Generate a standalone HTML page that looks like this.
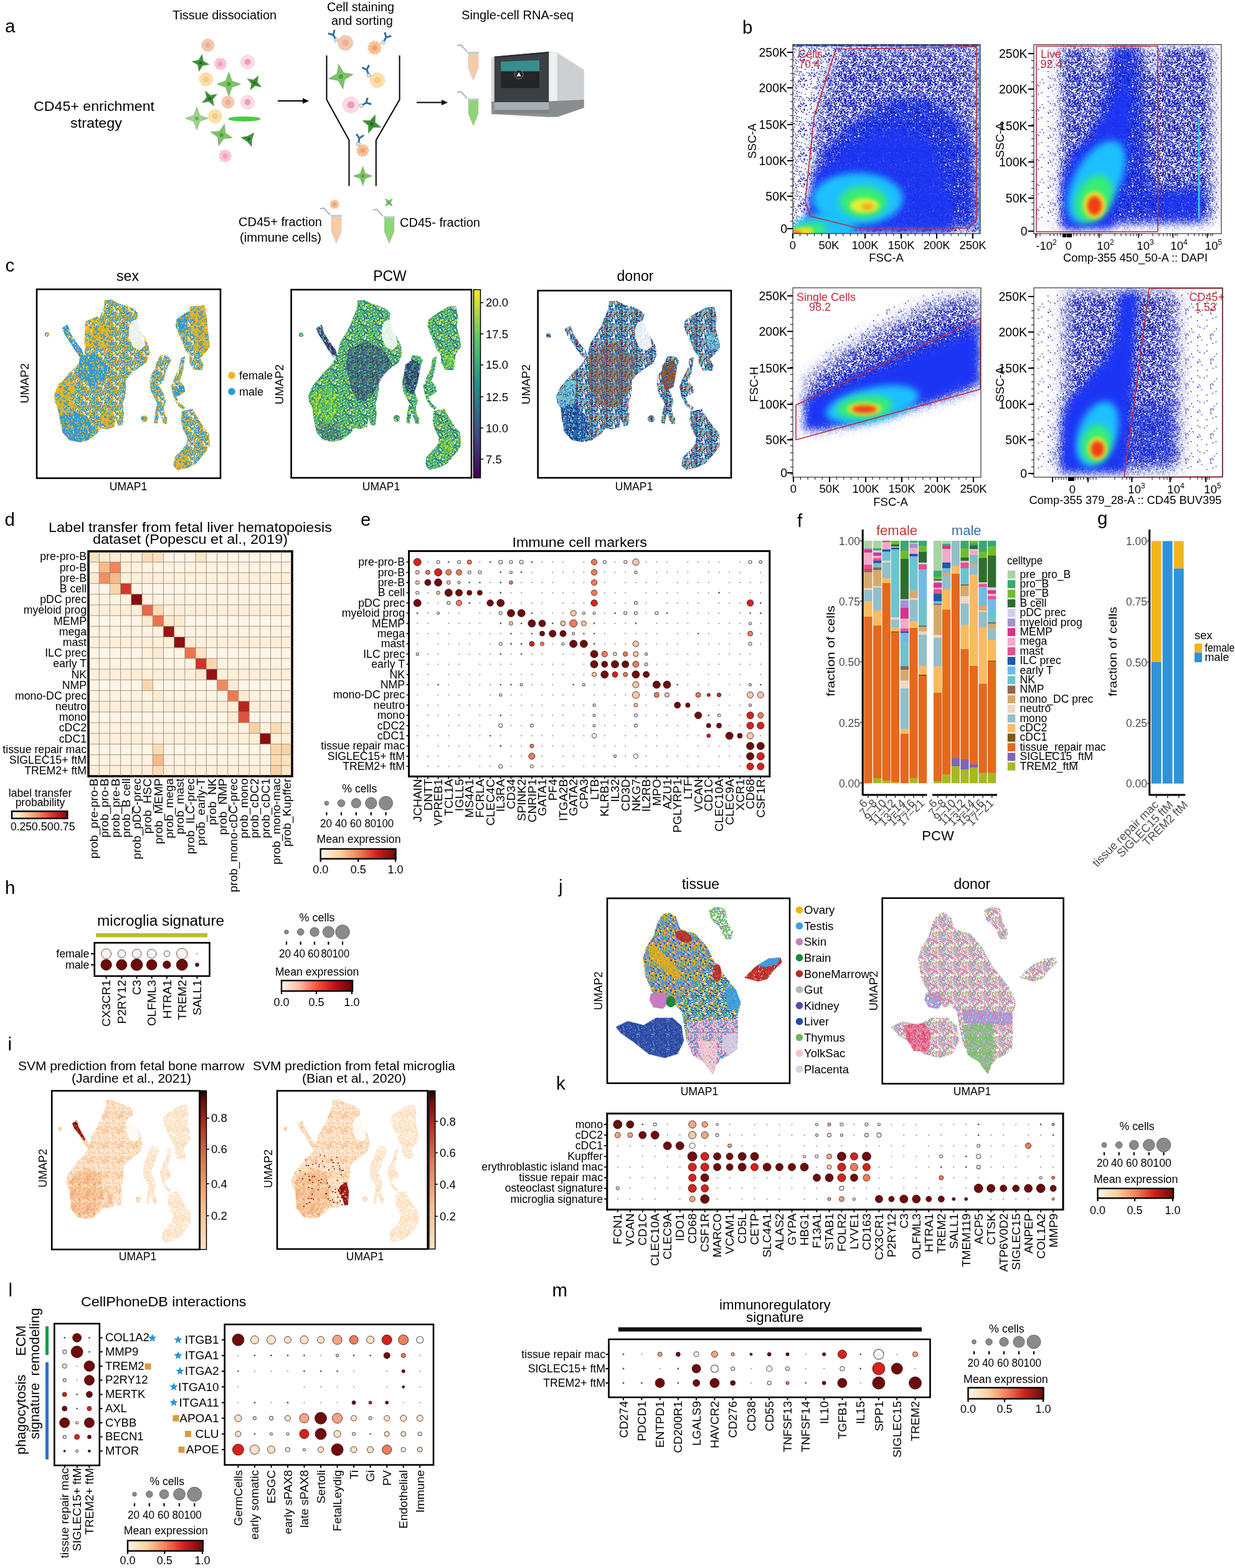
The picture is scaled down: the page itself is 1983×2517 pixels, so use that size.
<!DOCTYPE html>
<html><head><meta charset="utf-8"><title>Figure</title>
<style>html,body{margin:0;padding:0;background:#fff;} svg{display:block;}</style></head>
<body><svg width="1983" height="2517" viewBox="0 0 1983 2517" font-family="'Liberation Sans', Arial, Helvetica, sans-serif">
<defs><linearGradient id="gOrRd" x1="0" y1="0" x2="1" y2="0"><stop offset="0" stop-color="#fff7ec"/><stop offset="0.25" stop-color="#fdd49e"/><stop offset="0.5" stop-color="#f4875a"/><stop offset="0.75" stop-color="#d42b1e"/><stop offset="1.0" stop-color="#6e0a0a"/></linearGradient><linearGradient id="gReds" x1="0" y1="0" x2="1" y2="0"><stop offset="0" stop-color="#fff5f0"/><stop offset="0.3" stop-color="#fcb09a"/><stop offset="0.6" stop-color="#ef4a36"/><stop offset="0.85" stop-color="#b11217"/><stop offset="1.0" stop-color="#5e0a0a"/></linearGradient><pattern id="sp0" width="40" height="40" patternUnits="userSpaceOnUse"><path d="M13.0 6.0h1.5v1.5h-1.5zM2.9 21.4h1.5v1.5h-1.5zM2.3 20.3h1.5v1.5h-1.5zM17.3 2.8h1.5v1.5h-1.5zM17.0 33.1h1.5v1.5h-1.5zM1.9 34.3h1.5v1.5h-1.5zM5.8 4.7h1.5v1.5h-1.5zM32.6 7.2h1.5v1.5h-1.5zM25.6 14.9h1.5v1.5h-1.5zM2.5 2.4h1.5v1.5h-1.5zM27.2 17.1h1.5v1.5h-1.5zM23.4 18.1h1.5v1.5h-1.5zM31.8 28.0h1.5v1.5h-1.5zM6.1 19.6h1.5v1.5h-1.5zM26.7 30.6h1.5v1.5h-1.5zM35.0 12.5h1.5v1.5h-1.5zM23.8 23.2h1.5v1.5h-1.5z" fill="#10108c"/><path d="M8.9 25.1h1.5v1.5h-1.5zM23.1 15.9h1.5v1.5h-1.5zM23.0 21.0h1.5v1.5h-1.5zM29.2 11.5h1.5v1.5h-1.5zM4.7 16.7h1.5v1.5h-1.5z" fill="#1a2ad0"/></pattern><pattern id="sp1" width="40" height="40" patternUnits="userSpaceOnUse"><path d="M33.6 37.8h1.5v1.5h-1.5zM11.4 15.4h1.5v1.5h-1.5zM0.9 18.5h1.5v1.5h-1.5zM5.2 9.9h1.5v1.5h-1.5zM34.9 3.2h1.5v1.5h-1.5zM34.6 11.1h1.5v1.5h-1.5zM6.0 7.0h1.5v1.5h-1.5zM9.3 19.4h1.5v1.5h-1.5zM10.5 0.2h1.5v1.5h-1.5zM27.6 20.6h1.5v1.5h-1.5zM15.7 16.0h1.5v1.5h-1.5zM25.4 2.5h1.5v1.5h-1.5zM8.4 6.5h1.5v1.5h-1.5zM2.1 0.0h1.5v1.5h-1.5zM4.1 14.5h1.5v1.5h-1.5zM35.0 24.6h1.5v1.5h-1.5zM10.1 13.9h1.5v1.5h-1.5zM18.6 19.4h1.5v1.5h-1.5zM4.1 13.7h1.5v1.5h-1.5zM33.2 6.5h1.5v1.5h-1.5zM38.0 21.1h1.5v1.5h-1.5zM21.7 1.1h1.5v1.5h-1.5zM39.1 34.5h1.5v1.5h-1.5zM-0.9 34.5h1.5v1.5h-1.5zM10.4 14.7h1.5v1.5h-1.5zM32.7 29.6h1.5v1.5h-1.5zM20.7 14.2h1.5v1.5h-1.5zM1.1 11.2h1.5v1.5h-1.5zM27.7 38.3h1.5v1.5h-1.5zM14.6 8.8h1.5v1.5h-1.5zM7.9 8.2h1.5v1.5h-1.5zM36.0 33.6h1.5v1.5h-1.5zM26.1 32.0h1.5v1.5h-1.5zM30.0 19.1h1.5v1.5h-1.5zM38.9 15.8h1.5v1.5h-1.5zM-1.1 15.8h1.5v1.5h-1.5zM37.9 29.0h1.5v1.5h-1.5zM39.2 26.3h1.5v1.5h-1.5zM-0.8 26.3h1.5v1.5h-1.5zM21.9 5.2h1.5v1.5h-1.5zM38.8 26.0h1.5v1.5h-1.5zM-1.2 26.0h1.5v1.5h-1.5zM33.0 8.4h1.5v1.5h-1.5zM11.7 9.6h1.5v1.5h-1.5zM10.4 16.8h1.5v1.5h-1.5zM36.4 14.2h1.5v1.5h-1.5zM23.3 36.2h1.5v1.5h-1.5zM36.7 20.1h1.5v1.5h-1.5zM20.9 0.7h1.5v1.5h-1.5zM22.3 13.0h1.5v1.5h-1.5zM22.2 31.4h1.5v1.5h-1.5zM22.4 9.9h1.5v1.5h-1.5zM30.9 20.3h1.5v1.5h-1.5zM30.4 36.5h1.5v1.5h-1.5zM24.5 20.2h1.5v1.5h-1.5zM27.7 18.1h1.5v1.5h-1.5zM19.1 37.7h1.5v1.5h-1.5zM35.1 37.7h1.5v1.5h-1.5zM5.5 4.9h1.5v1.5h-1.5zM2.9 9.6h1.5v1.5h-1.5zM6.2 28.6h1.5v1.5h-1.5zM8.8 38.1h1.5v1.5h-1.5zM6.5 17.3h1.5v1.5h-1.5zM13.6 7.8h1.5v1.5h-1.5zM28.9 0.8h1.5v1.5h-1.5zM17.6 0.7h1.5v1.5h-1.5zM25.0 20.5h1.5v1.5h-1.5zM4.2 10.6h1.5v1.5h-1.5zM31.2 10.8h1.5v1.5h-1.5zM22.8 28.0h1.5v1.5h-1.5zM2.3 27.5h1.5v1.5h-1.5zM2.9 37.5h1.5v1.5h-1.5zM2.7 34.5h1.5v1.5h-1.5zM10.7 5.2h1.5v1.5h-1.5zM9.5 4.4h1.5v1.5h-1.5zM2.0 8.1h1.5v1.5h-1.5zM12.2 30.4h1.5v1.5h-1.5zM20.0 7.1h1.5v1.5h-1.5zM0.7 10.0h1.5v1.5h-1.5zM29.3 22.0h1.5v1.5h-1.5zM19.0 37.4h1.5v1.5h-1.5zM32.8 17.3h1.5v1.5h-1.5zM33.4 15.7h1.5v1.5h-1.5zM27.5 39.3h1.5v1.5h-1.5zM27.5 -0.7h1.5v1.5h-1.5zM33.3 28.3h1.5v1.5h-1.5z" fill="#10108c"/><path d="M26.6 2.4h1.5v1.5h-1.5zM25.9 39.7h1.5v1.5h-1.5zM25.9 -0.3h1.5v1.5h-1.5zM4.7 2.4h1.5v1.5h-1.5zM22.0 35.3h1.5v1.5h-1.5zM14.4 35.4h1.5v1.5h-1.5zM14.8 22.7h1.5v1.5h-1.5zM27.0 2.2h1.5v1.5h-1.5zM31.2 35.0h1.5v1.5h-1.5zM4.9 34.0h1.5v1.5h-1.5zM30.9 21.3h1.5v1.5h-1.5zM13.2 8.9h1.5v1.5h-1.5zM39.4 34.1h1.5v1.5h-1.5zM-0.6 34.1h1.5v1.5h-1.5zM37.5 39.5h1.5v1.5h-1.5zM37.5 -0.5h1.5v1.5h-1.5zM26.4 36.4h1.5v1.5h-1.5zM31.6 13.3h1.5v1.5h-1.5zM5.1 6.0h1.5v1.5h-1.5zM32.3 5.8h1.5v1.5h-1.5zM37.3 17.4h1.5v1.5h-1.5zM7.3 0.2h1.5v1.5h-1.5zM6.9 18.9h1.5v1.5h-1.5zM22.4 37.7h1.5v1.5h-1.5zM26.8 31.4h1.5v1.5h-1.5zM5.7 35.3h1.5v1.5h-1.5zM19.5 39.6h1.5v1.5h-1.5zM19.5 -0.4h1.5v1.5h-1.5zM39.4 31.5h1.5v1.5h-1.5zM-0.6 31.5h1.5v1.5h-1.5zM16.9 36.5h1.5v1.5h-1.5zM10.3 6.0h1.5v1.5h-1.5zM32.1 3.3h1.5v1.5h-1.5zM13.6 22.1h1.5v1.5h-1.5z" fill="#1a2ad0"/></pattern><pattern id="sp2" width="40" height="40" patternUnits="userSpaceOnUse"><path d="M16.2 13.9h1.6v1.6h-1.6zM10.2 6.5h1.6v1.6h-1.6zM33.7 34.8h1.6v1.6h-1.6zM11.3 9.7h1.6v1.6h-1.6zM18.4 6.3h1.6v1.6h-1.6zM12.4 14.3h1.6v1.6h-1.6zM15.3 19.0h1.6v1.6h-1.6zM8.0 20.2h1.6v1.6h-1.6zM10.6 3.6h1.6v1.6h-1.6zM1.7 0.9h1.6v1.6h-1.6zM9.3 23.4h1.6v1.6h-1.6zM35.2 15.6h1.6v1.6h-1.6zM32.5 5.6h1.6v1.6h-1.6zM27.3 27.7h1.6v1.6h-1.6zM1.2 5.3h1.6v1.6h-1.6zM4.2 33.4h1.6v1.6h-1.6zM25.1 25.0h1.6v1.6h-1.6zM29.9 20.1h1.6v1.6h-1.6zM10.1 3.0h1.6v1.6h-1.6zM39.0 19.8h1.6v1.6h-1.6zM-1.0 19.8h1.6v1.6h-1.6zM24.7 25.7h1.6v1.6h-1.6zM12.2 22.7h1.6v1.6h-1.6zM2.4 10.8h1.6v1.6h-1.6zM27.7 27.0h1.6v1.6h-1.6zM20.7 18.6h1.6v1.6h-1.6zM4.7 35.7h1.6v1.6h-1.6zM39.1 37.5h1.6v1.6h-1.6zM-0.9 37.5h1.6v1.6h-1.6zM18.0 10.7h1.6v1.6h-1.6zM37.8 8.4h1.6v1.6h-1.6zM5.3 32.8h1.6v1.6h-1.6zM35.5 28.1h1.6v1.6h-1.6zM35.9 19.4h1.6v1.6h-1.6zM0.1 19.7h1.6v1.6h-1.6zM12.1 5.6h1.6v1.6h-1.6zM12.6 33.6h1.6v1.6h-1.6zM30.0 33.6h1.6v1.6h-1.6zM11.6 14.9h1.6v1.6h-1.6zM40.0 23.6h1.6v1.6h-1.6zM-0.0 23.6h1.6v1.6h-1.6zM17.1 11.0h1.6v1.6h-1.6zM4.1 33.4h1.6v1.6h-1.6zM37.4 10.0h1.6v1.6h-1.6zM20.4 7.6h1.6v1.6h-1.6zM22.0 28.8h1.6v1.6h-1.6zM25.8 11.4h1.6v1.6h-1.6zM37.1 5.1h1.6v1.6h-1.6zM39.1 10.4h1.6v1.6h-1.6zM-0.9 10.4h1.6v1.6h-1.6zM12.0 22.3h1.6v1.6h-1.6zM6.7 6.5h1.6v1.6h-1.6zM36.2 19.9h1.6v1.6h-1.6zM36.3 39.9h1.6v1.6h-1.6zM36.3 -0.1h1.6v1.6h-1.6zM5.6 7.7h1.6v1.6h-1.6zM13.7 3.6h1.6v1.6h-1.6zM30.0 16.5h1.6v1.6h-1.6zM21.0 15.1h1.6v1.6h-1.6zM5.0 20.1h1.6v1.6h-1.6zM34.5 8.6h1.6v1.6h-1.6zM9.9 16.0h1.6v1.6h-1.6zM35.8 18.9h1.6v1.6h-1.6zM9.9 4.4h1.6v1.6h-1.6zM18.3 22.1h1.6v1.6h-1.6zM25.8 12.2h1.6v1.6h-1.6zM10.1 25.5h1.6v1.6h-1.6zM4.5 2.8h1.6v1.6h-1.6zM23.3 15.5h1.6v1.6h-1.6zM24.0 0.4h1.6v1.6h-1.6zM18.4 38.4h1.6v1.6h-1.6zM35.4 19.0h1.6v1.6h-1.6zM12.3 0.9h1.6v1.6h-1.6zM27.0 16.8h1.6v1.6h-1.6zM26.7 37.0h1.6v1.6h-1.6zM1.4 13.5h1.6v1.6h-1.6zM29.6 20.2h1.6v1.6h-1.6zM11.8 38.1h1.6v1.6h-1.6zM7.5 8.9h1.6v1.6h-1.6zM26.6 38.0h1.6v1.6h-1.6zM5.7 2.1h1.6v1.6h-1.6zM29.9 1.3h1.6v1.6h-1.6zM15.1 15.0h1.6v1.6h-1.6zM6.8 0.1h1.6v1.6h-1.6zM14.1 38.2h1.6v1.6h-1.6zM38.6 8.3h1.6v1.6h-1.6zM-1.4 8.3h1.6v1.6h-1.6zM32.9 32.9h1.6v1.6h-1.6zM2.0 18.9h1.6v1.6h-1.6zM36.8 7.7h1.6v1.6h-1.6zM35.9 1.2h1.6v1.6h-1.6zM32.5 30.7h1.6v1.6h-1.6zM12.7 11.0h1.6v1.6h-1.6zM30.2 36.7h1.6v1.6h-1.6zM37.7 1.0h1.6v1.6h-1.6zM15.5 10.0h1.6v1.6h-1.6zM19.7 37.1h1.6v1.6h-1.6zM30.9 24.3h1.6v1.6h-1.6zM9.9 2.6h1.6v1.6h-1.6zM35.3 39.5h1.6v1.6h-1.6zM35.3 -0.5h1.6v1.6h-1.6zM3.4 3.9h1.6v1.6h-1.6zM28.4 17.9h1.6v1.6h-1.6zM16.7 24.8h1.6v1.6h-1.6zM29.9 33.9h1.6v1.6h-1.6zM4.8 33.6h1.6v1.6h-1.6zM8.0 9.9h1.6v1.6h-1.6zM6.1 35.4h1.6v1.6h-1.6zM26.1 39.6h1.6v1.6h-1.6zM26.1 -0.4h1.6v1.6h-1.6zM36.6 1.6h1.6v1.6h-1.6zM23.3 37.2h1.6v1.6h-1.6zM34.6 18.0h1.6v1.6h-1.6zM31.1 37.8h1.6v1.6h-1.6zM23.8 24.8h1.6v1.6h-1.6zM14.7 5.7h1.6v1.6h-1.6zM10.2 24.0h1.6v1.6h-1.6zM8.1 0.5h1.6v1.6h-1.6zM27.1 7.4h1.6v1.6h-1.6zM8.1 31.8h1.6v1.6h-1.6zM2.5 4.1h1.6v1.6h-1.6zM22.0 25.6h1.6v1.6h-1.6zM6.5 27.8h1.6v1.6h-1.6zM12.5 22.7h1.6v1.6h-1.6zM17.0 32.8h1.6v1.6h-1.6zM35.3 18.4h1.6v1.6h-1.6zM0.6 22.1h1.6v1.6h-1.6zM36.4 3.6h1.6v1.6h-1.6zM14.8 20.2h1.6v1.6h-1.6zM38.7 7.9h1.6v1.6h-1.6zM-1.3 7.9h1.6v1.6h-1.6zM37.7 39.0h1.6v1.6h-1.6zM37.7 -1.0h1.6v1.6h-1.6zM2.1 37.0h1.6v1.6h-1.6zM6.4 31.4h1.6v1.6h-1.6zM7.3 8.7h1.6v1.6h-1.6zM20.7 15.3h1.6v1.6h-1.6zM1.5 33.5h1.6v1.6h-1.6zM24.0 22.0h1.6v1.6h-1.6zM12.2 16.8h1.6v1.6h-1.6zM17.0 26.4h1.6v1.6h-1.6zM17.5 0.9h1.6v1.6h-1.6zM31.2 18.3h1.6v1.6h-1.6zM18.9 4.3h1.6v1.6h-1.6zM17.2 3.7h1.6v1.6h-1.6zM20.4 1.6h1.6v1.6h-1.6zM20.5 2.2h1.6v1.6h-1.6zM15.1 38.0h1.6v1.6h-1.6zM6.4 35.9h1.6v1.6h-1.6zM32.6 5.7h1.6v1.6h-1.6zM36.8 8.3h1.6v1.6h-1.6zM20.2 12.8h1.6v1.6h-1.6zM27.2 35.8h1.6v1.6h-1.6zM31.4 4.6h1.6v1.6h-1.6zM4.2 39.7h1.6v1.6h-1.6zM4.2 -0.3h1.6v1.6h-1.6zM15.8 31.9h1.6v1.6h-1.6zM39.6 23.1h1.6v1.6h-1.6zM-0.4 23.1h1.6v1.6h-1.6zM30.6 17.7h1.6v1.6h-1.6zM23.4 26.5h1.6v1.6h-1.6zM0.1 1.4h1.6v1.6h-1.6zM24.6 17.3h1.6v1.6h-1.6zM35.8 5.3h1.6v1.6h-1.6zM26.1 0.9h1.6v1.6h-1.6zM14.2 4.3h1.6v1.6h-1.6zM9.0 23.3h1.6v1.6h-1.6zM8.2 25.0h1.6v1.6h-1.6zM5.4 37.5h1.6v1.6h-1.6zM6.0 3.8h1.6v1.6h-1.6zM34.9 31.3h1.6v1.6h-1.6zM10.6 0.5h1.6v1.6h-1.6zM22.5 14.0h1.6v1.6h-1.6zM9.9 36.1h1.6v1.6h-1.6zM21.3 16.2h1.6v1.6h-1.6zM2.3 31.2h1.6v1.6h-1.6zM22.0 37.6h1.6v1.6h-1.6zM8.0 24.3h1.6v1.6h-1.6zM25.7 32.5h1.6v1.6h-1.6zM12.4 12.0h1.6v1.6h-1.6zM18.6 29.7h1.6v1.6h-1.6zM9.0 4.2h1.6v1.6h-1.6zM10.6 22.2h1.6v1.6h-1.6zM31.5 20.9h1.6v1.6h-1.6zM25.7 38.6h1.6v1.6h-1.6zM25.7 -1.4h1.6v1.6h-1.6zM35.2 0.6h1.6v1.6h-1.6zM25.2 27.7h1.6v1.6h-1.6zM27.9 34.3h1.6v1.6h-1.6zM29.0 22.8h1.6v1.6h-1.6zM8.5 24.9h1.6v1.6h-1.6zM36.4 5.8h1.6v1.6h-1.6zM4.3 37.2h1.6v1.6h-1.6zM5.7 1.1h1.6v1.6h-1.6zM27.7 25.4h1.6v1.6h-1.6zM29.5 2.6h1.6v1.6h-1.6zM36.6 37.8h1.6v1.6h-1.6zM8.2 4.5h1.6v1.6h-1.6zM33.9 32.5h1.6v1.6h-1.6zM33.0 25.3h1.6v1.6h-1.6zM8.2 12.8h1.6v1.6h-1.6zM0.8 10.3h1.6v1.6h-1.6zM28.6 14.7h1.6v1.6h-1.6zM24.7 1.2h1.6v1.6h-1.6zM17.5 30.9h1.6v1.6h-1.6zM28.2 21.5h1.6v1.6h-1.6zM6.8 0.1h1.6v1.6h-1.6zM30.5 39.1h1.6v1.6h-1.6zM30.5 -0.9h1.6v1.6h-1.6zM7.4 19.8h1.6v1.6h-1.6zM11.3 8.6h1.6v1.6h-1.6zM19.9 4.4h1.6v1.6h-1.6zM3.2 31.5h1.6v1.6h-1.6zM31.5 25.1h1.6v1.6h-1.6zM3.4 35.5h1.6v1.6h-1.6zM9.3 18.4h1.6v1.6h-1.6zM30.2 30.1h1.6v1.6h-1.6zM13.9 13.1h1.6v1.6h-1.6zM23.2 5.0h1.6v1.6h-1.6zM35.4 9.5h1.6v1.6h-1.6zM6.2 6.2h1.6v1.6h-1.6zM13.1 20.9h1.6v1.6h-1.6zM31.8 29.3h1.6v1.6h-1.6zM7.8 25.5h1.6v1.6h-1.6zM8.3 15.5h1.6v1.6h-1.6zM16.0 31.6h1.6v1.6h-1.6zM20.0 25.3h1.6v1.6h-1.6zM5.7 24.1h1.6v1.6h-1.6zM29.6 36.3h1.6v1.6h-1.6zM23.0 30.0h1.6v1.6h-1.6zM27.2 25.7h1.6v1.6h-1.6zM12.5 25.1h1.6v1.6h-1.6zM25.2 10.0h1.6v1.6h-1.6zM18.2 24.9h1.6v1.6h-1.6zM27.0 37.2h1.6v1.6h-1.6zM26.2 31.1h1.6v1.6h-1.6zM19.6 39.0h1.6v1.6h-1.6zM19.6 -1.0h1.6v1.6h-1.6zM37.6 20.8h1.6v1.6h-1.6zM8.4 27.4h1.6v1.6h-1.6zM14.2 2.3h1.6v1.6h-1.6zM16.0 0.5h1.6v1.6h-1.6zM16.8 27.9h1.6v1.6h-1.6zM37.6 21.1h1.6v1.6h-1.6zM32.1 15.7h1.6v1.6h-1.6zM25.4 18.8h1.6v1.6h-1.6zM9.0 38.6h1.6v1.6h-1.6zM9.0 -1.4h1.6v1.6h-1.6zM18.7 11.8h1.6v1.6h-1.6zM5.0 33.3h1.6v1.6h-1.6zM34.0 10.7h1.6v1.6h-1.6zM10.1 17.0h1.6v1.6h-1.6zM0.1 28.9h1.6v1.6h-1.6zM9.8 12.1h1.6v1.6h-1.6zM17.1 25.5h1.6v1.6h-1.6zM25.3 0.6h1.6v1.6h-1.6zM38.1 26.2h1.6v1.6h-1.6zM4.1 5.7h1.6v1.6h-1.6zM31.1 13.9h1.6v1.6h-1.6zM36.2 31.7h1.6v1.6h-1.6zM33.6 7.9h1.6v1.6h-1.6zM21.2 29.7h1.6v1.6h-1.6zM35.3 22.2h1.6v1.6h-1.6zM9.4 5.6h1.6v1.6h-1.6zM2.3 18.7h1.6v1.6h-1.6zM19.7 19.9h1.6v1.6h-1.6zM18.7 22.5h1.6v1.6h-1.6zM33.6 15.0h1.6v1.6h-1.6zM38.4 3.0h1.6v1.6h-1.6zM-1.6 3.0h1.6v1.6h-1.6zM25.4 1.1h1.6v1.6h-1.6zM27.3 37.3h1.6v1.6h-1.6zM39.3 20.4h1.6v1.6h-1.6zM-0.7 20.4h1.6v1.6h-1.6zM14.6 19.0h1.6v1.6h-1.6zM30.8 8.4h1.6v1.6h-1.6zM11.7 33.1h1.6v1.6h-1.6zM20.1 10.9h1.6v1.6h-1.6zM13.2 12.7h1.6v1.6h-1.6zM21.8 2.0h1.6v1.6h-1.6zM36.4 24.5h1.6v1.6h-1.6zM25.1 27.9h1.6v1.6h-1.6zM27.2 8.5h1.6v1.6h-1.6zM18.3 30.5h1.6v1.6h-1.6zM36.6 26.2h1.6v1.6h-1.6zM32.9 31.5h1.6v1.6h-1.6zM10.3 12.1h1.6v1.6h-1.6zM12.7 17.2h1.6v1.6h-1.6zM37.4 2.2h1.6v1.6h-1.6zM23.0 36.7h1.6v1.6h-1.6zM0.6 15.5h1.6v1.6h-1.6zM37.5 39.2h1.6v1.6h-1.6zM37.5 -0.8h1.6v1.6h-1.6zM16.5 4.1h1.6v1.6h-1.6zM8.5 6.1h1.6v1.6h-1.6zM0.2 27.4h1.6v1.6h-1.6zM9.7 29.3h1.6v1.6h-1.6zM34.2 29.2h1.6v1.6h-1.6zM25.1 28.4h1.6v1.6h-1.6zM28.7 0.5h1.6v1.6h-1.6zM26.0 32.7h1.6v1.6h-1.6zM12.4 29.2h1.6v1.6h-1.6zM34.4 19.5h1.6v1.6h-1.6zM14.7 23.0h1.6v1.6h-1.6zM14.5 25.8h1.6v1.6h-1.6zM37.8 31.4h1.6v1.6h-1.6z" fill="#10109a"/><path d="M5.2 2.8h1.6v1.6h-1.6zM10.5 38.5h1.6v1.6h-1.6zM10.5 -1.5h1.6v1.6h-1.6zM21.9 9.8h1.6v1.6h-1.6zM30.0 26.3h1.6v1.6h-1.6zM39.4 6.0h1.6v1.6h-1.6zM-0.6 6.0h1.6v1.6h-1.6zM25.7 1.8h1.6v1.6h-1.6zM35.7 25.1h1.6v1.6h-1.6zM20.2 33.4h1.6v1.6h-1.6zM33.1 23.4h1.6v1.6h-1.6zM19.6 0.1h1.6v1.6h-1.6zM26.4 2.6h1.6v1.6h-1.6zM29.2 8.2h1.6v1.6h-1.6zM19.2 27.3h1.6v1.6h-1.6zM5.9 10.2h1.6v1.6h-1.6zM18.4 32.8h1.6v1.6h-1.6zM5.7 21.0h1.6v1.6h-1.6zM37.1 28.5h1.6v1.6h-1.6zM38.2 35.4h1.6v1.6h-1.6zM25.2 36.5h1.6v1.6h-1.6zM29.3 18.0h1.6v1.6h-1.6zM13.7 11.9h1.6v1.6h-1.6zM10.3 22.8h1.6v1.6h-1.6zM2.5 11.1h1.6v1.6h-1.6zM38.2 33.9h1.6v1.6h-1.6zM0.9 1.3h1.6v1.6h-1.6zM0.0 15.7h1.6v1.6h-1.6zM33.0 34.2h1.6v1.6h-1.6zM20.9 27.3h1.6v1.6h-1.6zM28.9 25.9h1.6v1.6h-1.6zM31.3 9.3h1.6v1.6h-1.6zM9.9 38.4h1.6v1.6h-1.6zM9.9 -1.6h1.6v1.6h-1.6zM27.3 7.9h1.6v1.6h-1.6zM38.8 12.5h1.6v1.6h-1.6zM-1.2 12.5h1.6v1.6h-1.6zM9.2 8.9h1.6v1.6h-1.6zM15.7 8.5h1.6v1.6h-1.6zM15.7 35.9h1.6v1.6h-1.6zM29.3 39.9h1.6v1.6h-1.6zM29.3 -0.1h1.6v1.6h-1.6zM13.2 7.4h1.6v1.6h-1.6zM1.4 2.5h1.6v1.6h-1.6zM10.3 29.9h1.6v1.6h-1.6zM13.6 10.9h1.6v1.6h-1.6zM24.7 10.5h1.6v1.6h-1.6zM19.0 38.3h1.6v1.6h-1.6zM32.1 29.5h1.6v1.6h-1.6zM12.8 14.5h1.6v1.6h-1.6zM3.2 7.9h1.6v1.6h-1.6zM22.1 13.0h1.6v1.6h-1.6zM22.7 14.9h1.6v1.6h-1.6zM13.1 15.8h1.6v1.6h-1.6zM20.3 9.3h1.6v1.6h-1.6zM19.0 32.8h1.6v1.6h-1.6zM4.8 7.6h1.6v1.6h-1.6zM11.3 12.3h1.6v1.6h-1.6zM16.7 34.6h1.6v1.6h-1.6zM14.6 7.9h1.6v1.6h-1.6zM8.1 0.2h1.6v1.6h-1.6zM11.3 20.8h1.6v1.6h-1.6zM4.4 19.6h1.6v1.6h-1.6zM36.2 24.8h1.6v1.6h-1.6zM16.2 33.9h1.6v1.6h-1.6zM9.9 29.0h1.6v1.6h-1.6zM1.6 22.5h1.6v1.6h-1.6zM19.6 9.4h1.6v1.6h-1.6zM3.3 29.3h1.6v1.6h-1.6zM34.3 39.8h1.6v1.6h-1.6zM34.3 -0.2h1.6v1.6h-1.6zM32.6 7.7h1.6v1.6h-1.6zM19.7 38.3h1.6v1.6h-1.6zM6.6 31.5h1.6v1.6h-1.6zM2.6 14.0h1.6v1.6h-1.6zM7.3 6.4h1.6v1.6h-1.6zM25.5 14.4h1.6v1.6h-1.6zM22.2 23.2h1.6v1.6h-1.6zM29.7 1.9h1.6v1.6h-1.6zM10.1 25.6h1.6v1.6h-1.6zM17.8 37.5h1.6v1.6h-1.6zM35.6 31.3h1.6v1.6h-1.6zM0.3 33.8h1.6v1.6h-1.6zM1.6 13.4h1.6v1.6h-1.6zM27.8 33.8h1.6v1.6h-1.6zM9.4 29.8h1.6v1.6h-1.6zM29.8 13.1h1.6v1.6h-1.6zM13.1 9.6h1.6v1.6h-1.6zM39.2 18.8h1.6v1.6h-1.6zM-0.8 18.8h1.6v1.6h-1.6zM14.5 32.7h1.6v1.6h-1.6zM35.7 2.6h1.6v1.6h-1.6zM4.0 3.9h1.6v1.6h-1.6zM38.6 20.1h1.6v1.6h-1.6zM-1.4 20.1h1.6v1.6h-1.6zM34.5 3.6h1.6v1.6h-1.6zM19.6 19.7h1.6v1.6h-1.6zM33.3 10.4h1.6v1.6h-1.6zM16.1 15.8h1.6v1.6h-1.6zM8.2 10.5h1.6v1.6h-1.6zM20.0 15.2h1.6v1.6h-1.6zM33.7 26.5h1.6v1.6h-1.6zM6.8 17.6h1.6v1.6h-1.6zM12.1 28.1h1.6v1.6h-1.6zM13.1 7.6h1.6v1.6h-1.6zM29.1 4.1h1.6v1.6h-1.6zM4.1 15.4h1.6v1.6h-1.6zM9.1 28.9h1.6v1.6h-1.6zM31.0 28.0h1.6v1.6h-1.6zM16.8 31.3h1.6v1.6h-1.6zM21.7 6.4h1.6v1.6h-1.6zM23.0 21.6h1.6v1.6h-1.6zM20.5 25.6h1.6v1.6h-1.6zM20.9 16.4h1.6v1.6h-1.6zM30.5 4.9h1.6v1.6h-1.6zM10.6 9.0h1.6v1.6h-1.6zM5.2 31.1h1.6v1.6h-1.6zM25.6 32.7h1.6v1.6h-1.6zM14.5 37.1h1.6v1.6h-1.6zM2.3 33.1h1.6v1.6h-1.6zM31.4 5.6h1.6v1.6h-1.6zM35.6 24.3h1.6v1.6h-1.6zM26.7 35.8h1.6v1.6h-1.6zM34.5 0.3h1.6v1.6h-1.6zM35.9 1.4h1.6v1.6h-1.6zM25.0 13.5h1.6v1.6h-1.6zM16.9 22.2h1.6v1.6h-1.6zM39.0 26.2h1.6v1.6h-1.6zM-1.0 26.2h1.6v1.6h-1.6zM23.5 25.4h1.6v1.6h-1.6zM1.6 28.9h1.6v1.6h-1.6zM0.2 7.6h1.6v1.6h-1.6zM24.3 26.3h1.6v1.6h-1.6zM7.3 1.5h1.6v1.6h-1.6zM1.6 4.8h1.6v1.6h-1.6zM38.7 3.5h1.6v1.6h-1.6zM-1.3 3.5h1.6v1.6h-1.6zM5.2 0.7h1.6v1.6h-1.6zM2.0 31.0h1.6v1.6h-1.6zM37.3 10.2h1.6v1.6h-1.6zM27.1 5.8h1.6v1.6h-1.6zM16.7 15.4h1.6v1.6h-1.6zM11.7 2.4h1.6v1.6h-1.6z" fill="#1a30e0"/></pattern><pattern id="sp3" width="40" height="40" patternUnits="userSpaceOnUse"><path d="M28.1 33.1h1.7v1.7h-1.7zM24.0 12.3h1.7v1.7h-1.7zM35.5 15.1h1.7v1.7h-1.7zM11.3 0.1h1.7v1.7h-1.7zM32.5 34.7h1.7v1.7h-1.7zM27.4 36.5h1.7v1.7h-1.7zM9.4 24.3h1.7v1.7h-1.7zM18.6 8.3h1.7v1.7h-1.7zM30.0 31.7h1.7v1.7h-1.7zM35.4 20.9h1.7v1.7h-1.7zM23.6 7.6h1.7v1.7h-1.7zM7.2 28.0h1.7v1.7h-1.7zM22.6 16.1h1.7v1.7h-1.7zM15.0 4.2h1.7v1.7h-1.7zM31.5 6.2h1.7v1.7h-1.7zM13.8 20.8h1.7v1.7h-1.7zM19.5 22.7h1.7v1.7h-1.7zM10.2 1.5h1.7v1.7h-1.7zM7.2 3.3h1.7v1.7h-1.7zM22.3 34.8h1.7v1.7h-1.7zM37.9 36.4h1.7v1.7h-1.7zM23.9 15.9h1.7v1.7h-1.7zM38.4 10.3h1.7v1.7h-1.7zM-1.6 10.3h1.7v1.7h-1.7zM25.6 38.3h1.7v1.7h-1.7zM15.7 17.9h1.7v1.7h-1.7zM38.6 39.7h1.7v1.7h-1.7zM38.6 -0.3h1.7v1.7h-1.7zM-1.4 39.7h1.7v1.7h-1.7zM-1.4 -0.3h1.7v1.7h-1.7zM1.5 10.2h1.7v1.7h-1.7zM25.9 39.4h1.7v1.7h-1.7zM25.9 -0.6h1.7v1.7h-1.7zM27.1 12.0h1.7v1.7h-1.7zM30.3 4.2h1.7v1.7h-1.7zM10.3 5.0h1.7v1.7h-1.7zM6.7 9.5h1.7v1.7h-1.7zM35.5 5.6h1.7v1.7h-1.7zM25.1 18.1h1.7v1.7h-1.7zM32.9 19.1h1.7v1.7h-1.7zM5.7 8.9h1.7v1.7h-1.7zM28.5 22.1h1.7v1.7h-1.7zM34.8 10.7h1.7v1.7h-1.7zM13.4 6.7h1.7v1.7h-1.7zM12.7 36.1h1.7v1.7h-1.7zM26.7 8.4h1.7v1.7h-1.7zM11.4 10.3h1.7v1.7h-1.7zM37.0 3.9h1.7v1.7h-1.7zM11.7 39.1h1.7v1.7h-1.7zM11.7 -0.9h1.7v1.7h-1.7zM32.3 13.6h1.7v1.7h-1.7zM0.1 33.3h1.7v1.7h-1.7zM8.7 22.9h1.7v1.7h-1.7zM7.9 3.2h1.7v1.7h-1.7zM24.3 19.8h1.7v1.7h-1.7zM32.5 23.3h1.7v1.7h-1.7zM2.6 29.3h1.7v1.7h-1.7zM19.1 34.9h1.7v1.7h-1.7zM7.4 33.3h1.7v1.7h-1.7zM6.5 14.8h1.7v1.7h-1.7zM0.2 20.8h1.7v1.7h-1.7zM32.7 34.6h1.7v1.7h-1.7zM19.8 20.5h1.7v1.7h-1.7zM8.9 7.3h1.7v1.7h-1.7zM10.0 32.7h1.7v1.7h-1.7zM3.9 28.0h1.7v1.7h-1.7zM0.7 24.0h1.7v1.7h-1.7zM20.9 28.1h1.7v1.7h-1.7zM34.8 28.7h1.7v1.7h-1.7zM4.9 19.7h1.7v1.7h-1.7zM11.2 4.9h1.7v1.7h-1.7zM31.1 13.5h1.7v1.7h-1.7zM33.9 2.1h1.7v1.7h-1.7zM38.3 37.4h1.7v1.7h-1.7zM-1.7 37.4h1.7v1.7h-1.7zM16.9 25.3h1.7v1.7h-1.7zM21.2 2.8h1.7v1.7h-1.7zM20.2 0.8h1.7v1.7h-1.7zM35.4 1.4h1.7v1.7h-1.7zM10.6 27.1h1.7v1.7h-1.7zM21.7 37.0h1.7v1.7h-1.7zM10.0 20.8h1.7v1.7h-1.7zM38.0 11.5h1.7v1.7h-1.7zM25.9 4.8h1.7v1.7h-1.7zM38.2 20.6h1.7v1.7h-1.7zM18.7 21.4h1.7v1.7h-1.7zM5.0 5.3h1.7v1.7h-1.7zM16.3 11.5h1.7v1.7h-1.7zM24.4 22.8h1.7v1.7h-1.7zM8.0 28.4h1.7v1.7h-1.7zM21.9 24.5h1.7v1.7h-1.7zM12.4 9.7h1.7v1.7h-1.7zM20.5 15.3h1.7v1.7h-1.7zM9.5 22.3h1.7v1.7h-1.7zM11.4 39.5h1.7v1.7h-1.7zM11.4 -0.5h1.7v1.7h-1.7zM30.9 6.3h1.7v1.7h-1.7zM34.9 17.6h1.7v1.7h-1.7zM29.5 6.2h1.7v1.7h-1.7zM14.1 27.0h1.7v1.7h-1.7zM34.0 32.8h1.7v1.7h-1.7zM0.2 30.6h1.7v1.7h-1.7zM19.9 38.5h1.7v1.7h-1.7zM19.9 -1.5h1.7v1.7h-1.7zM24.3 15.2h1.7v1.7h-1.7zM18.3 28.9h1.7v1.7h-1.7zM15.6 22.2h1.7v1.7h-1.7zM20.0 17.8h1.7v1.7h-1.7zM12.2 5.8h1.7v1.7h-1.7zM38.4 8.2h1.7v1.7h-1.7zM-1.6 8.2h1.7v1.7h-1.7zM36.4 0.4h1.7v1.7h-1.7zM20.7 20.7h1.7v1.7h-1.7zM15.6 14.3h1.7v1.7h-1.7zM14.0 37.9h1.7v1.7h-1.7zM21.0 4.0h1.7v1.7h-1.7zM16.0 22.5h1.7v1.7h-1.7zM35.2 38.6h1.7v1.7h-1.7zM35.2 -1.4h1.7v1.7h-1.7zM33.0 20.5h1.7v1.7h-1.7zM39.6 35.5h1.7v1.7h-1.7zM-0.4 35.5h1.7v1.7h-1.7zM6.3 11.6h1.7v1.7h-1.7zM20.2 7.5h1.7v1.7h-1.7zM25.2 24.1h1.7v1.7h-1.7zM39.7 25.5h1.7v1.7h-1.7zM-0.3 25.5h1.7v1.7h-1.7zM16.5 31.5h1.7v1.7h-1.7zM27.6 0.2h1.7v1.7h-1.7zM33.7 23.4h1.7v1.7h-1.7zM7.9 19.9h1.7v1.7h-1.7zM10.6 25.9h1.7v1.7h-1.7zM39.9 23.0h1.7v1.7h-1.7zM-0.1 23.0h1.7v1.7h-1.7zM4.3 4.0h1.7v1.7h-1.7zM20.9 32.9h1.7v1.7h-1.7zM32.3 2.5h1.7v1.7h-1.7zM14.2 6.8h1.7v1.7h-1.7zM4.0 36.2h1.7v1.7h-1.7zM14.0 18.0h1.7v1.7h-1.7zM2.2 35.6h1.7v1.7h-1.7zM38.4 17.6h1.7v1.7h-1.7zM-1.6 17.6h1.7v1.7h-1.7zM32.6 12.1h1.7v1.7h-1.7zM19.4 31.7h1.7v1.7h-1.7zM6.9 14.3h1.7v1.7h-1.7zM38.9 11.6h1.7v1.7h-1.7zM-1.1 11.6h1.7v1.7h-1.7zM4.6 21.4h1.7v1.7h-1.7zM16.1 2.6h1.7v1.7h-1.7zM33.0 14.0h1.7v1.7h-1.7zM7.6 11.3h1.7v1.7h-1.7zM1.4 26.6h1.7v1.7h-1.7zM6.2 28.2h1.7v1.7h-1.7zM10.8 33.4h1.7v1.7h-1.7zM15.1 38.3h1.7v1.7h-1.7zM15.1 -1.7h1.7v1.7h-1.7zM38.0 20.2h1.7v1.7h-1.7zM10.4 36.0h1.7v1.7h-1.7zM14.7 9.9h1.7v1.7h-1.7zM8.5 34.9h1.7v1.7h-1.7zM20.5 21.7h1.7v1.7h-1.7zM30.9 15.4h1.7v1.7h-1.7zM22.7 12.4h1.7v1.7h-1.7zM12.8 26.5h1.7v1.7h-1.7zM22.5 14.5h1.7v1.7h-1.7zM11.9 2.6h1.7v1.7h-1.7zM5.3 11.1h1.7v1.7h-1.7zM27.2 26.5h1.7v1.7h-1.7zM16.5 26.4h1.7v1.7h-1.7zM9.9 33.9h1.7v1.7h-1.7zM25.2 7.3h1.7v1.7h-1.7zM1.6 1.6h1.7v1.7h-1.7zM7.9 12.1h1.7v1.7h-1.7zM1.6 12.4h1.7v1.7h-1.7zM7.2 33.6h1.7v1.7h-1.7zM28.7 10.2h1.7v1.7h-1.7zM27.4 14.0h1.7v1.7h-1.7zM33.4 31.1h1.7v1.7h-1.7zM1.7 34.2h1.7v1.7h-1.7zM1.9 9.8h1.7v1.7h-1.7zM30.0 3.4h1.7v1.7h-1.7zM17.0 37.2h1.7v1.7h-1.7zM29.5 33.2h1.7v1.7h-1.7zM18.1 2.2h1.7v1.7h-1.7zM5.1 30.5h1.7v1.7h-1.7zM28.1 32.2h1.7v1.7h-1.7zM21.9 38.8h1.7v1.7h-1.7zM21.9 -1.2h1.7v1.7h-1.7zM21.8 10.0h1.7v1.7h-1.7zM14.3 16.5h1.7v1.7h-1.7zM26.8 9.5h1.7v1.7h-1.7zM5.7 22.5h1.7v1.7h-1.7zM6.8 26.7h1.7v1.7h-1.7zM4.6 11.6h1.7v1.7h-1.7zM8.3 2.4h1.7v1.7h-1.7zM7.9 28.1h1.7v1.7h-1.7zM4.5 13.0h1.7v1.7h-1.7zM14.5 6.7h1.7v1.7h-1.7zM22.5 4.4h1.7v1.7h-1.7zM17.4 7.6h1.7v1.7h-1.7zM0.3 36.8h1.7v1.7h-1.7zM25.1 37.4h1.7v1.7h-1.7zM10.1 9.8h1.7v1.7h-1.7zM11.9 7.4h1.7v1.7h-1.7zM33.8 37.1h1.7v1.7h-1.7zM12.8 14.7h1.7v1.7h-1.7zM14.8 33.3h1.7v1.7h-1.7zM1.7 22.7h1.7v1.7h-1.7zM37.8 19.8h1.7v1.7h-1.7zM6.3 12.0h1.7v1.7h-1.7zM3.2 27.5h1.7v1.7h-1.7zM17.7 38.8h1.7v1.7h-1.7zM17.7 -1.2h1.7v1.7h-1.7zM1.6 17.6h1.7v1.7h-1.7zM34.2 31.5h1.7v1.7h-1.7zM11.3 26.5h1.7v1.7h-1.7zM16.8 13.5h1.7v1.7h-1.7zM6.6 11.8h1.7v1.7h-1.7zM22.5 13.9h1.7v1.7h-1.7zM3.4 12.9h1.7v1.7h-1.7zM39.0 38.5h1.7v1.7h-1.7zM39.0 -1.5h1.7v1.7h-1.7zM-1.0 38.5h1.7v1.7h-1.7zM-1.0 -1.5h1.7v1.7h-1.7zM32.4 2.4h1.7v1.7h-1.7zM24.4 11.9h1.7v1.7h-1.7zM38.1 19.2h1.7v1.7h-1.7zM1.1 7.6h1.7v1.7h-1.7zM17.9 3.4h1.7v1.7h-1.7zM14.9 23.2h1.7v1.7h-1.7zM21.2 22.6h1.7v1.7h-1.7zM10.1 3.8h1.7v1.7h-1.7zM10.1 19.6h1.7v1.7h-1.7zM9.1 22.9h1.7v1.7h-1.7zM20.5 23.5h1.7v1.7h-1.7zM16.3 2.9h1.7v1.7h-1.7zM22.5 31.0h1.7v1.7h-1.7zM31.0 2.3h1.7v1.7h-1.7zM14.9 0.6h1.7v1.7h-1.7zM17.0 35.5h1.7v1.7h-1.7zM13.7 30.5h1.7v1.7h-1.7zM33.0 4.9h1.7v1.7h-1.7zM1.7 24.2h1.7v1.7h-1.7zM22.0 32.1h1.7v1.7h-1.7zM37.0 27.0h1.7v1.7h-1.7zM23.3 4.5h1.7v1.7h-1.7zM4.4 32.0h1.7v1.7h-1.7zM22.2 11.6h1.7v1.7h-1.7zM38.0 0.6h1.7v1.7h-1.7zM32.0 1.4h1.7v1.7h-1.7zM32.7 27.2h1.7v1.7h-1.7zM15.7 34.9h1.7v1.7h-1.7zM3.0 13.2h1.7v1.7h-1.7zM35.8 23.6h1.7v1.7h-1.7zM6.8 14.4h1.7v1.7h-1.7zM23.1 15.5h1.7v1.7h-1.7zM0.2 23.2h1.7v1.7h-1.7zM1.8 5.8h1.7v1.7h-1.7zM10.9 10.9h1.7v1.7h-1.7zM10.5 22.8h1.7v1.7h-1.7zM38.3 39.7h1.7v1.7h-1.7zM38.3 -0.3h1.7v1.7h-1.7zM31.0 25.3h1.7v1.7h-1.7zM34.9 37.5h1.7v1.7h-1.7zM20.4 25.4h1.7v1.7h-1.7zM22.0 16.2h1.7v1.7h-1.7zM19.3 14.7h1.7v1.7h-1.7zM9.4 14.0h1.7v1.7h-1.7zM0.3 34.8h1.7v1.7h-1.7zM17.8 22.7h1.7v1.7h-1.7zM6.8 2.7h1.7v1.7h-1.7zM12.3 29.1h1.7v1.7h-1.7zM23.3 3.2h1.7v1.7h-1.7zM23.2 39.5h1.7v1.7h-1.7zM23.2 -0.5h1.7v1.7h-1.7zM11.0 10.3h1.7v1.7h-1.7zM8.7 16.0h1.7v1.7h-1.7zM24.1 34.6h1.7v1.7h-1.7zM35.0 13.6h1.7v1.7h-1.7zM25.6 36.9h1.7v1.7h-1.7zM13.1 30.0h1.7v1.7h-1.7zM16.2 27.2h1.7v1.7h-1.7zM2.3 16.6h1.7v1.7h-1.7zM25.1 13.4h1.7v1.7h-1.7zM23.9 10.3h1.7v1.7h-1.7zM0.5 37.0h1.7v1.7h-1.7zM39.5 2.2h1.7v1.7h-1.7zM-0.5 2.2h1.7v1.7h-1.7zM29.0 13.2h1.7v1.7h-1.7zM3.6 32.6h1.7v1.7h-1.7zM21.5 23.5h1.7v1.7h-1.7zM26.3 24.1h1.7v1.7h-1.7zM30.5 31.0h1.7v1.7h-1.7zM30.9 39.1h1.7v1.7h-1.7zM30.9 -0.9h1.7v1.7h-1.7zM5.3 0.4h1.7v1.7h-1.7zM26.2 31.0h1.7v1.7h-1.7zM3.6 1.1h1.7v1.7h-1.7zM2.4 20.1h1.7v1.7h-1.7zM7.3 37.6h1.7v1.7h-1.7zM36.9 6.5h1.7v1.7h-1.7zM20.0 25.4h1.7v1.7h-1.7zM32.0 18.4h1.7v1.7h-1.7zM2.6 25.8h1.7v1.7h-1.7zM34.6 2.4h1.7v1.7h-1.7zM25.1 9.0h1.7v1.7h-1.7zM10.5 17.4h1.7v1.7h-1.7zM8.1 30.4h1.7v1.7h-1.7zM11.9 39.8h1.7v1.7h-1.7zM11.9 -0.2h1.7v1.7h-1.7zM32.9 11.3h1.7v1.7h-1.7zM19.4 35.6h1.7v1.7h-1.7zM27.3 23.9h1.7v1.7h-1.7zM23.2 35.3h1.7v1.7h-1.7zM39.8 11.9h1.7v1.7h-1.7zM-0.2 11.9h1.7v1.7h-1.7zM4.5 39.0h1.7v1.7h-1.7zM4.5 -1.0h1.7v1.7h-1.7zM3.9 6.7h1.7v1.7h-1.7zM27.6 1.5h1.7v1.7h-1.7zM9.3 17.2h1.7v1.7h-1.7zM0.8 39.6h1.7v1.7h-1.7zM0.8 -0.4h1.7v1.7h-1.7zM35.1 4.8h1.7v1.7h-1.7zM5.4 17.1h1.7v1.7h-1.7zM20.0 4.5h1.7v1.7h-1.7zM19.9 36.7h1.7v1.7h-1.7zM29.3 10.9h1.7v1.7h-1.7zM10.6 2.8h1.7v1.7h-1.7zM20.4 16.3h1.7v1.7h-1.7zM14.5 0.4h1.7v1.7h-1.7zM26.1 21.8h1.7v1.7h-1.7zM28.7 16.0h1.7v1.7h-1.7zM16.8 38.9h1.7v1.7h-1.7zM16.8 -1.1h1.7v1.7h-1.7zM15.4 16.4h1.7v1.7h-1.7zM39.9 0.2h1.7v1.7h-1.7zM-0.1 0.2h1.7v1.7h-1.7zM37.1 10.2h1.7v1.7h-1.7zM15.1 9.6h1.7v1.7h-1.7zM36.3 2.0h1.7v1.7h-1.7zM13.0 25.8h1.7v1.7h-1.7zM12.6 38.9h1.7v1.7h-1.7zM12.6 -1.1h1.7v1.7h-1.7zM29.8 34.1h1.7v1.7h-1.7zM23.7 39.8h1.7v1.7h-1.7zM23.7 -0.2h1.7v1.7h-1.7zM25.2 29.7h1.7v1.7h-1.7zM28.5 15.7h1.7v1.7h-1.7zM24.5 27.1h1.7v1.7h-1.7zM25.2 21.7h1.7v1.7h-1.7zM18.9 28.9h1.7v1.7h-1.7zM19.1 8.8h1.7v1.7h-1.7zM37.1 21.1h1.7v1.7h-1.7zM21.1 32.5h1.7v1.7h-1.7zM6.9 32.9h1.7v1.7h-1.7zM34.7 1.7h1.7v1.7h-1.7zM33.3 32.7h1.7v1.7h-1.7zM6.2 10.1h1.7v1.7h-1.7zM14.3 32.1h1.7v1.7h-1.7zM18.1 3.5h1.7v1.7h-1.7zM39.9 27.8h1.7v1.7h-1.7zM-0.1 27.8h1.7v1.7h-1.7zM6.0 27.2h1.7v1.7h-1.7zM20.8 9.5h1.7v1.7h-1.7zM13.6 15.2h1.7v1.7h-1.7zM8.0 22.8h1.7v1.7h-1.7zM7.1 28.7h1.7v1.7h-1.7zM24.7 14.9h1.7v1.7h-1.7zM11.8 16.3h1.7v1.7h-1.7zM32.4 14.1h1.7v1.7h-1.7zM23.1 37.0h1.7v1.7h-1.7zM38.9 28.5h1.7v1.7h-1.7zM-1.1 28.5h1.7v1.7h-1.7zM26.6 13.2h1.7v1.7h-1.7zM30.2 15.2h1.7v1.7h-1.7zM1.0 23.7h1.7v1.7h-1.7zM18.5 33.6h1.7v1.7h-1.7zM18.9 35.6h1.7v1.7h-1.7zM26.8 29.6h1.7v1.7h-1.7zM1.6 27.2h1.7v1.7h-1.7zM30.8 30.8h1.7v1.7h-1.7zM22.6 2.2h1.7v1.7h-1.7zM28.4 19.3h1.7v1.7h-1.7zM27.6 16.7h1.7v1.7h-1.7zM5.8 13.4h1.7v1.7h-1.7zM0.2 39.5h1.7v1.7h-1.7zM0.2 -0.5h1.7v1.7h-1.7zM10.5 12.5h1.7v1.7h-1.7zM34.4 22.2h1.7v1.7h-1.7zM16.8 2.0h1.7v1.7h-1.7zM10.3 8.1h1.7v1.7h-1.7zM21.5 15.0h1.7v1.7h-1.7zM19.6 23.4h1.7v1.7h-1.7zM22.2 2.0h1.7v1.7h-1.7zM21.3 16.4h1.7v1.7h-1.7zM17.8 35.1h1.7v1.7h-1.7zM17.3 25.6h1.7v1.7h-1.7zM34.5 2.9h1.7v1.7h-1.7zM7.2 36.9h1.7v1.7h-1.7zM32.0 19.9h1.7v1.7h-1.7zM27.0 11.8h1.7v1.7h-1.7zM8.3 4.0h1.7v1.7h-1.7zM31.4 38.0h1.7v1.7h-1.7zM27.4 6.2h1.7v1.7h-1.7zM11.7 9.3h1.7v1.7h-1.7zM12.7 22.4h1.7v1.7h-1.7zM15.7 1.3h1.7v1.7h-1.7zM25.6 8.9h1.7v1.7h-1.7zM17.2 27.2h1.7v1.7h-1.7zM39.8 37.6h1.7v1.7h-1.7zM-0.2 37.6h1.7v1.7h-1.7zM19.9 37.2h1.7v1.7h-1.7zM19.4 34.6h1.7v1.7h-1.7zM21.6 3.5h1.7v1.7h-1.7zM9.1 37.0h1.7v1.7h-1.7zM24.0 38.7h1.7v1.7h-1.7zM24.0 -1.3h1.7v1.7h-1.7zM37.8 26.3h1.7v1.7h-1.7zM13.3 18.0h1.7v1.7h-1.7zM11.9 2.8h1.7v1.7h-1.7zM23.8 18.5h1.7v1.7h-1.7zM20.5 3.9h1.7v1.7h-1.7zM5.3 23.1h1.7v1.7h-1.7zM15.0 26.5h1.7v1.7h-1.7zM6.8 37.7h1.7v1.7h-1.7zM33.7 34.9h1.7v1.7h-1.7zM4.7 19.8h1.7v1.7h-1.7zM4.7 18.7h1.7v1.7h-1.7zM21.4 20.3h1.7v1.7h-1.7zM7.9 16.1h1.7v1.7h-1.7zM20.1 35.6h1.7v1.7h-1.7zM22.8 27.6h1.7v1.7h-1.7zM30.0 6.1h1.7v1.7h-1.7zM1.2 15.7h1.7v1.7h-1.7zM11.7 35.6h1.7v1.7h-1.7zM23.1 9.4h1.7v1.7h-1.7zM31.4 28.4h1.7v1.7h-1.7zM1.6 24.7h1.7v1.7h-1.7zM18.5 36.8h1.7v1.7h-1.7zM37.6 16.5h1.7v1.7h-1.7zM27.2 6.0h1.7v1.7h-1.7zM5.6 7.9h1.7v1.7h-1.7zM31.7 19.2h1.7v1.7h-1.7zM25.5 8.0h1.7v1.7h-1.7zM33.8 31.5h1.7v1.7h-1.7zM28.7 14.0h1.7v1.7h-1.7zM32.1 23.6h1.7v1.7h-1.7zM12.0 38.4h1.7v1.7h-1.7zM12.0 -1.6h1.7v1.7h-1.7zM9.3 7.9h1.7v1.7h-1.7zM27.4 28.4h1.7v1.7h-1.7zM31.4 31.7h1.7v1.7h-1.7zM37.7 33.0h1.7v1.7h-1.7zM31.7 0.2h1.7v1.7h-1.7zM16.7 24.2h1.7v1.7h-1.7zM13.4 8.5h1.7v1.7h-1.7zM33.8 24.8h1.7v1.7h-1.7zM4.8 27.3h1.7v1.7h-1.7zM32.9 7.4h1.7v1.7h-1.7zM38.3 14.5h1.7v1.7h-1.7zM-1.7 14.5h1.7v1.7h-1.7zM20.3 39.5h1.7v1.7h-1.7zM20.3 -0.5h1.7v1.7h-1.7zM33.2 6.5h1.7v1.7h-1.7zM18.2 32.4h1.7v1.7h-1.7zM14.1 4.0h1.7v1.7h-1.7zM34.5 20.6h1.7v1.7h-1.7zM37.1 35.8h1.7v1.7h-1.7zM3.0 25.0h1.7v1.7h-1.7zM38.3 14.5h1.7v1.7h-1.7zM-1.7 14.5h1.7v1.7h-1.7zM25.3 15.0h1.7v1.7h-1.7zM27.1 36.3h1.7v1.7h-1.7zM14.5 39.0h1.7v1.7h-1.7zM14.5 -1.0h1.7v1.7h-1.7zM33.4 27.3h1.7v1.7h-1.7zM29.2 30.0h1.7v1.7h-1.7zM35.7 5.8h1.7v1.7h-1.7zM23.1 1.9h1.7v1.7h-1.7zM29.9 25.7h1.7v1.7h-1.7zM30.5 11.6h1.7v1.7h-1.7zM16.8 39.1h1.7v1.7h-1.7zM16.8 -0.9h1.7v1.7h-1.7zM32.2 27.1h1.7v1.7h-1.7zM38.5 28.4h1.7v1.7h-1.7zM-1.5 28.4h1.7v1.7h-1.7zM11.1 6.5h1.7v1.7h-1.7zM33.0 31.7h1.7v1.7h-1.7zM6.5 29.5h1.7v1.7h-1.7zM12.5 2.1h1.7v1.7h-1.7zM7.9 12.8h1.7v1.7h-1.7zM4.3 10.4h1.7v1.7h-1.7zM15.4 38.5h1.7v1.7h-1.7zM15.4 -1.5h1.7v1.7h-1.7zM8.2 36.4h1.7v1.7h-1.7zM18.8 22.3h1.7v1.7h-1.7zM30.1 11.0h1.7v1.7h-1.7zM36.7 21.2h1.7v1.7h-1.7zM1.7 33.1h1.7v1.7h-1.7zM14.1 37.6h1.7v1.7h-1.7zM9.7 2.8h1.7v1.7h-1.7zM30.1 27.1h1.7v1.7h-1.7zM32.3 4.5h1.7v1.7h-1.7zM25.8 38.7h1.7v1.7h-1.7zM25.8 -1.3h1.7v1.7h-1.7zM27.7 31.0h1.7v1.7h-1.7zM37.6 29.7h1.7v1.7h-1.7zM15.7 32.2h1.7v1.7h-1.7zM7.4 34.9h1.7v1.7h-1.7zM5.3 13.5h1.7v1.7h-1.7zM26.7 23.1h1.7v1.7h-1.7zM31.5 33.5h1.7v1.7h-1.7zM26.9 30.2h1.7v1.7h-1.7zM24.5 11.0h1.7v1.7h-1.7zM24.1 33.0h1.7v1.7h-1.7zM8.5 9.0h1.7v1.7h-1.7zM14.4 28.0h1.7v1.7h-1.7zM33.5 13.0h1.7v1.7h-1.7zM25.2 5.6h1.7v1.7h-1.7zM2.4 17.8h1.7v1.7h-1.7zM4.4 9.0h1.7v1.7h-1.7zM13.6 13.2h1.7v1.7h-1.7zM8.7 31.7h1.7v1.7h-1.7zM33.6 32.3h1.7v1.7h-1.7zM1.2 31.1h1.7v1.7h-1.7zM20.2 17.0h1.7v1.7h-1.7zM25.2 29.0h1.7v1.7h-1.7zM16.0 20.5h1.7v1.7h-1.7zM32.2 38.5h1.7v1.7h-1.7zM32.2 -1.5h1.7v1.7h-1.7zM39.5 2.9h1.7v1.7h-1.7zM-0.5 2.9h1.7v1.7h-1.7zM5.3 18.2h1.7v1.7h-1.7zM28.3 18.2h1.7v1.7h-1.7zM7.6 16.1h1.7v1.7h-1.7zM7.8 29.4h1.7v1.7h-1.7zM7.9 10.6h1.7v1.7h-1.7zM28.8 2.5h1.7v1.7h-1.7zM25.2 10.6h1.7v1.7h-1.7zM12.2 1.8h1.7v1.7h-1.7zM18.2 4.1h1.7v1.7h-1.7zM6.2 31.1h1.7v1.7h-1.7zM19.0 32.9h1.7v1.7h-1.7zM4.4 22.5h1.7v1.7h-1.7zM8.4 10.1h1.7v1.7h-1.7zM5.4 0.5h1.7v1.7h-1.7zM23.4 15.2h1.7v1.7h-1.7zM33.2 31.4h1.7v1.7h-1.7zM1.7 35.6h1.7v1.7h-1.7zM2.8 12.9h1.7v1.7h-1.7zM35.4 19.4h1.7v1.7h-1.7zM15.3 4.2h1.7v1.7h-1.7zM5.0 8.0h1.7v1.7h-1.7zM2.2 18.8h1.7v1.7h-1.7zM26.9 28.5h1.7v1.7h-1.7zM26.0 27.7h1.7v1.7h-1.7zM5.7 36.4h1.7v1.7h-1.7zM32.1 1.5h1.7v1.7h-1.7zM9.6 37.2h1.7v1.7h-1.7zM26.9 37.2h1.7v1.7h-1.7zM36.8 10.5h1.7v1.7h-1.7zM0.7 30.3h1.7v1.7h-1.7zM38.9 28.4h1.7v1.7h-1.7zM-1.1 28.4h1.7v1.7h-1.7zM32.3 6.5h1.7v1.7h-1.7zM22.2 32.9h1.7v1.7h-1.7zM3.1 2.2h1.7v1.7h-1.7zM11.6 15.9h1.7v1.7h-1.7zM32.5 18.3h1.7v1.7h-1.7zM26.0 8.3h1.7v1.7h-1.7zM4.4 39.1h1.7v1.7h-1.7zM4.4 -0.9h1.7v1.7h-1.7zM34.0 33.9h1.7v1.7h-1.7zM30.8 0.3h1.7v1.7h-1.7zM4.5 27.7h1.7v1.7h-1.7zM20.8 18.2h1.7v1.7h-1.7zM33.5 28.7h1.7v1.7h-1.7zM27.2 34.0h1.7v1.7h-1.7zM17.7 28.3h1.7v1.7h-1.7zM12.0 13.9h1.7v1.7h-1.7zM11.0 10.0h1.7v1.7h-1.7zM12.5 25.1h1.7v1.7h-1.7zM21.5 38.6h1.7v1.7h-1.7zM21.5 -1.4h1.7v1.7h-1.7zM21.2 26.0h1.7v1.7h-1.7zM27.6 38.7h1.7v1.7h-1.7zM27.6 -1.3h1.7v1.7h-1.7zM39.6 7.1h1.7v1.7h-1.7zM-0.4 7.1h1.7v1.7h-1.7zM30.1 9.9h1.7v1.7h-1.7zM1.1 27.6h1.7v1.7h-1.7zM10.4 38.6h1.7v1.7h-1.7zM10.4 -1.4h1.7v1.7h-1.7zM23.6 26.2h1.7v1.7h-1.7zM27.8 12.2h1.7v1.7h-1.7zM2.7 0.6h1.7v1.7h-1.7zM5.7 4.5h1.7v1.7h-1.7zM38.8 27.5h1.7v1.7h-1.7zM-1.2 27.5h1.7v1.7h-1.7zM30.8 7.1h1.7v1.7h-1.7zM12.1 16.4h1.7v1.7h-1.7zM17.8 29.1h1.7v1.7h-1.7zM1.2 33.2h1.7v1.7h-1.7zM34.2 32.1h1.7v1.7h-1.7zM11.1 0.4h1.7v1.7h-1.7zM36.2 6.3h1.7v1.7h-1.7zM23.5 26.4h1.7v1.7h-1.7z" fill="#1420c8"/><path d="M24.2 39.1h1.7v1.7h-1.7zM24.2 -0.9h1.7v1.7h-1.7zM24.1 35.8h1.7v1.7h-1.7zM16.9 23.5h1.7v1.7h-1.7zM35.5 1.7h1.7v1.7h-1.7zM11.0 34.0h1.7v1.7h-1.7zM3.4 22.1h1.7v1.7h-1.7zM8.0 30.0h1.7v1.7h-1.7zM3.5 32.3h1.7v1.7h-1.7zM9.3 23.2h1.7v1.7h-1.7zM6.0 1.8h1.7v1.7h-1.7zM1.3 39.6h1.7v1.7h-1.7zM1.3 -0.4h1.7v1.7h-1.7zM31.2 17.0h1.7v1.7h-1.7zM30.7 32.8h1.7v1.7h-1.7zM36.1 36.2h1.7v1.7h-1.7zM1.9 31.5h1.7v1.7h-1.7zM5.8 30.2h1.7v1.7h-1.7zM27.1 0.5h1.7v1.7h-1.7zM7.8 1.4h1.7v1.7h-1.7zM8.8 37.4h1.7v1.7h-1.7zM3.9 37.2h1.7v1.7h-1.7zM6.2 10.8h1.7v1.7h-1.7zM39.1 2.3h1.7v1.7h-1.7zM-0.9 2.3h1.7v1.7h-1.7zM14.6 39.6h1.7v1.7h-1.7zM14.6 -0.4h1.7v1.7h-1.7zM35.8 2.3h1.7v1.7h-1.7zM7.4 17.4h1.7v1.7h-1.7zM7.2 30.8h1.7v1.7h-1.7zM8.2 24.5h1.7v1.7h-1.7zM28.9 2.2h1.7v1.7h-1.7zM13.4 33.7h1.7v1.7h-1.7zM19.7 0.6h1.7v1.7h-1.7zM20.6 4.8h1.7v1.7h-1.7zM28.4 15.3h1.7v1.7h-1.7zM2.4 34.9h1.7v1.7h-1.7zM21.5 0.8h1.7v1.7h-1.7zM5.5 23.7h1.7v1.7h-1.7zM5.9 22.9h1.7v1.7h-1.7zM6.6 33.0h1.7v1.7h-1.7zM15.5 16.8h1.7v1.7h-1.7zM21.0 15.8h1.7v1.7h-1.7zM13.4 17.4h1.7v1.7h-1.7zM32.2 36.5h1.7v1.7h-1.7zM38.8 31.1h1.7v1.7h-1.7zM-1.2 31.1h1.7v1.7h-1.7zM25.3 32.4h1.7v1.7h-1.7zM3.5 21.9h1.7v1.7h-1.7zM0.5 14.1h1.7v1.7h-1.7zM15.5 17.6h1.7v1.7h-1.7zM4.4 9.0h1.7v1.7h-1.7zM29.6 29.7h1.7v1.7h-1.7zM19.0 31.4h1.7v1.7h-1.7zM36.6 5.1h1.7v1.7h-1.7zM16.7 31.3h1.7v1.7h-1.7zM12.9 31.5h1.7v1.7h-1.7zM23.3 3.5h1.7v1.7h-1.7zM13.0 33.7h1.7v1.7h-1.7zM22.6 19.9h1.7v1.7h-1.7zM30.9 21.5h1.7v1.7h-1.7zM17.6 25.0h1.7v1.7h-1.7zM13.7 21.2h1.7v1.7h-1.7zM6.8 12.7h1.7v1.7h-1.7zM35.8 27.6h1.7v1.7h-1.7zM4.9 6.3h1.7v1.7h-1.7zM30.8 12.9h1.7v1.7h-1.7zM10.0 1.8h1.7v1.7h-1.7zM34.2 12.6h1.7v1.7h-1.7zM38.4 19.8h1.7v1.7h-1.7zM-1.6 19.8h1.7v1.7h-1.7zM9.7 15.6h1.7v1.7h-1.7zM8.9 12.4h1.7v1.7h-1.7zM17.7 33.5h1.7v1.7h-1.7zM6.4 14.1h1.7v1.7h-1.7zM18.1 5.2h1.7v1.7h-1.7zM3.4 7.1h1.7v1.7h-1.7zM9.1 5.0h1.7v1.7h-1.7zM11.3 16.1h1.7v1.7h-1.7zM31.0 35.3h1.7v1.7h-1.7zM36.5 29.4h1.7v1.7h-1.7zM31.7 8.4h1.7v1.7h-1.7zM15.7 29.9h1.7v1.7h-1.7zM11.2 3.6h1.7v1.7h-1.7zM17.1 20.5h1.7v1.7h-1.7zM12.4 5.5h1.7v1.7h-1.7zM20.6 17.8h1.7v1.7h-1.7zM14.1 12.0h1.7v1.7h-1.7zM32.6 21.9h1.7v1.7h-1.7zM18.4 30.6h1.7v1.7h-1.7zM0.4 39.7h1.7v1.7h-1.7zM0.4 -0.3h1.7v1.7h-1.7zM3.4 28.7h1.7v1.7h-1.7zM1.1 31.0h1.7v1.7h-1.7zM31.4 33.2h1.7v1.7h-1.7zM13.1 7.4h1.7v1.7h-1.7zM32.8 28.2h1.7v1.7h-1.7zM28.9 0.1h1.7v1.7h-1.7zM26.6 33.0h1.7v1.7h-1.7zM38.9 36.3h1.7v1.7h-1.7zM-1.1 36.3h1.7v1.7h-1.7zM12.0 13.7h1.7v1.7h-1.7zM4.6 7.2h1.7v1.7h-1.7zM21.9 4.5h1.7v1.7h-1.7zM34.5 22.0h1.7v1.7h-1.7zM30.3 4.6h1.7v1.7h-1.7zM28.9 4.1h1.7v1.7h-1.7zM15.7 6.9h1.7v1.7h-1.7zM8.5 12.0h1.7v1.7h-1.7zM34.9 22.5h1.7v1.7h-1.7zM34.8 6.7h1.7v1.7h-1.7zM29.5 37.9h1.7v1.7h-1.7zM7.7 17.9h1.7v1.7h-1.7zM15.2 5.8h1.7v1.7h-1.7zM21.5 27.6h1.7v1.7h-1.7zM6.0 20.1h1.7v1.7h-1.7zM19.0 6.3h1.7v1.7h-1.7zM0.8 18.4h1.7v1.7h-1.7zM22.4 30.8h1.7v1.7h-1.7zM14.5 11.3h1.7v1.7h-1.7zM12.2 30.5h1.7v1.7h-1.7zM13.5 12.9h1.7v1.7h-1.7zM37.5 13.6h1.7v1.7h-1.7zM31.0 17.1h1.7v1.7h-1.7zM2.7 19.4h1.7v1.7h-1.7zM6.6 10.7h1.7v1.7h-1.7zM7.9 29.4h1.7v1.7h-1.7zM24.0 3.2h1.7v1.7h-1.7zM7.5 21.5h1.7v1.7h-1.7zM6.2 5.7h1.7v1.7h-1.7zM29.6 10.3h1.7v1.7h-1.7zM11.1 20.9h1.7v1.7h-1.7zM39.6 9.1h1.7v1.7h-1.7zM-0.4 9.1h1.7v1.7h-1.7zM6.0 7.1h1.7v1.7h-1.7zM31.1 9.7h1.7v1.7h-1.7zM36.1 4.3h1.7v1.7h-1.7zM16.4 36.8h1.7v1.7h-1.7zM22.8 6.3h1.7v1.7h-1.7zM34.8 10.7h1.7v1.7h-1.7zM35.3 14.4h1.7v1.7h-1.7zM34.5 7.3h1.7v1.7h-1.7zM36.5 6.0h1.7v1.7h-1.7zM3.6 13.6h1.7v1.7h-1.7zM28.7 35.3h1.7v1.7h-1.7zM1.3 9.4h1.7v1.7h-1.7zM27.4 5.9h1.7v1.7h-1.7zM8.6 38.7h1.7v1.7h-1.7zM8.6 -1.3h1.7v1.7h-1.7zM27.6 39.3h1.7v1.7h-1.7zM27.6 -0.7h1.7v1.7h-1.7zM4.6 33.7h1.7v1.7h-1.7zM24.5 10.6h1.7v1.7h-1.7zM25.6 33.1h1.7v1.7h-1.7zM19.1 31.9h1.7v1.7h-1.7zM13.0 9.7h1.7v1.7h-1.7zM3.7 25.4h1.7v1.7h-1.7zM8.1 16.9h1.7v1.7h-1.7zM17.7 14.7h1.7v1.7h-1.7zM19.9 36.1h1.7v1.7h-1.7zM19.7 20.5h1.7v1.7h-1.7zM8.8 3.1h1.7v1.7h-1.7zM4.1 3.5h1.7v1.7h-1.7zM39.9 32.7h1.7v1.7h-1.7zM-0.1 32.7h1.7v1.7h-1.7zM34.7 32.1h1.7v1.7h-1.7zM32.1 8.0h1.7v1.7h-1.7zM12.9 10.9h1.7v1.7h-1.7zM11.7 28.4h1.7v1.7h-1.7zM23.7 18.2h1.7v1.7h-1.7zM33.5 5.8h1.7v1.7h-1.7zM26.4 10.3h1.7v1.7h-1.7zM27.8 1.7h1.7v1.7h-1.7zM36.5 13.0h1.7v1.7h-1.7zM6.1 32.0h1.7v1.7h-1.7zM3.7 18.6h1.7v1.7h-1.7zM33.1 4.9h1.7v1.7h-1.7zM11.6 13.9h1.7v1.7h-1.7zM10.8 35.7h1.7v1.7h-1.7zM29.7 7.2h1.7v1.7h-1.7zM3.8 22.1h1.7v1.7h-1.7zM6.0 3.8h1.7v1.7h-1.7zM5.1 9.6h1.7v1.7h-1.7zM37.7 19.5h1.7v1.7h-1.7zM9.8 24.0h1.7v1.7h-1.7zM32.6 13.7h1.7v1.7h-1.7zM3.5 9.8h1.7v1.7h-1.7zM13.2 39.0h1.7v1.7h-1.7zM13.2 -1.0h1.7v1.7h-1.7zM31.2 36.3h1.7v1.7h-1.7zM38.6 26.9h1.7v1.7h-1.7zM-1.4 26.9h1.7v1.7h-1.7zM5.4 33.1h1.7v1.7h-1.7zM36.2 29.8h1.7v1.7h-1.7zM33.0 31.4h1.7v1.7h-1.7zM37.8 4.6h1.7v1.7h-1.7zM31.5 10.1h1.7v1.7h-1.7zM9.5 19.7h1.7v1.7h-1.7zM3.5 26.1h1.7v1.7h-1.7zM13.6 23.8h1.7v1.7h-1.7zM0.7 4.4h1.7v1.7h-1.7zM3.5 10.8h1.7v1.7h-1.7zM17.7 26.4h1.7v1.7h-1.7zM35.6 24.4h1.7v1.7h-1.7zM15.8 20.0h1.7v1.7h-1.7zM0.0 7.0h1.7v1.7h-1.7zM17.9 30.0h1.7v1.7h-1.7zM13.0 5.5h1.7v1.7h-1.7zM5.6 20.6h1.7v1.7h-1.7zM15.3 38.7h1.7v1.7h-1.7zM15.3 -1.3h1.7v1.7h-1.7zM7.5 12.4h1.7v1.7h-1.7zM33.5 25.5h1.7v1.7h-1.7zM12.6 6.1h1.7v1.7h-1.7zM25.2 10.4h1.7v1.7h-1.7zM20.8 26.8h1.7v1.7h-1.7zM16.5 20.1h1.7v1.7h-1.7zM22.9 11.0h1.7v1.7h-1.7zM35.9 36.0h1.7v1.7h-1.7zM32.8 26.0h1.7v1.7h-1.7zM5.3 28.2h1.7v1.7h-1.7zM27.0 39.0h1.7v1.7h-1.7zM27.0 -1.0h1.7v1.7h-1.7zM32.3 1.6h1.7v1.7h-1.7zM9.1 34.7h1.7v1.7h-1.7zM17.5 7.9h1.7v1.7h-1.7zM28.0 38.9h1.7v1.7h-1.7zM28.0 -1.1h1.7v1.7h-1.7zM37.9 36.8h1.7v1.7h-1.7zM0.5 34.5h1.7v1.7h-1.7zM6.5 25.3h1.7v1.7h-1.7zM14.2 36.0h1.7v1.7h-1.7zM39.6 36.5h1.7v1.7h-1.7zM-0.4 36.5h1.7v1.7h-1.7zM36.4 28.4h1.7v1.7h-1.7zM39.2 17.5h1.7v1.7h-1.7zM-0.8 17.5h1.7v1.7h-1.7zM15.4 32.5h1.7v1.7h-1.7zM8.2 9.7h1.7v1.7h-1.7zM23.4 25.5h1.7v1.7h-1.7zM17.6 2.7h1.7v1.7h-1.7zM2.5 9.5h1.7v1.7h-1.7zM9.1 15.7h1.7v1.7h-1.7zM33.0 25.4h1.7v1.7h-1.7zM1.5 3.8h1.7v1.7h-1.7zM4.2 31.5h1.7v1.7h-1.7zM36.7 0.1h1.7v1.7h-1.7zM24.8 23.8h1.7v1.7h-1.7zM29.8 1.0h1.7v1.7h-1.7zM14.1 3.8h1.7v1.7h-1.7zM14.7 12.1h1.7v1.7h-1.7zM5.9 24.3h1.7v1.7h-1.7zM24.4 25.9h1.7v1.7h-1.7zM29.3 31.9h1.7v1.7h-1.7zM35.1 7.2h1.7v1.7h-1.7zM3.8 17.7h1.7v1.7h-1.7zM26.2 37.3h1.7v1.7h-1.7zM33.5 39.8h1.7v1.7h-1.7zM33.5 -0.2h1.7v1.7h-1.7zM0.8 9.2h1.7v1.7h-1.7zM36.8 13.1h1.7v1.7h-1.7zM31.0 35.6h1.7v1.7h-1.7zM21.3 4.2h1.7v1.7h-1.7zM37.5 16.3h1.7v1.7h-1.7zM8.5 11.5h1.7v1.7h-1.7zM0.5 10.4h1.7v1.7h-1.7zM27.5 27.6h1.7v1.7h-1.7zM37.3 13.7h1.7v1.7h-1.7z" fill="#1a40ff"/></pattern><filter id="bl3" x="-50%" y="-50%" width="200%" height="200%"><feGaussianBlur stdDeviation="3"/></filter><filter id="bl6" x="-50%" y="-50%" width="200%" height="200%"><feGaussianBlur stdDeviation="6"/></filter><filter id="mb5" x="-30%" y="-30%" width="160%" height="160%"><feGaussianBlur stdDeviation="5"/></filter><filter id="mb8" x="-30%" y="-30%" width="160%" height="160%"><feGaussianBlur stdDeviation="8"/></filter><filter id="mb12" x="-30%" y="-30%" width="160%" height="160%"><feGaussianBlur stdDeviation="12"/></filter><clipPath id="cp1"><rect x="1273" y="71.5" width="301" height="303.5"/></clipPath><mask id="mk1" maskUnits="userSpaceOnUse" x="1270" y="40" width="335" height="361"><path d="M1315.4,364.5 L1306.3,228.3 L1324.4,137.6 L1342.6,79.5 L1569.5,75.9 L1569.5,364.5 Z" fill="#fff" filter="url(#mb12)"/></mask><mask id="mk2" maskUnits="userSpaceOnUse" x="1273" y="135" width="320" height="253"><path d="M1297.2,364.5 L1306.3,282.8 L1324.4,237.4 L1351.7,210.2 L1388.0,183.0 L1433.3,159.4 L1487.8,159.4 L1533.2,183.0 L1560.4,228.3 L1569.5,364.5 Z" fill="#fff" filter="url(#mb8)"/></mask><clipPath id="cp2"><rect x="1660" y="71.5" width="301" height="303.5"/></clipPath><mask id="mk3" maskUnits="userSpaceOnUse" x="1655" y="40" width="333" height="359"><path d="M1691.3,362.6 L1696.7,75.9 L1949.0,75.9 L1952.6,355.4 Z" fill="#fff" filter="url(#mb12)"/></mask><mask id="mk4" maskUnits="userSpaceOnUse" x="1680" y="52" width="289" height="335"><path d="M1704.0,362.6 L1704.0,75.9 L1756.6,75.9 L1763.9,119.4 L1782.0,75.9 L1836.5,75.9 L1854.6,137.6 L1860.1,75.9 L1945.4,75.9 L1945.4,351.8 L1860.1,351.8 L1789.3,355.4 Z" fill="#fff" filter="url(#mb8)"/></mask><mask id="mk5" maskUnits="userSpaceOnUse" x="1682" y="52" width="278" height="337"><path d="M1705.8,364.5 L1709.4,264.6 L1736.7,228.3 L1763.9,192.0 L1782.0,119.4 L1785.7,75.9 L1827.4,75.9 L1836.5,192.0 L1845.6,300.9 L1860.1,300.9 L1936.3,297.3 L1936.3,355.4 L1789.3,359.0 Z" fill="#fff" filter="url(#mb8)"/></mask><clipPath id="cp3"><rect x="1273" y="462" width="302" height="304"/></clipPath><mask id="mk6" maskUnits="userSpaceOnUse" x="1259" y="437" width="346" height="288"><path d="M1295.4,689.1 L1295.4,618.3 L1342.6,573.0 L1415.2,524.0 L1487.8,487.7 L1569.5,473.1 L1569.5,618.3 L1487.8,643.7 L1378.9,674.6 Z" fill="#fff" filter="url(#mb12)"/></mask><mask id="mk7" maskUnits="userSpaceOnUse" x="1259" y="437" width="346" height="288"><path d="M1295.4,689.1 L1297.2,609.3 L1342.6,573.0 L1397.0,542.1 L1451.5,514.9 L1505.9,487.7 L1569.5,473.1 L1569.5,618.3 L1487.8,643.7 L1378.9,674.6 Z" fill="#fff" filter="url(#mb12)"/></mask><mask id="mk8" maskUnits="userSpaceOnUse" x="1271" y="491" width="322" height="222"><path d="M1295.4,689.1 L1295.4,636.5 L1342.6,612.9 L1397.0,585.7 L1451.5,560.3 L1505.9,536.7 L1569.5,514.9 L1569.5,618.3 L1533.2,629.2 L1487.8,643.7 L1378.9,674.6 Z" fill="#fff" filter="url(#mb8)"/></mask><clipPath id="cp4"><rect x="1660" y="462" width="303" height="304"/></clipPath><mask id="mk9" maskUnits="userSpaceOnUse" x="1655" y="432" width="277" height="359"><path d="M1691.3,754.5 L1702.2,618.3 L1709.4,467.7 L1890.9,467.7 L1896.4,600.2 L1894.6,752.6 Z" fill="#fff" filter="url(#mb12)"/></mask><mask id="mk10" maskUnits="userSpaceOnUse" x="1663" y="430" width="264" height="361"><path d="M1698.6,754.5 L1711.3,618.3 L1713.1,467.7 L1836.5,465.9 L1887.3,469.5 L1890.9,600.2 L1890.9,749.0 L1814.7,754.5 Z" fill="#fff" filter="url(#mb12)"/></mask><mask id="mk11" maskUnits="userSpaceOnUse" x="1680" y="444" width="171" height="335"><path d="M1704.0,754.5 L1709.4,654.6 L1745.7,609.3 L1782.0,563.9 L1796.6,509.4 L1800.2,469.5 L1827.4,467.7 L1822.0,545.7 L1818.3,636.5 L1814.7,709.1 L1809.3,754.5 Z" fill="#fff" filter="url(#mb8)"/></mask><mask id="mk12" maskUnits="userSpaceOnUse" x="1791" y="622" width="121" height="151"><path d="M1818.3,654.6 L1881.9,645.6 L1887.3,745.4 L1814.7,749.0 Z" fill="#fff" filter="url(#mb8)"/></mask><pattern id="pSex" width="24" height="24" patternUnits="userSpaceOnUse"><path d="M5 2h2.2v2.2h-2.2zM19 7h2.2v2.2h-2.2zM2 3h2.2v2.2h-2.2zM21 5h2.2v2.2h-2.2zM12 4h2.2v2.2h-2.2zM11 3h2.2v2.2h-2.2zM12 23h2.2v2.2h-2.2zM8 10h2.2v2.2h-2.2zM13 17h2.2v2.2h-2.2zM1 22h2.2v2.2h-2.2zM-1 21h2.2v2.2h-2.2zM18 15h2.2v2.2h-2.2zM-1 5h2.2v2.2h-2.2zM5 6h2.2v2.2h-2.2zM17 23h2.2v2.2h-2.2zM7 2h2.2v2.2h-2.2zM22 23h2.2v2.2h-2.2zM8 13h2.2v2.2h-2.2zM22 13h2.2v2.2h-2.2zM16 14h2.2v2.2h-2.2zM15 22h2.2v2.2h-2.2zM12 13h2.2v2.2h-2.2zM15 3h2.2v2.2h-2.2zM-0 22h2.2v2.2h-2.2zM2 23h2.2v2.2h-2.2zM13 20h2.2v2.2h-2.2zM-1 3h2.2v2.2h-2.2zM11 -0h2.2v2.2h-2.2zM8 9h2.2v2.2h-2.2zM19 21h2.2v2.2h-2.2zM12 12h2.2v2.2h-2.2zM24 10h2.2v2.2h-2.2zM4 13h2.2v2.2h-2.2zM6 7h2.2v2.2h-2.2zM19 16h2.2v2.2h-2.2zM5 2h2.2v2.2h-2.2zM5 14h2.2v2.2h-2.2zM-2 10h2.2v2.2h-2.2zM23 13h2.2v2.2h-2.2zM22 15h2.2v2.2h-2.2zM1 5h2.2v2.2h-2.2zM22 10h2.2v2.2h-2.2zM14 -1h2.2v2.2h-2.2zM16 -1h2.2v2.2h-2.2zM-0 17h2.2v2.2h-2.2zM21 14h2.2v2.2h-2.2z" fill="#f0b418"/><path d="M9 16h2.2v2.2h-2.2zM11 22h2.2v2.2h-2.2zM11 18h2.2v2.2h-2.2zM-1 18h2.2v2.2h-2.2zM11 10h2.2v2.2h-2.2zM14 4h2.2v2.2h-2.2zM9 23h2.2v2.2h-2.2zM0 13h2.2v2.2h-2.2zM17 6h2.2v2.2h-2.2zM7 15h2.2v2.2h-2.2zM4 22h2.2v2.2h-2.2zM2 18h2.2v2.2h-2.2zM7 11h2.2v2.2h-2.2zM14 0h2.2v2.2h-2.2zM6 -2h2.2v2.2h-2.2zM13 8h2.2v2.2h-2.2zM11 8h2.2v2.2h-2.2zM7 21h2.2v2.2h-2.2zM9 5h2.2v2.2h-2.2zM-0 13h2.2v2.2h-2.2zM13 3h2.2v2.2h-2.2zM22 5h2.2v2.2h-2.2zM10 8h2.2v2.2h-2.2zM7 13h2.2v2.2h-2.2zM8 9h2.2v2.2h-2.2zM2 21h2.2v2.2h-2.2zM10 -1h2.2v2.2h-2.2zM10 16h2.2v2.2h-2.2zM-1 -2h2.2v2.2h-2.2z" fill="#2e9ad6"/><path d="M3 2h2.2v2.2h-2.2zM9 3h2.2v2.2h-2.2zM6 3h2.2v2.2h-2.2zM2 14h2.2v2.2h-2.2zM15 22h2.2v2.2h-2.2zM16 3h2.2v2.2h-2.2zM-2 1h2.2v2.2h-2.2zM17 -2h2.2v2.2h-2.2z" fill="#7aa08a"/><path d="M9 17h2.2v2.2h-2.2zM18 5h2.2v2.2h-2.2zM4 6h2.2v2.2h-2.2zM6 22h2.2v2.2h-2.2zM16 12h2.2v2.2h-2.2zM10 16h2.2v2.2h-2.2zM12 -1h2.2v2.2h-2.2zM16 1h2.2v2.2h-2.2zM14 21h2.2v2.2h-2.2zM1 -2h2.2v2.2h-2.2zM16 12h2.2v2.2h-2.2zM16 19h2.2v2.2h-2.2zM23 22h2.2v2.2h-2.2zM3 10h2.2v2.2h-2.2zM17 -1h2.2v2.2h-2.2zM4 17h2.2v2.2h-2.2zM22 -1h2.2v2.2h-2.2zM10 11h2.2v2.2h-2.2zM-2 13h2.2v2.2h-2.2zM5 14h2.2v2.2h-2.2zM7 16h2.2v2.2h-2.2zM3 2h2.2v2.2h-2.2zM15 7h2.2v2.2h-2.2zM-0 -2h2.2v2.2h-2.2zM2 -1h2.2v2.2h-2.2zM4 18h2.2v2.2h-2.2zM18 3h2.2v2.2h-2.2zM21 8h2.2v2.2h-2.2zM5 22h2.2v2.2h-2.2zM8 6h2.2v2.2h-2.2zM21 16h2.2v2.2h-2.2zM-0 10h2.2v2.2h-2.2zM18 21h2.2v2.2h-2.2zM12 11h2.2v2.2h-2.2zM8 18h2.2v2.2h-2.2zM8 12h2.2v2.2h-2.2zM23 10h2.2v2.2h-2.2zM18 23h2.2v2.2h-2.2zM-1 13h2.2v2.2h-2.2zM-2 15h2.2v2.2h-2.2zM19 4h2.2v2.2h-2.2zM-2 10h2.2v2.2h-2.2zM1 3h2.2v2.2h-2.2zM23 10h2.2v2.2h-2.2zM4 4h2.2v2.2h-2.2zM22 13h2.2v2.2h-2.2z" fill="#f0b418"/><path d="M15 11h2.2v2.2h-2.2zM11 -2h2.2v2.2h-2.2zM6 12h2.2v2.2h-2.2zM5 14h2.2v2.2h-2.2zM13 20h2.2v2.2h-2.2zM11 16h2.2v2.2h-2.2zM9 -1h2.2v2.2h-2.2zM6 6h2.2v2.2h-2.2zM19 2h2.2v2.2h-2.2zM4 5h2.2v2.2h-2.2zM4 -2h2.2v2.2h-2.2zM18 21h2.2v2.2h-2.2zM23 3h2.2v2.2h-2.2zM8 20h2.2v2.2h-2.2zM24 17h2.2v2.2h-2.2zM8 20h2.2v2.2h-2.2zM8 1h2.2v2.2h-2.2zM3 14h2.2v2.2h-2.2zM19 5h2.2v2.2h-2.2zM4 22h2.2v2.2h-2.2zM19 10h2.2v2.2h-2.2zM17 18h2.2v2.2h-2.2zM9 4h2.2v2.2h-2.2zM9 20h2.2v2.2h-2.2zM9 9h2.2v2.2h-2.2zM4 4h2.2v2.2h-2.2zM4 9h2.2v2.2h-2.2zM23 22h2.2v2.2h-2.2z" fill="#2e9ad6"/><path d="M20 3h2.2v2.2h-2.2zM18 14h2.2v2.2h-2.2zM16 21h2.2v2.2h-2.2zM20 17h2.2v2.2h-2.2zM21 3h2.2v2.2h-2.2zM23 12h2.2v2.2h-2.2zM11 15h2.2v2.2h-2.2zM6 6h2.2v2.2h-2.2z" fill="#7aa08a"/><path d="M19 6h2.2v2.2h-2.2zM5 9h2.2v2.2h-2.2zM3 2h2.2v2.2h-2.2zM6 -2h2.2v2.2h-2.2zM9 22h2.2v2.2h-2.2zM23 6h2.2v2.2h-2.2zM24 15h2.2v2.2h-2.2zM4 20h2.2v2.2h-2.2zM6 23h2.2v2.2h-2.2zM0 7h2.2v2.2h-2.2zM6 6h2.2v2.2h-2.2zM19 6h2.2v2.2h-2.2zM-1 22h2.2v2.2h-2.2zM10 4h2.2v2.2h-2.2zM18 7h2.2v2.2h-2.2zM24 0h2.2v2.2h-2.2zM-2 23h2.2v2.2h-2.2zM1 2h2.2v2.2h-2.2zM4 17h2.2v2.2h-2.2zM15 6h2.2v2.2h-2.2zM19 7h2.2v2.2h-2.2zM5 8h2.2v2.2h-2.2zM24 22h2.2v2.2h-2.2zM11 15h2.2v2.2h-2.2zM7 18h2.2v2.2h-2.2zM8 3h2.2v2.2h-2.2zM8 6h2.2v2.2h-2.2zM18 8h2.2v2.2h-2.2zM5 -2h2.2v2.2h-2.2zM5 2h2.2v2.2h-2.2zM1 14h2.2v2.2h-2.2zM17 22h2.2v2.2h-2.2zM22 5h2.2v2.2h-2.2zM18 6h2.2v2.2h-2.2zM5 4h2.2v2.2h-2.2zM12 23h2.2v2.2h-2.2zM-1 10h2.2v2.2h-2.2zM18 -1h2.2v2.2h-2.2zM19 1h2.2v2.2h-2.2zM19 6h2.2v2.2h-2.2zM13 22h2.2v2.2h-2.2zM18 21h2.2v2.2h-2.2zM17 15h2.2v2.2h-2.2zM-1 10h2.2v2.2h-2.2zM16 1h2.2v2.2h-2.2zM-2 13h2.2v2.2h-2.2z" fill="#f0b418"/><path d="M1 16h2.2v2.2h-2.2zM2 5h2.2v2.2h-2.2zM16 3h2.2v2.2h-2.2zM4 3h2.2v2.2h-2.2zM6 16h2.2v2.2h-2.2zM18 9h2.2v2.2h-2.2zM20 15h2.2v2.2h-2.2zM2 15h2.2v2.2h-2.2zM5 17h2.2v2.2h-2.2zM17 1h2.2v2.2h-2.2zM17 13h2.2v2.2h-2.2zM11 23h2.2v2.2h-2.2zM-1 3h2.2v2.2h-2.2zM15 21h2.2v2.2h-2.2zM-0 17h2.2v2.2h-2.2zM18 16h2.2v2.2h-2.2zM7 15h2.2v2.2h-2.2zM17 3h2.2v2.2h-2.2zM7 8h2.2v2.2h-2.2zM4 -2h2.2v2.2h-2.2zM0 8h2.2v2.2h-2.2zM17 7h2.2v2.2h-2.2zM14 0h2.2v2.2h-2.2zM4 3h2.2v2.2h-2.2zM20 4h2.2v2.2h-2.2zM18 1h2.2v2.2h-2.2zM0 19h2.2v2.2h-2.2zM23 -2h2.2v2.2h-2.2z" fill="#2e9ad6"/><path d="M14 21h2.2v2.2h-2.2zM20 5h2.2v2.2h-2.2zM19 22h2.2v2.2h-2.2zM11 22h2.2v2.2h-2.2zM10 19h2.2v2.2h-2.2zM-1 12h2.2v2.2h-2.2zM12 11h2.2v2.2h-2.2zM17 10h2.2v2.2h-2.2z" fill="#7aa08a"/><path d="M13 3h2.2v2.2h-2.2zM6 1h2.2v2.2h-2.2zM13 6h2.2v2.2h-2.2zM18 2h2.2v2.2h-2.2zM2 5h2.2v2.2h-2.2zM-1 6h2.2v2.2h-2.2zM-0 15h2.2v2.2h-2.2zM15 6h2.2v2.2h-2.2zM6 -1h2.2v2.2h-2.2zM23 21h2.2v2.2h-2.2zM13 16h2.2v2.2h-2.2zM23 5h2.2v2.2h-2.2zM18 3h2.2v2.2h-2.2zM0 16h2.2v2.2h-2.2zM21 14h2.2v2.2h-2.2zM-0 0h2.2v2.2h-2.2zM-2 -1h2.2v2.2h-2.2zM8 12h2.2v2.2h-2.2zM19 6h2.2v2.2h-2.2zM1 17h2.2v2.2h-2.2zM11 5h2.2v2.2h-2.2zM17 18h2.2v2.2h-2.2zM24 -2h2.2v2.2h-2.2zM10 2h2.2v2.2h-2.2zM3 2h2.2v2.2h-2.2zM23 3h2.2v2.2h-2.2zM11 24h2.2v2.2h-2.2zM6 9h2.2v2.2h-2.2zM9 20h2.2v2.2h-2.2zM18 5h2.2v2.2h-2.2zM17 10h2.2v2.2h-2.2zM17 -2h2.2v2.2h-2.2zM-2 5h2.2v2.2h-2.2zM11 2h2.2v2.2h-2.2zM15 7h2.2v2.2h-2.2zM12 -1h2.2v2.2h-2.2zM22 10h2.2v2.2h-2.2zM14 16h2.2v2.2h-2.2zM12 12h2.2v2.2h-2.2zM13 7h2.2v2.2h-2.2zM13 -2h2.2v2.2h-2.2zM14 23h2.2v2.2h-2.2zM16 23h2.2v2.2h-2.2zM24 17h2.2v2.2h-2.2zM19 14h2.2v2.2h-2.2zM8 9h2.2v2.2h-2.2z" fill="#f0b418"/><path d="M3 11h2.2v2.2h-2.2zM8 5h2.2v2.2h-2.2zM23 18h2.2v2.2h-2.2zM6 4h2.2v2.2h-2.2zM5 2h2.2v2.2h-2.2zM14 9h2.2v2.2h-2.2zM20 14h2.2v2.2h-2.2zM6 19h2.2v2.2h-2.2zM10 13h2.2v2.2h-2.2zM2 1h2.2v2.2h-2.2zM12 6h2.2v2.2h-2.2zM11 -1h2.2v2.2h-2.2zM10 20h2.2v2.2h-2.2zM6 22h2.2v2.2h-2.2zM20 6h2.2v2.2h-2.2zM1 21h2.2v2.2h-2.2zM11 22h2.2v2.2h-2.2zM13 20h2.2v2.2h-2.2zM24 13h2.2v2.2h-2.2zM12 22h2.2v2.2h-2.2zM12 4h2.2v2.2h-2.2zM4 2h2.2v2.2h-2.2zM17 9h2.2v2.2h-2.2zM21 8h2.2v2.2h-2.2zM1 6h2.2v2.2h-2.2zM10 23h2.2v2.2h-2.2zM12 0h2.2v2.2h-2.2zM-1 22h2.2v2.2h-2.2z" fill="#2e9ad6"/><path d="M21 3h2.2v2.2h-2.2zM11 5h2.2v2.2h-2.2zM16 4h2.2v2.2h-2.2zM11 -2h2.2v2.2h-2.2zM9 9h2.2v2.2h-2.2zM22 1h2.2v2.2h-2.2zM17 22h2.2v2.2h-2.2z" fill="#7aa08a"/></pattern><pattern id="pSexB" width="24" height="24" patternUnits="userSpaceOnUse"><path d="M2 7h2.2v2.2h-2.2zM8 -2h2.2v2.2h-2.2zM8 1h2.2v2.2h-2.2zM3 4h2.2v2.2h-2.2zM2 8h2.2v2.2h-2.2zM2 22h2.2v2.2h-2.2zM3 8h2.2v2.2h-2.2zM10 16h2.2v2.2h-2.2zM8 -1h2.2v2.2h-2.2zM9 9h2.2v2.2h-2.2zM14 9h2.2v2.2h-2.2zM9 21h2.2v2.2h-2.2zM6 15h2.2v2.2h-2.2zM21 9h2.2v2.2h-2.2zM14 15h2.2v2.2h-2.2zM12 20h2.2v2.2h-2.2zM3 5h2.2v2.2h-2.2zM21 23h2.2v2.2h-2.2zM3 18h2.2v2.2h-2.2zM13 10h2.2v2.2h-2.2zM1 18h2.2v2.2h-2.2z" fill="#f0b418"/><path d="M22 19h2.2v2.2h-2.2zM15 4h2.2v2.2h-2.2zM4 18h2.2v2.2h-2.2zM21 11h2.2v2.2h-2.2zM9 22h2.2v2.2h-2.2zM19 18h2.2v2.2h-2.2zM-0 13h2.2v2.2h-2.2zM11 17h2.2v2.2h-2.2zM19 6h2.2v2.2h-2.2zM13 21h2.2v2.2h-2.2zM11 20h2.2v2.2h-2.2zM6 9h2.2v2.2h-2.2zM23 9h2.2v2.2h-2.2zM14 -1h2.2v2.2h-2.2zM9 15h2.2v2.2h-2.2zM20 16h2.2v2.2h-2.2zM-2 -0h2.2v2.2h-2.2zM22 14h2.2v2.2h-2.2zM8 -1h2.2v2.2h-2.2zM6 4h2.2v2.2h-2.2zM-0 15h2.2v2.2h-2.2zM1 10h2.2v2.2h-2.2zM5 16h2.2v2.2h-2.2zM12 -2h2.2v2.2h-2.2zM15 1h2.2v2.2h-2.2zM8 6h2.2v2.2h-2.2zM2 12h2.2v2.2h-2.2zM17 14h2.2v2.2h-2.2zM7 23h2.2v2.2h-2.2zM24 8h2.2v2.2h-2.2zM-1 15h2.2v2.2h-2.2zM7 12h2.2v2.2h-2.2zM6 -2h2.2v2.2h-2.2zM9 7h2.2v2.2h-2.2zM1 23h2.2v2.2h-2.2zM19 18h2.2v2.2h-2.2zM4 7h2.2v2.2h-2.2zM0 16h2.2v2.2h-2.2zM8 15h2.2v2.2h-2.2zM19 19h2.2v2.2h-2.2zM13 9h2.2v2.2h-2.2zM17 12h2.2v2.2h-2.2zM2 23h2.2v2.2h-2.2zM8 10h2.2v2.2h-2.2zM23 16h2.2v2.2h-2.2zM7 16h2.2v2.2h-2.2zM11 23h2.2v2.2h-2.2zM1 -2h2.2v2.2h-2.2zM20 17h2.2v2.2h-2.2zM3 4h2.2v2.2h-2.2zM21 -0h2.2v2.2h-2.2zM2 -2h2.2v2.2h-2.2zM6 17h2.2v2.2h-2.2zM8 18h2.2v2.2h-2.2zM7 15h2.2v2.2h-2.2zM19 16h2.2v2.2h-2.2zM18 14h2.2v2.2h-2.2zM2 15h2.2v2.2h-2.2zM6 7h2.2v2.2h-2.2zM22 9h2.2v2.2h-2.2zM11 10h2.2v2.2h-2.2zM21 2h2.2v2.2h-2.2zM1 11h2.2v2.2h-2.2zM-2 1h2.2v2.2h-2.2zM23 8h2.2v2.2h-2.2zM4 12h2.2v2.2h-2.2zM11 -2h2.2v2.2h-2.2zM2 5h2.2v2.2h-2.2zM-1 10h2.2v2.2h-2.2z" fill="#2e9ad6"/><path d="M3 16h2.2v2.2h-2.2zM3 20h2.2v2.2h-2.2zM5 12h2.2v2.2h-2.2zM14 19h2.2v2.2h-2.2zM4 1h2.2v2.2h-2.2zM5 10h2.2v2.2h-2.2zM21 15h2.2v2.2h-2.2zM18 18h2.2v2.2h-2.2zM21 10h2.2v2.2h-2.2zM16 15h2.2v2.2h-2.2zM11 24h2.2v2.2h-2.2zM9 10h2.2v2.2h-2.2zM8 13h2.2v2.2h-2.2zM10 13h2.2v2.2h-2.2zM12 4h2.2v2.2h-2.2zM22 5h2.2v2.2h-2.2zM19 24h2.2v2.2h-2.2zM21 -1h2.2v2.2h-2.2zM12 10h2.2v2.2h-2.2zM14 17h2.2v2.2h-2.2zM21 2h2.2v2.2h-2.2z" fill="#f0b418"/><path d="M20 24h2.2v2.2h-2.2zM12 7h2.2v2.2h-2.2zM22 14h2.2v2.2h-2.2zM6 18h2.2v2.2h-2.2zM9 -2h2.2v2.2h-2.2zM21 10h2.2v2.2h-2.2zM3 15h2.2v2.2h-2.2zM4 12h2.2v2.2h-2.2zM5 22h2.2v2.2h-2.2zM2 22h2.2v2.2h-2.2zM22 4h2.2v2.2h-2.2zM21 9h2.2v2.2h-2.2zM-1 9h2.2v2.2h-2.2zM9 23h2.2v2.2h-2.2zM23 6h2.2v2.2h-2.2zM22 24h2.2v2.2h-2.2zM10 23h2.2v2.2h-2.2zM20 2h2.2v2.2h-2.2zM17 2h2.2v2.2h-2.2zM16 23h2.2v2.2h-2.2zM4 17h2.2v2.2h-2.2zM18 6h2.2v2.2h-2.2zM11 12h2.2v2.2h-2.2zM4 7h2.2v2.2h-2.2zM8 2h2.2v2.2h-2.2zM5 10h2.2v2.2h-2.2zM5 16h2.2v2.2h-2.2zM1 17h2.2v2.2h-2.2zM7 -1h2.2v2.2h-2.2zM-0 8h2.2v2.2h-2.2zM14 5h2.2v2.2h-2.2zM13 7h2.2v2.2h-2.2zM9 7h2.2v2.2h-2.2zM6 19h2.2v2.2h-2.2zM1 -1h2.2v2.2h-2.2zM9 6h2.2v2.2h-2.2zM20 8h2.2v2.2h-2.2zM7 5h2.2v2.2h-2.2zM7 10h2.2v2.2h-2.2zM19 11h2.2v2.2h-2.2zM3 6h2.2v2.2h-2.2zM4 12h2.2v2.2h-2.2zM2 -1h2.2v2.2h-2.2zM16 16h2.2v2.2h-2.2zM-1 16h2.2v2.2h-2.2zM15 19h2.2v2.2h-2.2zM11 -1h2.2v2.2h-2.2zM17 6h2.2v2.2h-2.2zM21 5h2.2v2.2h-2.2zM7 22h2.2v2.2h-2.2zM19 7h2.2v2.2h-2.2zM17 11h2.2v2.2h-2.2zM5 5h2.2v2.2h-2.2zM22 11h2.2v2.2h-2.2zM10 0h2.2v2.2h-2.2zM10 16h2.2v2.2h-2.2zM5 19h2.2v2.2h-2.2zM4 13h2.2v2.2h-2.2zM9 19h2.2v2.2h-2.2zM-2 9h2.2v2.2h-2.2zM10 21h2.2v2.2h-2.2zM15 15h2.2v2.2h-2.2zM16 7h2.2v2.2h-2.2zM9 4h2.2v2.2h-2.2zM-1 8h2.2v2.2h-2.2zM23 22h2.2v2.2h-2.2zM22 3h2.2v2.2h-2.2zM3 20h2.2v2.2h-2.2zM17 14h2.2v2.2h-2.2z" fill="#2e9ad6"/><path d="M6 20h2.2v2.2h-2.2zM13 10h2.2v2.2h-2.2zM17 0h2.2v2.2h-2.2zM10 13h2.2v2.2h-2.2zM20 16h2.2v2.2h-2.2zM10 4h2.2v2.2h-2.2zM21 17h2.2v2.2h-2.2zM6 8h2.2v2.2h-2.2zM19 9h2.2v2.2h-2.2zM14 8h2.2v2.2h-2.2zM11 -0h2.2v2.2h-2.2zM18 1h2.2v2.2h-2.2zM12 15h2.2v2.2h-2.2zM8 19h2.2v2.2h-2.2zM21 9h2.2v2.2h-2.2zM-2 5h2.2v2.2h-2.2zM19 -0h2.2v2.2h-2.2zM17 17h2.2v2.2h-2.2zM7 3h2.2v2.2h-2.2zM3 11h2.2v2.2h-2.2zM7 12h2.2v2.2h-2.2z" fill="#f0b418"/><path d="M20 -0h2.2v2.2h-2.2zM2 22h2.2v2.2h-2.2zM22 2h2.2v2.2h-2.2zM2 12h2.2v2.2h-2.2zM24 10h2.2v2.2h-2.2zM11 3h2.2v2.2h-2.2zM11 2h2.2v2.2h-2.2zM4 22h2.2v2.2h-2.2zM23 19h2.2v2.2h-2.2zM2 -2h2.2v2.2h-2.2zM-2 4h2.2v2.2h-2.2zM24 3h2.2v2.2h-2.2zM3 7h2.2v2.2h-2.2zM9 -1h2.2v2.2h-2.2zM-1 6h2.2v2.2h-2.2zM22 -0h2.2v2.2h-2.2zM10 -1h2.2v2.2h-2.2zM6 21h2.2v2.2h-2.2zM24 3h2.2v2.2h-2.2zM16 -1h2.2v2.2h-2.2zM9 22h2.2v2.2h-2.2zM6 2h2.2v2.2h-2.2zM16 10h2.2v2.2h-2.2zM22 17h2.2v2.2h-2.2zM16 10h2.2v2.2h-2.2zM13 24h2.2v2.2h-2.2zM19 7h2.2v2.2h-2.2zM14 17h2.2v2.2h-2.2zM0 2h2.2v2.2h-2.2zM19 21h2.2v2.2h-2.2zM12 8h2.2v2.2h-2.2zM17 19h2.2v2.2h-2.2zM17 20h2.2v2.2h-2.2zM16 15h2.2v2.2h-2.2zM16 23h2.2v2.2h-2.2zM17 21h2.2v2.2h-2.2zM22 11h2.2v2.2h-2.2zM22 6h2.2v2.2h-2.2zM22 3h2.2v2.2h-2.2zM1 9h2.2v2.2h-2.2zM2 2h2.2v2.2h-2.2zM21 9h2.2v2.2h-2.2zM3 16h2.2v2.2h-2.2zM10 6h2.2v2.2h-2.2zM4 15h2.2v2.2h-2.2zM5 11h2.2v2.2h-2.2zM16 3h2.2v2.2h-2.2zM4 20h2.2v2.2h-2.2zM8 1h2.2v2.2h-2.2zM7 -2h2.2v2.2h-2.2zM19 18h2.2v2.2h-2.2zM11 5h2.2v2.2h-2.2zM9 12h2.2v2.2h-2.2zM-2 11h2.2v2.2h-2.2zM6 20h2.2v2.2h-2.2zM5 2h2.2v2.2h-2.2zM17 5h2.2v2.2h-2.2zM2 20h2.2v2.2h-2.2zM8 3h2.2v2.2h-2.2zM2 23h2.2v2.2h-2.2zM16 13h2.2v2.2h-2.2zM11 3h2.2v2.2h-2.2zM7 13h2.2v2.2h-2.2zM13 7h2.2v2.2h-2.2zM20 9h2.2v2.2h-2.2zM-1 22h2.2v2.2h-2.2zM-2 3h2.2v2.2h-2.2zM6 6h2.2v2.2h-2.2zM10 7h2.2v2.2h-2.2z" fill="#2e9ad6"/><path d="M8 22h2.2v2.2h-2.2zM18 14h2.2v2.2h-2.2zM0 5h2.2v2.2h-2.2zM14 4h2.2v2.2h-2.2zM17 12h2.2v2.2h-2.2zM20 11h2.2v2.2h-2.2zM9 16h2.2v2.2h-2.2zM8 23h2.2v2.2h-2.2zM14 6h2.2v2.2h-2.2zM12 3h2.2v2.2h-2.2zM11 5h2.2v2.2h-2.2zM12 11h2.2v2.2h-2.2zM15 21h2.2v2.2h-2.2zM9 14h2.2v2.2h-2.2zM4 14h2.2v2.2h-2.2zM1 6h2.2v2.2h-2.2zM20 11h2.2v2.2h-2.2zM14 8h2.2v2.2h-2.2zM11 21h2.2v2.2h-2.2zM4 5h2.2v2.2h-2.2z" fill="#f0b418"/><path d="M8 18h2.2v2.2h-2.2zM2 -2h2.2v2.2h-2.2zM-2 2h2.2v2.2h-2.2zM5 16h2.2v2.2h-2.2zM-0 10h2.2v2.2h-2.2zM24 13h2.2v2.2h-2.2zM21 1h2.2v2.2h-2.2zM4 -2h2.2v2.2h-2.2zM-1 19h2.2v2.2h-2.2zM16 18h2.2v2.2h-2.2zM3 11h2.2v2.2h-2.2zM-0 3h2.2v2.2h-2.2zM14 23h2.2v2.2h-2.2zM13 21h2.2v2.2h-2.2zM2 0h2.2v2.2h-2.2zM-2 24h2.2v2.2h-2.2zM14 0h2.2v2.2h-2.2zM8 23h2.2v2.2h-2.2zM-0 3h2.2v2.2h-2.2zM24 15h2.2v2.2h-2.2zM12 14h2.2v2.2h-2.2zM9 8h2.2v2.2h-2.2zM12 22h2.2v2.2h-2.2zM-2 17h2.2v2.2h-2.2zM2 16h2.2v2.2h-2.2zM13 -0h2.2v2.2h-2.2zM12 3h2.2v2.2h-2.2zM17 9h2.2v2.2h-2.2zM1 8h2.2v2.2h-2.2zM23 15h2.2v2.2h-2.2zM12 14h2.2v2.2h-2.2zM6 22h2.2v2.2h-2.2zM18 5h2.2v2.2h-2.2zM7 1h2.2v2.2h-2.2zM16 -1h2.2v2.2h-2.2zM21 11h2.2v2.2h-2.2zM9 18h2.2v2.2h-2.2zM-2 6h2.2v2.2h-2.2zM6 21h2.2v2.2h-2.2zM15 19h2.2v2.2h-2.2zM10 12h2.2v2.2h-2.2zM15 14h2.2v2.2h-2.2zM8 8h2.2v2.2h-2.2zM11 20h2.2v2.2h-2.2zM15 4h2.2v2.2h-2.2zM14 18h2.2v2.2h-2.2zM1 22h2.2v2.2h-2.2zM0 21h2.2v2.2h-2.2zM2 2h2.2v2.2h-2.2zM21 24h2.2v2.2h-2.2zM2 22h2.2v2.2h-2.2zM7 18h2.2v2.2h-2.2zM1 18h2.2v2.2h-2.2zM19 5h2.2v2.2h-2.2zM19 7h2.2v2.2h-2.2zM11 13h2.2v2.2h-2.2zM16 9h2.2v2.2h-2.2zM6 2h2.2v2.2h-2.2zM1 18h2.2v2.2h-2.2zM2 -1h2.2v2.2h-2.2zM14 6h2.2v2.2h-2.2zM15 16h2.2v2.2h-2.2zM22 1h2.2v2.2h-2.2zM9 10h2.2v2.2h-2.2zM11 18h2.2v2.2h-2.2zM11 22h2.2v2.2h-2.2zM17 0h2.2v2.2h-2.2zM23 10h2.2v2.2h-2.2zM7 7h2.2v2.2h-2.2z" fill="#2e9ad6"/></pattern><pattern id="pSexY" width="24" height="24" patternUnits="userSpaceOnUse"><path d="M2 19h2.2v2.2h-2.2zM16 19h2.2v2.2h-2.2zM16 3h2.2v2.2h-2.2zM10 9h2.2v2.2h-2.2zM23 -1h2.2v2.2h-2.2zM6 19h2.2v2.2h-2.2zM4 17h2.2v2.2h-2.2zM0 23h2.2v2.2h-2.2zM3 20h2.2v2.2h-2.2zM5 17h2.2v2.2h-2.2zM8 22h2.2v2.2h-2.2zM-2 15h2.2v2.2h-2.2zM3 3h2.2v2.2h-2.2zM2 11h2.2v2.2h-2.2zM24 5h2.2v2.2h-2.2zM23 20h2.2v2.2h-2.2zM13 9h2.2v2.2h-2.2zM14 9h2.2v2.2h-2.2zM1 11h2.2v2.2h-2.2zM17 23h2.2v2.2h-2.2zM19 6h2.2v2.2h-2.2zM8 19h2.2v2.2h-2.2zM19 5h2.2v2.2h-2.2zM20 -0h2.2v2.2h-2.2zM21 6h2.2v2.2h-2.2zM8 21h2.2v2.2h-2.2zM11 1h2.2v2.2h-2.2zM7 18h2.2v2.2h-2.2zM-2 23h2.2v2.2h-2.2zM18 4h2.2v2.2h-2.2zM3 15h2.2v2.2h-2.2zM3 22h2.2v2.2h-2.2zM5 19h2.2v2.2h-2.2zM21 23h2.2v2.2h-2.2zM24 10h2.2v2.2h-2.2zM11 24h2.2v2.2h-2.2zM13 13h2.2v2.2h-2.2zM12 1h2.2v2.2h-2.2zM8 19h2.2v2.2h-2.2zM13 15h2.2v2.2h-2.2zM9 24h2.2v2.2h-2.2zM5 19h2.2v2.2h-2.2zM18 15h2.2v2.2h-2.2zM2 8h2.2v2.2h-2.2zM7 18h2.2v2.2h-2.2zM7 5h2.2v2.2h-2.2zM19 13h2.2v2.2h-2.2zM24 5h2.2v2.2h-2.2zM19 2h2.2v2.2h-2.2zM17 8h2.2v2.2h-2.2zM2 21h2.2v2.2h-2.2zM22 11h2.2v2.2h-2.2zM-2 6h2.2v2.2h-2.2zM10 23h2.2v2.2h-2.2zM12 19h2.2v2.2h-2.2zM12 24h2.2v2.2h-2.2zM17 18h2.2v2.2h-2.2zM19 -1h2.2v2.2h-2.2zM3 10h2.2v2.2h-2.2zM-1 2h2.2v2.2h-2.2zM6 6h2.2v2.2h-2.2zM-0 17h2.2v2.2h-2.2zM18 3h2.2v2.2h-2.2zM-1 8h2.2v2.2h-2.2zM12 6h2.2v2.2h-2.2zM18 10h2.2v2.2h-2.2zM-1 13h2.2v2.2h-2.2zM4 8h2.2v2.2h-2.2zM8 6h2.2v2.2h-2.2z" fill="#f0b418"/><path d="M24 21h2.2v2.2h-2.2zM15 5h2.2v2.2h-2.2zM-1 20h2.2v2.2h-2.2zM9 24h2.2v2.2h-2.2zM8 23h2.2v2.2h-2.2zM14 21h2.2v2.2h-2.2zM-2 14h2.2v2.2h-2.2zM22 4h2.2v2.2h-2.2zM12 3h2.2v2.2h-2.2zM16 3h2.2v2.2h-2.2zM22 11h2.2v2.2h-2.2zM10 4h2.2v2.2h-2.2zM8 6h2.2v2.2h-2.2zM13 6h2.2v2.2h-2.2zM8 3h2.2v2.2h-2.2zM8 10h2.2v2.2h-2.2zM23 2h2.2v2.2h-2.2zM10 23h2.2v2.2h-2.2zM3 23h2.2v2.2h-2.2zM4 8h2.2v2.2h-2.2zM1 21h2.2v2.2h-2.2zM17 8h2.2v2.2h-2.2zM7 8h2.2v2.2h-2.2z" fill="#2e9ad6"/><path d="M5 3h2.2v2.2h-2.2zM2 21h2.2v2.2h-2.2zM16 16h2.2v2.2h-2.2zM18 16h2.2v2.2h-2.2zM-1 23h2.2v2.2h-2.2zM20 20h2.2v2.2h-2.2zM7 6h2.2v2.2h-2.2zM0 -1h2.2v2.2h-2.2zM17 19h2.2v2.2h-2.2zM19 15h2.2v2.2h-2.2zM8 -2h2.2v2.2h-2.2zM22 19h2.2v2.2h-2.2zM11 19h2.2v2.2h-2.2zM14 6h2.2v2.2h-2.2zM-0 5h2.2v2.2h-2.2zM-1 20h2.2v2.2h-2.2zM10 2h2.2v2.2h-2.2zM18 15h2.2v2.2h-2.2zM17 23h2.2v2.2h-2.2zM17 -1h2.2v2.2h-2.2zM5 17h2.2v2.2h-2.2zM0 6h2.2v2.2h-2.2zM21 20h2.2v2.2h-2.2zM20 22h2.2v2.2h-2.2zM18 7h2.2v2.2h-2.2zM2 18h2.2v2.2h-2.2zM6 19h2.2v2.2h-2.2zM15 12h2.2v2.2h-2.2zM-2 -1h2.2v2.2h-2.2zM24 12h2.2v2.2h-2.2zM22 16h2.2v2.2h-2.2zM3 -2h2.2v2.2h-2.2zM2 23h2.2v2.2h-2.2zM21 -1h2.2v2.2h-2.2zM-0 10h2.2v2.2h-2.2zM11 -0h2.2v2.2h-2.2zM2 16h2.2v2.2h-2.2zM15 7h2.2v2.2h-2.2zM16 9h2.2v2.2h-2.2zM19 17h2.2v2.2h-2.2zM9 -0h2.2v2.2h-2.2zM18 12h2.2v2.2h-2.2zM18 16h2.2v2.2h-2.2zM14 4h2.2v2.2h-2.2zM23 0h2.2v2.2h-2.2zM9 3h2.2v2.2h-2.2zM21 1h2.2v2.2h-2.2zM-0 5h2.2v2.2h-2.2zM21 3h2.2v2.2h-2.2zM10 18h2.2v2.2h-2.2zM23 2h2.2v2.2h-2.2zM-2 11h2.2v2.2h-2.2zM3 24h2.2v2.2h-2.2zM10 -1h2.2v2.2h-2.2zM21 10h2.2v2.2h-2.2zM12 -0h2.2v2.2h-2.2zM7 17h2.2v2.2h-2.2zM5 3h2.2v2.2h-2.2zM10 13h2.2v2.2h-2.2zM17 9h2.2v2.2h-2.2zM19 11h2.2v2.2h-2.2zM3 1h2.2v2.2h-2.2zM8 14h2.2v2.2h-2.2zM3 10h2.2v2.2h-2.2zM7 19h2.2v2.2h-2.2zM10 22h2.2v2.2h-2.2zM9 7h2.2v2.2h-2.2zM13 0h2.2v2.2h-2.2zM16 3h2.2v2.2h-2.2z" fill="#f0b418"/><path d="M-0 21h2.2v2.2h-2.2zM24 11h2.2v2.2h-2.2zM7 9h2.2v2.2h-2.2zM9 -0h2.2v2.2h-2.2zM8 -1h2.2v2.2h-2.2zM18 1h2.2v2.2h-2.2zM23 19h2.2v2.2h-2.2zM-2 4h2.2v2.2h-2.2zM20 5h2.2v2.2h-2.2zM8 7h2.2v2.2h-2.2zM-2 11h2.2v2.2h-2.2zM8 19h2.2v2.2h-2.2zM0 11h2.2v2.2h-2.2zM22 1h2.2v2.2h-2.2zM15 2h2.2v2.2h-2.2zM8 23h2.2v2.2h-2.2zM-1 2h2.2v2.2h-2.2zM10 -1h2.2v2.2h-2.2zM3 -1h2.2v2.2h-2.2zM18 16h2.2v2.2h-2.2zM6 19h2.2v2.2h-2.2zM7 15h2.2v2.2h-2.2zM19 17h2.2v2.2h-2.2z" fill="#2e9ad6"/><path d="M12 17h2.2v2.2h-2.2zM6 15h2.2v2.2h-2.2zM5 23h2.2v2.2h-2.2zM14 12h2.2v2.2h-2.2zM-1 -1h2.2v2.2h-2.2zM4 4h2.2v2.2h-2.2zM0 10h2.2v2.2h-2.2zM6 1h2.2v2.2h-2.2zM13 20h2.2v2.2h-2.2zM22 19h2.2v2.2h-2.2zM2 8h2.2v2.2h-2.2zM-2 19h2.2v2.2h-2.2zM4 23h2.2v2.2h-2.2zM12 9h2.2v2.2h-2.2zM0 2h2.2v2.2h-2.2zM14 0h2.2v2.2h-2.2zM19 14h2.2v2.2h-2.2zM13 22h2.2v2.2h-2.2zM17 -1h2.2v2.2h-2.2zM8 21h2.2v2.2h-2.2zM15 8h2.2v2.2h-2.2zM2 8h2.2v2.2h-2.2zM18 19h2.2v2.2h-2.2zM20 -2h2.2v2.2h-2.2zM7 19h2.2v2.2h-2.2zM16 2h2.2v2.2h-2.2zM19 13h2.2v2.2h-2.2zM22 23h2.2v2.2h-2.2zM14 21h2.2v2.2h-2.2zM-0 12h2.2v2.2h-2.2zM-2 16h2.2v2.2h-2.2zM9 20h2.2v2.2h-2.2zM2 -1h2.2v2.2h-2.2zM9 3h2.2v2.2h-2.2zM14 13h2.2v2.2h-2.2zM5 1h2.2v2.2h-2.2zM7 2h2.2v2.2h-2.2zM6 4h2.2v2.2h-2.2zM5 23h2.2v2.2h-2.2zM6 17h2.2v2.2h-2.2zM21 1h2.2v2.2h-2.2zM19 5h2.2v2.2h-2.2zM13 14h2.2v2.2h-2.2zM3 18h2.2v2.2h-2.2zM-1 0h2.2v2.2h-2.2zM6 14h2.2v2.2h-2.2zM8 12h2.2v2.2h-2.2zM1 7h2.2v2.2h-2.2zM3 20h2.2v2.2h-2.2zM11 19h2.2v2.2h-2.2zM-1 2h2.2v2.2h-2.2zM20 7h2.2v2.2h-2.2zM3 -0h2.2v2.2h-2.2zM18 1h2.2v2.2h-2.2zM6 11h2.2v2.2h-2.2zM0 8h2.2v2.2h-2.2zM13 14h2.2v2.2h-2.2zM16 16h2.2v2.2h-2.2zM9 10h2.2v2.2h-2.2zM14 9h2.2v2.2h-2.2zM21 3h2.2v2.2h-2.2zM2 19h2.2v2.2h-2.2zM11 20h2.2v2.2h-2.2zM15 8h2.2v2.2h-2.2zM4 5h2.2v2.2h-2.2zM10 -2h2.2v2.2h-2.2zM21 9h2.2v2.2h-2.2zM10 2h2.2v2.2h-2.2zM4 6h2.2v2.2h-2.2z" fill="#f0b418"/><path d="M23 6h2.2v2.2h-2.2zM-0 11h2.2v2.2h-2.2zM20 8h2.2v2.2h-2.2zM3 15h2.2v2.2h-2.2zM12 10h2.2v2.2h-2.2zM16 7h2.2v2.2h-2.2zM-1 19h2.2v2.2h-2.2zM10 13h2.2v2.2h-2.2zM16 16h2.2v2.2h-2.2zM11 22h2.2v2.2h-2.2zM21 10h2.2v2.2h-2.2zM9 22h2.2v2.2h-2.2zM14 20h2.2v2.2h-2.2zM7 0h2.2v2.2h-2.2zM6 13h2.2v2.2h-2.2zM8 -1h2.2v2.2h-2.2zM22 9h2.2v2.2h-2.2zM5 4h2.2v2.2h-2.2zM22 12h2.2v2.2h-2.2zM12 13h2.2v2.2h-2.2zM11 21h2.2v2.2h-2.2zM6 11h2.2v2.2h-2.2z" fill="#2e9ad6"/><path d="M10 21h2.2v2.2h-2.2zM11 17h2.2v2.2h-2.2zM5 -1h2.2v2.2h-2.2zM23 23h2.2v2.2h-2.2zM6 18h2.2v2.2h-2.2zM5 8h2.2v2.2h-2.2zM0 21h2.2v2.2h-2.2zM17 14h2.2v2.2h-2.2zM13 6h2.2v2.2h-2.2zM-2 19h2.2v2.2h-2.2zM22 15h2.2v2.2h-2.2zM11 18h2.2v2.2h-2.2zM4 -1h2.2v2.2h-2.2zM12 8h2.2v2.2h-2.2zM10 20h2.2v2.2h-2.2zM6 15h2.2v2.2h-2.2zM20 21h2.2v2.2h-2.2zM13 -2h2.2v2.2h-2.2zM11 15h2.2v2.2h-2.2zM19 1h2.2v2.2h-2.2zM6 12h2.2v2.2h-2.2zM3 7h2.2v2.2h-2.2zM20 24h2.2v2.2h-2.2zM14 7h2.2v2.2h-2.2zM20 4h2.2v2.2h-2.2zM16 21h2.2v2.2h-2.2zM3 9h2.2v2.2h-2.2zM22 -1h2.2v2.2h-2.2zM6 2h2.2v2.2h-2.2zM20 21h2.2v2.2h-2.2zM12 7h2.2v2.2h-2.2zM18 11h2.2v2.2h-2.2zM9 10h2.2v2.2h-2.2zM12 14h2.2v2.2h-2.2zM6 8h2.2v2.2h-2.2zM6 19h2.2v2.2h-2.2zM16 5h2.2v2.2h-2.2zM20 11h2.2v2.2h-2.2zM5 -1h2.2v2.2h-2.2zM17 8h2.2v2.2h-2.2zM9 18h2.2v2.2h-2.2zM0 6h2.2v2.2h-2.2zM5 7h2.2v2.2h-2.2zM2 6h2.2v2.2h-2.2zM8 5h2.2v2.2h-2.2zM7 13h2.2v2.2h-2.2zM5 15h2.2v2.2h-2.2zM4 13h2.2v2.2h-2.2zM18 14h2.2v2.2h-2.2zM13 1h2.2v2.2h-2.2zM17 15h2.2v2.2h-2.2zM22 6h2.2v2.2h-2.2zM16 14h2.2v2.2h-2.2zM12 12h2.2v2.2h-2.2zM14 21h2.2v2.2h-2.2zM3 10h2.2v2.2h-2.2zM19 23h2.2v2.2h-2.2zM12 18h2.2v2.2h-2.2zM23 2h2.2v2.2h-2.2zM7 11h2.2v2.2h-2.2zM24 17h2.2v2.2h-2.2zM15 2h2.2v2.2h-2.2zM23 8h2.2v2.2h-2.2zM3 13h2.2v2.2h-2.2zM5 8h2.2v2.2h-2.2zM23 13h2.2v2.2h-2.2zM11 13h2.2v2.2h-2.2zM5 20h2.2v2.2h-2.2z" fill="#f0b418"/><path d="M-1 6h2.2v2.2h-2.2zM23 20h2.2v2.2h-2.2zM6 7h2.2v2.2h-2.2zM6 16h2.2v2.2h-2.2zM10 20h2.2v2.2h-2.2zM22 14h2.2v2.2h-2.2zM13 19h2.2v2.2h-2.2zM14 3h2.2v2.2h-2.2zM13 3h2.2v2.2h-2.2zM11 -2h2.2v2.2h-2.2zM1 20h2.2v2.2h-2.2zM9 -2h2.2v2.2h-2.2zM6 21h2.2v2.2h-2.2zM17 8h2.2v2.2h-2.2zM18 11h2.2v2.2h-2.2zM5 13h2.2v2.2h-2.2zM-2 9h2.2v2.2h-2.2zM10 1h2.2v2.2h-2.2zM-2 12h2.2v2.2h-2.2zM0 21h2.2v2.2h-2.2zM10 6h2.2v2.2h-2.2zM10 19h2.2v2.2h-2.2z" fill="#2e9ad6"/></pattern><pattern id="pPCW" width="24" height="24" patternUnits="userSpaceOnUse"><path d="M6 20h2.2v2.2h-2.2zM2 -0h2.2v2.2h-2.2zM3 4h2.2v2.2h-2.2zM4 16h2.2v2.2h-2.2zM19 7h2.2v2.2h-2.2zM2 -2h2.2v2.2h-2.2zM13 -1h2.2v2.2h-2.2zM-0 16h2.2v2.2h-2.2zM20 -1h2.2v2.2h-2.2zM18 24h2.2v2.2h-2.2zM8 -2h2.2v2.2h-2.2zM6 13h2.2v2.2h-2.2zM22 13h2.2v2.2h-2.2zM2 17h2.2v2.2h-2.2zM14 24h2.2v2.2h-2.2zM16 9h2.2v2.2h-2.2zM17 -0h2.2v2.2h-2.2zM22 16h2.2v2.2h-2.2zM3 19h2.2v2.2h-2.2zM-2 13h2.2v2.2h-2.2zM3 8h2.2v2.2h-2.2zM14 2h2.2v2.2h-2.2zM5 16h2.2v2.2h-2.2zM8 10h2.2v2.2h-2.2zM20 20h2.2v2.2h-2.2zM16 2h2.2v2.2h-2.2zM23 11h2.2v2.2h-2.2zM13 -1h2.2v2.2h-2.2zM7 22h2.2v2.2h-2.2zM14 21h2.2v2.2h-2.2zM21 4h2.2v2.2h-2.2zM-0 2h2.2v2.2h-2.2zM12 13h2.2v2.2h-2.2zM14 3h2.2v2.2h-2.2zM19 12h2.2v2.2h-2.2z" fill="#3cb46e"/><path d="M20 14h2.2v2.2h-2.2zM16 19h2.2v2.2h-2.2zM21 8h2.2v2.2h-2.2zM19 13h2.2v2.2h-2.2zM22 18h2.2v2.2h-2.2zM16 13h2.2v2.2h-2.2zM16 20h2.2v2.2h-2.2zM2 15h2.2v2.2h-2.2zM11 18h2.2v2.2h-2.2zM23 9h2.2v2.2h-2.2zM17 18h2.2v2.2h-2.2zM12 22h2.2v2.2h-2.2zM3 8h2.2v2.2h-2.2zM18 5h2.2v2.2h-2.2zM18 5h2.2v2.2h-2.2zM7 3h2.2v2.2h-2.2zM6 4h2.2v2.2h-2.2zM-1 21h2.2v2.2h-2.2zM2 18h2.2v2.2h-2.2zM14 6h2.2v2.2h-2.2z" fill="#2a8a8c"/><path d="M6 24h2.2v2.2h-2.2zM4 15h2.2v2.2h-2.2zM8 3h2.2v2.2h-2.2zM6 17h2.2v2.2h-2.2zM22 3h2.2v2.2h-2.2zM13 6h2.2v2.2h-2.2zM-0 10h2.2v2.2h-2.2zM15 14h2.2v2.2h-2.2zM10 17h2.2v2.2h-2.2zM6 22h2.2v2.2h-2.2zM21 3h2.2v2.2h-2.2z" fill="#3b5a8c"/><path d="M16 9h2.2v2.2h-2.2zM19 19h2.2v2.2h-2.2zM18 12h2.2v2.2h-2.2zM23 17h2.2v2.2h-2.2zM14 3h2.2v2.2h-2.2zM21 6h2.2v2.2h-2.2zM14 4h2.2v2.2h-2.2zM24 -2h2.2v2.2h-2.2zM-1 22h2.2v2.2h-2.2zM5 17h2.2v2.2h-2.2zM20 21h2.2v2.2h-2.2zM24 24h2.2v2.2h-2.2zM15 14h2.2v2.2h-2.2zM12 15h2.2v2.2h-2.2zM-2 5h2.2v2.2h-2.2z" fill="#6cc85a"/><path d="M8 1h2.2v2.2h-2.2zM7 4h2.2v2.2h-2.2zM11 19h2.2v2.2h-2.2zM19 22h2.2v2.2h-2.2zM13 20h2.2v2.2h-2.2zM11 14h2.2v2.2h-2.2zM15 23h2.2v2.2h-2.2z" fill="#c8e020"/><path d="M7 2h2.2v2.2h-2.2zM15 8h2.2v2.2h-2.2zM1 20h2.2v2.2h-2.2zM3 6h2.2v2.2h-2.2zM5 23h2.2v2.2h-2.2zM1 0h2.2v2.2h-2.2zM20 4h2.2v2.2h-2.2zM13 11h2.2v2.2h-2.2zM5 1h2.2v2.2h-2.2zM18 -0h2.2v2.2h-2.2zM14 20h2.2v2.2h-2.2zM2 22h2.2v2.2h-2.2zM-2 13h2.2v2.2h-2.2zM21 4h2.2v2.2h-2.2zM14 -0h2.2v2.2h-2.2zM13 8h2.2v2.2h-2.2zM21 5h2.2v2.2h-2.2zM-2 16h2.2v2.2h-2.2zM18 17h2.2v2.2h-2.2zM8 8h2.2v2.2h-2.2zM2 18h2.2v2.2h-2.2zM7 3h2.2v2.2h-2.2zM0 12h2.2v2.2h-2.2zM18 12h2.2v2.2h-2.2zM16 6h2.2v2.2h-2.2zM14 13h2.2v2.2h-2.2zM-1 11h2.2v2.2h-2.2zM12 19h2.2v2.2h-2.2zM7 -2h2.2v2.2h-2.2zM12 11h2.2v2.2h-2.2zM11 11h2.2v2.2h-2.2zM19 4h2.2v2.2h-2.2zM14 11h2.2v2.2h-2.2zM21 0h2.2v2.2h-2.2zM5 16h2.2v2.2h-2.2z" fill="#3cb46e"/><path d="M12 11h2.2v2.2h-2.2zM3 4h2.2v2.2h-2.2zM4 20h2.2v2.2h-2.2zM13 10h2.2v2.2h-2.2zM22 17h2.2v2.2h-2.2zM17 11h2.2v2.2h-2.2zM21 1h2.2v2.2h-2.2zM15 18h2.2v2.2h-2.2zM2 1h2.2v2.2h-2.2zM-1 9h2.2v2.2h-2.2zM15 5h2.2v2.2h-2.2zM12 -2h2.2v2.2h-2.2zM16 15h2.2v2.2h-2.2zM2 14h2.2v2.2h-2.2zM5 17h2.2v2.2h-2.2zM2 4h2.2v2.2h-2.2zM3 12h2.2v2.2h-2.2zM3 11h2.2v2.2h-2.2zM3 15h2.2v2.2h-2.2zM21 9h2.2v2.2h-2.2z" fill="#2a8a8c"/><path d="M6 -0h2.2v2.2h-2.2zM21 22h2.2v2.2h-2.2zM3 16h2.2v2.2h-2.2zM12 24h2.2v2.2h-2.2zM-2 3h2.2v2.2h-2.2zM1 20h2.2v2.2h-2.2zM24 12h2.2v2.2h-2.2zM3 7h2.2v2.2h-2.2zM8 8h2.2v2.2h-2.2zM6 -2h2.2v2.2h-2.2z" fill="#3b5a8c"/><path d="M12 4h2.2v2.2h-2.2zM12 18h2.2v2.2h-2.2zM11 14h2.2v2.2h-2.2zM-1 17h2.2v2.2h-2.2zM6 1h2.2v2.2h-2.2zM0 10h2.2v2.2h-2.2zM6 19h2.2v2.2h-2.2zM-0 22h2.2v2.2h-2.2zM2 20h2.2v2.2h-2.2zM21 15h2.2v2.2h-2.2zM8 5h2.2v2.2h-2.2zM24 -0h2.2v2.2h-2.2zM3 5h2.2v2.2h-2.2zM20 23h2.2v2.2h-2.2zM3 6h2.2v2.2h-2.2z" fill="#6cc85a"/><path d="M11 7h2.2v2.2h-2.2zM13 18h2.2v2.2h-2.2zM5 11h2.2v2.2h-2.2zM19 -2h2.2v2.2h-2.2zM15 23h2.2v2.2h-2.2zM8 1h2.2v2.2h-2.2zM15 -1h2.2v2.2h-2.2z" fill="#c8e020"/><path d="M16 7h2.2v2.2h-2.2zM10 22h2.2v2.2h-2.2zM19 3h2.2v2.2h-2.2zM17 9h2.2v2.2h-2.2zM5 -1h2.2v2.2h-2.2zM19 16h2.2v2.2h-2.2zM17 20h2.2v2.2h-2.2zM2 3h2.2v2.2h-2.2zM1 13h2.2v2.2h-2.2zM0 8h2.2v2.2h-2.2zM22 2h2.2v2.2h-2.2zM2 -2h2.2v2.2h-2.2zM13 20h2.2v2.2h-2.2zM18 14h2.2v2.2h-2.2zM2 17h2.2v2.2h-2.2zM15 18h2.2v2.2h-2.2zM24 2h2.2v2.2h-2.2zM0 6h2.2v2.2h-2.2zM15 8h2.2v2.2h-2.2zM0 10h2.2v2.2h-2.2zM1 10h2.2v2.2h-2.2zM9 6h2.2v2.2h-2.2zM6 9h2.2v2.2h-2.2zM9 2h2.2v2.2h-2.2zM2 19h2.2v2.2h-2.2zM2 19h2.2v2.2h-2.2zM9 3h2.2v2.2h-2.2zM3 5h2.2v2.2h-2.2zM7 21h2.2v2.2h-2.2zM23 14h2.2v2.2h-2.2zM17 13h2.2v2.2h-2.2zM5 1h2.2v2.2h-2.2zM20 17h2.2v2.2h-2.2zM23 6h2.2v2.2h-2.2z" fill="#3cb46e"/><path d="M17 21h2.2v2.2h-2.2zM3 9h2.2v2.2h-2.2zM8 17h2.2v2.2h-2.2zM19 4h2.2v2.2h-2.2zM3 2h2.2v2.2h-2.2zM7 1h2.2v2.2h-2.2zM11 4h2.2v2.2h-2.2zM11 16h2.2v2.2h-2.2zM1 13h2.2v2.2h-2.2zM13 10h2.2v2.2h-2.2zM4 6h2.2v2.2h-2.2zM6 22h2.2v2.2h-2.2zM22 6h2.2v2.2h-2.2zM23 9h2.2v2.2h-2.2zM6 16h2.2v2.2h-2.2zM8 12h2.2v2.2h-2.2zM22 3h2.2v2.2h-2.2zM24 0h2.2v2.2h-2.2zM22 13h2.2v2.2h-2.2z" fill="#2a8a8c"/><path d="M19 23h2.2v2.2h-2.2zM21 -2h2.2v2.2h-2.2zM9 21h2.2v2.2h-2.2zM12 -0h2.2v2.2h-2.2zM23 10h2.2v2.2h-2.2zM17 19h2.2v2.2h-2.2zM-0 12h2.2v2.2h-2.2zM18 13h2.2v2.2h-2.2zM18 9h2.2v2.2h-2.2zM11 6h2.2v2.2h-2.2z" fill="#3b5a8c"/><path d="M13 10h2.2v2.2h-2.2zM9 7h2.2v2.2h-2.2zM2 22h2.2v2.2h-2.2zM15 4h2.2v2.2h-2.2zM14 22h2.2v2.2h-2.2zM2 24h2.2v2.2h-2.2zM7 15h2.2v2.2h-2.2zM-0 -2h2.2v2.2h-2.2zM12 6h2.2v2.2h-2.2zM8 0h2.2v2.2h-2.2zM15 13h2.2v2.2h-2.2zM-0 24h2.2v2.2h-2.2zM21 9h2.2v2.2h-2.2zM20 -1h2.2v2.2h-2.2z" fill="#6cc85a"/><path d="M14 8h2.2v2.2h-2.2zM24 13h2.2v2.2h-2.2zM13 22h2.2v2.2h-2.2zM8 8h2.2v2.2h-2.2zM15 -1h2.2v2.2h-2.2zM7 12h2.2v2.2h-2.2zM18 11h2.2v2.2h-2.2z" fill="#c8e020"/><path d="M2 24h2.2v2.2h-2.2zM10 -2h2.2v2.2h-2.2zM20 17h2.2v2.2h-2.2zM19 8h2.2v2.2h-2.2zM2 22h2.2v2.2h-2.2zM13 23h2.2v2.2h-2.2zM24 16h2.2v2.2h-2.2zM20 23h2.2v2.2h-2.2zM12 4h2.2v2.2h-2.2zM8 22h2.2v2.2h-2.2zM-2 2h2.2v2.2h-2.2zM17 8h2.2v2.2h-2.2zM14 10h2.2v2.2h-2.2zM0 10h2.2v2.2h-2.2zM8 19h2.2v2.2h-2.2zM17 24h2.2v2.2h-2.2zM-0 2h2.2v2.2h-2.2zM21 12h2.2v2.2h-2.2zM22 13h2.2v2.2h-2.2zM19 3h2.2v2.2h-2.2zM12 18h2.2v2.2h-2.2zM19 3h2.2v2.2h-2.2zM0 6h2.2v2.2h-2.2zM2 18h2.2v2.2h-2.2zM4 6h2.2v2.2h-2.2zM14 13h2.2v2.2h-2.2zM13 23h2.2v2.2h-2.2zM13 14h2.2v2.2h-2.2zM17 19h2.2v2.2h-2.2zM-1 14h2.2v2.2h-2.2zM24 2h2.2v2.2h-2.2zM9 17h2.2v2.2h-2.2zM3 1h2.2v2.2h-2.2zM-1 6h2.2v2.2h-2.2z" fill="#3cb46e"/><path d="M8 3h2.2v2.2h-2.2zM13 19h2.2v2.2h-2.2zM21 18h2.2v2.2h-2.2zM18 4h2.2v2.2h-2.2zM8 6h2.2v2.2h-2.2zM6 9h2.2v2.2h-2.2zM8 8h2.2v2.2h-2.2zM10 4h2.2v2.2h-2.2zM5 21h2.2v2.2h-2.2zM18 14h2.2v2.2h-2.2zM1 7h2.2v2.2h-2.2zM3 12h2.2v2.2h-2.2zM-2 6h2.2v2.2h-2.2zM-1 9h2.2v2.2h-2.2zM1 11h2.2v2.2h-2.2zM11 21h2.2v2.2h-2.2zM23 21h2.2v2.2h-2.2zM-0 0h2.2v2.2h-2.2zM0 15h2.2v2.2h-2.2z" fill="#2a8a8c"/><path d="M19 -1h2.2v2.2h-2.2zM13 2h2.2v2.2h-2.2zM7 18h2.2v2.2h-2.2zM4 10h2.2v2.2h-2.2zM-1 10h2.2v2.2h-2.2zM24 10h2.2v2.2h-2.2zM10 18h2.2v2.2h-2.2zM11 6h2.2v2.2h-2.2zM2 10h2.2v2.2h-2.2zM21 3h2.2v2.2h-2.2z" fill="#3b5a8c"/><path d="M2 8h2.2v2.2h-2.2zM19 17h2.2v2.2h-2.2zM2 -2h2.2v2.2h-2.2zM21 20h2.2v2.2h-2.2zM14 -2h2.2v2.2h-2.2zM2 -0h2.2v2.2h-2.2zM24 22h2.2v2.2h-2.2zM23 22h2.2v2.2h-2.2zM21 7h2.2v2.2h-2.2zM5 20h2.2v2.2h-2.2zM2 8h2.2v2.2h-2.2zM-0 -0h2.2v2.2h-2.2zM1 4h2.2v2.2h-2.2zM22 5h2.2v2.2h-2.2z" fill="#6cc85a"/><path d="M3 10h2.2v2.2h-2.2zM-0 13h2.2v2.2h-2.2zM19 14h2.2v2.2h-2.2zM9 0h2.2v2.2h-2.2zM10 9h2.2v2.2h-2.2zM2 9h2.2v2.2h-2.2zM13 9h2.2v2.2h-2.2z" fill="#c8e020"/></pattern><pattern id="pPCWd" width="24" height="24" patternUnits="userSpaceOnUse"><path d="M4 14h2.2v2.2h-2.2zM5 6h2.2v2.2h-2.2zM20 14h2.2v2.2h-2.2zM-2 12h2.2v2.2h-2.2zM7 -1h2.2v2.2h-2.2zM22 16h2.2v2.2h-2.2zM12 6h2.2v2.2h-2.2zM18 9h2.2v2.2h-2.2zM15 16h2.2v2.2h-2.2zM11 3h2.2v2.2h-2.2zM23 5h2.2v2.2h-2.2zM2 3h2.2v2.2h-2.2zM9 15h2.2v2.2h-2.2zM13 7h2.2v2.2h-2.2zM10 12h2.2v2.2h-2.2zM16 13h2.2v2.2h-2.2zM2 20h2.2v2.2h-2.2zM17 11h2.2v2.2h-2.2zM13 -1h2.2v2.2h-2.2zM6 14h2.2v2.2h-2.2zM9 23h2.2v2.2h-2.2zM0 3h2.2v2.2h-2.2zM11 18h2.2v2.2h-2.2zM6 20h2.2v2.2h-2.2zM5 17h2.2v2.2h-2.2zM1 11h2.2v2.2h-2.2zM12 20h2.2v2.2h-2.2zM-2 3h2.2v2.2h-2.2zM4 3h2.2v2.2h-2.2zM1 23h2.2v2.2h-2.2zM2 16h2.2v2.2h-2.2zM19 16h2.2v2.2h-2.2z" fill="#3b3a80"/><path d="M14 24h2.2v2.2h-2.2zM7 6h2.2v2.2h-2.2zM13 22h2.2v2.2h-2.2zM17 14h2.2v2.2h-2.2zM13 -1h2.2v2.2h-2.2zM13 22h2.2v2.2h-2.2zM7 20h2.2v2.2h-2.2zM9 16h2.2v2.2h-2.2zM15 11h2.2v2.2h-2.2zM21 1h2.2v2.2h-2.2zM-2 7h2.2v2.2h-2.2zM19 16h2.2v2.2h-2.2zM20 5h2.2v2.2h-2.2zM-1 9h2.2v2.2h-2.2zM4 17h2.2v2.2h-2.2zM12 13h2.2v2.2h-2.2zM7 22h2.2v2.2h-2.2zM11 13h2.2v2.2h-2.2zM10 17h2.2v2.2h-2.2zM18 6h2.2v2.2h-2.2zM14 18h2.2v2.2h-2.2zM11 23h2.2v2.2h-2.2zM19 14h2.2v2.2h-2.2zM11 13h2.2v2.2h-2.2zM12 14h2.2v2.2h-2.2zM18 9h2.2v2.2h-2.2z" fill="#2a6a8c"/><path d="M13 5h2.2v2.2h-2.2zM8 3h2.2v2.2h-2.2zM21 7h2.2v2.2h-2.2zM15 13h2.2v2.2h-2.2zM19 23h2.2v2.2h-2.2zM13 8h2.2v2.2h-2.2zM21 14h2.2v2.2h-2.2zM-1 12h2.2v2.2h-2.2zM-1 8h2.2v2.2h-2.2zM17 22h2.2v2.2h-2.2zM19 12h2.2v2.2h-2.2zM7 11h2.2v2.2h-2.2zM3 7h2.2v2.2h-2.2zM20 6h2.2v2.2h-2.2zM13 2h2.2v2.2h-2.2zM14 19h2.2v2.2h-2.2zM12 21h2.2v2.2h-2.2z" fill="#40225e"/><path d="M20 22h2.2v2.2h-2.2zM17 4h2.2v2.2h-2.2zM21 2h2.2v2.2h-2.2zM12 23h2.2v2.2h-2.2zM16 15h2.2v2.2h-2.2zM18 12h2.2v2.2h-2.2zM19 24h2.2v2.2h-2.2zM-1 6h2.2v2.2h-2.2z" fill="#3cb46e"/><path d="M11 17h2.2v2.2h-2.2zM22 12h2.2v2.2h-2.2zM17 0h2.2v2.2h-2.2zM17 5h2.2v2.2h-2.2zM19 7h2.2v2.2h-2.2zM18 20h2.2v2.2h-2.2zM22 23h2.2v2.2h-2.2zM21 8h2.2v2.2h-2.2zM1 1h2.2v2.2h-2.2zM1 22h2.2v2.2h-2.2zM-1 5h2.2v2.2h-2.2zM8 22h2.2v2.2h-2.2zM19 21h2.2v2.2h-2.2zM7 14h2.2v2.2h-2.2zM21 14h2.2v2.2h-2.2zM5 10h2.2v2.2h-2.2zM21 5h2.2v2.2h-2.2zM0 23h2.2v2.2h-2.2zM2 5h2.2v2.2h-2.2zM12 16h2.2v2.2h-2.2zM9 -1h2.2v2.2h-2.2zM2 11h2.2v2.2h-2.2zM6 5h2.2v2.2h-2.2zM6 22h2.2v2.2h-2.2zM8 3h2.2v2.2h-2.2zM24 15h2.2v2.2h-2.2zM6 15h2.2v2.2h-2.2zM24 7h2.2v2.2h-2.2zM2 3h2.2v2.2h-2.2zM1 -1h2.2v2.2h-2.2zM16 16h2.2v2.2h-2.2zM6 8h2.2v2.2h-2.2z" fill="#3b3a80"/><path d="M14 -0h2.2v2.2h-2.2zM6 2h2.2v2.2h-2.2zM13 -2h2.2v2.2h-2.2zM12 1h2.2v2.2h-2.2zM21 3h2.2v2.2h-2.2zM11 7h2.2v2.2h-2.2zM12 17h2.2v2.2h-2.2zM16 9h2.2v2.2h-2.2zM23 7h2.2v2.2h-2.2zM4 6h2.2v2.2h-2.2zM7 11h2.2v2.2h-2.2zM15 16h2.2v2.2h-2.2zM19 6h2.2v2.2h-2.2zM20 9h2.2v2.2h-2.2zM20 18h2.2v2.2h-2.2zM4 8h2.2v2.2h-2.2zM15 22h2.2v2.2h-2.2zM21 14h2.2v2.2h-2.2zM0 15h2.2v2.2h-2.2zM0 22h2.2v2.2h-2.2zM10 12h2.2v2.2h-2.2zM11 -1h2.2v2.2h-2.2zM19 8h2.2v2.2h-2.2zM6 11h2.2v2.2h-2.2zM5 12h2.2v2.2h-2.2zM22 4h2.2v2.2h-2.2z" fill="#2a6a8c"/><path d="M4 9h2.2v2.2h-2.2zM16 22h2.2v2.2h-2.2zM16 15h2.2v2.2h-2.2zM2 2h2.2v2.2h-2.2zM19 -1h2.2v2.2h-2.2zM16 10h2.2v2.2h-2.2zM12 13h2.2v2.2h-2.2zM14 5h2.2v2.2h-2.2zM16 20h2.2v2.2h-2.2zM17 -2h2.2v2.2h-2.2zM5 12h2.2v2.2h-2.2zM13 18h2.2v2.2h-2.2zM21 9h2.2v2.2h-2.2zM5 6h2.2v2.2h-2.2zM21 3h2.2v2.2h-2.2zM4 3h2.2v2.2h-2.2zM23 9h2.2v2.2h-2.2z" fill="#40225e"/><path d="M15 14h2.2v2.2h-2.2zM8 1h2.2v2.2h-2.2zM9 11h2.2v2.2h-2.2zM12 -1h2.2v2.2h-2.2zM6 22h2.2v2.2h-2.2zM20 4h2.2v2.2h-2.2zM19 -0h2.2v2.2h-2.2zM22 21h2.2v2.2h-2.2z" fill="#3cb46e"/><path d="M12 9h2.2v2.2h-2.2zM-2 12h2.2v2.2h-2.2zM4 8h2.2v2.2h-2.2zM12 16h2.2v2.2h-2.2zM4 17h2.2v2.2h-2.2zM10 9h2.2v2.2h-2.2zM22 -1h2.2v2.2h-2.2zM5 15h2.2v2.2h-2.2zM2 23h2.2v2.2h-2.2zM1 -2h2.2v2.2h-2.2zM1 16h2.2v2.2h-2.2zM6 4h2.2v2.2h-2.2zM9 12h2.2v2.2h-2.2zM13 8h2.2v2.2h-2.2zM13 5h2.2v2.2h-2.2zM17 23h2.2v2.2h-2.2zM10 17h2.2v2.2h-2.2zM0 -1h2.2v2.2h-2.2zM20 12h2.2v2.2h-2.2zM7 15h2.2v2.2h-2.2zM23 5h2.2v2.2h-2.2zM4 8h2.2v2.2h-2.2zM21 21h2.2v2.2h-2.2zM6 -2h2.2v2.2h-2.2zM18 14h2.2v2.2h-2.2zM-0 15h2.2v2.2h-2.2zM21 7h2.2v2.2h-2.2zM-0 7h2.2v2.2h-2.2zM19 21h2.2v2.2h-2.2zM22 18h2.2v2.2h-2.2zM18 13h2.2v2.2h-2.2zM19 8h2.2v2.2h-2.2z" fill="#3b3a80"/><path d="M12 8h2.2v2.2h-2.2zM1 21h2.2v2.2h-2.2zM12 7h2.2v2.2h-2.2zM3 22h2.2v2.2h-2.2zM11 1h2.2v2.2h-2.2zM1 17h2.2v2.2h-2.2zM6 20h2.2v2.2h-2.2zM19 16h2.2v2.2h-2.2zM-1 7h2.2v2.2h-2.2zM18 10h2.2v2.2h-2.2zM17 16h2.2v2.2h-2.2zM5 3h2.2v2.2h-2.2zM12 3h2.2v2.2h-2.2zM18 4h2.2v2.2h-2.2zM1 0h2.2v2.2h-2.2zM21 9h2.2v2.2h-2.2zM15 -2h2.2v2.2h-2.2zM2 20h2.2v2.2h-2.2zM17 8h2.2v2.2h-2.2zM0 -2h2.2v2.2h-2.2zM20 17h2.2v2.2h-2.2zM6 23h2.2v2.2h-2.2zM16 21h2.2v2.2h-2.2zM19 20h2.2v2.2h-2.2zM14 11h2.2v2.2h-2.2zM-2 4h2.2v2.2h-2.2z" fill="#2a6a8c"/><path d="M21 15h2.2v2.2h-2.2zM8 16h2.2v2.2h-2.2zM22 1h2.2v2.2h-2.2zM18 23h2.2v2.2h-2.2zM13 20h2.2v2.2h-2.2zM21 23h2.2v2.2h-2.2zM1 2h2.2v2.2h-2.2zM16 10h2.2v2.2h-2.2zM11 9h2.2v2.2h-2.2zM2 13h2.2v2.2h-2.2zM13 7h2.2v2.2h-2.2zM18 4h2.2v2.2h-2.2zM15 2h2.2v2.2h-2.2zM19 19h2.2v2.2h-2.2zM4 24h2.2v2.2h-2.2zM11 5h2.2v2.2h-2.2zM-1 9h2.2v2.2h-2.2z" fill="#40225e"/><path d="M12 11h2.2v2.2h-2.2zM16 8h2.2v2.2h-2.2zM19 7h2.2v2.2h-2.2zM1 3h2.2v2.2h-2.2zM14 13h2.2v2.2h-2.2zM16 7h2.2v2.2h-2.2zM0 11h2.2v2.2h-2.2zM12 7h2.2v2.2h-2.2z" fill="#3cb46e"/><path d="M16 14h2.2v2.2h-2.2zM18 2h2.2v2.2h-2.2zM22 12h2.2v2.2h-2.2zM7 23h2.2v2.2h-2.2zM9 13h2.2v2.2h-2.2zM13 21h2.2v2.2h-2.2zM12 3h2.2v2.2h-2.2zM13 18h2.2v2.2h-2.2zM2 -1h2.2v2.2h-2.2zM10 12h2.2v2.2h-2.2zM8 13h2.2v2.2h-2.2zM16 14h2.2v2.2h-2.2zM10 10h2.2v2.2h-2.2zM5 4h2.2v2.2h-2.2zM0 1h2.2v2.2h-2.2zM17 -1h2.2v2.2h-2.2zM13 8h2.2v2.2h-2.2zM13 23h2.2v2.2h-2.2zM7 12h2.2v2.2h-2.2zM4 20h2.2v2.2h-2.2zM-1 5h2.2v2.2h-2.2zM5 15h2.2v2.2h-2.2zM5 11h2.2v2.2h-2.2zM16 3h2.2v2.2h-2.2zM6 11h2.2v2.2h-2.2zM7 10h2.2v2.2h-2.2zM22 3h2.2v2.2h-2.2zM6 12h2.2v2.2h-2.2zM7 20h2.2v2.2h-2.2zM-2 18h2.2v2.2h-2.2zM12 5h2.2v2.2h-2.2zM19 10h2.2v2.2h-2.2z" fill="#3b3a80"/><path d="M20 11h2.2v2.2h-2.2zM8 11h2.2v2.2h-2.2zM8 5h2.2v2.2h-2.2zM13 23h2.2v2.2h-2.2zM2 21h2.2v2.2h-2.2zM12 16h2.2v2.2h-2.2zM21 16h2.2v2.2h-2.2zM9 21h2.2v2.2h-2.2zM12 19h2.2v2.2h-2.2zM22 7h2.2v2.2h-2.2zM4 4h2.2v2.2h-2.2zM21 15h2.2v2.2h-2.2zM23 9h2.2v2.2h-2.2zM1 20h2.2v2.2h-2.2zM18 16h2.2v2.2h-2.2zM9 16h2.2v2.2h-2.2zM19 2h2.2v2.2h-2.2zM15 6h2.2v2.2h-2.2zM12 6h2.2v2.2h-2.2zM3 12h2.2v2.2h-2.2zM12 14h2.2v2.2h-2.2zM6 -1h2.2v2.2h-2.2zM16 2h2.2v2.2h-2.2zM15 17h2.2v2.2h-2.2zM17 21h2.2v2.2h-2.2z" fill="#2a6a8c"/><path d="M2 11h2.2v2.2h-2.2zM12 21h2.2v2.2h-2.2zM-2 1h2.2v2.2h-2.2zM18 -1h2.2v2.2h-2.2zM8 8h2.2v2.2h-2.2zM21 -1h2.2v2.2h-2.2zM23 12h2.2v2.2h-2.2zM23 8h2.2v2.2h-2.2zM16 13h2.2v2.2h-2.2zM21 4h2.2v2.2h-2.2zM4 4h2.2v2.2h-2.2zM18 14h2.2v2.2h-2.2zM21 7h2.2v2.2h-2.2zM6 3h2.2v2.2h-2.2zM4 -0h2.2v2.2h-2.2zM1 21h2.2v2.2h-2.2z" fill="#40225e"/><path d="M4 17h2.2v2.2h-2.2zM2 12h2.2v2.2h-2.2zM2 9h2.2v2.2h-2.2zM7 4h2.2v2.2h-2.2zM8 20h2.2v2.2h-2.2zM16 11h2.2v2.2h-2.2zM23 6h2.2v2.2h-2.2z" fill="#3cb46e"/></pattern><pattern id="pPCWy" width="24" height="24" patternUnits="userSpaceOnUse"><path d="M22 18h2.2v2.2h-2.2zM21 7h2.2v2.2h-2.2zM1 13h2.2v2.2h-2.2zM8 9h2.2v2.2h-2.2zM17 16h2.2v2.2h-2.2zM3 19h2.2v2.2h-2.2zM-1 19h2.2v2.2h-2.2zM0 21h2.2v2.2h-2.2zM17 11h2.2v2.2h-2.2zM24 9h2.2v2.2h-2.2zM3 5h2.2v2.2h-2.2zM23 19h2.2v2.2h-2.2zM23 23h2.2v2.2h-2.2zM19 8h2.2v2.2h-2.2zM13 19h2.2v2.2h-2.2zM4 12h2.2v2.2h-2.2zM17 15h2.2v2.2h-2.2zM23 -0h2.2v2.2h-2.2zM21 3h2.2v2.2h-2.2zM13 9h2.2v2.2h-2.2zM10 15h2.2v2.2h-2.2zM24 7h2.2v2.2h-2.2zM4 13h2.2v2.2h-2.2zM23 4h2.2v2.2h-2.2zM14 17h2.2v2.2h-2.2zM10 1h2.2v2.2h-2.2zM16 5h2.2v2.2h-2.2zM24 21h2.2v2.2h-2.2z" fill="#7ad050"/><path d="M8 4h2.2v2.2h-2.2zM12 18h2.2v2.2h-2.2zM-0 14h2.2v2.2h-2.2zM17 22h2.2v2.2h-2.2zM4 2h2.2v2.2h-2.2zM-0 10h2.2v2.2h-2.2zM-1 -1h2.2v2.2h-2.2zM16 4h2.2v2.2h-2.2zM-1 13h2.2v2.2h-2.2zM10 1h2.2v2.2h-2.2zM-2 10h2.2v2.2h-2.2zM-2 18h2.2v2.2h-2.2zM3 18h2.2v2.2h-2.2zM3 22h2.2v2.2h-2.2zM13 5h2.2v2.2h-2.2zM10 1h2.2v2.2h-2.2zM5 4h2.2v2.2h-2.2zM5 24h2.2v2.2h-2.2zM12 12h2.2v2.2h-2.2zM20 9h2.2v2.2h-2.2zM1 20h2.2v2.2h-2.2zM18 15h2.2v2.2h-2.2zM11 5h2.2v2.2h-2.2zM13 14h2.2v2.2h-2.2z" fill="#c8e020"/><path d="M11 17h2.2v2.2h-2.2zM19 2h2.2v2.2h-2.2zM18 17h2.2v2.2h-2.2zM16 -2h2.2v2.2h-2.2zM5 2h2.2v2.2h-2.2zM2 10h2.2v2.2h-2.2zM1 3h2.2v2.2h-2.2zM23 6h2.2v2.2h-2.2zM14 7h2.2v2.2h-2.2zM20 19h2.2v2.2h-2.2zM2 16h2.2v2.2h-2.2zM6 6h2.2v2.2h-2.2zM8 24h2.2v2.2h-2.2zM21 2h2.2v2.2h-2.2zM22 3h2.2v2.2h-2.2zM13 14h2.2v2.2h-2.2zM-1 12h2.2v2.2h-2.2zM-2 8h2.2v2.2h-2.2zM3 15h2.2v2.2h-2.2zM-0 11h2.2v2.2h-2.2zM0 9h2.2v2.2h-2.2zM17 17h2.2v2.2h-2.2zM14 14h2.2v2.2h-2.2zM-0 9h2.2v2.2h-2.2zM15 10h2.2v2.2h-2.2zM7 8h2.2v2.2h-2.2zM3 2h2.2v2.2h-2.2zM13 18h2.2v2.2h-2.2z" fill="#3cb46e"/><path d="M17 4h2.2v2.2h-2.2zM9 4h2.2v2.2h-2.2zM-0 9h2.2v2.2h-2.2zM14 14h2.2v2.2h-2.2zM-2 16h2.2v2.2h-2.2zM0 18h2.2v2.2h-2.2zM-0 7h2.2v2.2h-2.2zM20 1h2.2v2.2h-2.2zM14 1h2.2v2.2h-2.2z" fill="#2a8a8c"/><path d="M-2 18h2.2v2.2h-2.2zM16 13h2.2v2.2h-2.2zM13 19h2.2v2.2h-2.2zM11 20h2.2v2.2h-2.2zM23 8h2.2v2.2h-2.2zM9 24h2.2v2.2h-2.2zM17 14h2.2v2.2h-2.2zM16 19h2.2v2.2h-2.2zM1 15h2.2v2.2h-2.2zM-0 9h2.2v2.2h-2.2zM4 21h2.2v2.2h-2.2zM-1 19h2.2v2.2h-2.2zM23 -1h2.2v2.2h-2.2zM7 17h2.2v2.2h-2.2zM20 6h2.2v2.2h-2.2zM18 15h2.2v2.2h-2.2zM6 22h2.2v2.2h-2.2zM-1 24h2.2v2.2h-2.2zM2 15h2.2v2.2h-2.2zM13 9h2.2v2.2h-2.2zM13 22h2.2v2.2h-2.2zM-0 7h2.2v2.2h-2.2zM6 18h2.2v2.2h-2.2zM-1 4h2.2v2.2h-2.2zM1 16h2.2v2.2h-2.2zM10 20h2.2v2.2h-2.2zM5 20h2.2v2.2h-2.2zM-0 21h2.2v2.2h-2.2z" fill="#7ad050"/><path d="M3 16h2.2v2.2h-2.2zM1 13h2.2v2.2h-2.2zM0 15h2.2v2.2h-2.2zM17 -2h2.2v2.2h-2.2zM10 13h2.2v2.2h-2.2zM23 23h2.2v2.2h-2.2zM20 23h2.2v2.2h-2.2zM23 16h2.2v2.2h-2.2zM5 19h2.2v2.2h-2.2zM14 12h2.2v2.2h-2.2zM3 18h2.2v2.2h-2.2zM6 5h2.2v2.2h-2.2zM15 18h2.2v2.2h-2.2zM3 -2h2.2v2.2h-2.2zM23 18h2.2v2.2h-2.2zM14 17h2.2v2.2h-2.2zM7 3h2.2v2.2h-2.2zM5 -0h2.2v2.2h-2.2zM4 19h2.2v2.2h-2.2zM9 8h2.2v2.2h-2.2zM14 16h2.2v2.2h-2.2zM12 16h2.2v2.2h-2.2zM23 2h2.2v2.2h-2.2zM6 12h2.2v2.2h-2.2z" fill="#c8e020"/><path d="M1 20h2.2v2.2h-2.2zM1 2h2.2v2.2h-2.2zM5 1h2.2v2.2h-2.2zM7 18h2.2v2.2h-2.2zM12 18h2.2v2.2h-2.2zM19 3h2.2v2.2h-2.2zM18 19h2.2v2.2h-2.2zM-1 6h2.2v2.2h-2.2zM5 5h2.2v2.2h-2.2zM12 12h2.2v2.2h-2.2zM14 12h2.2v2.2h-2.2zM15 18h2.2v2.2h-2.2zM8 -0h2.2v2.2h-2.2zM12 13h2.2v2.2h-2.2zM-2 3h2.2v2.2h-2.2zM8 15h2.2v2.2h-2.2zM6 8h2.2v2.2h-2.2zM7 16h2.2v2.2h-2.2zM22 17h2.2v2.2h-2.2zM10 10h2.2v2.2h-2.2zM2 20h2.2v2.2h-2.2zM10 3h2.2v2.2h-2.2zM19 12h2.2v2.2h-2.2zM19 13h2.2v2.2h-2.2zM20 3h2.2v2.2h-2.2zM12 1h2.2v2.2h-2.2zM20 17h2.2v2.2h-2.2z" fill="#3cb46e"/><path d="M7 10h2.2v2.2h-2.2zM13 9h2.2v2.2h-2.2zM12 11h2.2v2.2h-2.2zM22 2h2.2v2.2h-2.2zM0 1h2.2v2.2h-2.2zM20 22h2.2v2.2h-2.2zM9 22h2.2v2.2h-2.2zM22 0h2.2v2.2h-2.2z" fill="#2a8a8c"/><path d="M9 0h2.2v2.2h-2.2zM3 14h2.2v2.2h-2.2zM12 18h2.2v2.2h-2.2zM15 16h2.2v2.2h-2.2zM-1 8h2.2v2.2h-2.2zM9 -0h2.2v2.2h-2.2zM9 17h2.2v2.2h-2.2zM10 11h2.2v2.2h-2.2zM17 13h2.2v2.2h-2.2zM8 24h2.2v2.2h-2.2zM8 22h2.2v2.2h-2.2zM12 5h2.2v2.2h-2.2zM-1 23h2.2v2.2h-2.2zM13 7h2.2v2.2h-2.2zM9 16h2.2v2.2h-2.2zM6 16h2.2v2.2h-2.2zM6 -2h2.2v2.2h-2.2zM-1 -0h2.2v2.2h-2.2zM18 19h2.2v2.2h-2.2zM18 18h2.2v2.2h-2.2zM13 -2h2.2v2.2h-2.2zM9 12h2.2v2.2h-2.2zM21 14h2.2v2.2h-2.2zM9 15h2.2v2.2h-2.2zM22 17h2.2v2.2h-2.2zM5 11h2.2v2.2h-2.2zM18 6h2.2v2.2h-2.2zM15 22h2.2v2.2h-2.2z" fill="#7ad050"/><path d="M4 3h2.2v2.2h-2.2zM3 14h2.2v2.2h-2.2zM21 2h2.2v2.2h-2.2zM7 13h2.2v2.2h-2.2zM14 2h2.2v2.2h-2.2zM23 -1h2.2v2.2h-2.2zM20 -1h2.2v2.2h-2.2zM-1 16h2.2v2.2h-2.2zM18 22h2.2v2.2h-2.2zM0 8h2.2v2.2h-2.2zM6 18h2.2v2.2h-2.2zM23 1h2.2v2.2h-2.2zM11 3h2.2v2.2h-2.2zM7 9h2.2v2.2h-2.2zM-1 18h2.2v2.2h-2.2zM20 11h2.2v2.2h-2.2zM19 23h2.2v2.2h-2.2zM16 16h2.2v2.2h-2.2zM7 16h2.2v2.2h-2.2zM0 9h2.2v2.2h-2.2zM15 10h2.2v2.2h-2.2zM8 10h2.2v2.2h-2.2zM-1 2h2.2v2.2h-2.2zM8 4h2.2v2.2h-2.2z" fill="#c8e020"/><path d="M23 18h2.2v2.2h-2.2zM7 5h2.2v2.2h-2.2zM17 0h2.2v2.2h-2.2zM12 18h2.2v2.2h-2.2zM22 2h2.2v2.2h-2.2zM23 10h2.2v2.2h-2.2zM4 8h2.2v2.2h-2.2zM22 9h2.2v2.2h-2.2zM22 0h2.2v2.2h-2.2zM3 6h2.2v2.2h-2.2zM13 8h2.2v2.2h-2.2zM9 19h2.2v2.2h-2.2zM8 18h2.2v2.2h-2.2zM15 23h2.2v2.2h-2.2zM8 22h2.2v2.2h-2.2zM9 16h2.2v2.2h-2.2zM16 12h2.2v2.2h-2.2zM23 10h2.2v2.2h-2.2zM11 7h2.2v2.2h-2.2zM23 18h2.2v2.2h-2.2zM11 13h2.2v2.2h-2.2zM15 23h2.2v2.2h-2.2zM21 13h2.2v2.2h-2.2zM7 18h2.2v2.2h-2.2zM5 9h2.2v2.2h-2.2zM12 19h2.2v2.2h-2.2zM14 0h2.2v2.2h-2.2z" fill="#3cb46e"/><path d="M5 4h2.2v2.2h-2.2zM10 13h2.2v2.2h-2.2zM5 11h2.2v2.2h-2.2zM-2 2h2.2v2.2h-2.2zM14 2h2.2v2.2h-2.2zM20 -2h2.2v2.2h-2.2zM21 14h2.2v2.2h-2.2zM8 21h2.2v2.2h-2.2z" fill="#2a8a8c"/><path d="M6 16h2.2v2.2h-2.2zM18 4h2.2v2.2h-2.2zM1 11h2.2v2.2h-2.2zM14 18h2.2v2.2h-2.2zM0 10h2.2v2.2h-2.2zM23 19h2.2v2.2h-2.2zM15 0h2.2v2.2h-2.2zM2 7h2.2v2.2h-2.2zM11 1h2.2v2.2h-2.2zM8 -0h2.2v2.2h-2.2zM8 -2h2.2v2.2h-2.2zM3 7h2.2v2.2h-2.2zM-1 -1h2.2v2.2h-2.2zM10 21h2.2v2.2h-2.2zM14 11h2.2v2.2h-2.2zM12 9h2.2v2.2h-2.2zM23 24h2.2v2.2h-2.2zM2 1h2.2v2.2h-2.2zM15 9h2.2v2.2h-2.2zM19 9h2.2v2.2h-2.2zM21 17h2.2v2.2h-2.2zM11 15h2.2v2.2h-2.2zM7 6h2.2v2.2h-2.2zM16 4h2.2v2.2h-2.2zM-2 17h2.2v2.2h-2.2zM14 19h2.2v2.2h-2.2zM17 12h2.2v2.2h-2.2zM15 -2h2.2v2.2h-2.2z" fill="#7ad050"/><path d="M22 9h2.2v2.2h-2.2zM24 14h2.2v2.2h-2.2zM3 5h2.2v2.2h-2.2zM10 2h2.2v2.2h-2.2zM24 10h2.2v2.2h-2.2zM-1 23h2.2v2.2h-2.2zM2 13h2.2v2.2h-2.2zM23 13h2.2v2.2h-2.2zM18 -2h2.2v2.2h-2.2zM22 10h2.2v2.2h-2.2zM22 18h2.2v2.2h-2.2zM-1 1h2.2v2.2h-2.2zM10 11h2.2v2.2h-2.2zM3 0h2.2v2.2h-2.2zM9 13h2.2v2.2h-2.2zM7 14h2.2v2.2h-2.2zM19 -1h2.2v2.2h-2.2zM12 11h2.2v2.2h-2.2zM20 21h2.2v2.2h-2.2zM18 18h2.2v2.2h-2.2zM3 6h2.2v2.2h-2.2zM21 19h2.2v2.2h-2.2zM11 19h2.2v2.2h-2.2z" fill="#c8e020"/><path d="M-1 18h2.2v2.2h-2.2zM17 4h2.2v2.2h-2.2zM16 22h2.2v2.2h-2.2zM21 16h2.2v2.2h-2.2zM-2 2h2.2v2.2h-2.2zM-1 10h2.2v2.2h-2.2zM21 1h2.2v2.2h-2.2zM14 22h2.2v2.2h-2.2zM-2 0h2.2v2.2h-2.2zM6 7h2.2v2.2h-2.2zM5 2h2.2v2.2h-2.2zM0 16h2.2v2.2h-2.2zM15 17h2.2v2.2h-2.2zM15 -1h2.2v2.2h-2.2zM8 -2h2.2v2.2h-2.2zM23 12h2.2v2.2h-2.2zM22 8h2.2v2.2h-2.2zM-1 10h2.2v2.2h-2.2zM24 11h2.2v2.2h-2.2zM-1 18h2.2v2.2h-2.2zM19 9h2.2v2.2h-2.2zM15 -1h2.2v2.2h-2.2zM24 9h2.2v2.2h-2.2zM6 20h2.2v2.2h-2.2zM12 5h2.2v2.2h-2.2zM2 13h2.2v2.2h-2.2zM11 4h2.2v2.2h-2.2z" fill="#3cb46e"/><path d="M19 7h2.2v2.2h-2.2zM24 9h2.2v2.2h-2.2zM20 16h2.2v2.2h-2.2zM22 16h2.2v2.2h-2.2zM9 17h2.2v2.2h-2.2zM24 7h2.2v2.2h-2.2zM12 11h2.2v2.2h-2.2zM10 16h2.2v2.2h-2.2z" fill="#2a8a8c"/></pattern><pattern id="pDon" width="24" height="24" patternUnits="userSpaceOnUse"><path d="M5 1h2.2v2.2h-2.2zM6 1h2.2v2.2h-2.2zM7 22h2.2v2.2h-2.2zM22 15h2.2v2.2h-2.2zM-1 17h2.2v2.2h-2.2zM15 15h2.2v2.2h-2.2zM14 1h2.2v2.2h-2.2zM8 1h2.2v2.2h-2.2zM4 21h2.2v2.2h-2.2zM-2 10h2.2v2.2h-2.2zM2 23h2.2v2.2h-2.2zM19 12h2.2v2.2h-2.2zM9 16h2.2v2.2h-2.2zM1 2h2.2v2.2h-2.2zM20 19h2.2v2.2h-2.2zM21 3h2.2v2.2h-2.2zM-1 5h2.2v2.2h-2.2zM17 9h2.2v2.2h-2.2zM14 22h2.2v2.2h-2.2zM-2 16h2.2v2.2h-2.2zM11 5h2.2v2.2h-2.2zM14 9h2.2v2.2h-2.2zM20 -2h2.2v2.2h-2.2z" fill="#2b6cb0"/><path d="M4 13h2.2v2.2h-2.2zM3 -2h2.2v2.2h-2.2zM23 22h2.2v2.2h-2.2zM10 4h2.2v2.2h-2.2zM21 1h2.2v2.2h-2.2zM18 17h2.2v2.2h-2.2zM5 20h2.2v2.2h-2.2zM12 6h2.2v2.2h-2.2zM5 18h2.2v2.2h-2.2zM9 20h2.2v2.2h-2.2zM18 13h2.2v2.2h-2.2zM13 8h2.2v2.2h-2.2zM16 15h2.2v2.2h-2.2zM22 -0h2.2v2.2h-2.2zM15 3h2.2v2.2h-2.2zM11 -0h2.2v2.2h-2.2zM24 18h2.2v2.2h-2.2zM18 15h2.2v2.2h-2.2zM17 20h2.2v2.2h-2.2z" fill="#5ab4e0"/><path d="M11 0h2.2v2.2h-2.2zM10 -0h2.2v2.2h-2.2zM3 -1h2.2v2.2h-2.2zM4 8h2.2v2.2h-2.2zM22 2h2.2v2.2h-2.2zM4 16h2.2v2.2h-2.2zM17 20h2.2v2.2h-2.2zM12 16h2.2v2.2h-2.2zM18 12h2.2v2.2h-2.2zM16 6h2.2v2.2h-2.2zM22 9h2.2v2.2h-2.2z" fill="#a0522d"/><path d="M11 4h2.2v2.2h-2.2zM1 17h2.2v2.2h-2.2zM7 21h2.2v2.2h-2.2zM2 20h2.2v2.2h-2.2zM-0 1h2.2v2.2h-2.2zM15 9h2.2v2.2h-2.2zM7 21h2.2v2.2h-2.2zM19 6h2.2v2.2h-2.2zM-1 22h2.2v2.2h-2.2zM17 9h2.2v2.2h-2.2zM7 1h2.2v2.2h-2.2zM23 24h2.2v2.2h-2.2zM18 11h2.2v2.2h-2.2zM10 3h2.2v2.2h-2.2z" fill="#7cc8a0"/><path d="M18 12h2.2v2.2h-2.2zM15 21h2.2v2.2h-2.2zM14 -1h2.2v2.2h-2.2zM16 3h2.2v2.2h-2.2zM9 16h2.2v2.2h-2.2zM17 14h2.2v2.2h-2.2zM11 9h2.2v2.2h-2.2zM8 15h2.2v2.2h-2.2zM13 -2h2.2v2.2h-2.2zM17 1h2.2v2.2h-2.2zM5 -1h2.2v2.2h-2.2zM21 7h2.2v2.2h-2.2z" fill="#1c3c8c"/><path d="M11 13h2.2v2.2h-2.2zM1 1h2.2v2.2h-2.2zM20 -1h2.2v2.2h-2.2zM10 -2h2.2v2.2h-2.2z" fill="#d04a4a"/><path d="M6 2h2.2v2.2h-2.2zM23 6h2.2v2.2h-2.2zM7 -2h2.2v2.2h-2.2zM-2 15h2.2v2.2h-2.2zM4 11h2.2v2.2h-2.2zM12 10h2.2v2.2h-2.2zM10 22h2.2v2.2h-2.2zM14 1h2.2v2.2h-2.2zM21 8h2.2v2.2h-2.2zM12 11h2.2v2.2h-2.2zM2 -1h2.2v2.2h-2.2zM9 15h2.2v2.2h-2.2zM10 12h2.2v2.2h-2.2zM11 14h2.2v2.2h-2.2zM20 16h2.2v2.2h-2.2zM16 3h2.2v2.2h-2.2zM22 4h2.2v2.2h-2.2zM9 8h2.2v2.2h-2.2zM14 -2h2.2v2.2h-2.2zM8 5h2.2v2.2h-2.2zM21 9h2.2v2.2h-2.2zM4 21h2.2v2.2h-2.2z" fill="#2b6cb0"/><path d="M22 20h2.2v2.2h-2.2zM10 3h2.2v2.2h-2.2zM23 -2h2.2v2.2h-2.2zM15 8h2.2v2.2h-2.2zM3 20h2.2v2.2h-2.2zM6 22h2.2v2.2h-2.2zM5 0h2.2v2.2h-2.2zM9 13h2.2v2.2h-2.2zM24 0h2.2v2.2h-2.2zM17 24h2.2v2.2h-2.2zM20 17h2.2v2.2h-2.2zM4 21h2.2v2.2h-2.2zM11 22h2.2v2.2h-2.2zM4 12h2.2v2.2h-2.2zM5 19h2.2v2.2h-2.2zM13 16h2.2v2.2h-2.2zM-0 18h2.2v2.2h-2.2zM16 13h2.2v2.2h-2.2z" fill="#5ab4e0"/><path d="M23 2h2.2v2.2h-2.2zM17 17h2.2v2.2h-2.2zM2 4h2.2v2.2h-2.2zM7 1h2.2v2.2h-2.2zM13 10h2.2v2.2h-2.2zM13 8h2.2v2.2h-2.2zM21 20h2.2v2.2h-2.2zM4 14h2.2v2.2h-2.2zM1 20h2.2v2.2h-2.2zM3 23h2.2v2.2h-2.2zM-2 9h2.2v2.2h-2.2z" fill="#a0522d"/><path d="M8 23h2.2v2.2h-2.2zM10 24h2.2v2.2h-2.2zM20 20h2.2v2.2h-2.2zM8 13h2.2v2.2h-2.2zM4 18h2.2v2.2h-2.2zM10 24h2.2v2.2h-2.2zM4 8h2.2v2.2h-2.2zM24 19h2.2v2.2h-2.2zM19 7h2.2v2.2h-2.2zM11 11h2.2v2.2h-2.2zM3 23h2.2v2.2h-2.2zM23 -0h2.2v2.2h-2.2zM19 6h2.2v2.2h-2.2zM4 19h2.2v2.2h-2.2z" fill="#7cc8a0"/><path d="M4 17h2.2v2.2h-2.2zM19 15h2.2v2.2h-2.2zM16 4h2.2v2.2h-2.2zM4 11h2.2v2.2h-2.2zM20 2h2.2v2.2h-2.2zM13 1h2.2v2.2h-2.2zM13 6h2.2v2.2h-2.2zM14 10h2.2v2.2h-2.2zM6 20h2.2v2.2h-2.2zM12 23h2.2v2.2h-2.2zM3 10h2.2v2.2h-2.2z" fill="#1c3c8c"/><path d="M24 16h2.2v2.2h-2.2zM23 14h2.2v2.2h-2.2zM15 15h2.2v2.2h-2.2zM10 22h2.2v2.2h-2.2z" fill="#d04a4a"/><path d="M4 10h2.2v2.2h-2.2zM-1 6h2.2v2.2h-2.2zM18 13h2.2v2.2h-2.2zM22 1h2.2v2.2h-2.2zM5 22h2.2v2.2h-2.2zM7 11h2.2v2.2h-2.2zM12 3h2.2v2.2h-2.2zM18 12h2.2v2.2h-2.2zM17 7h2.2v2.2h-2.2zM4 14h2.2v2.2h-2.2zM12 22h2.2v2.2h-2.2zM16 16h2.2v2.2h-2.2zM11 19h2.2v2.2h-2.2zM2 7h2.2v2.2h-2.2zM10 18h2.2v2.2h-2.2zM9 19h2.2v2.2h-2.2zM-2 4h2.2v2.2h-2.2zM17 2h2.2v2.2h-2.2zM18 4h2.2v2.2h-2.2zM12 3h2.2v2.2h-2.2zM6 1h2.2v2.2h-2.2zM10 2h2.2v2.2h-2.2z" fill="#2b6cb0"/><path d="M12 20h2.2v2.2h-2.2zM7 23h2.2v2.2h-2.2zM-1 22h2.2v2.2h-2.2zM9 17h2.2v2.2h-2.2zM3 8h2.2v2.2h-2.2zM21 19h2.2v2.2h-2.2zM6 10h2.2v2.2h-2.2zM18 9h2.2v2.2h-2.2zM-0 0h2.2v2.2h-2.2zM17 -0h2.2v2.2h-2.2zM20 11h2.2v2.2h-2.2zM14 6h2.2v2.2h-2.2zM11 -2h2.2v2.2h-2.2zM7 10h2.2v2.2h-2.2zM11 21h2.2v2.2h-2.2zM18 13h2.2v2.2h-2.2zM6 15h2.2v2.2h-2.2zM3 17h2.2v2.2h-2.2z" fill="#5ab4e0"/><path d="M-1 2h2.2v2.2h-2.2zM8 1h2.2v2.2h-2.2zM15 13h2.2v2.2h-2.2zM20 3h2.2v2.2h-2.2zM5 21h2.2v2.2h-2.2zM9 23h2.2v2.2h-2.2zM10 6h2.2v2.2h-2.2zM11 18h2.2v2.2h-2.2zM6 7h2.2v2.2h-2.2zM3 -1h2.2v2.2h-2.2zM17 5h2.2v2.2h-2.2z" fill="#a0522d"/><path d="M8 -1h2.2v2.2h-2.2zM10 -0h2.2v2.2h-2.2zM16 5h2.2v2.2h-2.2zM18 19h2.2v2.2h-2.2zM6 17h2.2v2.2h-2.2zM10 -0h2.2v2.2h-2.2zM22 11h2.2v2.2h-2.2zM-0 19h2.2v2.2h-2.2zM11 4h2.2v2.2h-2.2zM5 17h2.2v2.2h-2.2zM3 -1h2.2v2.2h-2.2zM-1 24h2.2v2.2h-2.2zM7 14h2.2v2.2h-2.2z" fill="#7cc8a0"/><path d="M14 7h2.2v2.2h-2.2zM12 12h2.2v2.2h-2.2zM19 11h2.2v2.2h-2.2zM11 13h2.2v2.2h-2.2zM11 17h2.2v2.2h-2.2zM9 11h2.2v2.2h-2.2zM8 13h2.2v2.2h-2.2zM17 10h2.2v2.2h-2.2zM4 13h2.2v2.2h-2.2zM12 -1h2.2v2.2h-2.2zM20 20h2.2v2.2h-2.2z" fill="#1c3c8c"/><path d="M-0 16h2.2v2.2h-2.2zM-1 14h2.2v2.2h-2.2zM17 3h2.2v2.2h-2.2zM10 -2h2.2v2.2h-2.2z" fill="#d04a4a"/><path d="M21 8h2.2v2.2h-2.2zM5 2h2.2v2.2h-2.2zM5 16h2.2v2.2h-2.2zM23 17h2.2v2.2h-2.2zM5 -2h2.2v2.2h-2.2zM5 8h2.2v2.2h-2.2zM13 16h2.2v2.2h-2.2zM8 14h2.2v2.2h-2.2zM22 10h2.2v2.2h-2.2zM9 11h2.2v2.2h-2.2zM14 15h2.2v2.2h-2.2zM10 21h2.2v2.2h-2.2zM10 3h2.2v2.2h-2.2zM7 5h2.2v2.2h-2.2zM18 21h2.2v2.2h-2.2zM23 5h2.2v2.2h-2.2zM6 10h2.2v2.2h-2.2zM14 13h2.2v2.2h-2.2zM22 16h2.2v2.2h-2.2zM10 17h2.2v2.2h-2.2zM10 11h2.2v2.2h-2.2zM20 22h2.2v2.2h-2.2z" fill="#2b6cb0"/><path d="M3 22h2.2v2.2h-2.2zM7 -1h2.2v2.2h-2.2zM-1 -2h2.2v2.2h-2.2zM15 6h2.2v2.2h-2.2zM2 14h2.2v2.2h-2.2zM16 14h2.2v2.2h-2.2zM17 7h2.2v2.2h-2.2zM3 15h2.2v2.2h-2.2zM5 7h2.2v2.2h-2.2zM15 16h2.2v2.2h-2.2zM21 1h2.2v2.2h-2.2zM16 20h2.2v2.2h-2.2zM22 24h2.2v2.2h-2.2zM9 18h2.2v2.2h-2.2zM11 24h2.2v2.2h-2.2zM10 8h2.2v2.2h-2.2zM18 17h2.2v2.2h-2.2zM4 18h2.2v2.2h-2.2z" fill="#5ab4e0"/><path d="M10 24h2.2v2.2h-2.2zM3 23h2.2v2.2h-2.2zM10 13h2.2v2.2h-2.2zM7 8h2.2v2.2h-2.2zM21 19h2.2v2.2h-2.2zM9 -1h2.2v2.2h-2.2zM14 20h2.2v2.2h-2.2zM13 17h2.2v2.2h-2.2zM14 3h2.2v2.2h-2.2zM18 0h2.2v2.2h-2.2zM6 4h2.2v2.2h-2.2z" fill="#a0522d"/><path d="M22 2h2.2v2.2h-2.2zM16 16h2.2v2.2h-2.2zM11 2h2.2v2.2h-2.2zM24 1h2.2v2.2h-2.2zM11 14h2.2v2.2h-2.2zM9 10h2.2v2.2h-2.2zM6 17h2.2v2.2h-2.2zM23 22h2.2v2.2h-2.2zM8 0h2.2v2.2h-2.2zM14 2h2.2v2.2h-2.2zM20 6h2.2v2.2h-2.2zM-1 -0h2.2v2.2h-2.2zM17 18h2.2v2.2h-2.2z" fill="#7cc8a0"/><path d="M13 3h2.2v2.2h-2.2zM14 23h2.2v2.2h-2.2zM4 11h2.2v2.2h-2.2zM14 18h2.2v2.2h-2.2zM2 0h2.2v2.2h-2.2zM9 8h2.2v2.2h-2.2zM15 3h2.2v2.2h-2.2zM13 22h2.2v2.2h-2.2zM15 10h2.2v2.2h-2.2zM5 23h2.2v2.2h-2.2zM19 1h2.2v2.2h-2.2z" fill="#1c3c8c"/><path d="M12 20h2.2v2.2h-2.2zM20 23h2.2v2.2h-2.2zM10 22h2.2v2.2h-2.2z" fill="#d04a4a"/></pattern><pattern id="pDonB" width="24" height="24" patternUnits="userSpaceOnUse"><path d="M10 20h2.2v2.2h-2.2zM17 13h2.2v2.2h-2.2zM3 10h2.2v2.2h-2.2zM8 10h2.2v2.2h-2.2zM13 16h2.2v2.2h-2.2zM-2 5h2.2v2.2h-2.2zM7 22h2.2v2.2h-2.2zM14 8h2.2v2.2h-2.2zM22 23h2.2v2.2h-2.2zM4 5h2.2v2.2h-2.2zM17 8h2.2v2.2h-2.2zM2 7h2.2v2.2h-2.2zM1 24h2.2v2.2h-2.2zM19 23h2.2v2.2h-2.2zM0 7h2.2v2.2h-2.2zM16 17h2.2v2.2h-2.2zM9 1h2.2v2.2h-2.2zM4 6h2.2v2.2h-2.2zM-2 19h2.2v2.2h-2.2zM19 -1h2.2v2.2h-2.2zM18 9h2.2v2.2h-2.2zM22 15h2.2v2.2h-2.2zM9 5h2.2v2.2h-2.2zM16 19h2.2v2.2h-2.2zM23 -2h2.2v2.2h-2.2zM10 14h2.2v2.2h-2.2zM-0 5h2.2v2.2h-2.2zM14 11h2.2v2.2h-2.2zM9 11h2.2v2.2h-2.2zM8 22h2.2v2.2h-2.2zM7 -1h2.2v2.2h-2.2zM2 2h2.2v2.2h-2.2zM8 14h2.2v2.2h-2.2zM5 23h2.2v2.2h-2.2zM10 12h2.2v2.2h-2.2zM4 17h2.2v2.2h-2.2zM19 14h2.2v2.2h-2.2zM24 24h2.2v2.2h-2.2zM15 3h2.2v2.2h-2.2zM11 20h2.2v2.2h-2.2zM10 24h2.2v2.2h-2.2zM21 10h2.2v2.2h-2.2zM15 2h2.2v2.2h-2.2z" fill="#1c3c8c"/><path d="M6 0h2.2v2.2h-2.2zM14 20h2.2v2.2h-2.2zM1 4h2.2v2.2h-2.2zM14 -1h2.2v2.2h-2.2zM20 23h2.2v2.2h-2.2zM20 8h2.2v2.2h-2.2zM-1 -1h2.2v2.2h-2.2zM13 10h2.2v2.2h-2.2zM10 10h2.2v2.2h-2.2zM10 8h2.2v2.2h-2.2zM12 16h2.2v2.2h-2.2zM-1 20h2.2v2.2h-2.2zM12 -2h2.2v2.2h-2.2zM1 -2h2.2v2.2h-2.2zM6 22h2.2v2.2h-2.2zM10 -2h2.2v2.2h-2.2zM6 21h2.2v2.2h-2.2zM16 11h2.2v2.2h-2.2zM18 2h2.2v2.2h-2.2zM17 11h2.2v2.2h-2.2zM6 16h2.2v2.2h-2.2zM9 17h2.2v2.2h-2.2zM13 19h2.2v2.2h-2.2zM12 8h2.2v2.2h-2.2zM-1 11h2.2v2.2h-2.2zM12 18h2.2v2.2h-2.2zM6 22h2.2v2.2h-2.2zM22 12h2.2v2.2h-2.2zM22 3h2.2v2.2h-2.2zM12 2h2.2v2.2h-2.2z" fill="#2b6cb0"/><path d="M6 17h2.2v2.2h-2.2zM19 5h2.2v2.2h-2.2zM20 7h2.2v2.2h-2.2zM20 23h2.2v2.2h-2.2zM0 9h2.2v2.2h-2.2zM22 17h2.2v2.2h-2.2zM23 24h2.2v2.2h-2.2zM12 16h2.2v2.2h-2.2zM17 16h2.2v2.2h-2.2zM1 2h2.2v2.2h-2.2zM20 8h2.2v2.2h-2.2zM15 19h2.2v2.2h-2.2zM6 13h2.2v2.2h-2.2zM17 2h2.2v2.2h-2.2z" fill="#5ab4e0"/><path d="M13 5h2.2v2.2h-2.2zM8 14h2.2v2.2h-2.2zM12 23h2.2v2.2h-2.2zM6 7h2.2v2.2h-2.2zM2 5h2.2v2.2h-2.2zM10 11h2.2v2.2h-2.2zM7 -2h2.2v2.2h-2.2zM21 9h2.2v2.2h-2.2zM22 -1h2.2v2.2h-2.2zM13 24h2.2v2.2h-2.2zM2 13h2.2v2.2h-2.2zM10 14h2.2v2.2h-2.2zM1 -0h2.2v2.2h-2.2zM19 -1h2.2v2.2h-2.2zM7 4h2.2v2.2h-2.2zM15 1h2.2v2.2h-2.2zM21 17h2.2v2.2h-2.2zM3 6h2.2v2.2h-2.2zM13 8h2.2v2.2h-2.2zM2 18h2.2v2.2h-2.2zM1 19h2.2v2.2h-2.2zM16 4h2.2v2.2h-2.2zM17 7h2.2v2.2h-2.2zM9 2h2.2v2.2h-2.2zM-1 22h2.2v2.2h-2.2zM11 7h2.2v2.2h-2.2zM14 17h2.2v2.2h-2.2zM22 22h2.2v2.2h-2.2zM5 7h2.2v2.2h-2.2zM19 5h2.2v2.2h-2.2zM1 2h2.2v2.2h-2.2zM14 16h2.2v2.2h-2.2zM17 12h2.2v2.2h-2.2zM5 -1h2.2v2.2h-2.2zM14 21h2.2v2.2h-2.2zM21 1h2.2v2.2h-2.2zM17 10h2.2v2.2h-2.2zM24 -0h2.2v2.2h-2.2zM7 23h2.2v2.2h-2.2zM10 6h2.2v2.2h-2.2zM10 -0h2.2v2.2h-2.2zM2 13h2.2v2.2h-2.2zM0 13h2.2v2.2h-2.2z" fill="#1c3c8c"/><path d="M15 4h2.2v2.2h-2.2zM10 4h2.2v2.2h-2.2zM5 1h2.2v2.2h-2.2zM22 7h2.2v2.2h-2.2zM20 -1h2.2v2.2h-2.2zM23 23h2.2v2.2h-2.2zM8 16h2.2v2.2h-2.2zM20 13h2.2v2.2h-2.2zM1 5h2.2v2.2h-2.2zM11 22h2.2v2.2h-2.2zM24 7h2.2v2.2h-2.2zM6 1h2.2v2.2h-2.2zM2 7h2.2v2.2h-2.2zM6 1h2.2v2.2h-2.2zM23 9h2.2v2.2h-2.2zM7 9h2.2v2.2h-2.2zM12 20h2.2v2.2h-2.2zM18 20h2.2v2.2h-2.2zM9 7h2.2v2.2h-2.2zM9 1h2.2v2.2h-2.2zM21 11h2.2v2.2h-2.2zM13 17h2.2v2.2h-2.2zM19 2h2.2v2.2h-2.2zM22 5h2.2v2.2h-2.2zM8 7h2.2v2.2h-2.2zM18 2h2.2v2.2h-2.2zM6 -2h2.2v2.2h-2.2zM4 12h2.2v2.2h-2.2zM9 20h2.2v2.2h-2.2zM3 16h2.2v2.2h-2.2z" fill="#2b6cb0"/><path d="M3 21h2.2v2.2h-2.2zM16 14h2.2v2.2h-2.2zM22 8h2.2v2.2h-2.2zM20 -1h2.2v2.2h-2.2zM6 15h2.2v2.2h-2.2zM-2 17h2.2v2.2h-2.2zM23 -0h2.2v2.2h-2.2zM3 22h2.2v2.2h-2.2zM9 11h2.2v2.2h-2.2zM12 11h2.2v2.2h-2.2zM17 13h2.2v2.2h-2.2zM16 1h2.2v2.2h-2.2zM3 12h2.2v2.2h-2.2zM7 3h2.2v2.2h-2.2z" fill="#5ab4e0"/><path d="M21 10h2.2v2.2h-2.2zM11 14h2.2v2.2h-2.2zM12 -1h2.2v2.2h-2.2zM17 17h2.2v2.2h-2.2zM2 22h2.2v2.2h-2.2zM7 21h2.2v2.2h-2.2zM16 7h2.2v2.2h-2.2zM0 13h2.2v2.2h-2.2zM-2 23h2.2v2.2h-2.2zM13 -0h2.2v2.2h-2.2zM7 7h2.2v2.2h-2.2zM3 13h2.2v2.2h-2.2zM6 22h2.2v2.2h-2.2zM2 5h2.2v2.2h-2.2zM10 10h2.2v2.2h-2.2zM11 6h2.2v2.2h-2.2zM21 16h2.2v2.2h-2.2zM9 16h2.2v2.2h-2.2zM18 19h2.2v2.2h-2.2zM14 7h2.2v2.2h-2.2zM23 12h2.2v2.2h-2.2zM5 11h2.2v2.2h-2.2zM17 11h2.2v2.2h-2.2zM15 19h2.2v2.2h-2.2zM-1 -2h2.2v2.2h-2.2zM12 16h2.2v2.2h-2.2zM10 8h2.2v2.2h-2.2zM-2 22h2.2v2.2h-2.2zM5 21h2.2v2.2h-2.2zM18 13h2.2v2.2h-2.2zM15 3h2.2v2.2h-2.2zM3 15h2.2v2.2h-2.2zM11 0h2.2v2.2h-2.2zM14 14h2.2v2.2h-2.2zM9 22h2.2v2.2h-2.2zM22 20h2.2v2.2h-2.2zM20 17h2.2v2.2h-2.2zM-0 24h2.2v2.2h-2.2zM7 -1h2.2v2.2h-2.2zM23 16h2.2v2.2h-2.2zM8 4h2.2v2.2h-2.2zM12 3h2.2v2.2h-2.2zM11 14h2.2v2.2h-2.2z" fill="#1c3c8c"/><path d="M13 14h2.2v2.2h-2.2zM0 10h2.2v2.2h-2.2zM21 7h2.2v2.2h-2.2zM22 19h2.2v2.2h-2.2zM13 10h2.2v2.2h-2.2zM23 -1h2.2v2.2h-2.2zM10 23h2.2v2.2h-2.2zM18 11h2.2v2.2h-2.2zM1 12h2.2v2.2h-2.2zM11 -2h2.2v2.2h-2.2zM-0 7h2.2v2.2h-2.2zM16 10h2.2v2.2h-2.2zM7 9h2.2v2.2h-2.2zM16 7h2.2v2.2h-2.2zM-1 9h2.2v2.2h-2.2zM20 12h2.2v2.2h-2.2zM5 12h2.2v2.2h-2.2zM23 11h2.2v2.2h-2.2zM15 7h2.2v2.2h-2.2zM22 7h2.2v2.2h-2.2zM5 4h2.2v2.2h-2.2zM16 4h2.2v2.2h-2.2zM11 2h2.2v2.2h-2.2zM-2 5h2.2v2.2h-2.2zM23 1h2.2v2.2h-2.2zM15 18h2.2v2.2h-2.2zM10 9h2.2v2.2h-2.2zM13 24h2.2v2.2h-2.2zM12 0h2.2v2.2h-2.2z" fill="#2b6cb0"/><path d="M17 19h2.2v2.2h-2.2zM14 7h2.2v2.2h-2.2zM-2 8h2.2v2.2h-2.2zM9 22h2.2v2.2h-2.2zM2 6h2.2v2.2h-2.2zM5 2h2.2v2.2h-2.2zM-1 24h2.2v2.2h-2.2zM18 15h2.2v2.2h-2.2zM9 10h2.2v2.2h-2.2zM4 23h2.2v2.2h-2.2zM19 20h2.2v2.2h-2.2zM6 4h2.2v2.2h-2.2zM23 9h2.2v2.2h-2.2z" fill="#5ab4e0"/><path d="M14 7h2.2v2.2h-2.2zM15 13h2.2v2.2h-2.2zM19 6h2.2v2.2h-2.2zM3 14h2.2v2.2h-2.2zM22 5h2.2v2.2h-2.2zM7 0h2.2v2.2h-2.2zM4 6h2.2v2.2h-2.2zM15 13h2.2v2.2h-2.2zM-2 -1h2.2v2.2h-2.2zM16 16h2.2v2.2h-2.2zM8 4h2.2v2.2h-2.2zM18 9h2.2v2.2h-2.2zM6 -2h2.2v2.2h-2.2zM14 10h2.2v2.2h-2.2zM12 14h2.2v2.2h-2.2zM16 18h2.2v2.2h-2.2zM7 14h2.2v2.2h-2.2zM22 19h2.2v2.2h-2.2zM19 23h2.2v2.2h-2.2zM16 12h2.2v2.2h-2.2zM-1 12h2.2v2.2h-2.2zM19 14h2.2v2.2h-2.2zM4 14h2.2v2.2h-2.2zM23 22h2.2v2.2h-2.2zM13 16h2.2v2.2h-2.2zM24 5h2.2v2.2h-2.2zM19 21h2.2v2.2h-2.2zM3 19h2.2v2.2h-2.2zM15 1h2.2v2.2h-2.2zM7 23h2.2v2.2h-2.2zM20 4h2.2v2.2h-2.2zM5 11h2.2v2.2h-2.2zM22 2h2.2v2.2h-2.2zM18 16h2.2v2.2h-2.2zM9 -2h2.2v2.2h-2.2zM-2 20h2.2v2.2h-2.2zM10 16h2.2v2.2h-2.2zM-0 -0h2.2v2.2h-2.2zM14 21h2.2v2.2h-2.2zM-1 16h2.2v2.2h-2.2zM7 15h2.2v2.2h-2.2zM20 14h2.2v2.2h-2.2zM20 16h2.2v2.2h-2.2z" fill="#1c3c8c"/><path d="M21 15h2.2v2.2h-2.2zM14 3h2.2v2.2h-2.2zM14 23h2.2v2.2h-2.2zM13 1h2.2v2.2h-2.2zM2 12h2.2v2.2h-2.2zM-1 23h2.2v2.2h-2.2zM10 -1h2.2v2.2h-2.2zM10 19h2.2v2.2h-2.2zM15 18h2.2v2.2h-2.2zM14 16h2.2v2.2h-2.2zM23 20h2.2v2.2h-2.2zM12 22h2.2v2.2h-2.2zM1 22h2.2v2.2h-2.2zM21 3h2.2v2.2h-2.2zM10 22h2.2v2.2h-2.2zM16 11h2.2v2.2h-2.2zM0 6h2.2v2.2h-2.2zM-1 11h2.2v2.2h-2.2zM4 19h2.2v2.2h-2.2zM18 16h2.2v2.2h-2.2zM15 3h2.2v2.2h-2.2zM19 5h2.2v2.2h-2.2zM19 9h2.2v2.2h-2.2zM23 11h2.2v2.2h-2.2zM-1 1h2.2v2.2h-2.2zM9 5h2.2v2.2h-2.2zM2 6h2.2v2.2h-2.2zM13 -0h2.2v2.2h-2.2zM3 20h2.2v2.2h-2.2z" fill="#2b6cb0"/><path d="M17 5h2.2v2.2h-2.2zM1 20h2.2v2.2h-2.2zM18 14h2.2v2.2h-2.2zM9 -2h2.2v2.2h-2.2zM19 10h2.2v2.2h-2.2zM8 8h2.2v2.2h-2.2zM-1 -0h2.2v2.2h-2.2zM19 20h2.2v2.2h-2.2zM18 13h2.2v2.2h-2.2zM4 -1h2.2v2.2h-2.2zM7 11h2.2v2.2h-2.2zM19 2h2.2v2.2h-2.2zM-1 9h2.2v2.2h-2.2z" fill="#5ab4e0"/></pattern><pattern id="pDonBr" width="24" height="24" patternUnits="userSpaceOnUse"><path d="M17 3h2.2v2.2h-2.2zM19 3h2.2v2.2h-2.2zM18 15h2.2v2.2h-2.2zM5 10h2.2v2.2h-2.2zM-0 21h2.2v2.2h-2.2zM23 1h2.2v2.2h-2.2zM7 18h2.2v2.2h-2.2zM6 24h2.2v2.2h-2.2zM8 7h2.2v2.2h-2.2zM24 17h2.2v2.2h-2.2zM-1 5h2.2v2.2h-2.2zM6 12h2.2v2.2h-2.2zM20 14h2.2v2.2h-2.2zM21 20h2.2v2.2h-2.2zM21 9h2.2v2.2h-2.2zM12 6h2.2v2.2h-2.2zM8 3h2.2v2.2h-2.2zM10 20h2.2v2.2h-2.2zM15 4h2.2v2.2h-2.2zM21 -2h2.2v2.2h-2.2zM5 3h2.2v2.2h-2.2zM9 -0h2.2v2.2h-2.2zM20 21h2.2v2.2h-2.2zM10 9h2.2v2.2h-2.2zM3 18h2.2v2.2h-2.2zM4 0h2.2v2.2h-2.2zM13 5h2.2v2.2h-2.2zM5 10h2.2v2.2h-2.2zM10 8h2.2v2.2h-2.2zM5 1h2.2v2.2h-2.2zM-0 23h2.2v2.2h-2.2zM17 11h2.2v2.2h-2.2zM14 19h2.2v2.2h-2.2zM22 4h2.2v2.2h-2.2zM7 14h2.2v2.2h-2.2zM-2 11h2.2v2.2h-2.2zM20 2h2.2v2.2h-2.2zM23 -2h2.2v2.2h-2.2zM2 5h2.2v2.2h-2.2zM13 20h2.2v2.2h-2.2zM1 10h2.2v2.2h-2.2zM10 9h2.2v2.2h-2.2zM-0 14h2.2v2.2h-2.2zM5 -1h2.2v2.2h-2.2zM1 8h2.2v2.2h-2.2zM12 -2h2.2v2.2h-2.2zM7 11h2.2v2.2h-2.2z" fill="#a0522d"/><path d="M4 12h2.2v2.2h-2.2zM-1 23h2.2v2.2h-2.2zM4 22h2.2v2.2h-2.2zM21 21h2.2v2.2h-2.2zM1 4h2.2v2.2h-2.2zM16 5h2.2v2.2h-2.2zM11 20h2.2v2.2h-2.2zM10 17h2.2v2.2h-2.2zM4 3h2.2v2.2h-2.2zM17 13h2.2v2.2h-2.2zM8 2h2.2v2.2h-2.2zM12 22h2.2v2.2h-2.2zM2 14h2.2v2.2h-2.2zM16 -1h2.2v2.2h-2.2zM16 16h2.2v2.2h-2.2zM9 10h2.2v2.2h-2.2zM17 20h2.2v2.2h-2.2zM23 11h2.2v2.2h-2.2z" fill="#8b4513"/><path d="M17 14h2.2v2.2h-2.2zM21 22h2.2v2.2h-2.2zM16 6h2.2v2.2h-2.2zM15 3h2.2v2.2h-2.2zM1 5h2.2v2.2h-2.2zM16 17h2.2v2.2h-2.2zM8 -2h2.2v2.2h-2.2zM12 1h2.2v2.2h-2.2zM-1 18h2.2v2.2h-2.2zM16 -1h2.2v2.2h-2.2zM-0 13h2.2v2.2h-2.2zM12 18h2.2v2.2h-2.2zM6 14h2.2v2.2h-2.2zM23 6h2.2v2.2h-2.2zM-2 14h2.2v2.2h-2.2zM1 1h2.2v2.2h-2.2zM7 7h2.2v2.2h-2.2zM1 17h2.2v2.2h-2.2zM5 16h2.2v2.2h-2.2zM10 10h2.2v2.2h-2.2zM-2 12h2.2v2.2h-2.2z" fill="#2b6cb0"/><path d="M18 8h2.2v2.2h-2.2zM19 8h2.2v2.2h-2.2zM9 5h2.2v2.2h-2.2zM21 1h2.2v2.2h-2.2zM17 14h2.2v2.2h-2.2zM-1 1h2.2v2.2h-2.2zM8 16h2.2v2.2h-2.2zM6 -0h2.2v2.2h-2.2zM19 18h2.2v2.2h-2.2zM-0 17h2.2v2.2h-2.2zM8 15h2.2v2.2h-2.2zM8 14h2.2v2.2h-2.2zM4 6h2.2v2.2h-2.2zM14 5h2.2v2.2h-2.2zM17 13h2.2v2.2h-2.2zM10 19h2.2v2.2h-2.2zM13 19h2.2v2.2h-2.2zM5 11h2.2v2.2h-2.2zM15 4h2.2v2.2h-2.2zM6 3h2.2v2.2h-2.2zM10 11h2.2v2.2h-2.2zM7 6h2.2v2.2h-2.2zM10 23h2.2v2.2h-2.2zM1 8h2.2v2.2h-2.2zM11 3h2.2v2.2h-2.2zM9 11h2.2v2.2h-2.2zM17 22h2.2v2.2h-2.2zM16 6h2.2v2.2h-2.2zM4 3h2.2v2.2h-2.2zM7 4h2.2v2.2h-2.2zM-0 -1h2.2v2.2h-2.2zM9 16h2.2v2.2h-2.2zM10 6h2.2v2.2h-2.2zM-2 4h2.2v2.2h-2.2zM15 14h2.2v2.2h-2.2zM6 16h2.2v2.2h-2.2zM2 8h2.2v2.2h-2.2zM-1 22h2.2v2.2h-2.2zM19 2h2.2v2.2h-2.2zM9 2h2.2v2.2h-2.2zM21 23h2.2v2.2h-2.2zM19 16h2.2v2.2h-2.2zM13 12h2.2v2.2h-2.2zM12 0h2.2v2.2h-2.2zM2 14h2.2v2.2h-2.2zM22 9h2.2v2.2h-2.2zM23 20h2.2v2.2h-2.2z" fill="#a0522d"/><path d="M15 18h2.2v2.2h-2.2zM-1 -1h2.2v2.2h-2.2zM6 20h2.2v2.2h-2.2zM23 3h2.2v2.2h-2.2zM19 18h2.2v2.2h-2.2zM16 20h2.2v2.2h-2.2zM10 10h2.2v2.2h-2.2zM2 23h2.2v2.2h-2.2zM15 17h2.2v2.2h-2.2zM4 19h2.2v2.2h-2.2zM5 12h2.2v2.2h-2.2zM12 -2h2.2v2.2h-2.2zM17 22h2.2v2.2h-2.2zM4 10h2.2v2.2h-2.2zM11 13h2.2v2.2h-2.2zM23 10h2.2v2.2h-2.2zM5 20h2.2v2.2h-2.2zM-1 11h2.2v2.2h-2.2z" fill="#8b4513"/><path d="M21 17h2.2v2.2h-2.2zM17 14h2.2v2.2h-2.2zM23 15h2.2v2.2h-2.2zM2 6h2.2v2.2h-2.2zM14 3h2.2v2.2h-2.2zM21 16h2.2v2.2h-2.2zM13 12h2.2v2.2h-2.2zM12 5h2.2v2.2h-2.2zM8 7h2.2v2.2h-2.2zM14 17h2.2v2.2h-2.2zM22 6h2.2v2.2h-2.2zM2 4h2.2v2.2h-2.2zM11 10h2.2v2.2h-2.2zM-1 6h2.2v2.2h-2.2zM19 21h2.2v2.2h-2.2zM22 19h2.2v2.2h-2.2zM21 11h2.2v2.2h-2.2zM4 2h2.2v2.2h-2.2zM5 12h2.2v2.2h-2.2zM12 15h2.2v2.2h-2.2zM14 7h2.2v2.2h-2.2z" fill="#2b6cb0"/><path d="M11 22h2.2v2.2h-2.2zM16 3h2.2v2.2h-2.2zM20 18h2.2v2.2h-2.2zM9 1h2.2v2.2h-2.2zM11 20h2.2v2.2h-2.2zM6 20h2.2v2.2h-2.2zM16 8h2.2v2.2h-2.2zM22 13h2.2v2.2h-2.2zM23 15h2.2v2.2h-2.2zM0 5h2.2v2.2h-2.2zM17 7h2.2v2.2h-2.2zM19 5h2.2v2.2h-2.2zM3 9h2.2v2.2h-2.2zM5 5h2.2v2.2h-2.2zM22 1h2.2v2.2h-2.2zM24 7h2.2v2.2h-2.2zM21 24h2.2v2.2h-2.2zM6 19h2.2v2.2h-2.2zM20 0h2.2v2.2h-2.2zM6 18h2.2v2.2h-2.2zM13 11h2.2v2.2h-2.2zM10 15h2.2v2.2h-2.2zM10 -1h2.2v2.2h-2.2zM12 1h2.2v2.2h-2.2zM2 20h2.2v2.2h-2.2zM3 22h2.2v2.2h-2.2zM17 -2h2.2v2.2h-2.2zM10 4h2.2v2.2h-2.2zM11 5h2.2v2.2h-2.2zM24 23h2.2v2.2h-2.2zM22 9h2.2v2.2h-2.2zM20 6h2.2v2.2h-2.2zM6 20h2.2v2.2h-2.2zM2 5h2.2v2.2h-2.2zM7 18h2.2v2.2h-2.2zM24 18h2.2v2.2h-2.2zM12 9h2.2v2.2h-2.2zM-1 -2h2.2v2.2h-2.2zM16 4h2.2v2.2h-2.2zM2 20h2.2v2.2h-2.2zM21 -1h2.2v2.2h-2.2zM10 5h2.2v2.2h-2.2zM21 7h2.2v2.2h-2.2zM11 0h2.2v2.2h-2.2zM13 17h2.2v2.2h-2.2zM19 4h2.2v2.2h-2.2zM-1 20h2.2v2.2h-2.2z" fill="#a0522d"/><path d="M23 23h2.2v2.2h-2.2zM7 10h2.2v2.2h-2.2zM22 7h2.2v2.2h-2.2zM-1 3h2.2v2.2h-2.2zM21 14h2.2v2.2h-2.2zM4 3h2.2v2.2h-2.2zM19 19h2.2v2.2h-2.2zM2 -1h2.2v2.2h-2.2zM19 3h2.2v2.2h-2.2zM7 4h2.2v2.2h-2.2zM21 22h2.2v2.2h-2.2zM19 11h2.2v2.2h-2.2zM17 -2h2.2v2.2h-2.2zM16 7h2.2v2.2h-2.2zM4 22h2.2v2.2h-2.2zM-1 10h2.2v2.2h-2.2zM14 17h2.2v2.2h-2.2z" fill="#8b4513"/><path d="M15 16h2.2v2.2h-2.2zM9 14h2.2v2.2h-2.2zM-1 15h2.2v2.2h-2.2zM1 19h2.2v2.2h-2.2zM11 19h2.2v2.2h-2.2zM1 19h2.2v2.2h-2.2zM6 2h2.2v2.2h-2.2zM21 4h2.2v2.2h-2.2zM1 12h2.2v2.2h-2.2zM10 8h2.2v2.2h-2.2zM-2 6h2.2v2.2h-2.2zM11 20h2.2v2.2h-2.2zM22 13h2.2v2.2h-2.2zM12 20h2.2v2.2h-2.2zM7 16h2.2v2.2h-2.2zM-2 19h2.2v2.2h-2.2zM1 11h2.2v2.2h-2.2zM4 8h2.2v2.2h-2.2zM4 14h2.2v2.2h-2.2zM0 1h2.2v2.2h-2.2zM16 15h2.2v2.2h-2.2z" fill="#2b6cb0"/><path d="M11 -2h2.2v2.2h-2.2zM15 15h2.2v2.2h-2.2zM6 21h2.2v2.2h-2.2zM24 21h2.2v2.2h-2.2zM20 15h2.2v2.2h-2.2zM18 5h2.2v2.2h-2.2zM16 1h2.2v2.2h-2.2zM-2 13h2.2v2.2h-2.2zM-1 15h2.2v2.2h-2.2zM23 5h2.2v2.2h-2.2zM17 20h2.2v2.2h-2.2zM10 1h2.2v2.2h-2.2zM14 20h2.2v2.2h-2.2zM21 2h2.2v2.2h-2.2zM13 6h2.2v2.2h-2.2zM-0 7h2.2v2.2h-2.2zM21 -0h2.2v2.2h-2.2zM15 7h2.2v2.2h-2.2zM21 22h2.2v2.2h-2.2zM6 3h2.2v2.2h-2.2zM9 24h2.2v2.2h-2.2zM10 19h2.2v2.2h-2.2zM4 4h2.2v2.2h-2.2zM14 20h2.2v2.2h-2.2zM11 2h2.2v2.2h-2.2zM17 9h2.2v2.2h-2.2zM6 3h2.2v2.2h-2.2zM15 7h2.2v2.2h-2.2zM17 9h2.2v2.2h-2.2zM24 -1h2.2v2.2h-2.2zM21 5h2.2v2.2h-2.2zM0 3h2.2v2.2h-2.2zM17 13h2.2v2.2h-2.2zM3 9h2.2v2.2h-2.2zM22 11h2.2v2.2h-2.2zM-0 18h2.2v2.2h-2.2zM23 22h2.2v2.2h-2.2zM11 20h2.2v2.2h-2.2zM4 2h2.2v2.2h-2.2zM4 5h2.2v2.2h-2.2zM3 3h2.2v2.2h-2.2zM24 14h2.2v2.2h-2.2zM5 23h2.2v2.2h-2.2zM12 11h2.2v2.2h-2.2zM12 22h2.2v2.2h-2.2zM5 10h2.2v2.2h-2.2z" fill="#a0522d"/><path d="M23 -1h2.2v2.2h-2.2zM5 5h2.2v2.2h-2.2zM-2 7h2.2v2.2h-2.2zM18 1h2.2v2.2h-2.2zM4 5h2.2v2.2h-2.2zM13 19h2.2v2.2h-2.2zM20 19h2.2v2.2h-2.2zM7 14h2.2v2.2h-2.2zM6 21h2.2v2.2h-2.2zM2 0h2.2v2.2h-2.2zM21 -2h2.2v2.2h-2.2zM6 19h2.2v2.2h-2.2zM16 23h2.2v2.2h-2.2zM16 21h2.2v2.2h-2.2zM4 -2h2.2v2.2h-2.2zM0 6h2.2v2.2h-2.2zM0 4h2.2v2.2h-2.2z" fill="#8b4513"/><path d="M1 17h2.2v2.2h-2.2zM5 12h2.2v2.2h-2.2zM9 5h2.2v2.2h-2.2zM7 1h2.2v2.2h-2.2zM19 8h2.2v2.2h-2.2zM8 22h2.2v2.2h-2.2zM13 5h2.2v2.2h-2.2zM23 18h2.2v2.2h-2.2zM16 23h2.2v2.2h-2.2zM24 13h2.2v2.2h-2.2zM1 12h2.2v2.2h-2.2zM6 5h2.2v2.2h-2.2zM-2 13h2.2v2.2h-2.2zM22 14h2.2v2.2h-2.2zM4 7h2.2v2.2h-2.2zM3 8h2.2v2.2h-2.2zM18 17h2.2v2.2h-2.2zM5 16h2.2v2.2h-2.2zM21 4h2.2v2.2h-2.2zM22 12h2.2v2.2h-2.2z" fill="#2b6cb0"/></pattern><pattern id="pDonL" width="24" height="24" patternUnits="userSpaceOnUse"><path d="M8 16h2.2v2.2h-2.2zM18 3h2.2v2.2h-2.2zM8 18h2.2v2.2h-2.2zM23 12h2.2v2.2h-2.2zM17 11h2.2v2.2h-2.2zM-2 15h2.2v2.2h-2.2zM21 8h2.2v2.2h-2.2zM20 24h2.2v2.2h-2.2zM22 23h2.2v2.2h-2.2zM17 1h2.2v2.2h-2.2zM7 13h2.2v2.2h-2.2zM8 12h2.2v2.2h-2.2zM14 12h2.2v2.2h-2.2zM24 13h2.2v2.2h-2.2zM9 6h2.2v2.2h-2.2zM4 5h2.2v2.2h-2.2zM16 5h2.2v2.2h-2.2zM20 7h2.2v2.2h-2.2zM-2 19h2.2v2.2h-2.2zM18 13h2.2v2.2h-2.2zM2 9h2.2v2.2h-2.2zM4 20h2.2v2.2h-2.2zM20 17h2.2v2.2h-2.2zM5 11h2.2v2.2h-2.2zM16 16h2.2v2.2h-2.2zM23 10h2.2v2.2h-2.2zM12 4h2.2v2.2h-2.2zM4 24h2.2v2.2h-2.2zM17 18h2.2v2.2h-2.2zM1 0h2.2v2.2h-2.2zM22 19h2.2v2.2h-2.2z" fill="#5ab4e0"/><path d="M24 2h2.2v2.2h-2.2zM11 20h2.2v2.2h-2.2zM5 8h2.2v2.2h-2.2zM8 17h2.2v2.2h-2.2zM3 12h2.2v2.2h-2.2zM4 2h2.2v2.2h-2.2zM-0 15h2.2v2.2h-2.2zM14 2h2.2v2.2h-2.2zM12 18h2.2v2.2h-2.2zM5 16h2.2v2.2h-2.2zM11 17h2.2v2.2h-2.2zM17 22h2.2v2.2h-2.2zM8 -1h2.2v2.2h-2.2zM4 2h2.2v2.2h-2.2zM5 13h2.2v2.2h-2.2zM10 4h2.2v2.2h-2.2zM8 17h2.2v2.2h-2.2zM-0 18h2.2v2.2h-2.2zM13 16h2.2v2.2h-2.2zM12 5h2.2v2.2h-2.2zM24 6h2.2v2.2h-2.2zM2 13h2.2v2.2h-2.2zM22 3h2.2v2.2h-2.2zM5 5h2.2v2.2h-2.2z" fill="#8fd0f0"/><path d="M3 18h2.2v2.2h-2.2zM4 -0h2.2v2.2h-2.2zM22 0h2.2v2.2h-2.2zM2 -2h2.2v2.2h-2.2zM9 8h2.2v2.2h-2.2zM3 23h2.2v2.2h-2.2zM4 4h2.2v2.2h-2.2zM2 9h2.2v2.2h-2.2zM11 -1h2.2v2.2h-2.2zM21 4h2.2v2.2h-2.2zM-0 14h2.2v2.2h-2.2zM18 20h2.2v2.2h-2.2zM16 20h2.2v2.2h-2.2zM12 10h2.2v2.2h-2.2zM3 16h2.2v2.2h-2.2z" fill="#2b6cb0"/><path d="M22 8h2.2v2.2h-2.2zM1 23h2.2v2.2h-2.2zM19 24h2.2v2.2h-2.2zM14 8h2.2v2.2h-2.2zM3 8h2.2v2.2h-2.2zM-2 14h2.2v2.2h-2.2zM14 2h2.2v2.2h-2.2zM24 18h2.2v2.2h-2.2zM23 20h2.2v2.2h-2.2zM17 0h2.2v2.2h-2.2zM11 5h2.2v2.2h-2.2zM1 12h2.2v2.2h-2.2zM4 22h2.2v2.2h-2.2zM19 14h2.2v2.2h-2.2z" fill="#7cc8a0"/><path d="M0 11h2.2v2.2h-2.2zM13 16h2.2v2.2h-2.2zM10 18h2.2v2.2h-2.2zM-1 12h2.2v2.2h-2.2zM17 10h2.2v2.2h-2.2zM13 18h2.2v2.2h-2.2zM15 2h2.2v2.2h-2.2zM20 -0h2.2v2.2h-2.2zM22 -1h2.2v2.2h-2.2zM9 0h2.2v2.2h-2.2zM24 16h2.2v2.2h-2.2zM11 3h2.2v2.2h-2.2zM24 3h2.2v2.2h-2.2zM-0 13h2.2v2.2h-2.2zM2 7h2.2v2.2h-2.2zM9 18h2.2v2.2h-2.2zM20 23h2.2v2.2h-2.2zM12 18h2.2v2.2h-2.2zM1 12h2.2v2.2h-2.2zM8 3h2.2v2.2h-2.2zM2 20h2.2v2.2h-2.2zM14 22h2.2v2.2h-2.2zM2 2h2.2v2.2h-2.2zM8 14h2.2v2.2h-2.2zM15 8h2.2v2.2h-2.2zM-1 10h2.2v2.2h-2.2zM14 6h2.2v2.2h-2.2zM4 -0h2.2v2.2h-2.2zM4 15h2.2v2.2h-2.2zM18 22h2.2v2.2h-2.2zM-2 19h2.2v2.2h-2.2z" fill="#5ab4e0"/><path d="M-0 2h2.2v2.2h-2.2zM6 5h2.2v2.2h-2.2zM3 11h2.2v2.2h-2.2zM13 5h2.2v2.2h-2.2zM8 16h2.2v2.2h-2.2zM13 5h2.2v2.2h-2.2zM13 15h2.2v2.2h-2.2zM15 5h2.2v2.2h-2.2zM17 9h2.2v2.2h-2.2zM15 16h2.2v2.2h-2.2zM13 24h2.2v2.2h-2.2zM17 -2h2.2v2.2h-2.2zM1 23h2.2v2.2h-2.2zM8 11h2.2v2.2h-2.2zM15 5h2.2v2.2h-2.2zM13 21h2.2v2.2h-2.2zM24 1h2.2v2.2h-2.2zM13 3h2.2v2.2h-2.2zM20 20h2.2v2.2h-2.2zM7 23h2.2v2.2h-2.2zM-0 6h2.2v2.2h-2.2zM9 14h2.2v2.2h-2.2zM-2 3h2.2v2.2h-2.2z" fill="#8fd0f0"/><path d="M22 4h2.2v2.2h-2.2zM12 0h2.2v2.2h-2.2zM2 7h2.2v2.2h-2.2zM18 24h2.2v2.2h-2.2zM15 22h2.2v2.2h-2.2zM3 -1h2.2v2.2h-2.2zM23 10h2.2v2.2h-2.2zM17 12h2.2v2.2h-2.2zM23 5h2.2v2.2h-2.2zM23 0h2.2v2.2h-2.2zM6 24h2.2v2.2h-2.2zM20 19h2.2v2.2h-2.2zM13 10h2.2v2.2h-2.2zM18 9h2.2v2.2h-2.2zM7 16h2.2v2.2h-2.2z" fill="#2b6cb0"/><path d="M15 7h2.2v2.2h-2.2zM1 -1h2.2v2.2h-2.2zM19 -0h2.2v2.2h-2.2zM19 9h2.2v2.2h-2.2zM3 11h2.2v2.2h-2.2zM7 15h2.2v2.2h-2.2zM7 22h2.2v2.2h-2.2zM-0 18h2.2v2.2h-2.2zM-1 20h2.2v2.2h-2.2zM13 17h2.2v2.2h-2.2zM13 24h2.2v2.2h-2.2zM21 22h2.2v2.2h-2.2zM4 -2h2.2v2.2h-2.2zM17 1h2.2v2.2h-2.2z" fill="#7cc8a0"/><path d="M14 15h2.2v2.2h-2.2zM5 3h2.2v2.2h-2.2zM2 12h2.2v2.2h-2.2zM1 12h2.2v2.2h-2.2zM18 4h2.2v2.2h-2.2zM5 23h2.2v2.2h-2.2zM20 16h2.2v2.2h-2.2zM18 12h2.2v2.2h-2.2zM-2 23h2.2v2.2h-2.2zM4 2h2.2v2.2h-2.2zM-0 16h2.2v2.2h-2.2zM21 22h2.2v2.2h-2.2zM-0 3h2.2v2.2h-2.2zM9 5h2.2v2.2h-2.2zM5 18h2.2v2.2h-2.2zM2 21h2.2v2.2h-2.2zM20 -1h2.2v2.2h-2.2zM7 2h2.2v2.2h-2.2zM14 24h2.2v2.2h-2.2zM12 12h2.2v2.2h-2.2zM6 20h2.2v2.2h-2.2zM14 -2h2.2v2.2h-2.2zM9 23h2.2v2.2h-2.2zM13 13h2.2v2.2h-2.2zM15 15h2.2v2.2h-2.2zM22 15h2.2v2.2h-2.2zM0 3h2.2v2.2h-2.2zM13 14h2.2v2.2h-2.2zM2 16h2.2v2.2h-2.2zM3 15h2.2v2.2h-2.2zM3 4h2.2v2.2h-2.2z" fill="#5ab4e0"/><path d="M5 12h2.2v2.2h-2.2zM11 11h2.2v2.2h-2.2zM8 18h2.2v2.2h-2.2zM19 16h2.2v2.2h-2.2zM1 23h2.2v2.2h-2.2zM0 13h2.2v2.2h-2.2zM11 14h2.2v2.2h-2.2zM22 21h2.2v2.2h-2.2zM18 14h2.2v2.2h-2.2zM0 9h2.2v2.2h-2.2zM13 -0h2.2v2.2h-2.2zM20 0h2.2v2.2h-2.2zM1 -1h2.2v2.2h-2.2zM21 22h2.2v2.2h-2.2zM10 4h2.2v2.2h-2.2zM1 16h2.2v2.2h-2.2zM-0 1h2.2v2.2h-2.2zM20 16h2.2v2.2h-2.2zM7 12h2.2v2.2h-2.2zM7 -1h2.2v2.2h-2.2zM16 24h2.2v2.2h-2.2zM2 24h2.2v2.2h-2.2zM23 18h2.2v2.2h-2.2z" fill="#8fd0f0"/><path d="M-2 4h2.2v2.2h-2.2zM3 15h2.2v2.2h-2.2zM19 8h2.2v2.2h-2.2zM18 -0h2.2v2.2h-2.2zM15 -2h2.2v2.2h-2.2zM21 8h2.2v2.2h-2.2zM-1 10h2.2v2.2h-2.2zM12 18h2.2v2.2h-2.2zM-1 5h2.2v2.2h-2.2zM-1 0h2.2v2.2h-2.2zM6 -0h2.2v2.2h-2.2zM2 6h2.2v2.2h-2.2zM12 1h2.2v2.2h-2.2zM18 2h2.2v2.2h-2.2z" fill="#2b6cb0"/><path d="M16 9h2.2v2.2h-2.2zM5 19h2.2v2.2h-2.2zM15 3h2.2v2.2h-2.2zM21 5h2.2v2.2h-2.2zM20 5h2.2v2.2h-2.2zM9 3h2.2v2.2h-2.2zM7 -2h2.2v2.2h-2.2zM3 14h2.2v2.2h-2.2zM10 14h2.2v2.2h-2.2zM22 4h2.2v2.2h-2.2zM13 -0h2.2v2.2h-2.2zM21 -2h2.2v2.2h-2.2zM15 20h2.2v2.2h-2.2zM3 16h2.2v2.2h-2.2z" fill="#7cc8a0"/><path d="M4 8h2.2v2.2h-2.2zM9 19h2.2v2.2h-2.2zM12 22h2.2v2.2h-2.2zM15 13h2.2v2.2h-2.2zM22 15h2.2v2.2h-2.2zM5 -1h2.2v2.2h-2.2zM20 1h2.2v2.2h-2.2zM4 13h2.2v2.2h-2.2zM-2 -1h2.2v2.2h-2.2zM9 21h2.2v2.2h-2.2zM11 11h2.2v2.2h-2.2zM21 -2h2.2v2.2h-2.2zM14 5h2.2v2.2h-2.2zM6 21h2.2v2.2h-2.2zM21 7h2.2v2.2h-2.2zM11 5h2.2v2.2h-2.2zM20 5h2.2v2.2h-2.2zM22 19h2.2v2.2h-2.2zM14 -0h2.2v2.2h-2.2zM2 16h2.2v2.2h-2.2zM17 7h2.2v2.2h-2.2zM18 17h2.2v2.2h-2.2zM9 -1h2.2v2.2h-2.2zM5 18h2.2v2.2h-2.2zM17 2h2.2v2.2h-2.2zM-2 15h2.2v2.2h-2.2zM19 19h2.2v2.2h-2.2zM20 13h2.2v2.2h-2.2zM2 18h2.2v2.2h-2.2zM16 3h2.2v2.2h-2.2z" fill="#5ab4e0"/><path d="M8 7h2.2v2.2h-2.2zM4 9h2.2v2.2h-2.2zM2 1h2.2v2.2h-2.2zM7 3h2.2v2.2h-2.2zM1 -1h2.2v2.2h-2.2zM24 15h2.2v2.2h-2.2zM7 13h2.2v2.2h-2.2zM-2 21h2.2v2.2h-2.2zM11 11h2.2v2.2h-2.2zM3 21h2.2v2.2h-2.2zM10 0h2.2v2.2h-2.2zM8 23h2.2v2.2h-2.2zM17 3h2.2v2.2h-2.2zM19 17h2.2v2.2h-2.2zM13 10h2.2v2.2h-2.2zM10 5h2.2v2.2h-2.2zM24 18h2.2v2.2h-2.2zM10 10h2.2v2.2h-2.2zM7 11h2.2v2.2h-2.2zM4 1h2.2v2.2h-2.2zM16 -0h2.2v2.2h-2.2zM2 -0h2.2v2.2h-2.2zM-1 18h2.2v2.2h-2.2z" fill="#8fd0f0"/><path d="M4 24h2.2v2.2h-2.2zM21 14h2.2v2.2h-2.2zM2 22h2.2v2.2h-2.2zM6 17h2.2v2.2h-2.2zM16 8h2.2v2.2h-2.2zM12 4h2.2v2.2h-2.2zM8 6h2.2v2.2h-2.2zM11 23h2.2v2.2h-2.2zM3 18h2.2v2.2h-2.2zM24 14h2.2v2.2h-2.2zM18 18h2.2v2.2h-2.2zM7 9h2.2v2.2h-2.2zM7 3h2.2v2.2h-2.2zM8 5h2.2v2.2h-2.2z" fill="#2b6cb0"/><path d="M13 3h2.2v2.2h-2.2zM17 10h2.2v2.2h-2.2zM16 14h2.2v2.2h-2.2zM16 2h2.2v2.2h-2.2zM22 14h2.2v2.2h-2.2zM21 2h2.2v2.2h-2.2zM10 11h2.2v2.2h-2.2zM4 22h2.2v2.2h-2.2zM2 17h2.2v2.2h-2.2zM-2 4h2.2v2.2h-2.2zM19 15h2.2v2.2h-2.2zM13 13h2.2v2.2h-2.2zM6 7h2.2v2.2h-2.2zM14 9h2.2v2.2h-2.2z" fill="#7cc8a0"/></pattern><linearGradient id="gVir" x1="0" y1="1" x2="0" y2="0"><stop offset="0" stop-color="#440154"/><stop offset="0.25" stop-color="#3b528b"/><stop offset="0.5" stop-color="#21918c"/><stop offset="0.75" stop-color="#5ec962"/><stop offset="1" stop-color="#fde725"/></linearGradient><linearGradient id="gHM" x1="-0.05" y1="0" x2="1.1" y2="0"><stop offset="0" stop-color="#fff8ee"/><stop offset="0.05" stop-color="#fef4e4"/><stop offset="0.2" stop-color="#fcdcb4"/><stop offset="0.35" stop-color="#f6b27e"/><stop offset="0.5" stop-color="#ee7a52"/><stop offset="0.65" stop-color="#dc4030"/><stop offset="0.8" stop-color="#b01818"/><stop offset="1" stop-color="#6a0606"/></linearGradient><linearGradient id="gOrRd2" x1="0" y1="0" x2="1" y2="0"><stop offset="0" stop-color="#fff5ea"/><stop offset="0.25" stop-color="#fcd3a2"/><stop offset="0.5" stop-color="#f3845a"/><stop offset="0.75" stop-color="#d11f1c"/><stop offset="1.0" stop-color="#6a0b0b"/></linearGradient><linearGradient id="gReds2" x1="0" y1="0" x2="1" y2="0"><stop offset="0" stop-color="#fff5f0"/><stop offset="0.25" stop-color="#fcbca4"/><stop offset="0.5" stop-color="#f6553c"/><stop offset="0.75" stop-color="#c01018"/><stop offset="1.0" stop-color="#5e0808"/></linearGradient><pattern id="pPeach" width="24" height="24" patternUnits="userSpaceOnUse"><path d="M6 17h2.4v2.4h-2.4zM22 7h2.4v2.4h-2.4zM23 11h2.4v2.4h-2.4zM12 21h2.4v2.4h-2.4zM15 5h2.4v2.4h-2.4zM13 14h2.4v2.4h-2.4zM12 1h2.4v2.4h-2.4zM0 5h2.4v2.4h-2.4zM19 20h2.4v2.4h-2.4zM8 23h2.4v2.4h-2.4zM1 4h2.4v2.4h-2.4zM5 8h2.4v2.4h-2.4zM20 11h2.4v2.4h-2.4zM12 20h2.4v2.4h-2.4zM14 7h2.4v2.4h-2.4zM17 1h2.4v2.4h-2.4zM12 16h2.4v2.4h-2.4zM12 10h2.4v2.4h-2.4zM1 10h2.4v2.4h-2.4zM7 14h2.4v2.4h-2.4zM24 22h2.4v2.4h-2.4zM14 23h2.4v2.4h-2.4zM16 3h2.4v2.4h-2.4zM5 11h2.4v2.4h-2.4zM-0 23h2.4v2.4h-2.4zM23 14h2.4v2.4h-2.4zM19 14h2.4v2.4h-2.4zM5 15h2.4v2.4h-2.4zM9 20h2.4v2.4h-2.4zM3 11h2.4v2.4h-2.4zM13 12h2.4v2.4h-2.4zM23 7h2.4v2.4h-2.4zM16 3h2.4v2.4h-2.4zM-2 -0h2.4v2.4h-2.4zM2 21h2.4v2.4h-2.4z" fill="#fbd9b4"/><path d="M14 21h2.4v2.4h-2.4zM13 21h2.4v2.4h-2.4zM21 12h2.4v2.4h-2.4zM5 13h2.4v2.4h-2.4zM14 20h2.4v2.4h-2.4zM-2 4h2.4v2.4h-2.4zM4 6h2.4v2.4h-2.4zM4 6h2.4v2.4h-2.4zM23 11h2.4v2.4h-2.4zM12 -1h2.4v2.4h-2.4zM3 5h2.4v2.4h-2.4zM22 12h2.4v2.4h-2.4zM4 14h2.4v2.4h-2.4zM6 5h2.4v2.4h-2.4zM22 3h2.4v2.4h-2.4zM23 21h2.4v2.4h-2.4zM24 5h2.4v2.4h-2.4zM-0 12h2.4v2.4h-2.4z" fill="#f8c89a"/><path d="M10 12h2.4v2.4h-2.4zM10 1h2.4v2.4h-2.4zM18 24h2.4v2.4h-2.4zM6 14h2.4v2.4h-2.4zM22 19h2.4v2.4h-2.4zM6 17h2.4v2.4h-2.4zM6 7h2.4v2.4h-2.4zM-1 -2h2.4v2.4h-2.4zM15 19h2.4v2.4h-2.4zM8 0h2.4v2.4h-2.4zM23 8h2.4v2.4h-2.4zM16 19h2.4v2.4h-2.4zM21 14h2.4v2.4h-2.4zM17 10h2.4v2.4h-2.4zM16 0h2.4v2.4h-2.4zM20 11h2.4v2.4h-2.4zM7 -2h2.4v2.4h-2.4zM11 19h2.4v2.4h-2.4zM17 6h2.4v2.4h-2.4z" fill="#fde8d2"/><path d="M1 10h2.4v2.4h-2.4zM-1 17h2.4v2.4h-2.4z" fill="#f0a880"/><path d="M11 18h2.4v2.4h-2.4zM-2 7h2.4v2.4h-2.4zM-1 11h2.4v2.4h-2.4zM23 9h2.4v2.4h-2.4zM16 24h2.4v2.4h-2.4zM20 5h2.4v2.4h-2.4zM20 23h2.4v2.4h-2.4zM20 16h2.4v2.4h-2.4zM15 0h2.4v2.4h-2.4zM8 -1h2.4v2.4h-2.4zM2 13h2.4v2.4h-2.4zM19 19h2.4v2.4h-2.4zM6 3h2.4v2.4h-2.4zM17 13h2.4v2.4h-2.4zM21 14h2.4v2.4h-2.4zM14 1h2.4v2.4h-2.4zM13 4h2.4v2.4h-2.4zM17 16h2.4v2.4h-2.4zM17 6h2.4v2.4h-2.4zM7 4h2.4v2.4h-2.4zM24 -2h2.4v2.4h-2.4zM14 -1h2.4v2.4h-2.4zM23 5h2.4v2.4h-2.4zM21 22h2.4v2.4h-2.4zM-0 -1h2.4v2.4h-2.4zM-1 14h2.4v2.4h-2.4zM1 14h2.4v2.4h-2.4zM10 1h2.4v2.4h-2.4zM1 6h2.4v2.4h-2.4zM2 16h2.4v2.4h-2.4zM23 4h2.4v2.4h-2.4zM-1 7h2.4v2.4h-2.4zM22 24h2.4v2.4h-2.4zM19 6h2.4v2.4h-2.4zM14 6h2.4v2.4h-2.4z" fill="#fbd9b4"/><path d="M3 0h2.4v2.4h-2.4zM15 16h2.4v2.4h-2.4zM16 3h2.4v2.4h-2.4zM16 0h2.4v2.4h-2.4zM4 8h2.4v2.4h-2.4zM17 0h2.4v2.4h-2.4zM18 10h2.4v2.4h-2.4zM23 14h2.4v2.4h-2.4zM-1 11h2.4v2.4h-2.4zM5 15h2.4v2.4h-2.4zM1 7h2.4v2.4h-2.4zM-2 12h2.4v2.4h-2.4zM23 9h2.4v2.4h-2.4zM12 21h2.4v2.4h-2.4zM3 3h2.4v2.4h-2.4zM-1 21h2.4v2.4h-2.4zM-0 5h2.4v2.4h-2.4zM15 23h2.4v2.4h-2.4z" fill="#f8c89a"/><path d="M2 9h2.4v2.4h-2.4zM3 22h2.4v2.4h-2.4zM18 -0h2.4v2.4h-2.4zM3 12h2.4v2.4h-2.4zM-2 19h2.4v2.4h-2.4zM22 0h2.4v2.4h-2.4zM23 22h2.4v2.4h-2.4zM5 1h2.4v2.4h-2.4zM7 9h2.4v2.4h-2.4zM8 3h2.4v2.4h-2.4zM-1 8h2.4v2.4h-2.4zM20 8h2.4v2.4h-2.4zM21 23h2.4v2.4h-2.4zM9 1h2.4v2.4h-2.4zM7 8h2.4v2.4h-2.4zM24 18h2.4v2.4h-2.4zM17 1h2.4v2.4h-2.4zM20 17h2.4v2.4h-2.4zM10 6h2.4v2.4h-2.4z" fill="#fde8d2"/><path d="M2 14h2.4v2.4h-2.4z" fill="#f0a880"/><path d="M12 1h2.4v2.4h-2.4zM11 3h2.4v2.4h-2.4zM20 20h2.4v2.4h-2.4zM-1 9h2.4v2.4h-2.4zM16 -0h2.4v2.4h-2.4zM22 17h2.4v2.4h-2.4zM20 -1h2.4v2.4h-2.4zM18 14h2.4v2.4h-2.4zM8 8h2.4v2.4h-2.4zM1 17h2.4v2.4h-2.4zM15 24h2.4v2.4h-2.4zM18 15h2.4v2.4h-2.4zM3 8h2.4v2.4h-2.4zM21 19h2.4v2.4h-2.4zM1 7h2.4v2.4h-2.4zM19 18h2.4v2.4h-2.4zM10 18h2.4v2.4h-2.4zM9 7h2.4v2.4h-2.4zM6 20h2.4v2.4h-2.4zM23 14h2.4v2.4h-2.4zM-0 22h2.4v2.4h-2.4zM17 3h2.4v2.4h-2.4zM-1 5h2.4v2.4h-2.4zM24 23h2.4v2.4h-2.4zM8 11h2.4v2.4h-2.4zM23 19h2.4v2.4h-2.4zM12 19h2.4v2.4h-2.4zM23 10h2.4v2.4h-2.4zM17 1h2.4v2.4h-2.4zM5 23h2.4v2.4h-2.4zM-1 4h2.4v2.4h-2.4zM4 13h2.4v2.4h-2.4zM22 -0h2.4v2.4h-2.4zM21 1h2.4v2.4h-2.4zM6 13h2.4v2.4h-2.4z" fill="#fbd9b4"/><path d="M14 11h2.4v2.4h-2.4zM16 10h2.4v2.4h-2.4zM4 7h2.4v2.4h-2.4zM24 11h2.4v2.4h-2.4zM13 7h2.4v2.4h-2.4zM11 17h2.4v2.4h-2.4zM20 16h2.4v2.4h-2.4zM-1 14h2.4v2.4h-2.4zM2 10h2.4v2.4h-2.4zM21 0h2.4v2.4h-2.4zM22 15h2.4v2.4h-2.4zM19 13h2.4v2.4h-2.4zM-1 9h2.4v2.4h-2.4zM10 11h2.4v2.4h-2.4zM8 8h2.4v2.4h-2.4zM15 9h2.4v2.4h-2.4zM12 10h2.4v2.4h-2.4zM15 -1h2.4v2.4h-2.4z" fill="#f8c89a"/><path d="M15 10h2.4v2.4h-2.4zM3 -2h2.4v2.4h-2.4zM6 16h2.4v2.4h-2.4zM1 4h2.4v2.4h-2.4zM11 24h2.4v2.4h-2.4zM-2 0h2.4v2.4h-2.4zM23 -2h2.4v2.4h-2.4zM4 18h2.4v2.4h-2.4zM14 7h2.4v2.4h-2.4zM5 19h2.4v2.4h-2.4zM19 24h2.4v2.4h-2.4zM15 21h2.4v2.4h-2.4zM21 -1h2.4v2.4h-2.4zM5 20h2.4v2.4h-2.4zM20 21h2.4v2.4h-2.4zM-0 18h2.4v2.4h-2.4zM18 7h2.4v2.4h-2.4zM19 5h2.4v2.4h-2.4zM22 9h2.4v2.4h-2.4z" fill="#fde8d2"/><path d="M18 8h2.4v2.4h-2.4z" fill="#f0a880"/><path d="M5 9h2.4v2.4h-2.4zM19 1h2.4v2.4h-2.4zM16 7h2.4v2.4h-2.4zM21 11h2.4v2.4h-2.4zM16 12h2.4v2.4h-2.4zM15 7h2.4v2.4h-2.4zM3 19h2.4v2.4h-2.4zM22 7h2.4v2.4h-2.4zM10 14h2.4v2.4h-2.4zM16 16h2.4v2.4h-2.4zM15 -0h2.4v2.4h-2.4zM0 21h2.4v2.4h-2.4zM7 21h2.4v2.4h-2.4zM17 4h2.4v2.4h-2.4zM10 12h2.4v2.4h-2.4zM16 16h2.4v2.4h-2.4zM20 18h2.4v2.4h-2.4zM12 4h2.4v2.4h-2.4zM11 1h2.4v2.4h-2.4zM-1 14h2.4v2.4h-2.4zM-0 -2h2.4v2.4h-2.4zM8 16h2.4v2.4h-2.4zM17 3h2.4v2.4h-2.4zM24 -1h2.4v2.4h-2.4zM4 19h2.4v2.4h-2.4zM-1 19h2.4v2.4h-2.4zM10 13h2.4v2.4h-2.4zM-1 10h2.4v2.4h-2.4zM4 17h2.4v2.4h-2.4zM5 -1h2.4v2.4h-2.4zM1 11h2.4v2.4h-2.4zM19 20h2.4v2.4h-2.4zM-2 24h2.4v2.4h-2.4zM13 16h2.4v2.4h-2.4zM13 7h2.4v2.4h-2.4z" fill="#fbd9b4"/><path d="M5 5h2.4v2.4h-2.4zM14 8h2.4v2.4h-2.4zM3 9h2.4v2.4h-2.4zM-0 11h2.4v2.4h-2.4zM22 4h2.4v2.4h-2.4zM15 18h2.4v2.4h-2.4zM5 16h2.4v2.4h-2.4zM17 17h2.4v2.4h-2.4zM12 23h2.4v2.4h-2.4zM5 7h2.4v2.4h-2.4zM-2 15h2.4v2.4h-2.4zM17 11h2.4v2.4h-2.4zM7 2h2.4v2.4h-2.4zM3 7h2.4v2.4h-2.4zM8 8h2.4v2.4h-2.4zM2 2h2.4v2.4h-2.4zM24 12h2.4v2.4h-2.4z" fill="#f8c89a"/><path d="M19 9h2.4v2.4h-2.4zM13 18h2.4v2.4h-2.4zM16 16h2.4v2.4h-2.4zM15 5h2.4v2.4h-2.4zM11 -0h2.4v2.4h-2.4zM7 18h2.4v2.4h-2.4zM-1 22h2.4v2.4h-2.4zM17 5h2.4v2.4h-2.4zM2 5h2.4v2.4h-2.4zM6 5h2.4v2.4h-2.4zM19 -0h2.4v2.4h-2.4zM7 13h2.4v2.4h-2.4zM9 15h2.4v2.4h-2.4zM4 5h2.4v2.4h-2.4zM16 5h2.4v2.4h-2.4zM7 22h2.4v2.4h-2.4zM14 6h2.4v2.4h-2.4zM21 6h2.4v2.4h-2.4zM-2 9h2.4v2.4h-2.4z" fill="#fde8d2"/><path d="M23 17h2.4v2.4h-2.4z" fill="#f0a880"/></pattern><pattern id="pPeachL" width="24" height="24" patternUnits="userSpaceOnUse"><path d="M8 24h2.4v2.4h-2.4zM13 16h2.4v2.4h-2.4zM2 -0h2.4v2.4h-2.4zM24 22h2.4v2.4h-2.4zM19 16h2.4v2.4h-2.4zM19 -1h2.4v2.4h-2.4zM13 -1h2.4v2.4h-2.4zM10 -2h2.4v2.4h-2.4zM22 0h2.4v2.4h-2.4zM11 2h2.4v2.4h-2.4zM17 4h2.4v2.4h-2.4zM5 15h2.4v2.4h-2.4zM4 21h2.4v2.4h-2.4zM10 2h2.4v2.4h-2.4zM23 1h2.4v2.4h-2.4zM19 23h2.4v2.4h-2.4zM2 7h2.4v2.4h-2.4zM19 16h2.4v2.4h-2.4zM3 15h2.4v2.4h-2.4zM6 12h2.4v2.4h-2.4zM22 10h2.4v2.4h-2.4zM-1 8h2.4v2.4h-2.4zM24 18h2.4v2.4h-2.4zM9 16h2.4v2.4h-2.4zM11 22h2.4v2.4h-2.4zM22 17h2.4v2.4h-2.4zM22 21h2.4v2.4h-2.4zM15 23h2.4v2.4h-2.4zM9 22h2.4v2.4h-2.4zM20 1h2.4v2.4h-2.4zM6 14h2.4v2.4h-2.4zM7 23h2.4v2.4h-2.4zM14 5h2.4v2.4h-2.4zM22 21h2.4v2.4h-2.4z" fill="#fde3c6"/><path d="M1 0h2.4v2.4h-2.4zM-2 20h2.4v2.4h-2.4zM10 11h2.4v2.4h-2.4zM22 9h2.4v2.4h-2.4zM5 8h2.4v2.4h-2.4zM23 14h2.4v2.4h-2.4zM18 12h2.4v2.4h-2.4zM5 14h2.4v2.4h-2.4z" fill="#fbd6b0"/><path d="M11 8h2.4v2.4h-2.4zM13 4h2.4v2.4h-2.4zM-0 23h2.4v2.4h-2.4zM6 7h2.4v2.4h-2.4zM21 13h2.4v2.4h-2.4zM11 9h2.4v2.4h-2.4zM20 4h2.4v2.4h-2.4zM-0 8h2.4v2.4h-2.4zM7 5h2.4v2.4h-2.4zM10 8h2.4v2.4h-2.4zM2 10h2.4v2.4h-2.4zM12 19h2.4v2.4h-2.4zM3 12h2.4v2.4h-2.4z" fill="#feeedd"/><path d="M8 -0h2.4v2.4h-2.4zM21 6h2.4v2.4h-2.4zM8 20h2.4v2.4h-2.4zM24 -2h2.4v2.4h-2.4zM3 14h2.4v2.4h-2.4zM23 11h2.4v2.4h-2.4zM9 0h2.4v2.4h-2.4zM9 8h2.4v2.4h-2.4zM-2 0h2.4v2.4h-2.4zM13 14h2.4v2.4h-2.4zM7 22h2.4v2.4h-2.4zM2 10h2.4v2.4h-2.4zM14 16h2.4v2.4h-2.4zM19 0h2.4v2.4h-2.4zM-1 1h2.4v2.4h-2.4zM19 -1h2.4v2.4h-2.4zM2 8h2.4v2.4h-2.4zM5 23h2.4v2.4h-2.4zM19 0h2.4v2.4h-2.4zM8 10h2.4v2.4h-2.4zM-2 10h2.4v2.4h-2.4zM1 5h2.4v2.4h-2.4zM-0 18h2.4v2.4h-2.4zM3 0h2.4v2.4h-2.4zM11 -2h2.4v2.4h-2.4zM-2 17h2.4v2.4h-2.4zM-2 21h2.4v2.4h-2.4zM15 -1h2.4v2.4h-2.4zM9 -2h2.4v2.4h-2.4zM7 1h2.4v2.4h-2.4zM7 12h2.4v2.4h-2.4zM7 -1h2.4v2.4h-2.4zM2 6h2.4v2.4h-2.4zM-2 21h2.4v2.4h-2.4z" fill="#fde3c6"/><path d="M14 10h2.4v2.4h-2.4zM17 3h2.4v2.4h-2.4zM5 5h2.4v2.4h-2.4zM-2 9h2.4v2.4h-2.4zM18 21h2.4v2.4h-2.4zM-1 14h2.4v2.4h-2.4zM19 11h2.4v2.4h-2.4zM14 13h2.4v2.4h-2.4z" fill="#fbd6b0"/><path d="M3 22h2.4v2.4h-2.4zM0 2h2.4v2.4h-2.4zM-0 -1h2.4v2.4h-2.4zM9 17h2.4v2.4h-2.4zM11 5h2.4v2.4h-2.4zM23 12h2.4v2.4h-2.4zM17 13h2.4v2.4h-2.4zM1 17h2.4v2.4h-2.4zM11 21h2.4v2.4h-2.4zM17 9h2.4v2.4h-2.4zM2 4h2.4v2.4h-2.4zM3 12h2.4v2.4h-2.4zM21 15h2.4v2.4h-2.4z" fill="#feeedd"/><path d="M15 7h2.4v2.4h-2.4zM5 16h2.4v2.4h-2.4zM19 10h2.4v2.4h-2.4zM-0 22h2.4v2.4h-2.4zM18 14h2.4v2.4h-2.4zM-1 11h2.4v2.4h-2.4zM17 1h2.4v2.4h-2.4zM0 12h2.4v2.4h-2.4zM5 18h2.4v2.4h-2.4zM4 13h2.4v2.4h-2.4zM7 -2h2.4v2.4h-2.4zM15 12h2.4v2.4h-2.4zM17 6h2.4v2.4h-2.4zM19 9h2.4v2.4h-2.4zM5 5h2.4v2.4h-2.4zM15 24h2.4v2.4h-2.4zM9 21h2.4v2.4h-2.4zM5 -1h2.4v2.4h-2.4zM21 2h2.4v2.4h-2.4zM7 8h2.4v2.4h-2.4zM2 11h2.4v2.4h-2.4zM11 22h2.4v2.4h-2.4zM8 10h2.4v2.4h-2.4zM19 13h2.4v2.4h-2.4zM24 17h2.4v2.4h-2.4zM5 16h2.4v2.4h-2.4zM7 14h2.4v2.4h-2.4zM10 4h2.4v2.4h-2.4zM6 23h2.4v2.4h-2.4zM23 7h2.4v2.4h-2.4zM15 3h2.4v2.4h-2.4zM3 16h2.4v2.4h-2.4zM4 10h2.4v2.4h-2.4z" fill="#fde3c6"/><path d="M0 17h2.4v2.4h-2.4zM21 20h2.4v2.4h-2.4zM15 2h2.4v2.4h-2.4zM7 9h2.4v2.4h-2.4zM5 13h2.4v2.4h-2.4zM15 16h2.4v2.4h-2.4zM20 17h2.4v2.4h-2.4z" fill="#fbd6b0"/><path d="M3 -2h2.4v2.4h-2.4zM24 23h2.4v2.4h-2.4zM1 18h2.4v2.4h-2.4zM15 1h2.4v2.4h-2.4zM5 9h2.4v2.4h-2.4zM-1 12h2.4v2.4h-2.4zM10 21h2.4v2.4h-2.4zM6 23h2.4v2.4h-2.4zM19 0h2.4v2.4h-2.4zM12 22h2.4v2.4h-2.4zM21 23h2.4v2.4h-2.4zM1 9h2.4v2.4h-2.4zM20 0h2.4v2.4h-2.4z" fill="#feeedd"/><path d="M10 9h2.4v2.4h-2.4zM2 24h2.4v2.4h-2.4zM14 7h2.4v2.4h-2.4zM-0 -2h2.4v2.4h-2.4zM19 23h2.4v2.4h-2.4zM13 23h2.4v2.4h-2.4zM10 22h2.4v2.4h-2.4zM8 13h2.4v2.4h-2.4zM21 8h2.4v2.4h-2.4zM12 16h2.4v2.4h-2.4zM17 2h2.4v2.4h-2.4zM17 17h2.4v2.4h-2.4zM20 12h2.4v2.4h-2.4zM11 10h2.4v2.4h-2.4zM18 7h2.4v2.4h-2.4zM15 -0h2.4v2.4h-2.4zM4 6h2.4v2.4h-2.4zM20 14h2.4v2.4h-2.4zM20 19h2.4v2.4h-2.4zM7 3h2.4v2.4h-2.4zM23 8h2.4v2.4h-2.4zM11 -2h2.4v2.4h-2.4zM7 4h2.4v2.4h-2.4zM12 13h2.4v2.4h-2.4zM-0 17h2.4v2.4h-2.4zM11 4h2.4v2.4h-2.4zM2 5h2.4v2.4h-2.4zM16 18h2.4v2.4h-2.4zM6 -1h2.4v2.4h-2.4zM-1 7h2.4v2.4h-2.4zM1 13h2.4v2.4h-2.4zM20 11h2.4v2.4h-2.4zM3 7h2.4v2.4h-2.4z" fill="#fde3c6"/><path d="M22 20h2.4v2.4h-2.4zM2 11h2.4v2.4h-2.4zM3 20h2.4v2.4h-2.4zM17 9h2.4v2.4h-2.4zM0 3h2.4v2.4h-2.4zM7 5h2.4v2.4h-2.4zM12 12h2.4v2.4h-2.4z" fill="#fbd6b0"/><path d="M2 19h2.4v2.4h-2.4zM24 -1h2.4v2.4h-2.4zM1 9h2.4v2.4h-2.4zM8 4h2.4v2.4h-2.4zM11 17h2.4v2.4h-2.4zM15 14h2.4v2.4h-2.4zM24 8h2.4v2.4h-2.4zM6 -1h2.4v2.4h-2.4zM14 11h2.4v2.4h-2.4zM21 18h2.4v2.4h-2.4zM21 -1h2.4v2.4h-2.4zM8 1h2.4v2.4h-2.4zM15 11h2.4v2.4h-2.4z" fill="#feeedd"/></pattern><pattern id="pPeachD" width="24" height="24" patternUnits="userSpaceOnUse"><path d="M22 8h2.4v2.4h-2.4zM9 1h2.4v2.4h-2.4zM3 4h2.4v2.4h-2.4zM17 18h2.4v2.4h-2.4zM23 15h2.4v2.4h-2.4zM14 6h2.4v2.4h-2.4zM12 2h2.4v2.4h-2.4zM4 11h2.4v2.4h-2.4zM7 7h2.4v2.4h-2.4zM17 0h2.4v2.4h-2.4zM20 1h2.4v2.4h-2.4zM10 -0h2.4v2.4h-2.4zM6 -2h2.4v2.4h-2.4zM3 0h2.4v2.4h-2.4zM7 5h2.4v2.4h-2.4zM3 21h2.4v2.4h-2.4zM12 20h2.4v2.4h-2.4zM18 -0h2.4v2.4h-2.4zM10 5h2.4v2.4h-2.4zM20 23h2.4v2.4h-2.4zM0 17h2.4v2.4h-2.4zM2 2h2.4v2.4h-2.4zM19 22h2.4v2.4h-2.4zM9 11h2.4v2.4h-2.4zM11 14h2.4v2.4h-2.4zM12 16h2.4v2.4h-2.4zM14 8h2.4v2.4h-2.4zM11 24h2.4v2.4h-2.4zM3 1h2.4v2.4h-2.4zM22 1h2.4v2.4h-2.4zM13 17h2.4v2.4h-2.4zM10 3h2.4v2.4h-2.4zM13 2h2.4v2.4h-2.4zM6 14h2.4v2.4h-2.4zM15 9h2.4v2.4h-2.4zM15 -2h2.4v2.4h-2.4zM20 -0h2.4v2.4h-2.4zM1 -2h2.4v2.4h-2.4z" fill="#f6c08e"/><path d="M22 22h2.4v2.4h-2.4zM13 17h2.4v2.4h-2.4zM18 16h2.4v2.4h-2.4zM0 14h2.4v2.4h-2.4zM20 4h2.4v2.4h-2.4zM5 11h2.4v2.4h-2.4zM22 14h2.4v2.4h-2.4zM4 23h2.4v2.4h-2.4zM15 -1h2.4v2.4h-2.4zM-1 14h2.4v2.4h-2.4zM18 3h2.4v2.4h-2.4zM7 9h2.4v2.4h-2.4zM22 16h2.4v2.4h-2.4zM18 19h2.4v2.4h-2.4zM19 5h2.4v2.4h-2.4zM18 20h2.4v2.4h-2.4zM18 18h2.4v2.4h-2.4zM24 8h2.4v2.4h-2.4zM10 13h2.4v2.4h-2.4zM0 11h2.4v2.4h-2.4zM3 19h2.4v2.4h-2.4zM21 18h2.4v2.4h-2.4z" fill="#f3b080"/><path d="M20 13h2.4v2.4h-2.4zM17 14h2.4v2.4h-2.4zM13 17h2.4v2.4h-2.4zM16 3h2.4v2.4h-2.4zM11 13h2.4v2.4h-2.4zM-0 0h2.4v2.4h-2.4zM7 14h2.4v2.4h-2.4zM2 5h2.4v2.4h-2.4zM10 6h2.4v2.4h-2.4zM8 14h2.4v2.4h-2.4zM9 -1h2.4v2.4h-2.4zM2 9h2.4v2.4h-2.4zM8 20h2.4v2.4h-2.4zM2 4h2.4v2.4h-2.4z" fill="#fbd9b4"/><path d="M20 13h2.4v2.4h-2.4zM4 0h2.4v2.4h-2.4z" fill="#e89870"/><path d="M-2 8h2.4v2.4h-2.4zM19 18h2.4v2.4h-2.4zM0 19h2.4v2.4h-2.4zM4 22h2.4v2.4h-2.4zM-1 15h2.4v2.4h-2.4zM22 6h2.4v2.4h-2.4zM3 8h2.4v2.4h-2.4zM21 19h2.4v2.4h-2.4zM19 15h2.4v2.4h-2.4zM7 2h2.4v2.4h-2.4zM13 9h2.4v2.4h-2.4zM0 22h2.4v2.4h-2.4zM9 12h2.4v2.4h-2.4zM2 2h2.4v2.4h-2.4zM8 5h2.4v2.4h-2.4zM1 15h2.4v2.4h-2.4zM23 7h2.4v2.4h-2.4zM16 21h2.4v2.4h-2.4zM4 5h2.4v2.4h-2.4zM20 -1h2.4v2.4h-2.4zM21 23h2.4v2.4h-2.4zM6 9h2.4v2.4h-2.4zM19 -2h2.4v2.4h-2.4zM18 22h2.4v2.4h-2.4zM5 1h2.4v2.4h-2.4zM10 4h2.4v2.4h-2.4zM9 1h2.4v2.4h-2.4zM11 -0h2.4v2.4h-2.4zM3 1h2.4v2.4h-2.4zM-2 1h2.4v2.4h-2.4zM21 10h2.4v2.4h-2.4zM19 23h2.4v2.4h-2.4zM20 9h2.4v2.4h-2.4zM5 23h2.4v2.4h-2.4zM8 17h2.4v2.4h-2.4zM8 6h2.4v2.4h-2.4zM13 23h2.4v2.4h-2.4zM12 17h2.4v2.4h-2.4z" fill="#f6c08e"/><path d="M22 -2h2.4v2.4h-2.4zM1 19h2.4v2.4h-2.4zM23 7h2.4v2.4h-2.4zM12 10h2.4v2.4h-2.4zM21 13h2.4v2.4h-2.4zM15 9h2.4v2.4h-2.4zM-2 14h2.4v2.4h-2.4zM4 -1h2.4v2.4h-2.4zM14 14h2.4v2.4h-2.4zM1 13h2.4v2.4h-2.4zM18 20h2.4v2.4h-2.4zM6 2h2.4v2.4h-2.4zM-2 16h2.4v2.4h-2.4zM8 23h2.4v2.4h-2.4zM9 21h2.4v2.4h-2.4zM20 5h2.4v2.4h-2.4zM7 4h2.4v2.4h-2.4zM-0 8h2.4v2.4h-2.4zM12 6h2.4v2.4h-2.4zM20 10h2.4v2.4h-2.4zM9 6h2.4v2.4h-2.4zM19 10h2.4v2.4h-2.4z" fill="#f3b080"/><path d="M22 10h2.4v2.4h-2.4zM8 3h2.4v2.4h-2.4zM17 1h2.4v2.4h-2.4zM7 20h2.4v2.4h-2.4zM9 22h2.4v2.4h-2.4zM11 22h2.4v2.4h-2.4zM15 20h2.4v2.4h-2.4zM14 13h2.4v2.4h-2.4zM2 22h2.4v2.4h-2.4zM4 3h2.4v2.4h-2.4zM19 9h2.4v2.4h-2.4zM5 16h2.4v2.4h-2.4zM20 23h2.4v2.4h-2.4zM2 4h2.4v2.4h-2.4z" fill="#fbd9b4"/><path d="M13 10h2.4v2.4h-2.4zM13 10h2.4v2.4h-2.4z" fill="#e89870"/><path d="M10 23h2.4v2.4h-2.4zM16 17h2.4v2.4h-2.4zM7 6h2.4v2.4h-2.4zM4 -2h2.4v2.4h-2.4zM17 21h2.4v2.4h-2.4zM18 2h2.4v2.4h-2.4zM3 19h2.4v2.4h-2.4zM24 6h2.4v2.4h-2.4zM16 19h2.4v2.4h-2.4zM3 11h2.4v2.4h-2.4zM14 3h2.4v2.4h-2.4zM0 -2h2.4v2.4h-2.4zM8 3h2.4v2.4h-2.4zM1 14h2.4v2.4h-2.4zM21 18h2.4v2.4h-2.4zM5 24h2.4v2.4h-2.4zM-1 7h2.4v2.4h-2.4zM11 20h2.4v2.4h-2.4zM24 17h2.4v2.4h-2.4zM22 11h2.4v2.4h-2.4zM21 -1h2.4v2.4h-2.4zM14 3h2.4v2.4h-2.4zM4 4h2.4v2.4h-2.4zM18 -2h2.4v2.4h-2.4zM3 6h2.4v2.4h-2.4zM7 13h2.4v2.4h-2.4zM15 0h2.4v2.4h-2.4zM20 3h2.4v2.4h-2.4zM17 16h2.4v2.4h-2.4zM12 8h2.4v2.4h-2.4zM12 18h2.4v2.4h-2.4zM19 -1h2.4v2.4h-2.4zM3 23h2.4v2.4h-2.4zM5 -1h2.4v2.4h-2.4zM12 18h2.4v2.4h-2.4zM20 18h2.4v2.4h-2.4zM13 -1h2.4v2.4h-2.4zM19 8h2.4v2.4h-2.4z" fill="#f6c08e"/><path d="M9 11h2.4v2.4h-2.4zM8 22h2.4v2.4h-2.4zM-1 7h2.4v2.4h-2.4zM19 13h2.4v2.4h-2.4zM13 11h2.4v2.4h-2.4zM23 16h2.4v2.4h-2.4zM15 2h2.4v2.4h-2.4zM2 21h2.4v2.4h-2.4zM7 1h2.4v2.4h-2.4zM18 2h2.4v2.4h-2.4zM0 1h2.4v2.4h-2.4zM8 3h2.4v2.4h-2.4zM11 5h2.4v2.4h-2.4zM8 -1h2.4v2.4h-2.4zM7 14h2.4v2.4h-2.4zM14 1h2.4v2.4h-2.4zM17 1h2.4v2.4h-2.4zM1 16h2.4v2.4h-2.4zM9 22h2.4v2.4h-2.4zM18 21h2.4v2.4h-2.4zM3 16h2.4v2.4h-2.4zM5 12h2.4v2.4h-2.4z" fill="#f3b080"/><path d="M-2 10h2.4v2.4h-2.4zM12 16h2.4v2.4h-2.4zM8 20h2.4v2.4h-2.4zM11 19h2.4v2.4h-2.4zM9 -2h2.4v2.4h-2.4zM11 -2h2.4v2.4h-2.4zM22 8h2.4v2.4h-2.4zM1 17h2.4v2.4h-2.4zM2 -2h2.4v2.4h-2.4zM9 18h2.4v2.4h-2.4zM14 8h2.4v2.4h-2.4zM12 11h2.4v2.4h-2.4zM20 -1h2.4v2.4h-2.4z" fill="#fbd9b4"/><path d="M11 3h2.4v2.4h-2.4zM20 21h2.4v2.4h-2.4z" fill="#e89870"/><path d="M10 -1h2.4v2.4h-2.4zM8 11h2.4v2.4h-2.4zM14 17h2.4v2.4h-2.4zM4 17h2.4v2.4h-2.4zM20 7h2.4v2.4h-2.4zM1 6h2.4v2.4h-2.4zM5 21h2.4v2.4h-2.4zM-0 6h2.4v2.4h-2.4zM21 5h2.4v2.4h-2.4zM9 2h2.4v2.4h-2.4zM10 24h2.4v2.4h-2.4zM6 22h2.4v2.4h-2.4zM7 17h2.4v2.4h-2.4zM5 8h2.4v2.4h-2.4zM3 10h2.4v2.4h-2.4zM5 -0h2.4v2.4h-2.4zM18 24h2.4v2.4h-2.4zM14 18h2.4v2.4h-2.4zM-0 17h2.4v2.4h-2.4zM-2 11h2.4v2.4h-2.4zM5 14h2.4v2.4h-2.4zM6 4h2.4v2.4h-2.4zM12 15h2.4v2.4h-2.4zM1 7h2.4v2.4h-2.4zM17 13h2.4v2.4h-2.4zM5 20h2.4v2.4h-2.4zM14 6h2.4v2.4h-2.4zM11 7h2.4v2.4h-2.4zM19 1h2.4v2.4h-2.4zM19 12h2.4v2.4h-2.4zM4 12h2.4v2.4h-2.4zM12 9h2.4v2.4h-2.4zM3 -1h2.4v2.4h-2.4zM19 11h2.4v2.4h-2.4zM15 22h2.4v2.4h-2.4zM20 24h2.4v2.4h-2.4zM1 22h2.4v2.4h-2.4zM19 10h2.4v2.4h-2.4z" fill="#f6c08e"/><path d="M17 21h2.4v2.4h-2.4zM8 -2h2.4v2.4h-2.4zM10 19h2.4v2.4h-2.4zM6 19h2.4v2.4h-2.4zM20 3h2.4v2.4h-2.4zM-1 16h2.4v2.4h-2.4zM13 11h2.4v2.4h-2.4zM15 23h2.4v2.4h-2.4zM23 14h2.4v2.4h-2.4zM7 1h2.4v2.4h-2.4zM19 0h2.4v2.4h-2.4zM19 15h2.4v2.4h-2.4zM18 20h2.4v2.4h-2.4zM14 12h2.4v2.4h-2.4zM6 2h2.4v2.4h-2.4zM19 6h2.4v2.4h-2.4zM6 4h2.4v2.4h-2.4zM20 19h2.4v2.4h-2.4zM7 15h2.4v2.4h-2.4zM5 19h2.4v2.4h-2.4zM19 17h2.4v2.4h-2.4zM22 18h2.4v2.4h-2.4z" fill="#f3b080"/><path d="M12 7h2.4v2.4h-2.4zM12 8h2.4v2.4h-2.4zM19 6h2.4v2.4h-2.4zM10 3h2.4v2.4h-2.4zM24 0h2.4v2.4h-2.4zM2 6h2.4v2.4h-2.4zM-2 8h2.4v2.4h-2.4zM13 6h2.4v2.4h-2.4zM10 5h2.4v2.4h-2.4zM9 23h2.4v2.4h-2.4zM3 14h2.4v2.4h-2.4zM6 0h2.4v2.4h-2.4zM21 8h2.4v2.4h-2.4z" fill="#fbd9b4"/><path d="M6 4h2.4v2.4h-2.4z" fill="#e89870"/></pattern><pattern id="pRed" width="24" height="24" patternUnits="userSpaceOnUse"><path d="M13 20h2.4v2.4h-2.4zM12 8h2.4v2.4h-2.4zM23 13h2.4v2.4h-2.4zM16 -1h2.4v2.4h-2.4zM6 22h2.4v2.4h-2.4zM17 18h2.4v2.4h-2.4zM19 24h2.4v2.4h-2.4zM19 18h2.4v2.4h-2.4zM10 20h2.4v2.4h-2.4zM7 22h2.4v2.4h-2.4zM13 3h2.4v2.4h-2.4zM-1 5h2.4v2.4h-2.4zM15 19h2.4v2.4h-2.4zM9 -2h2.4v2.4h-2.4zM8 5h2.4v2.4h-2.4zM1 18h2.4v2.4h-2.4zM10 1h2.4v2.4h-2.4zM-1 11h2.4v2.4h-2.4zM12 11h2.4v2.4h-2.4zM7 4h2.4v2.4h-2.4zM-1 4h2.4v2.4h-2.4zM3 16h2.4v2.4h-2.4zM11 6h2.4v2.4h-2.4zM-2 10h2.4v2.4h-2.4zM8 1h2.4v2.4h-2.4zM-0 7h2.4v2.4h-2.4zM21 1h2.4v2.4h-2.4zM17 9h2.4v2.4h-2.4z" fill="#8b1010"/><path d="M17 22h2.4v2.4h-2.4zM-1 13h2.4v2.4h-2.4zM23 8h2.4v2.4h-2.4zM16 9h2.4v2.4h-2.4zM18 13h2.4v2.4h-2.4zM-2 5h2.4v2.4h-2.4zM0 1h2.4v2.4h-2.4zM8 8h2.4v2.4h-2.4zM20 14h2.4v2.4h-2.4zM10 15h2.4v2.4h-2.4zM5 17h2.4v2.4h-2.4zM18 22h2.4v2.4h-2.4zM6 21h2.4v2.4h-2.4zM4 1h2.4v2.4h-2.4zM12 14h2.4v2.4h-2.4zM20 3h2.4v2.4h-2.4zM13 1h2.4v2.4h-2.4zM-0 17h2.4v2.4h-2.4zM7 1h2.4v2.4h-2.4zM9 18h2.4v2.4h-2.4zM12 14h2.4v2.4h-2.4zM20 11h2.4v2.4h-2.4zM-2 24h2.4v2.4h-2.4zM15 11h2.4v2.4h-2.4zM20 23h2.4v2.4h-2.4z" fill="#b01c1c"/><path d="M14 18h2.4v2.4h-2.4zM12 15h2.4v2.4h-2.4zM9 7h2.4v2.4h-2.4zM23 10h2.4v2.4h-2.4zM-2 1h2.4v2.4h-2.4zM12 22h2.4v2.4h-2.4zM0 -0h2.4v2.4h-2.4zM18 4h2.4v2.4h-2.4zM14 19h2.4v2.4h-2.4zM-1 -2h2.4v2.4h-2.4zM11 -2h2.4v2.4h-2.4zM20 5h2.4v2.4h-2.4zM2 18h2.4v2.4h-2.4z" fill="#5a0808"/><path d="M17 11h2.4v2.4h-2.4zM7 10h2.4v2.4h-2.4zM22 4h2.4v2.4h-2.4zM5 10h2.4v2.4h-2.4zM4 24h2.4v2.4h-2.4zM-0 18h2.4v2.4h-2.4zM19 8h2.4v2.4h-2.4zM18 20h2.4v2.4h-2.4zM-2 18h2.4v2.4h-2.4z" fill="#d04030"/><path d="M11 6h2.4v2.4h-2.4zM13 3h2.4v2.4h-2.4zM-1 13h2.4v2.4h-2.4zM13 23h2.4v2.4h-2.4zM6 -2h2.4v2.4h-2.4zM3 17h2.4v2.4h-2.4zM19 -0h2.4v2.4h-2.4zM6 9h2.4v2.4h-2.4zM17 3h2.4v2.4h-2.4zM7 -2h2.4v2.4h-2.4zM4 1h2.4v2.4h-2.4zM21 16h2.4v2.4h-2.4zM8 8h2.4v2.4h-2.4zM9 15h2.4v2.4h-2.4zM10 21h2.4v2.4h-2.4zM7 12h2.4v2.4h-2.4zM6 13h2.4v2.4h-2.4zM19 17h2.4v2.4h-2.4zM20 23h2.4v2.4h-2.4zM15 5h2.4v2.4h-2.4zM13 15h2.4v2.4h-2.4zM12 20h2.4v2.4h-2.4zM8 21h2.4v2.4h-2.4zM13 8h2.4v2.4h-2.4zM3 5h2.4v2.4h-2.4zM9 20h2.4v2.4h-2.4zM18 10h2.4v2.4h-2.4z" fill="#8b1010"/><path d="M17 -2h2.4v2.4h-2.4zM7 8h2.4v2.4h-2.4zM-1 8h2.4v2.4h-2.4zM9 6h2.4v2.4h-2.4zM17 23h2.4v2.4h-2.4zM22 15h2.4v2.4h-2.4zM7 5h2.4v2.4h-2.4zM7 11h2.4v2.4h-2.4zM4 22h2.4v2.4h-2.4zM24 20h2.4v2.4h-2.4zM21 1h2.4v2.4h-2.4zM6 22h2.4v2.4h-2.4zM14 4h2.4v2.4h-2.4zM22 8h2.4v2.4h-2.4zM9 4h2.4v2.4h-2.4zM19 22h2.4v2.4h-2.4zM5 21h2.4v2.4h-2.4zM8 5h2.4v2.4h-2.4zM3 16h2.4v2.4h-2.4zM2 3h2.4v2.4h-2.4zM22 0h2.4v2.4h-2.4zM8 12h2.4v2.4h-2.4zM-2 -0h2.4v2.4h-2.4zM12 22h2.4v2.4h-2.4zM20 -1h2.4v2.4h-2.4z" fill="#b01c1c"/><path d="M24 2h2.4v2.4h-2.4zM5 10h2.4v2.4h-2.4zM20 0h2.4v2.4h-2.4zM-1 10h2.4v2.4h-2.4zM22 10h2.4v2.4h-2.4zM14 1h2.4v2.4h-2.4zM3 21h2.4v2.4h-2.4zM18 19h2.4v2.4h-2.4zM23 22h2.4v2.4h-2.4zM12 12h2.4v2.4h-2.4zM16 19h2.4v2.4h-2.4zM19 11h2.4v2.4h-2.4z" fill="#5a0808"/><path d="M24 14h2.4v2.4h-2.4zM10 12h2.4v2.4h-2.4zM-2 4h2.4v2.4h-2.4zM16 15h2.4v2.4h-2.4zM4 -0h2.4v2.4h-2.4zM24 19h2.4v2.4h-2.4zM9 23h2.4v2.4h-2.4zM17 6h2.4v2.4h-2.4zM4 10h2.4v2.4h-2.4z" fill="#d04030"/><path d="M13 11h2.4v2.4h-2.4zM7 18h2.4v2.4h-2.4zM4 10h2.4v2.4h-2.4zM13 -1h2.4v2.4h-2.4zM7 14h2.4v2.4h-2.4zM19 16h2.4v2.4h-2.4zM17 17h2.4v2.4h-2.4zM1 3h2.4v2.4h-2.4zM19 12h2.4v2.4h-2.4zM2 9h2.4v2.4h-2.4zM20 22h2.4v2.4h-2.4zM15 19h2.4v2.4h-2.4zM3 8h2.4v2.4h-2.4zM18 7h2.4v2.4h-2.4zM14 13h2.4v2.4h-2.4zM14 11h2.4v2.4h-2.4zM6 11h2.4v2.4h-2.4zM11 5h2.4v2.4h-2.4zM20 -1h2.4v2.4h-2.4zM19 14h2.4v2.4h-2.4zM22 5h2.4v2.4h-2.4zM20 16h2.4v2.4h-2.4zM1 18h2.4v2.4h-2.4zM3 8h2.4v2.4h-2.4zM1 8h2.4v2.4h-2.4zM8 13h2.4v2.4h-2.4zM9 23h2.4v2.4h-2.4z" fill="#8b1010"/><path d="M8 5h2.4v2.4h-2.4zM11 13h2.4v2.4h-2.4zM10 16h2.4v2.4h-2.4zM7 12h2.4v2.4h-2.4zM17 -1h2.4v2.4h-2.4zM-2 15h2.4v2.4h-2.4zM6 15h2.4v2.4h-2.4zM7 3h2.4v2.4h-2.4zM17 6h2.4v2.4h-2.4zM-0 20h2.4v2.4h-2.4zM20 11h2.4v2.4h-2.4zM6 -2h2.4v2.4h-2.4zM19 19h2.4v2.4h-2.4zM-2 8h2.4v2.4h-2.4zM20 5h2.4v2.4h-2.4zM19 -2h2.4v2.4h-2.4zM10 3h2.4v2.4h-2.4zM7 12h2.4v2.4h-2.4zM3 2h2.4v2.4h-2.4zM6 3h2.4v2.4h-2.4zM6 16h2.4v2.4h-2.4zM22 24h2.4v2.4h-2.4zM8 20h2.4v2.4h-2.4zM12 -2h2.4v2.4h-2.4z" fill="#b01c1c"/><path d="M-0 2h2.4v2.4h-2.4zM4 19h2.4v2.4h-2.4zM20 12h2.4v2.4h-2.4zM5 13h2.4v2.4h-2.4zM-2 10h2.4v2.4h-2.4zM12 11h2.4v2.4h-2.4zM7 17h2.4v2.4h-2.4zM15 21h2.4v2.4h-2.4zM23 -2h2.4v2.4h-2.4zM21 14h2.4v2.4h-2.4zM10 22h2.4v2.4h-2.4zM18 17h2.4v2.4h-2.4z" fill="#5a0808"/><path d="M-0 14h2.4v2.4h-2.4zM0 24h2.4v2.4h-2.4zM13 2h2.4v2.4h-2.4zM22 9h2.4v2.4h-2.4zM3 18h2.4v2.4h-2.4zM-0 19h2.4v2.4h-2.4zM9 -1h2.4v2.4h-2.4zM5 6h2.4v2.4h-2.4z" fill="#d04030"/><path d="M11 11h2.4v2.4h-2.4zM1 4h2.4v2.4h-2.4zM16 23h2.4v2.4h-2.4zM21 1h2.4v2.4h-2.4zM11 14h2.4v2.4h-2.4zM2 3h2.4v2.4h-2.4zM14 15h2.4v2.4h-2.4zM12 12h2.4v2.4h-2.4zM18 8h2.4v2.4h-2.4zM16 10h2.4v2.4h-2.4zM23 5h2.4v2.4h-2.4zM2 13h2.4v2.4h-2.4zM9 22h2.4v2.4h-2.4zM3 16h2.4v2.4h-2.4zM9 4h2.4v2.4h-2.4zM14 1h2.4v2.4h-2.4zM23 11h2.4v2.4h-2.4zM19 5h2.4v2.4h-2.4zM15 21h2.4v2.4h-2.4zM23 4h2.4v2.4h-2.4zM-2 5h2.4v2.4h-2.4zM3 9h2.4v2.4h-2.4zM22 10h2.4v2.4h-2.4zM1 11h2.4v2.4h-2.4zM24 7h2.4v2.4h-2.4zM4 17h2.4v2.4h-2.4zM9 -1h2.4v2.4h-2.4z" fill="#8b1010"/><path d="M23 13h2.4v2.4h-2.4zM8 15h2.4v2.4h-2.4zM16 0h2.4v2.4h-2.4zM6 19h2.4v2.4h-2.4zM22 5h2.4v2.4h-2.4zM15 0h2.4v2.4h-2.4zM19 6h2.4v2.4h-2.4zM16 0h2.4v2.4h-2.4zM18 13h2.4v2.4h-2.4zM8 1h2.4v2.4h-2.4zM3 13h2.4v2.4h-2.4zM10 1h2.4v2.4h-2.4zM5 16h2.4v2.4h-2.4zM18 5h2.4v2.4h-2.4zM8 19h2.4v2.4h-2.4zM7 7h2.4v2.4h-2.4zM24 17h2.4v2.4h-2.4zM10 14h2.4v2.4h-2.4zM4 6h2.4v2.4h-2.4zM4 19h2.4v2.4h-2.4zM3 6h2.4v2.4h-2.4zM22 -0h2.4v2.4h-2.4zM17 17h2.4v2.4h-2.4zM19 10h2.4v2.4h-2.4z" fill="#b01c1c"/><path d="M15 17h2.4v2.4h-2.4zM20 8h2.4v2.4h-2.4zM9 9h2.4v2.4h-2.4zM22 1h2.4v2.4h-2.4zM2 21h2.4v2.4h-2.4zM0 24h2.4v2.4h-2.4zM7 3h2.4v2.4h-2.4zM9 9h2.4v2.4h-2.4zM-1 22h2.4v2.4h-2.4zM11 22h2.4v2.4h-2.4zM10 -2h2.4v2.4h-2.4zM11 15h2.4v2.4h-2.4z" fill="#5a0808"/><path d="M16 17h2.4v2.4h-2.4zM0 -0h2.4v2.4h-2.4zM13 8h2.4v2.4h-2.4zM-2 9h2.4v2.4h-2.4zM24 18h2.4v2.4h-2.4zM7 19h2.4v2.4h-2.4zM9 12h2.4v2.4h-2.4zM22 18h2.4v2.4h-2.4z" fill="#d04030"/></pattern><linearGradient id="gCBI" x1="0" y1="1" x2="0" y2="0"><stop offset="0" stop-color="#fde3c6"/><stop offset="0.3" stop-color="#f6b889"/><stop offset="0.55" stop-color="#e07a5a"/><stop offset="0.8" stop-color="#b02a20"/><stop offset="0.93" stop-color="#701010"/><stop offset="1.0" stop-color="#200000"/></linearGradient><pattern id="pLiver" width="24" height="24" patternUnits="userSpaceOnUse"><path d="M1 5h2.4v2.4h-2.4zM14 18h2.4v2.4h-2.4zM9 22h2.4v2.4h-2.4zM20 9h2.4v2.4h-2.4zM24 4h2.4v2.4h-2.4zM9 7h2.4v2.4h-2.4zM8 23h2.4v2.4h-2.4zM21 13h2.4v2.4h-2.4zM14 1h2.4v2.4h-2.4zM-2 16h2.4v2.4h-2.4zM-1 5h2.4v2.4h-2.4zM1 7h2.4v2.4h-2.4zM5 4h2.4v2.4h-2.4zM20 10h2.4v2.4h-2.4zM3 5h2.4v2.4h-2.4zM6 5h2.4v2.4h-2.4zM15 0h2.4v2.4h-2.4zM13 18h2.4v2.4h-2.4zM14 12h2.4v2.4h-2.4zM14 16h2.4v2.4h-2.4zM8 1h2.4v2.4h-2.4zM8 17h2.4v2.4h-2.4zM12 0h2.4v2.4h-2.4zM24 1h2.4v2.4h-2.4zM13 18h2.4v2.4h-2.4zM-1 15h2.4v2.4h-2.4zM10 2h2.4v2.4h-2.4zM-2 5h2.4v2.4h-2.4zM7 18h2.4v2.4h-2.4zM10 -1h2.4v2.4h-2.4zM17 2h2.4v2.4h-2.4zM17 22h2.4v2.4h-2.4zM-1 14h2.4v2.4h-2.4zM-1 5h2.4v2.4h-2.4zM9 3h2.4v2.4h-2.4zM9 18h2.4v2.4h-2.4zM9 8h2.4v2.4h-2.4zM8 4h2.4v2.4h-2.4zM-1 11h2.4v2.4h-2.4zM20 16h2.4v2.4h-2.4zM22 5h2.4v2.4h-2.4zM1 7h2.4v2.4h-2.4zM8 7h2.4v2.4h-2.4zM18 23h2.4v2.4h-2.4zM6 13h2.4v2.4h-2.4zM9 5h2.4v2.4h-2.4zM9 8h2.4v2.4h-2.4zM19 10h2.4v2.4h-2.4zM-2 24h2.4v2.4h-2.4zM2 12h2.4v2.4h-2.4zM18 -1h2.4v2.4h-2.4zM7 1h2.4v2.4h-2.4zM24 6h2.4v2.4h-2.4zM18 12h2.4v2.4h-2.4zM20 4h2.4v2.4h-2.4zM15 5h2.4v2.4h-2.4zM1 5h2.4v2.4h-2.4zM1 7h2.4v2.4h-2.4zM7 23h2.4v2.4h-2.4zM17 9h2.4v2.4h-2.4zM9 0h2.4v2.4h-2.4zM2 12h2.4v2.4h-2.4zM-0 -0h2.4v2.4h-2.4zM16 11h2.4v2.4h-2.4zM18 8h2.4v2.4h-2.4zM14 17h2.4v2.4h-2.4zM22 8h2.4v2.4h-2.4zM-1 1h2.4v2.4h-2.4zM14 21h2.4v2.4h-2.4zM10 12h2.4v2.4h-2.4zM5 4h2.4v2.4h-2.4zM-1 20h2.4v2.4h-2.4zM8 22h2.4v2.4h-2.4zM13 18h2.4v2.4h-2.4zM2 7h2.4v2.4h-2.4zM22 6h2.4v2.4h-2.4zM22 13h2.4v2.4h-2.4zM8 10h2.4v2.4h-2.4z" fill="#2a4aa0"/><path d="M8 21h2.4v2.4h-2.4zM8 24h2.4v2.4h-2.4zM-1 8h2.4v2.4h-2.4zM10 4h2.4v2.4h-2.4zM23 21h2.4v2.4h-2.4zM1 -2h2.4v2.4h-2.4zM19 6h2.4v2.4h-2.4zM-1 -2h2.4v2.4h-2.4zM16 -1h2.4v2.4h-2.4zM1 21h2.4v2.4h-2.4zM6 24h2.4v2.4h-2.4zM13 20h2.4v2.4h-2.4zM22 2h2.4v2.4h-2.4zM12 9h2.4v2.4h-2.4zM7 0h2.4v2.4h-2.4zM6 6h2.4v2.4h-2.4zM4 5h2.4v2.4h-2.4zM12 6h2.4v2.4h-2.4zM2 20h2.4v2.4h-2.4z" fill="#3a5ab8"/><path d="M13 24h2.4v2.4h-2.4zM23 19h2.4v2.4h-2.4zM9 -2h2.4v2.4h-2.4zM6 20h2.4v2.4h-2.4zM-0 4h2.4v2.4h-2.4zM19 4h2.4v2.4h-2.4zM8 -1h2.4v2.4h-2.4zM15 20h2.4v2.4h-2.4zM15 19h2.4v2.4h-2.4zM3 10h2.4v2.4h-2.4zM1 22h2.4v2.4h-2.4zM13 15h2.4v2.4h-2.4zM8 8h2.4v2.4h-2.4zM14 1h2.4v2.4h-2.4zM13 10h2.4v2.4h-2.4zM14 24h2.4v2.4h-2.4zM3 16h2.4v2.4h-2.4zM5 19h2.4v2.4h-2.4zM13 0h2.4v2.4h-2.4zM8 18h2.4v2.4h-2.4zM5 4h2.4v2.4h-2.4zM11 15h2.4v2.4h-2.4zM21 4h2.4v2.4h-2.4zM-0 1h2.4v2.4h-2.4zM0 23h2.4v2.4h-2.4zM4 22h2.4v2.4h-2.4zM11 5h2.4v2.4h-2.4zM20 0h2.4v2.4h-2.4zM2 11h2.4v2.4h-2.4zM21 0h2.4v2.4h-2.4zM23 21h2.4v2.4h-2.4zM17 -2h2.4v2.4h-2.4zM21 22h2.4v2.4h-2.4zM24 6h2.4v2.4h-2.4zM6 11h2.4v2.4h-2.4zM18 14h2.4v2.4h-2.4zM3 6h2.4v2.4h-2.4zM10 3h2.4v2.4h-2.4zM8 20h2.4v2.4h-2.4zM20 1h2.4v2.4h-2.4zM-2 5h2.4v2.4h-2.4zM20 12h2.4v2.4h-2.4zM12 4h2.4v2.4h-2.4zM18 -1h2.4v2.4h-2.4zM5 19h2.4v2.4h-2.4zM8 21h2.4v2.4h-2.4zM4 18h2.4v2.4h-2.4zM21 15h2.4v2.4h-2.4zM-2 -0h2.4v2.4h-2.4zM23 8h2.4v2.4h-2.4zM12 13h2.4v2.4h-2.4zM2 21h2.4v2.4h-2.4zM-0 6h2.4v2.4h-2.4zM10 13h2.4v2.4h-2.4zM22 2h2.4v2.4h-2.4zM3 7h2.4v2.4h-2.4zM12 9h2.4v2.4h-2.4zM3 8h2.4v2.4h-2.4zM7 -1h2.4v2.4h-2.4zM6 17h2.4v2.4h-2.4zM18 19h2.4v2.4h-2.4zM24 24h2.4v2.4h-2.4zM15 13h2.4v2.4h-2.4zM23 8h2.4v2.4h-2.4zM19 20h2.4v2.4h-2.4zM20 6h2.4v2.4h-2.4zM-2 8h2.4v2.4h-2.4zM17 8h2.4v2.4h-2.4zM7 1h2.4v2.4h-2.4zM24 14h2.4v2.4h-2.4zM9 20h2.4v2.4h-2.4zM10 2h2.4v2.4h-2.4zM8 -2h2.4v2.4h-2.4zM22 21h2.4v2.4h-2.4zM19 9h2.4v2.4h-2.4zM-2 6h2.4v2.4h-2.4zM8 18h2.4v2.4h-2.4zM3 7h2.4v2.4h-2.4z" fill="#2a4aa0"/><path d="M8 16h2.4v2.4h-2.4zM8 -0h2.4v2.4h-2.4zM1 21h2.4v2.4h-2.4zM10 0h2.4v2.4h-2.4zM-1 21h2.4v2.4h-2.4zM2 11h2.4v2.4h-2.4zM23 22h2.4v2.4h-2.4zM23 17h2.4v2.4h-2.4zM24 17h2.4v2.4h-2.4zM8 16h2.4v2.4h-2.4zM6 -0h2.4v2.4h-2.4zM14 5h2.4v2.4h-2.4zM-2 2h2.4v2.4h-2.4zM19 10h2.4v2.4h-2.4zM6 4h2.4v2.4h-2.4zM16 6h2.4v2.4h-2.4zM17 12h2.4v2.4h-2.4zM2 1h2.4v2.4h-2.4zM10 21h2.4v2.4h-2.4z" fill="#3a5ab8"/><path d="M13 -0h2.4v2.4h-2.4zM-1 19h2.4v2.4h-2.4zM12 1h2.4v2.4h-2.4zM10 3h2.4v2.4h-2.4zM16 11h2.4v2.4h-2.4zM6 22h2.4v2.4h-2.4zM6 18h2.4v2.4h-2.4zM16 5h2.4v2.4h-2.4zM10 15h2.4v2.4h-2.4zM20 18h2.4v2.4h-2.4zM1 -2h2.4v2.4h-2.4zM6 3h2.4v2.4h-2.4zM2 15h2.4v2.4h-2.4zM2 22h2.4v2.4h-2.4zM5 10h2.4v2.4h-2.4zM14 -0h2.4v2.4h-2.4zM7 3h2.4v2.4h-2.4zM3 6h2.4v2.4h-2.4zM23 4h2.4v2.4h-2.4zM19 12h2.4v2.4h-2.4zM19 17h2.4v2.4h-2.4zM14 19h2.4v2.4h-2.4zM7 13h2.4v2.4h-2.4zM5 11h2.4v2.4h-2.4zM0 -1h2.4v2.4h-2.4zM4 -2h2.4v2.4h-2.4zM7 6h2.4v2.4h-2.4zM24 14h2.4v2.4h-2.4zM4 3h2.4v2.4h-2.4zM4 1h2.4v2.4h-2.4zM-1 21h2.4v2.4h-2.4zM1 9h2.4v2.4h-2.4zM21 -2h2.4v2.4h-2.4zM-0 6h2.4v2.4h-2.4zM19 23h2.4v2.4h-2.4zM17 2h2.4v2.4h-2.4zM5 22h2.4v2.4h-2.4zM15 10h2.4v2.4h-2.4zM5 20h2.4v2.4h-2.4zM20 3h2.4v2.4h-2.4zM10 19h2.4v2.4h-2.4zM11 14h2.4v2.4h-2.4zM8 9h2.4v2.4h-2.4zM13 16h2.4v2.4h-2.4zM20 2h2.4v2.4h-2.4zM20 8h2.4v2.4h-2.4zM5 8h2.4v2.4h-2.4zM22 24h2.4v2.4h-2.4zM1 12h2.4v2.4h-2.4zM-1 8h2.4v2.4h-2.4zM2 8h2.4v2.4h-2.4zM12 8h2.4v2.4h-2.4zM5 23h2.4v2.4h-2.4zM19 23h2.4v2.4h-2.4zM-2 2h2.4v2.4h-2.4zM4 21h2.4v2.4h-2.4zM15 21h2.4v2.4h-2.4zM19 4h2.4v2.4h-2.4zM4 13h2.4v2.4h-2.4zM13 22h2.4v2.4h-2.4zM11 15h2.4v2.4h-2.4zM24 -0h2.4v2.4h-2.4zM19 23h2.4v2.4h-2.4zM-1 8h2.4v2.4h-2.4zM11 16h2.4v2.4h-2.4zM8 18h2.4v2.4h-2.4zM14 17h2.4v2.4h-2.4zM13 12h2.4v2.4h-2.4zM13 11h2.4v2.4h-2.4zM-0 14h2.4v2.4h-2.4zM21 3h2.4v2.4h-2.4zM2 2h2.4v2.4h-2.4zM1 17h2.4v2.4h-2.4zM-2 21h2.4v2.4h-2.4zM2 9h2.4v2.4h-2.4zM12 23h2.4v2.4h-2.4zM16 6h2.4v2.4h-2.4zM11 7h2.4v2.4h-2.4z" fill="#2a4aa0"/><path d="M7 10h2.4v2.4h-2.4zM19 20h2.4v2.4h-2.4zM1 11h2.4v2.4h-2.4zM3 21h2.4v2.4h-2.4zM17 17h2.4v2.4h-2.4zM15 13h2.4v2.4h-2.4zM23 -2h2.4v2.4h-2.4zM-1 17h2.4v2.4h-2.4zM-0 17h2.4v2.4h-2.4zM9 18h2.4v2.4h-2.4zM19 12h2.4v2.4h-2.4zM6 16h2.4v2.4h-2.4zM23 10h2.4v2.4h-2.4zM9 10h2.4v2.4h-2.4zM15 9h2.4v2.4h-2.4zM20 20h2.4v2.4h-2.4zM5 5h2.4v2.4h-2.4zM6 22h2.4v2.4h-2.4zM7 21h2.4v2.4h-2.4z" fill="#3a5ab8"/><path d="M14 11h2.4v2.4h-2.4zM0 19h2.4v2.4h-2.4zM9 10h2.4v2.4h-2.4zM3 21h2.4v2.4h-2.4zM11 10h2.4v2.4h-2.4zM6 -2h2.4v2.4h-2.4zM2 2h2.4v2.4h-2.4zM6 10h2.4v2.4h-2.4zM22 16h2.4v2.4h-2.4zM23 5h2.4v2.4h-2.4zM8 4h2.4v2.4h-2.4zM19 6h2.4v2.4h-2.4zM19 13h2.4v2.4h-2.4zM2 -2h2.4v2.4h-2.4zM2 6h2.4v2.4h-2.4zM20 13h2.4v2.4h-2.4zM8 5h2.4v2.4h-2.4zM19 15h2.4v2.4h-2.4zM-1 4h2.4v2.4h-2.4zM21 4h2.4v2.4h-2.4zM12 9h2.4v2.4h-2.4zM6 11h2.4v2.4h-2.4zM8 4h2.4v2.4h-2.4zM13 14h2.4v2.4h-2.4zM23 15h2.4v2.4h-2.4zM14 0h2.4v2.4h-2.4zM22 5h2.4v2.4h-2.4zM-0 14h2.4v2.4h-2.4zM10 23h2.4v2.4h-2.4zM17 15h2.4v2.4h-2.4zM3 21h2.4v2.4h-2.4zM23 14h2.4v2.4h-2.4zM23 5h2.4v2.4h-2.4zM20 21h2.4v2.4h-2.4zM19 -1h2.4v2.4h-2.4zM10 18h2.4v2.4h-2.4zM5 -2h2.4v2.4h-2.4zM23 11h2.4v2.4h-2.4zM15 11h2.4v2.4h-2.4zM21 6h2.4v2.4h-2.4zM19 19h2.4v2.4h-2.4zM5 21h2.4v2.4h-2.4zM1 21h2.4v2.4h-2.4zM7 11h2.4v2.4h-2.4zM3 19h2.4v2.4h-2.4zM8 15h2.4v2.4h-2.4zM12 12h2.4v2.4h-2.4zM22 -0h2.4v2.4h-2.4zM11 14h2.4v2.4h-2.4zM18 23h2.4v2.4h-2.4zM10 6h2.4v2.4h-2.4zM6 12h2.4v2.4h-2.4zM5 -1h2.4v2.4h-2.4zM19 -1h2.4v2.4h-2.4zM6 13h2.4v2.4h-2.4zM21 11h2.4v2.4h-2.4zM8 12h2.4v2.4h-2.4zM12 18h2.4v2.4h-2.4zM2 1h2.4v2.4h-2.4zM13 -2h2.4v2.4h-2.4zM13 20h2.4v2.4h-2.4zM-0 24h2.4v2.4h-2.4zM19 -1h2.4v2.4h-2.4zM10 6h2.4v2.4h-2.4zM19 13h2.4v2.4h-2.4zM14 2h2.4v2.4h-2.4zM23 1h2.4v2.4h-2.4zM20 10h2.4v2.4h-2.4zM13 10h2.4v2.4h-2.4zM22 2h2.4v2.4h-2.4zM23 20h2.4v2.4h-2.4zM12 9h2.4v2.4h-2.4zM5 14h2.4v2.4h-2.4zM5 0h2.4v2.4h-2.4zM5 5h2.4v2.4h-2.4zM12 -1h2.4v2.4h-2.4zM8 6h2.4v2.4h-2.4zM21 20h2.4v2.4h-2.4z" fill="#2a4aa0"/><path d="M13 11h2.4v2.4h-2.4zM23 8h2.4v2.4h-2.4zM15 8h2.4v2.4h-2.4zM1 7h2.4v2.4h-2.4zM1 22h2.4v2.4h-2.4zM21 7h2.4v2.4h-2.4zM-1 22h2.4v2.4h-2.4zM16 23h2.4v2.4h-2.4zM21 13h2.4v2.4h-2.4zM8 14h2.4v2.4h-2.4zM14 1h2.4v2.4h-2.4zM8 20h2.4v2.4h-2.4zM-1 10h2.4v2.4h-2.4zM8 6h2.4v2.4h-2.4zM1 11h2.4v2.4h-2.4zM3 2h2.4v2.4h-2.4zM21 5h2.4v2.4h-2.4zM6 -2h2.4v2.4h-2.4zM5 1h2.4v2.4h-2.4z" fill="#3a5ab8"/></pattern><pattern id="pTL" width="24" height="24" patternUnits="userSpaceOnUse"><path d="M7 17h2.2v2.2h-2.2zM-2 15h2.2v2.2h-2.2zM3 17h2.2v2.2h-2.2zM1 7h2.2v2.2h-2.2zM23 2h2.2v2.2h-2.2zM-1 14h2.2v2.2h-2.2zM1 8h2.2v2.2h-2.2zM9 13h2.2v2.2h-2.2zM17 9h2.2v2.2h-2.2zM18 1h2.2v2.2h-2.2zM4 2h2.2v2.2h-2.2zM22 2h2.2v2.2h-2.2zM9 11h2.2v2.2h-2.2zM6 11h2.2v2.2h-2.2zM15 3h2.2v2.2h-2.2zM17 6h2.2v2.2h-2.2zM21 4h2.2v2.2h-2.2z" fill="#f0b400"/><path d="M4 8h2.2v2.2h-2.2zM4 10h2.2v2.2h-2.2zM0 22h2.2v2.2h-2.2zM2 13h2.2v2.2h-2.2zM8 24h2.2v2.2h-2.2zM-2 2h2.2v2.2h-2.2zM-1 2h2.2v2.2h-2.2zM8 7h2.2v2.2h-2.2zM-0 10h2.2v2.2h-2.2zM22 19h2.2v2.2h-2.2zM17 22h2.2v2.2h-2.2zM20 11h2.2v2.2h-2.2zM8 -1h2.2v2.2h-2.2zM23 7h2.2v2.2h-2.2zM6 1h2.2v2.2h-2.2zM7 19h2.2v2.2h-2.2z" fill="#3a9ee0"/><path d="M7 20h2.2v2.2h-2.2zM16 19h2.2v2.2h-2.2zM21 6h2.2v2.2h-2.2zM6 2h2.2v2.2h-2.2zM5 21h2.2v2.2h-2.2zM16 18h2.2v2.2h-2.2zM9 1h2.2v2.2h-2.2zM7 -1h2.2v2.2h-2.2zM22 23h2.2v2.2h-2.2zM12 24h2.2v2.2h-2.2z" fill="#c87bc0"/><path d="M7 9h2.2v2.2h-2.2zM21 5h2.2v2.2h-2.2zM20 4h2.2v2.2h-2.2zM20 6h2.2v2.2h-2.2zM24 11h2.2v2.2h-2.2zM13 9h2.2v2.2h-2.2z" fill="#2a4aa0"/><path d="M17 19h2.2v2.2h-2.2zM5 22h2.2v2.2h-2.2zM22 8h2.2v2.2h-2.2zM6 17h2.2v2.2h-2.2z" fill="#6ab85a"/><path d="M16 10h2.2v2.2h-2.2zM13 17h2.2v2.2h-2.2zM0 5h2.2v2.2h-2.2zM17 5h2.2v2.2h-2.2zM-1 2h2.2v2.2h-2.2zM5 19h2.2v2.2h-2.2zM7 9h2.2v2.2h-2.2zM5 15h2.2v2.2h-2.2zM17 8h2.2v2.2h-2.2zM2 6h2.2v2.2h-2.2zM13 1h2.2v2.2h-2.2zM-2 2h2.2v2.2h-2.2zM16 7h2.2v2.2h-2.2zM19 24h2.2v2.2h-2.2zM9 5h2.2v2.2h-2.2zM7 9h2.2v2.2h-2.2zM10 8h2.2v2.2h-2.2z" fill="#f0b400"/><path d="M1 1h2.2v2.2h-2.2zM6 2h2.2v2.2h-2.2zM19 21h2.2v2.2h-2.2zM5 20h2.2v2.2h-2.2zM8 -0h2.2v2.2h-2.2zM8 15h2.2v2.2h-2.2zM17 16h2.2v2.2h-2.2zM13 11h2.2v2.2h-2.2zM9 23h2.2v2.2h-2.2zM-2 19h2.2v2.2h-2.2zM7 19h2.2v2.2h-2.2zM1 23h2.2v2.2h-2.2zM2 21h2.2v2.2h-2.2zM-1 7h2.2v2.2h-2.2zM7 19h2.2v2.2h-2.2zM20 16h2.2v2.2h-2.2z" fill="#3a9ee0"/><path d="M16 21h2.2v2.2h-2.2zM5 15h2.2v2.2h-2.2zM13 14h2.2v2.2h-2.2zM3 4h2.2v2.2h-2.2zM14 15h2.2v2.2h-2.2zM19 20h2.2v2.2h-2.2zM1 18h2.2v2.2h-2.2zM15 13h2.2v2.2h-2.2zM22 -1h2.2v2.2h-2.2zM12 -0h2.2v2.2h-2.2z" fill="#c87bc0"/><path d="M10 1h2.2v2.2h-2.2zM8 9h2.2v2.2h-2.2zM18 21h2.2v2.2h-2.2zM12 10h2.2v2.2h-2.2zM-0 11h2.2v2.2h-2.2zM12 16h2.2v2.2h-2.2z" fill="#2a4aa0"/><path d="M8 17h2.2v2.2h-2.2zM5 -2h2.2v2.2h-2.2zM-2 8h2.2v2.2h-2.2zM1 19h2.2v2.2h-2.2z" fill="#6ab85a"/><path d="M10 21h2.2v2.2h-2.2zM4 24h2.2v2.2h-2.2zM16 24h2.2v2.2h-2.2zM16 15h2.2v2.2h-2.2zM10 20h2.2v2.2h-2.2zM22 10h2.2v2.2h-2.2zM9 16h2.2v2.2h-2.2zM11 22h2.2v2.2h-2.2zM11 10h2.2v2.2h-2.2zM20 7h2.2v2.2h-2.2zM23 6h2.2v2.2h-2.2zM5 7h2.2v2.2h-2.2zM16 5h2.2v2.2h-2.2zM19 -0h2.2v2.2h-2.2zM18 12h2.2v2.2h-2.2zM24 3h2.2v2.2h-2.2zM22 8h2.2v2.2h-2.2z" fill="#f0b400"/><path d="M19 2h2.2v2.2h-2.2zM9 16h2.2v2.2h-2.2zM10 19h2.2v2.2h-2.2zM4 9h2.2v2.2h-2.2zM0 9h2.2v2.2h-2.2zM8 12h2.2v2.2h-2.2zM7 17h2.2v2.2h-2.2zM12 19h2.2v2.2h-2.2zM9 -1h2.2v2.2h-2.2zM19 3h2.2v2.2h-2.2zM14 17h2.2v2.2h-2.2zM1 -1h2.2v2.2h-2.2zM5 18h2.2v2.2h-2.2zM18 20h2.2v2.2h-2.2zM17 8h2.2v2.2h-2.2zM12 6h2.2v2.2h-2.2z" fill="#3a9ee0"/><path d="M13 13h2.2v2.2h-2.2zM12 7h2.2v2.2h-2.2zM19 2h2.2v2.2h-2.2zM2 13h2.2v2.2h-2.2zM12 9h2.2v2.2h-2.2zM5 1h2.2v2.2h-2.2zM21 16h2.2v2.2h-2.2zM5 20h2.2v2.2h-2.2zM21 22h2.2v2.2h-2.2z" fill="#c87bc0"/><path d="M3 7h2.2v2.2h-2.2zM14 22h2.2v2.2h-2.2zM21 15h2.2v2.2h-2.2zM19 23h2.2v2.2h-2.2zM0 12h2.2v2.2h-2.2zM1 20h2.2v2.2h-2.2z" fill="#2a4aa0"/><path d="M21 11h2.2v2.2h-2.2zM4 21h2.2v2.2h-2.2zM14 13h2.2v2.2h-2.2z" fill="#6ab85a"/><path d="M22 15h2.2v2.2h-2.2zM4 -0h2.2v2.2h-2.2zM16 -0h2.2v2.2h-2.2zM7 12h2.2v2.2h-2.2zM23 14h2.2v2.2h-2.2zM-2 10h2.2v2.2h-2.2zM19 22h2.2v2.2h-2.2zM11 -2h2.2v2.2h-2.2zM3 4h2.2v2.2h-2.2zM14 7h2.2v2.2h-2.2zM-1 6h2.2v2.2h-2.2zM15 17h2.2v2.2h-2.2zM10 20h2.2v2.2h-2.2zM10 7h2.2v2.2h-2.2zM10 5h2.2v2.2h-2.2zM-0 3h2.2v2.2h-2.2zM-2 8h2.2v2.2h-2.2z" fill="#f0b400"/><path d="M4 17h2.2v2.2h-2.2zM8 8h2.2v2.2h-2.2zM6 15h2.2v2.2h-2.2zM19 13h2.2v2.2h-2.2zM22 2h2.2v2.2h-2.2zM23 2h2.2v2.2h-2.2zM16 6h2.2v2.2h-2.2zM24 10h2.2v2.2h-2.2zM20 7h2.2v2.2h-2.2zM3 12h2.2v2.2h-2.2zM12 17h2.2v2.2h-2.2zM8 23h2.2v2.2h-2.2zM14 16h2.2v2.2h-2.2zM7 13h2.2v2.2h-2.2zM15 6h2.2v2.2h-2.2z" fill="#3a9ee0"/><path d="M8 6h2.2v2.2h-2.2zM4 20h2.2v2.2h-2.2zM17 18h2.2v2.2h-2.2zM5 21h2.2v2.2h-2.2zM20 13h2.2v2.2h-2.2zM17 20h2.2v2.2h-2.2zM7 23h2.2v2.2h-2.2zM5 15h2.2v2.2h-2.2zM21 -2h2.2v2.2h-2.2z" fill="#c87bc0"/><path d="M16 18h2.2v2.2h-2.2zM14 -2h2.2v2.2h-2.2zM4 7h2.2v2.2h-2.2zM19 -1h2.2v2.2h-2.2zM3 3h2.2v2.2h-2.2z" fill="#2a4aa0"/><path d="M15 10h2.2v2.2h-2.2zM14 9h2.2v2.2h-2.2zM8 8h2.2v2.2h-2.2z" fill="#6ab85a"/></pattern><pattern id="pCen" width="24" height="24" patternUnits="userSpaceOnUse"><path d="M4 1h2.2v2.2h-2.2zM8 24h2.2v2.2h-2.2zM22 9h2.2v2.2h-2.2zM17 6h2.2v2.2h-2.2zM0 1h2.2v2.2h-2.2zM10 4h2.2v2.2h-2.2zM23 4h2.2v2.2h-2.2zM21 22h2.2v2.2h-2.2zM19 16h2.2v2.2h-2.2zM17 8h2.2v2.2h-2.2zM3 12h2.2v2.2h-2.2zM3 14h2.2v2.2h-2.2zM17 19h2.2v2.2h-2.2zM10 20h2.2v2.2h-2.2zM18 15h2.2v2.2h-2.2zM15 15h2.2v2.2h-2.2zM2 20h2.2v2.2h-2.2zM21 4h2.2v2.2h-2.2z" fill="#3a9ee0"/><path d="M1 19h2.2v2.2h-2.2zM11 14h2.2v2.2h-2.2zM3 15h2.2v2.2h-2.2zM-0 20h2.2v2.2h-2.2zM18 18h2.2v2.2h-2.2zM16 4h2.2v2.2h-2.2zM9 3h2.2v2.2h-2.2zM11 15h2.2v2.2h-2.2zM7 6h2.2v2.2h-2.2zM12 14h2.2v2.2h-2.2zM-1 -1h2.2v2.2h-2.2zM19 21h2.2v2.2h-2.2zM14 4h2.2v2.2h-2.2zM23 3h2.2v2.2h-2.2zM-1 4h2.2v2.2h-2.2z" fill="#f0b400"/><path d="M23 22h2.2v2.2h-2.2zM17 8h2.2v2.2h-2.2zM23 20h2.2v2.2h-2.2zM-0 23h2.2v2.2h-2.2zM3 22h2.2v2.2h-2.2zM9 13h2.2v2.2h-2.2zM-2 10h2.2v2.2h-2.2zM-1 9h2.2v2.2h-2.2zM10 9h2.2v2.2h-2.2zM10 1h2.2v2.2h-2.2zM18 16h2.2v2.2h-2.2zM5 20h2.2v2.2h-2.2zM15 6h2.2v2.2h-2.2zM3 3h2.2v2.2h-2.2zM11 15h2.2v2.2h-2.2zM20 10h2.2v2.2h-2.2z" fill="#2a4aa0"/><path d="M19 5h2.2v2.2h-2.2zM24 2h2.2v2.2h-2.2zM9 1h2.2v2.2h-2.2zM8 7h2.2v2.2h-2.2zM17 15h2.2v2.2h-2.2zM2 6h2.2v2.2h-2.2zM6 4h2.2v2.2h-2.2z" fill="#6ab85a"/><path d="M17 18h2.2v2.2h-2.2zM12 23h2.2v2.2h-2.2zM12 9h2.2v2.2h-2.2zM17 13h2.2v2.2h-2.2zM23 21h2.2v2.2h-2.2zM4 7h2.2v2.2h-2.2z" fill="#c87bc0"/><path d="M22 2h2.2v2.2h-2.2zM23 18h2.2v2.2h-2.2zM14 14h2.2v2.2h-2.2zM9 20h2.2v2.2h-2.2zM13 17h2.2v2.2h-2.2zM18 2h2.2v2.2h-2.2zM2 23h2.2v2.2h-2.2zM21 5h2.2v2.2h-2.2z" fill="#2aa090"/><path d="M10 18h2.2v2.2h-2.2zM8 -0h2.2v2.2h-2.2zM-2 9h2.2v2.2h-2.2zM11 4h2.2v2.2h-2.2zM6 15h2.2v2.2h-2.2zM18 24h2.2v2.2h-2.2zM-1 4h2.2v2.2h-2.2zM21 -2h2.2v2.2h-2.2zM5 21h2.2v2.2h-2.2zM12 14h2.2v2.2h-2.2zM19 13h2.2v2.2h-2.2zM16 14h2.2v2.2h-2.2zM10 11h2.2v2.2h-2.2zM10 8h2.2v2.2h-2.2zM9 8h2.2v2.2h-2.2zM5 11h2.2v2.2h-2.2zM10 21h2.2v2.2h-2.2z" fill="#3a9ee0"/><path d="M17 2h2.2v2.2h-2.2zM21 13h2.2v2.2h-2.2zM15 3h2.2v2.2h-2.2zM2 13h2.2v2.2h-2.2zM22 14h2.2v2.2h-2.2zM4 13h2.2v2.2h-2.2zM23 11h2.2v2.2h-2.2zM21 16h2.2v2.2h-2.2zM13 2h2.2v2.2h-2.2zM23 23h2.2v2.2h-2.2zM22 18h2.2v2.2h-2.2zM23 5h2.2v2.2h-2.2zM12 16h2.2v2.2h-2.2zM-1 3h2.2v2.2h-2.2zM15 22h2.2v2.2h-2.2z" fill="#f0b400"/><path d="M23 -2h2.2v2.2h-2.2zM12 21h2.2v2.2h-2.2zM-1 20h2.2v2.2h-2.2zM-0 -1h2.2v2.2h-2.2zM3 -2h2.2v2.2h-2.2zM19 5h2.2v2.2h-2.2zM13 11h2.2v2.2h-2.2zM6 12h2.2v2.2h-2.2zM1 23h2.2v2.2h-2.2zM20 6h2.2v2.2h-2.2zM17 14h2.2v2.2h-2.2zM15 13h2.2v2.2h-2.2zM12 17h2.2v2.2h-2.2zM12 15h2.2v2.2h-2.2zM6 8h2.2v2.2h-2.2zM0 20h2.2v2.2h-2.2z" fill="#2a4aa0"/><path d="M8 19h2.2v2.2h-2.2zM-0 2h2.2v2.2h-2.2zM11 14h2.2v2.2h-2.2zM2 14h2.2v2.2h-2.2zM23 15h2.2v2.2h-2.2zM12 6h2.2v2.2h-2.2zM3 3h2.2v2.2h-2.2z" fill="#6ab85a"/><path d="M9 3h2.2v2.2h-2.2zM12 -1h2.2v2.2h-2.2zM5 15h2.2v2.2h-2.2zM13 21h2.2v2.2h-2.2zM-1 21h2.2v2.2h-2.2zM13 9h2.2v2.2h-2.2z" fill="#c87bc0"/><path d="M23 1h2.2v2.2h-2.2zM-1 18h2.2v2.2h-2.2zM19 23h2.2v2.2h-2.2zM17 16h2.2v2.2h-2.2zM12 20h2.2v2.2h-2.2zM16 10h2.2v2.2h-2.2zM2 -1h2.2v2.2h-2.2z" fill="#2aa090"/><path d="M23 18h2.2v2.2h-2.2zM23 18h2.2v2.2h-2.2zM10 23h2.2v2.2h-2.2zM16 22h2.2v2.2h-2.2zM20 24h2.2v2.2h-2.2zM18 -0h2.2v2.2h-2.2zM24 3h2.2v2.2h-2.2zM18 9h2.2v2.2h-2.2zM16 19h2.2v2.2h-2.2zM0 15h2.2v2.2h-2.2zM16 12h2.2v2.2h-2.2zM20 8h2.2v2.2h-2.2zM18 9h2.2v2.2h-2.2zM1 0h2.2v2.2h-2.2zM6 20h2.2v2.2h-2.2zM4 7h2.2v2.2h-2.2zM12 5h2.2v2.2h-2.2z" fill="#3a9ee0"/><path d="M9 4h2.2v2.2h-2.2zM19 2h2.2v2.2h-2.2zM13 13h2.2v2.2h-2.2zM8 7h2.2v2.2h-2.2zM-2 14h2.2v2.2h-2.2zM17 10h2.2v2.2h-2.2zM-1 11h2.2v2.2h-2.2zM1 18h2.2v2.2h-2.2zM1 6h2.2v2.2h-2.2zM23 -1h2.2v2.2h-2.2zM9 10h2.2v2.2h-2.2zM-1 5h2.2v2.2h-2.2zM4 13h2.2v2.2h-2.2zM16 3h2.2v2.2h-2.2zM22 7h2.2v2.2h-2.2z" fill="#f0b400"/><path d="M-1 22h2.2v2.2h-2.2zM9 4h2.2v2.2h-2.2zM24 23h2.2v2.2h-2.2zM11 10h2.2v2.2h-2.2zM1 21h2.2v2.2h-2.2zM20 3h2.2v2.2h-2.2zM2 7h2.2v2.2h-2.2zM4 15h2.2v2.2h-2.2zM1 -1h2.2v2.2h-2.2zM6 0h2.2v2.2h-2.2zM23 3h2.2v2.2h-2.2zM8 14h2.2v2.2h-2.2zM14 22h2.2v2.2h-2.2zM3 22h2.2v2.2h-2.2zM22 8h2.2v2.2h-2.2z" fill="#2a4aa0"/><path d="M21 1h2.2v2.2h-2.2zM8 21h2.2v2.2h-2.2zM24 9h2.2v2.2h-2.2zM8 17h2.2v2.2h-2.2zM-1 15h2.2v2.2h-2.2zM9 15h2.2v2.2h-2.2zM17 18h2.2v2.2h-2.2z" fill="#6ab85a"/><path d="M2 23h2.2v2.2h-2.2zM3 15h2.2v2.2h-2.2zM23 12h2.2v2.2h-2.2zM11 12h2.2v2.2h-2.2zM12 2h2.2v2.2h-2.2z" fill="#c87bc0"/><path d="M-1 1h2.2v2.2h-2.2zM11 15h2.2v2.2h-2.2zM19 -1h2.2v2.2h-2.2zM17 8h2.2v2.2h-2.2zM5 16h2.2v2.2h-2.2zM6 0h2.2v2.2h-2.2zM19 4h2.2v2.2h-2.2z" fill="#2aa090"/><path d="M-1 18h2.2v2.2h-2.2zM-1 18h2.2v2.2h-2.2zM10 -1h2.2v2.2h-2.2zM16 -2h2.2v2.2h-2.2zM20 -0h2.2v2.2h-2.2zM5 7h2.2v2.2h-2.2zM-0 3h2.2v2.2h-2.2zM12 13h2.2v2.2h-2.2zM16 8h2.2v2.2h-2.2zM13 4h2.2v2.2h-2.2zM14 21h2.2v2.2h-2.2zM19 16h2.2v2.2h-2.2zM4 10h2.2v2.2h-2.2zM9 16h2.2v2.2h-2.2zM8 21h2.2v2.2h-2.2zM6 14h2.2v2.2h-2.2zM7 10h2.2v2.2h-2.2z" fill="#3a9ee0"/><path d="M11 19h2.2v2.2h-2.2zM12 14h2.2v2.2h-2.2zM24 20h2.2v2.2h-2.2zM15 9h2.2v2.2h-2.2zM15 9h2.2v2.2h-2.2zM12 2h2.2v2.2h-2.2zM14 4h2.2v2.2h-2.2zM21 7h2.2v2.2h-2.2zM12 7h2.2v2.2h-2.2zM-1 23h2.2v2.2h-2.2zM20 1h2.2v2.2h-2.2zM10 2h2.2v2.2h-2.2zM2 15h2.2v2.2h-2.2zM23 4h2.2v2.2h-2.2zM14 19h2.2v2.2h-2.2z" fill="#f0b400"/><path d="M-1 -2h2.2v2.2h-2.2zM3 6h2.2v2.2h-2.2zM24 -1h2.2v2.2h-2.2zM13 13h2.2v2.2h-2.2zM13 5h2.2v2.2h-2.2zM22 10h2.2v2.2h-2.2zM23 9h2.2v2.2h-2.2zM7 17h2.2v2.2h-2.2zM3 2h2.2v2.2h-2.2zM21 13h2.2v2.2h-2.2zM-1 3h2.2v2.2h-2.2zM22 18h2.2v2.2h-2.2zM14 -2h2.2v2.2h-2.2zM3 -2h2.2v2.2h-2.2zM-2 8h2.2v2.2h-2.2z" fill="#2a4aa0"/><path d="M21 21h2.2v2.2h-2.2zM19 3h2.2v2.2h-2.2zM-0 9h2.2v2.2h-2.2zM2 5h2.2v2.2h-2.2zM2 4h2.2v2.2h-2.2zM17 3h2.2v2.2h-2.2zM21 4h2.2v2.2h-2.2z" fill="#6ab85a"/><path d="M2 -1h2.2v2.2h-2.2zM19 2h2.2v2.2h-2.2zM-1 12h2.2v2.2h-2.2zM22 12h2.2v2.2h-2.2zM14 21h2.2v2.2h-2.2z" fill="#c87bc0"/><path d="M14 15h2.2v2.2h-2.2zM13 11h2.2v2.2h-2.2zM17 1h2.2v2.2h-2.2zM0 18h2.2v2.2h-2.2zM9 19h2.2v2.2h-2.2zM14 19h2.2v2.2h-2.2zM19 20h2.2v2.2h-2.2z" fill="#2aa090"/></pattern><pattern id="pCenL" width="24" height="24" patternUnits="userSpaceOnUse"><path d="M19 10h2.2v2.2h-2.2zM9 11h2.2v2.2h-2.2zM20 -0h2.2v2.2h-2.2zM2 11h2.2v2.2h-2.2zM7 8h2.2v2.2h-2.2zM11 4h2.2v2.2h-2.2zM-0 3h2.2v2.2h-2.2zM24 2h2.2v2.2h-2.2zM17 14h2.2v2.2h-2.2zM-2 19h2.2v2.2h-2.2zM15 19h2.2v2.2h-2.2zM18 16h2.2v2.2h-2.2zM18 11h2.2v2.2h-2.2zM22 16h2.2v2.2h-2.2zM15 3h2.2v2.2h-2.2zM-1 -1h2.2v2.2h-2.2zM3 11h2.2v2.2h-2.2zM20 16h2.2v2.2h-2.2zM18 9h2.2v2.2h-2.2zM18 18h2.2v2.2h-2.2zM2 8h2.2v2.2h-2.2zM9 12h2.2v2.2h-2.2zM14 21h2.2v2.2h-2.2zM18 1h2.2v2.2h-2.2zM24 20h2.2v2.2h-2.2zM14 19h2.2v2.2h-2.2zM-1 1h2.2v2.2h-2.2z" fill="#c87bc0"/><path d="M22 9h2.2v2.2h-2.2zM2 7h2.2v2.2h-2.2zM22 13h2.2v2.2h-2.2zM3 13h2.2v2.2h-2.2zM12 22h2.2v2.2h-2.2zM14 7h2.2v2.2h-2.2zM22 -2h2.2v2.2h-2.2zM9 21h2.2v2.2h-2.2zM14 11h2.2v2.2h-2.2zM11 16h2.2v2.2h-2.2zM-1 6h2.2v2.2h-2.2zM20 8h2.2v2.2h-2.2zM19 11h2.2v2.2h-2.2zM18 2h2.2v2.2h-2.2zM21 3h2.2v2.2h-2.2zM21 6h2.2v2.2h-2.2zM5 -1h2.2v2.2h-2.2zM8 22h2.2v2.2h-2.2z" fill="#f2c4c8"/><path d="M22 3h2.2v2.2h-2.2zM7 -2h2.2v2.2h-2.2zM14 12h2.2v2.2h-2.2zM22 4h2.2v2.2h-2.2zM19 22h2.2v2.2h-2.2zM9 16h2.2v2.2h-2.2zM2 17h2.2v2.2h-2.2zM6 20h2.2v2.2h-2.2zM11 8h2.2v2.2h-2.2zM7 21h2.2v2.2h-2.2zM15 10h2.2v2.2h-2.2zM22 -1h2.2v2.2h-2.2zM2 11h2.2v2.2h-2.2zM23 10h2.2v2.2h-2.2z" fill="#d8d0e8"/><path d="M8 10h2.2v2.2h-2.2zM2 10h2.2v2.2h-2.2zM15 9h2.2v2.2h-2.2zM2 12h2.2v2.2h-2.2zM21 11h2.2v2.2h-2.2z" fill="#3a9ee0"/><path d="M20 14h2.2v2.2h-2.2zM23 4h2.2v2.2h-2.2zM3 3h2.2v2.2h-2.2zM5 1h2.2v2.2h-2.2zM7 12h2.2v2.2h-2.2zM23 8h2.2v2.2h-2.2zM8 3h2.2v2.2h-2.2zM-0 2h2.2v2.2h-2.2zM1 11h2.2v2.2h-2.2zM12 11h2.2v2.2h-2.2zM3 17h2.2v2.2h-2.2zM4 22h2.2v2.2h-2.2zM12 24h2.2v2.2h-2.2zM-2 16h2.2v2.2h-2.2zM23 23h2.2v2.2h-2.2zM17 3h2.2v2.2h-2.2zM9 5h2.2v2.2h-2.2zM20 22h2.2v2.2h-2.2zM16 16h2.2v2.2h-2.2zM22 21h2.2v2.2h-2.2zM12 23h2.2v2.2h-2.2zM15 16h2.2v2.2h-2.2zM21 12h2.2v2.2h-2.2zM6 8h2.2v2.2h-2.2zM-0 20h2.2v2.2h-2.2zM22 12h2.2v2.2h-2.2zM9 11h2.2v2.2h-2.2z" fill="#c87bc0"/><path d="M16 11h2.2v2.2h-2.2zM2 14h2.2v2.2h-2.2zM-2 13h2.2v2.2h-2.2zM14 11h2.2v2.2h-2.2zM10 20h2.2v2.2h-2.2zM1 8h2.2v2.2h-2.2zM22 12h2.2v2.2h-2.2zM18 6h2.2v2.2h-2.2zM24 3h2.2v2.2h-2.2zM16 3h2.2v2.2h-2.2zM24 16h2.2v2.2h-2.2zM8 10h2.2v2.2h-2.2zM18 20h2.2v2.2h-2.2zM0 9h2.2v2.2h-2.2zM3 5h2.2v2.2h-2.2zM18 4h2.2v2.2h-2.2zM23 14h2.2v2.2h-2.2zM8 -2h2.2v2.2h-2.2z" fill="#f2c4c8"/><path d="M-2 3h2.2v2.2h-2.2zM15 2h2.2v2.2h-2.2zM20 12h2.2v2.2h-2.2zM-2 4h2.2v2.2h-2.2zM19 -2h2.2v2.2h-2.2zM10 19h2.2v2.2h-2.2zM3 11h2.2v2.2h-2.2zM2 5h2.2v2.2h-2.2zM15 16h2.2v2.2h-2.2zM13 1h2.2v2.2h-2.2zM12 16h2.2v2.2h-2.2zM-2 23h2.2v2.2h-2.2zM12 16h2.2v2.2h-2.2zM-1 10h2.2v2.2h-2.2z" fill="#d8d0e8"/><path d="M10 7h2.2v2.2h-2.2zM10 24h2.2v2.2h-2.2zM15 0h2.2v2.2h-2.2zM1 12h2.2v2.2h-2.2z" fill="#3a9ee0"/><path d="M14 14h2.2v2.2h-2.2zM-1 4h2.2v2.2h-2.2zM5 5h2.2v2.2h-2.2zM15 23h2.2v2.2h-2.2zM14 22h2.2v2.2h-2.2zM-1 8h2.2v2.2h-2.2zM18 20h2.2v2.2h-2.2zM13 5h2.2v2.2h-2.2zM15 13h2.2v2.2h-2.2zM14 4h2.2v2.2h-2.2zM13 7h2.2v2.2h-2.2zM19 13h2.2v2.2h-2.2zM12 -0h2.2v2.2h-2.2zM21 16h2.2v2.2h-2.2zM23 -1h2.2v2.2h-2.2zM1 17h2.2v2.2h-2.2zM13 24h2.2v2.2h-2.2zM20 -2h2.2v2.2h-2.2zM13 0h2.2v2.2h-2.2zM-2 21h2.2v2.2h-2.2zM12 -1h2.2v2.2h-2.2zM2 5h2.2v2.2h-2.2zM16 5h2.2v2.2h-2.2zM6 19h2.2v2.2h-2.2zM7 7h2.2v2.2h-2.2zM-2 12h2.2v2.2h-2.2zM19 13h2.2v2.2h-2.2z" fill="#c87bc0"/><path d="M10 2h2.2v2.2h-2.2zM20 18h2.2v2.2h-2.2zM19 7h2.2v2.2h-2.2zM7 18h2.2v2.2h-2.2zM9 9h2.2v2.2h-2.2zM8 6h2.2v2.2h-2.2zM-2 12h2.2v2.2h-2.2zM16 14h2.2v2.2h-2.2zM-0 3h2.2v2.2h-2.2zM19 18h2.2v2.2h-2.2zM-0 16h2.2v2.2h-2.2zM2 21h2.2v2.2h-2.2zM23 1h2.2v2.2h-2.2zM4 3h2.2v2.2h-2.2zM16 4h2.2v2.2h-2.2zM20 13h2.2v2.2h-2.2zM-1 14h2.2v2.2h-2.2zM12 7h2.2v2.2h-2.2z" fill="#f2c4c8"/><path d="M21 16h2.2v2.2h-2.2zM4 21h2.2v2.2h-2.2zM17 16h2.2v2.2h-2.2zM2 5h2.2v2.2h-2.2zM1 16h2.2v2.2h-2.2zM23 15h2.2v2.2h-2.2zM24 3h2.2v2.2h-2.2zM22 22h2.2v2.2h-2.2zM8 2h2.2v2.2h-2.2zM3 7h2.2v2.2h-2.2zM12 20h2.2v2.2h-2.2zM-2 -1h2.2v2.2h-2.2zM3 5h2.2v2.2h-2.2z" fill="#d8d0e8"/><path d="M12 9h2.2v2.2h-2.2zM10 -0h2.2v2.2h-2.2zM11 3h2.2v2.2h-2.2zM13 16h2.2v2.2h-2.2z" fill="#3a9ee0"/><path d="M13 14h2.2v2.2h-2.2zM20 24h2.2v2.2h-2.2zM7 2h2.2v2.2h-2.2zM15 -1h2.2v2.2h-2.2zM14 -2h2.2v2.2h-2.2zM24 3h2.2v2.2h-2.2zM4 5h2.2v2.2h-2.2zM17 8h2.2v2.2h-2.2zM22 19h2.2v2.2h-2.2zM7 13h2.2v2.2h-2.2zM0 4h2.2v2.2h-2.2zM8 18h2.2v2.2h-2.2zM3 15h2.2v2.2h-2.2zM8 20h2.2v2.2h-2.2zM-1 23h2.2v2.2h-2.2zM13 4h2.2v2.2h-2.2zM13 -0h2.2v2.2h-2.2zM14 9h2.2v2.2h-2.2zM4 11h2.2v2.2h-2.2zM1 9h2.2v2.2h-2.2zM6 2h2.2v2.2h-2.2zM4 6h2.2v2.2h-2.2zM7 5h2.2v2.2h-2.2zM0 18h2.2v2.2h-2.2zM15 18h2.2v2.2h-2.2zM23 1h2.2v2.2h-2.2z" fill="#c87bc0"/><path d="M17 17h2.2v2.2h-2.2zM7 19h2.2v2.2h-2.2zM16 11h2.2v2.2h-2.2zM21 21h2.2v2.2h-2.2zM15 14h2.2v2.2h-2.2zM22 22h2.2v2.2h-2.2zM13 6h2.2v2.2h-2.2zM3 4h2.2v2.2h-2.2zM0 17h2.2v2.2h-2.2zM23 6h2.2v2.2h-2.2zM3 2h2.2v2.2h-2.2zM12 14h2.2v2.2h-2.2zM-1 1h2.2v2.2h-2.2zM15 6h2.2v2.2h-2.2zM20 21h2.2v2.2h-2.2zM5 23h2.2v2.2h-2.2zM7 22h2.2v2.2h-2.2zM3 2h2.2v2.2h-2.2z" fill="#f2c4c8"/><path d="M7 22h2.2v2.2h-2.2zM7 4h2.2v2.2h-2.2zM0 16h2.2v2.2h-2.2zM11 21h2.2v2.2h-2.2zM8 4h2.2v2.2h-2.2zM-1 15h2.2v2.2h-2.2zM-0 3h2.2v2.2h-2.2zM-2 22h2.2v2.2h-2.2zM17 8h2.2v2.2h-2.2zM8 8h2.2v2.2h-2.2zM22 23h2.2v2.2h-2.2zM6 12h2.2v2.2h-2.2zM17 17h2.2v2.2h-2.2z" fill="#d8d0e8"/><path d="M14 6h2.2v2.2h-2.2zM4 15h2.2v2.2h-2.2zM0 8h2.2v2.2h-2.2zM11 19h2.2v2.2h-2.2z" fill="#3a9ee0"/></pattern><pattern id="pYS" width="24" height="24" patternUnits="userSpaceOnUse"><path d="M21 1h2.2v2.2h-2.2zM20 21h2.2v2.2h-2.2zM5 16h2.2v2.2h-2.2zM10 8h2.2v2.2h-2.2zM15 14h2.2v2.2h-2.2zM0 20h2.2v2.2h-2.2zM1 4h2.2v2.2h-2.2zM1 21h2.2v2.2h-2.2zM23 17h2.2v2.2h-2.2zM-1 20h2.2v2.2h-2.2zM-1 21h2.2v2.2h-2.2zM6 22h2.2v2.2h-2.2zM6 8h2.2v2.2h-2.2zM16 9h2.2v2.2h-2.2zM8 14h2.2v2.2h-2.2zM15 22h2.2v2.2h-2.2zM21 15h2.2v2.2h-2.2zM23 7h2.2v2.2h-2.2zM8 -1h2.2v2.2h-2.2zM4 23h2.2v2.2h-2.2zM-1 17h2.2v2.2h-2.2zM6 3h2.2v2.2h-2.2zM5 7h2.2v2.2h-2.2zM6 11h2.2v2.2h-2.2zM10 17h2.2v2.2h-2.2zM14 15h2.2v2.2h-2.2zM3 0h2.2v2.2h-2.2zM-0 1h2.2v2.2h-2.2zM-1 14h2.2v2.2h-2.2zM2 15h2.2v2.2h-2.2zM1 21h2.2v2.2h-2.2zM24 -2h2.2v2.2h-2.2zM23 10h2.2v2.2h-2.2zM19 -0h2.2v2.2h-2.2zM7 1h2.2v2.2h-2.2zM14 1h2.2v2.2h-2.2zM8 0h2.2v2.2h-2.2zM21 5h2.2v2.2h-2.2zM10 9h2.2v2.2h-2.2zM22 10h2.2v2.2h-2.2zM-2 10h2.2v2.2h-2.2zM2 16h2.2v2.2h-2.2zM10 16h2.2v2.2h-2.2zM15 23h2.2v2.2h-2.2zM-1 15h2.2v2.2h-2.2zM23 15h2.2v2.2h-2.2zM6 17h2.2v2.2h-2.2z" fill="#f2c4c8"/><path d="M9 10h2.2v2.2h-2.2zM-2 8h2.2v2.2h-2.2zM4 11h2.2v2.2h-2.2zM15 11h2.2v2.2h-2.2zM5 9h2.2v2.2h-2.2zM5 9h2.2v2.2h-2.2zM21 13h2.2v2.2h-2.2zM23 3h2.2v2.2h-2.2zM8 21h2.2v2.2h-2.2zM13 7h2.2v2.2h-2.2zM-1 10h2.2v2.2h-2.2zM11 8h2.2v2.2h-2.2zM20 12h2.2v2.2h-2.2zM7 10h2.2v2.2h-2.2zM23 19h2.2v2.2h-2.2zM0 16h2.2v2.2h-2.2zM16 20h2.2v2.2h-2.2zM8 10h2.2v2.2h-2.2z" fill="#f6d6da"/><path d="M18 19h2.2v2.2h-2.2zM24 1h2.2v2.2h-2.2zM13 2h2.2v2.2h-2.2zM4 20h2.2v2.2h-2.2zM22 5h2.2v2.2h-2.2zM22 24h2.2v2.2h-2.2zM8 19h2.2v2.2h-2.2zM-1 11h2.2v2.2h-2.2zM5 22h2.2v2.2h-2.2zM4 13h2.2v2.2h-2.2z" fill="#d8d0e8"/><path d="M17 17h2.2v2.2h-2.2zM6 23h2.2v2.2h-2.2zM4 7h2.2v2.2h-2.2zM19 20h2.2v2.2h-2.2zM9 22h2.2v2.2h-2.2zM1 7h2.2v2.2h-2.2zM9 9h2.2v2.2h-2.2zM19 5h2.2v2.2h-2.2zM-1 17h2.2v2.2h-2.2zM21 11h2.2v2.2h-2.2zM1 14h2.2v2.2h-2.2zM6 -2h2.2v2.2h-2.2zM11 22h2.2v2.2h-2.2zM16 4h2.2v2.2h-2.2zM1 2h2.2v2.2h-2.2zM15 -2h2.2v2.2h-2.2zM8 22h2.2v2.2h-2.2zM-1 7h2.2v2.2h-2.2zM3 14h2.2v2.2h-2.2zM4 -1h2.2v2.2h-2.2zM7 1h2.2v2.2h-2.2zM4 16h2.2v2.2h-2.2zM18 3h2.2v2.2h-2.2zM15 4h2.2v2.2h-2.2zM13 3h2.2v2.2h-2.2zM3 22h2.2v2.2h-2.2zM6 0h2.2v2.2h-2.2zM8 18h2.2v2.2h-2.2zM14 1h2.2v2.2h-2.2zM14 6h2.2v2.2h-2.2zM2 7h2.2v2.2h-2.2zM-0 22h2.2v2.2h-2.2zM-1 10h2.2v2.2h-2.2zM8 11h2.2v2.2h-2.2zM22 16h2.2v2.2h-2.2zM21 10h2.2v2.2h-2.2zM11 11h2.2v2.2h-2.2zM13 1h2.2v2.2h-2.2zM0 10h2.2v2.2h-2.2zM-2 10h2.2v2.2h-2.2zM2 12h2.2v2.2h-2.2zM2 3h2.2v2.2h-2.2zM11 18h2.2v2.2h-2.2zM15 -1h2.2v2.2h-2.2zM2 9h2.2v2.2h-2.2zM-1 15h2.2v2.2h-2.2z" fill="#f2c4c8"/><path d="M5 11h2.2v2.2h-2.2zM14 16h2.2v2.2h-2.2zM2 8h2.2v2.2h-2.2zM6 23h2.2v2.2h-2.2zM11 2h2.2v2.2h-2.2zM7 16h2.2v2.2h-2.2zM16 3h2.2v2.2h-2.2zM-1 3h2.2v2.2h-2.2zM8 23h2.2v2.2h-2.2zM20 4h2.2v2.2h-2.2zM15 23h2.2v2.2h-2.2zM23 13h2.2v2.2h-2.2zM14 22h2.2v2.2h-2.2zM5 22h2.2v2.2h-2.2zM-1 19h2.2v2.2h-2.2zM13 12h2.2v2.2h-2.2zM0 17h2.2v2.2h-2.2zM14 1h2.2v2.2h-2.2z" fill="#f6d6da"/><path d="M0 16h2.2v2.2h-2.2zM-0 1h2.2v2.2h-2.2zM5 3h2.2v2.2h-2.2zM4 14h2.2v2.2h-2.2zM-2 5h2.2v2.2h-2.2zM22 -0h2.2v2.2h-2.2zM12 20h2.2v2.2h-2.2zM17 8h2.2v2.2h-2.2zM5 -2h2.2v2.2h-2.2zM7 15h2.2v2.2h-2.2z" fill="#d8d0e8"/><path d="M16 21h2.2v2.2h-2.2zM6 -1h2.2v2.2h-2.2zM11 13h2.2v2.2h-2.2zM10 20h2.2v2.2h-2.2zM9 -2h2.2v2.2h-2.2zM0 24h2.2v2.2h-2.2zM23 18h2.2v2.2h-2.2zM24 2h2.2v2.2h-2.2zM6 17h2.2v2.2h-2.2zM4 4h2.2v2.2h-2.2zM20 14h2.2v2.2h-2.2zM5 21h2.2v2.2h-2.2zM11 -2h2.2v2.2h-2.2zM18 15h2.2v2.2h-2.2zM8 19h2.2v2.2h-2.2zM16 16h2.2v2.2h-2.2zM3 23h2.2v2.2h-2.2zM15 13h2.2v2.2h-2.2zM11 22h2.2v2.2h-2.2zM18 7h2.2v2.2h-2.2zM11 5h2.2v2.2h-2.2zM5 22h2.2v2.2h-2.2zM14 14h2.2v2.2h-2.2zM12 20h2.2v2.2h-2.2zM3 24h2.2v2.2h-2.2zM7 3h2.2v2.2h-2.2zM16 10h2.2v2.2h-2.2zM1 9h2.2v2.2h-2.2zM15 2h2.2v2.2h-2.2zM12 4h2.2v2.2h-2.2zM19 18h2.2v2.2h-2.2zM-0 -2h2.2v2.2h-2.2zM18 5h2.2v2.2h-2.2zM10 3h2.2v2.2h-2.2zM-2 16h2.2v2.2h-2.2zM1 18h2.2v2.2h-2.2zM10 6h2.2v2.2h-2.2zM12 19h2.2v2.2h-2.2zM22 22h2.2v2.2h-2.2zM12 4h2.2v2.2h-2.2zM19 14h2.2v2.2h-2.2zM18 21h2.2v2.2h-2.2zM12 21h2.2v2.2h-2.2zM3 13h2.2v2.2h-2.2zM3 12h2.2v2.2h-2.2zM1 23h2.2v2.2h-2.2z" fill="#f2c4c8"/><path d="M19 14h2.2v2.2h-2.2zM15 6h2.2v2.2h-2.2zM14 23h2.2v2.2h-2.2zM6 -1h2.2v2.2h-2.2zM2 11h2.2v2.2h-2.2zM12 19h2.2v2.2h-2.2zM10 10h2.2v2.2h-2.2zM8 1h2.2v2.2h-2.2zM8 -1h2.2v2.2h-2.2zM18 16h2.2v2.2h-2.2zM15 -1h2.2v2.2h-2.2zM-1 13h2.2v2.2h-2.2zM14 -2h2.2v2.2h-2.2zM5 -2h2.2v2.2h-2.2zM3 19h2.2v2.2h-2.2zM18 3h2.2v2.2h-2.2zM20 14h2.2v2.2h-2.2z" fill="#f6d6da"/><path d="M8 2h2.2v2.2h-2.2zM3 20h2.2v2.2h-2.2zM22 13h2.2v2.2h-2.2zM3 17h2.2v2.2h-2.2zM0 23h2.2v2.2h-2.2zM-2 24h2.2v2.2h-2.2zM12 3h2.2v2.2h-2.2zM20 17h2.2v2.2h-2.2zM4 20h2.2v2.2h-2.2z" fill="#d8d0e8"/><path d="M9 5h2.2v2.2h-2.2zM1 16h2.2v2.2h-2.2zM20 10h2.2v2.2h-2.2zM1 8h2.2v2.2h-2.2zM7 11h2.2v2.2h-2.2zM0 -0h2.2v2.2h-2.2zM-1 18h2.2v2.2h-2.2zM-0 2h2.2v2.2h-2.2zM23 20h2.2v2.2h-2.2zM23 21h2.2v2.2h-2.2zM2 13h2.2v2.2h-2.2zM8 9h2.2v2.2h-2.2zM8 13h2.2v2.2h-2.2zM4 5h2.2v2.2h-2.2zM2 21h2.2v2.2h-2.2zM8 7h2.2v2.2h-2.2zM3 -1h2.2v2.2h-2.2zM8 23h2.2v2.2h-2.2zM11 -2h2.2v2.2h-2.2zM23 17h2.2v2.2h-2.2zM6 4h2.2v2.2h-2.2zM19 19h2.2v2.2h-2.2zM8 9h2.2v2.2h-2.2zM15 16h2.2v2.2h-2.2zM3 -0h2.2v2.2h-2.2zM15 5h2.2v2.2h-2.2zM24 1h2.2v2.2h-2.2zM23 14h2.2v2.2h-2.2zM14 3h2.2v2.2h-2.2zM6 3h2.2v2.2h-2.2zM24 22h2.2v2.2h-2.2zM4 18h2.2v2.2h-2.2zM19 24h2.2v2.2h-2.2zM3 15h2.2v2.2h-2.2zM3 16h2.2v2.2h-2.2zM17 2h2.2v2.2h-2.2zM16 12h2.2v2.2h-2.2zM18 2h2.2v2.2h-2.2zM22 -2h2.2v2.2h-2.2zM22 10h2.2v2.2h-2.2zM18 22h2.2v2.2h-2.2zM4 1h2.2v2.2h-2.2zM19 10h2.2v2.2h-2.2zM23 15h2.2v2.2h-2.2zM11 16h2.2v2.2h-2.2zM1 -1h2.2v2.2h-2.2z" fill="#f2c4c8"/><path d="M22 8h2.2v2.2h-2.2zM4 1h2.2v2.2h-2.2zM14 -1h2.2v2.2h-2.2zM15 14h2.2v2.2h-2.2zM13 9h2.2v2.2h-2.2zM10 21h2.2v2.2h-2.2zM7 16h2.2v2.2h-2.2zM3 5h2.2v2.2h-2.2zM5 17h2.2v2.2h-2.2zM23 10h2.2v2.2h-2.2zM14 17h2.2v2.2h-2.2zM6 21h2.2v2.2h-2.2zM11 13h2.2v2.2h-2.2zM3 3h2.2v2.2h-2.2zM21 10h2.2v2.2h-2.2zM8 17h2.2v2.2h-2.2zM7 5h2.2v2.2h-2.2z" fill="#f6d6da"/><path d="M22 17h2.2v2.2h-2.2zM21 4h2.2v2.2h-2.2zM-2 13h2.2v2.2h-2.2zM0 19h2.2v2.2h-2.2zM0 -1h2.2v2.2h-2.2zM-2 -0h2.2v2.2h-2.2zM23 11h2.2v2.2h-2.2zM21 8h2.2v2.2h-2.2zM17 4h2.2v2.2h-2.2z" fill="#d8d0e8"/></pattern><pattern id="pThy" width="24" height="24" patternUnits="userSpaceOnUse"><path d="M19 23h2.2v2.2h-2.2zM11 21h2.2v2.2h-2.2zM0 3h2.2v2.2h-2.2zM-1 22h2.2v2.2h-2.2zM4 14h2.2v2.2h-2.2zM22 22h2.2v2.2h-2.2zM1 16h2.2v2.2h-2.2zM0 8h2.2v2.2h-2.2zM12 0h2.2v2.2h-2.2zM22 -0h2.2v2.2h-2.2zM22 17h2.2v2.2h-2.2zM8 10h2.2v2.2h-2.2zM16 18h2.2v2.2h-2.2zM4 14h2.2v2.2h-2.2zM-0 3h2.2v2.2h-2.2zM13 5h2.2v2.2h-2.2zM14 17h2.2v2.2h-2.2zM17 12h2.2v2.2h-2.2zM3 11h2.2v2.2h-2.2zM14 21h2.2v2.2h-2.2zM15 24h2.2v2.2h-2.2zM8 13h2.2v2.2h-2.2zM2 12h2.2v2.2h-2.2zM5 14h2.2v2.2h-2.2zM-1 16h2.2v2.2h-2.2zM9 3h2.2v2.2h-2.2zM23 22h2.2v2.2h-2.2zM18 23h2.2v2.2h-2.2zM19 16h2.2v2.2h-2.2zM-2 0h2.2v2.2h-2.2zM1 2h2.2v2.2h-2.2zM7 23h2.2v2.2h-2.2z" fill="#6ab85a"/><path d="M5 2h2.2v2.2h-2.2zM-1 14h2.2v2.2h-2.2zM2 -2h2.2v2.2h-2.2zM7 24h2.2v2.2h-2.2zM20 12h2.2v2.2h-2.2z" fill="#c87bc0"/><path d="M2 22h2.2v2.2h-2.2zM2 10h2.2v2.2h-2.2zM8 14h2.2v2.2h-2.2zM13 8h2.2v2.2h-2.2z" fill="#3a9ee0"/><path d="M19 -1h2.2v2.2h-2.2zM19 19h2.2v2.2h-2.2zM5 13h2.2v2.2h-2.2zM9 4h2.2v2.2h-2.2zM2 11h2.2v2.2h-2.2zM22 -2h2.2v2.2h-2.2zM8 6h2.2v2.2h-2.2zM23 17h2.2v2.2h-2.2zM12 22h2.2v2.2h-2.2zM-2 24h2.2v2.2h-2.2zM-2 17h2.2v2.2h-2.2zM19 13h2.2v2.2h-2.2zM8 7h2.2v2.2h-2.2zM3 8h2.2v2.2h-2.2zM20 20h2.2v2.2h-2.2zM19 21h2.2v2.2h-2.2zM22 14h2.2v2.2h-2.2zM13 5h2.2v2.2h-2.2zM11 3h2.2v2.2h-2.2zM17 18h2.2v2.2h-2.2zM15 -0h2.2v2.2h-2.2zM18 2h2.2v2.2h-2.2zM11 17h2.2v2.2h-2.2zM2 2h2.2v2.2h-2.2zM15 6h2.2v2.2h-2.2zM21 23h2.2v2.2h-2.2zM23 -2h2.2v2.2h-2.2zM18 -1h2.2v2.2h-2.2zM3 2h2.2v2.2h-2.2zM7 23h2.2v2.2h-2.2zM14 21h2.2v2.2h-2.2zM7 -1h2.2v2.2h-2.2z" fill="#6ab85a"/><path d="M8 22h2.2v2.2h-2.2zM1 12h2.2v2.2h-2.2zM4 23h2.2v2.2h-2.2zM7 -0h2.2v2.2h-2.2zM9 2h2.2v2.2h-2.2z" fill="#c87bc0"/><path d="M2 22h2.2v2.2h-2.2zM23 6h2.2v2.2h-2.2zM3 6h2.2v2.2h-2.2zM17 11h2.2v2.2h-2.2z" fill="#3a9ee0"/><path d="M10 22h2.2v2.2h-2.2zM23 1h2.2v2.2h-2.2zM14 22h2.2v2.2h-2.2zM10 6h2.2v2.2h-2.2zM12 21h2.2v2.2h-2.2zM-2 22h2.2v2.2h-2.2zM19 4h2.2v2.2h-2.2zM-1 17h2.2v2.2h-2.2zM12 3h2.2v2.2h-2.2zM-2 -0h2.2v2.2h-2.2zM4 16h2.2v2.2h-2.2zM12 14h2.2v2.2h-2.2zM21 9h2.2v2.2h-2.2zM17 4h2.2v2.2h-2.2zM19 17h2.2v2.2h-2.2zM3 22h2.2v2.2h-2.2zM-2 14h2.2v2.2h-2.2zM8 9h2.2v2.2h-2.2zM18 3h2.2v2.2h-2.2zM5 12h2.2v2.2h-2.2zM6 2h2.2v2.2h-2.2zM3 22h2.2v2.2h-2.2zM10 21h2.2v2.2h-2.2zM15 5h2.2v2.2h-2.2zM6 18h2.2v2.2h-2.2zM21 -1h2.2v2.2h-2.2zM-1 22h2.2v2.2h-2.2zM11 11h2.2v2.2h-2.2zM15 21h2.2v2.2h-2.2zM7 -1h2.2v2.2h-2.2zM1 16h2.2v2.2h-2.2zM11 12h2.2v2.2h-2.2z" fill="#6ab85a"/><path d="M22 18h2.2v2.2h-2.2zM14 18h2.2v2.2h-2.2zM4 -1h2.2v2.2h-2.2zM17 14h2.2v2.2h-2.2z" fill="#c87bc0"/><path d="M2 -2h2.2v2.2h-2.2zM-1 6h2.2v2.2h-2.2zM0 19h2.2v2.2h-2.2z" fill="#3a9ee0"/><path d="M10 -2h2.2v2.2h-2.2zM-1 1h2.2v2.2h-2.2zM23 22h2.2v2.2h-2.2zM8 19h2.2v2.2h-2.2zM21 12h2.2v2.2h-2.2zM-2 -2h2.2v2.2h-2.2zM8 7h2.2v2.2h-2.2zM15 10h2.2v2.2h-2.2zM22 24h2.2v2.2h-2.2zM6 11h2.2v2.2h-2.2zM16 0h2.2v2.2h-2.2zM14 13h2.2v2.2h-2.2zM0 6h2.2v2.2h-2.2zM24 3h2.2v2.2h-2.2zM17 19h2.2v2.2h-2.2zM3 -2h2.2v2.2h-2.2zM4 5h2.2v2.2h-2.2zM22 8h2.2v2.2h-2.2zM13 3h2.2v2.2h-2.2zM3 16h2.2v2.2h-2.2zM19 18h2.2v2.2h-2.2zM3 -2h2.2v2.2h-2.2zM13 2h2.2v2.2h-2.2zM23 16h2.2v2.2h-2.2zM1 6h2.2v2.2h-2.2zM7 12h2.2v2.2h-2.2zM-1 -2h2.2v2.2h-2.2zM21 12h2.2v2.2h-2.2zM22 0h2.2v2.2h-2.2zM9 1h2.2v2.2h-2.2zM14 18h2.2v2.2h-2.2zM13 15h2.2v2.2h-2.2z" fill="#6ab85a"/><path d="M23 14h2.2v2.2h-2.2zM2 22h2.2v2.2h-2.2zM12 22h2.2v2.2h-2.2zM4 0h2.2v2.2h-2.2z" fill="#c87bc0"/><path d="M6 22h2.2v2.2h-2.2zM2 19h2.2v2.2h-2.2zM18 16h2.2v2.2h-2.2z" fill="#3a9ee0"/></pattern><pattern id="pBM" width="24" height="24" patternUnits="userSpaceOnUse"><path d="M7 23h2.4v2.4h-2.4zM5 13h2.4v2.4h-2.4zM23 0h2.4v2.4h-2.4zM4 3h2.4v2.4h-2.4zM3 6h2.4v2.4h-2.4zM7 9h2.4v2.4h-2.4zM20 8h2.4v2.4h-2.4zM13 8h2.4v2.4h-2.4zM22 23h2.4v2.4h-2.4zM2 1h2.4v2.4h-2.4zM24 15h2.4v2.4h-2.4zM22 8h2.4v2.4h-2.4zM10 19h2.4v2.4h-2.4zM19 2h2.4v2.4h-2.4zM4 11h2.4v2.4h-2.4zM10 15h2.4v2.4h-2.4zM3 22h2.4v2.4h-2.4zM15 17h2.4v2.4h-2.4zM-0 14h2.4v2.4h-2.4zM21 1h2.4v2.4h-2.4zM15 1h2.4v2.4h-2.4zM9 18h2.4v2.4h-2.4zM5 10h2.4v2.4h-2.4zM13 6h2.4v2.4h-2.4zM12 6h2.4v2.4h-2.4zM16 11h2.4v2.4h-2.4zM1 19h2.4v2.4h-2.4zM-0 6h2.4v2.4h-2.4zM13 4h2.4v2.4h-2.4zM22 1h2.4v2.4h-2.4zM17 13h2.4v2.4h-2.4zM5 18h2.4v2.4h-2.4zM11 6h2.4v2.4h-2.4zM11 13h2.4v2.4h-2.4zM-2 -2h2.4v2.4h-2.4zM6 -1h2.4v2.4h-2.4zM1 5h2.4v2.4h-2.4zM3 14h2.4v2.4h-2.4zM-1 23h2.4v2.4h-2.4zM10 20h2.4v2.4h-2.4zM0 10h2.4v2.4h-2.4zM11 19h2.4v2.4h-2.4zM15 7h2.4v2.4h-2.4zM20 20h2.4v2.4h-2.4zM5 1h2.4v2.4h-2.4zM2 -1h2.4v2.4h-2.4zM23 17h2.4v2.4h-2.4zM6 18h2.4v2.4h-2.4zM3 12h2.4v2.4h-2.4zM14 12h2.4v2.4h-2.4zM23 14h2.4v2.4h-2.4zM7 2h2.4v2.4h-2.4zM7 4h2.4v2.4h-2.4zM4 4h2.4v2.4h-2.4zM20 19h2.4v2.4h-2.4zM14 2h2.4v2.4h-2.4zM4 13h2.4v2.4h-2.4zM4 16h2.4v2.4h-2.4zM16 15h2.4v2.4h-2.4zM22 1h2.4v2.4h-2.4zM0 21h2.4v2.4h-2.4zM13 8h2.4v2.4h-2.4zM-1 13h2.4v2.4h-2.4zM11 -2h2.4v2.4h-2.4z" fill="#b82a2a"/><path d="M8 12h2.4v2.4h-2.4zM1 6h2.4v2.4h-2.4zM14 20h2.4v2.4h-2.4zM6 10h2.4v2.4h-2.4zM12 16h2.4v2.4h-2.4zM9 -2h2.4v2.4h-2.4zM7 20h2.4v2.4h-2.4zM20 5h2.4v2.4h-2.4zM-1 23h2.4v2.4h-2.4zM19 21h2.4v2.4h-2.4zM3 4h2.4v2.4h-2.4zM15 1h2.4v2.4h-2.4zM9 24h2.4v2.4h-2.4zM9 6h2.4v2.4h-2.4zM5 16h2.4v2.4h-2.4zM17 6h2.4v2.4h-2.4z" fill="#d04030"/><path d="M7 -1h2.4v2.4h-2.4zM14 8h2.4v2.4h-2.4zM-1 0h2.4v2.4h-2.4zM21 13h2.4v2.4h-2.4zM1 20h2.4v2.4h-2.4zM11 23h2.4v2.4h-2.4zM1 16h2.4v2.4h-2.4zM20 5h2.4v2.4h-2.4zM22 -1h2.4v2.4h-2.4zM3 18h2.4v2.4h-2.4zM-0 15h2.4v2.4h-2.4zM-2 8h2.4v2.4h-2.4zM2 12h2.4v2.4h-2.4zM13 9h2.4v2.4h-2.4zM0 9h2.4v2.4h-2.4zM20 18h2.4v2.4h-2.4zM3 -2h2.4v2.4h-2.4zM18 7h2.4v2.4h-2.4zM2 11h2.4v2.4h-2.4zM21 3h2.4v2.4h-2.4zM11 15h2.4v2.4h-2.4zM1 9h2.4v2.4h-2.4zM16 6h2.4v2.4h-2.4zM8 18h2.4v2.4h-2.4zM20 3h2.4v2.4h-2.4zM19 21h2.4v2.4h-2.4zM11 21h2.4v2.4h-2.4zM11 12h2.4v2.4h-2.4zM22 10h2.4v2.4h-2.4zM-2 1h2.4v2.4h-2.4zM21 9h2.4v2.4h-2.4zM13 8h2.4v2.4h-2.4zM4 15h2.4v2.4h-2.4zM22 22h2.4v2.4h-2.4zM0 8h2.4v2.4h-2.4zM18 1h2.4v2.4h-2.4zM12 15h2.4v2.4h-2.4zM18 17h2.4v2.4h-2.4zM-1 -1h2.4v2.4h-2.4zM3 0h2.4v2.4h-2.4zM8 23h2.4v2.4h-2.4zM15 14h2.4v2.4h-2.4zM4 14h2.4v2.4h-2.4zM15 0h2.4v2.4h-2.4zM16 14h2.4v2.4h-2.4zM16 16h2.4v2.4h-2.4zM-1 17h2.4v2.4h-2.4zM9 2h2.4v2.4h-2.4zM1 3h2.4v2.4h-2.4zM12 22h2.4v2.4h-2.4zM-1 14h2.4v2.4h-2.4zM5 17h2.4v2.4h-2.4zM14 24h2.4v2.4h-2.4zM17 10h2.4v2.4h-2.4zM23 1h2.4v2.4h-2.4zM7 20h2.4v2.4h-2.4zM10 14h2.4v2.4h-2.4zM11 16h2.4v2.4h-2.4zM8 9h2.4v2.4h-2.4zM-2 1h2.4v2.4h-2.4zM21 4h2.4v2.4h-2.4zM12 16h2.4v2.4h-2.4zM5 20h2.4v2.4h-2.4zM5 17h2.4v2.4h-2.4z" fill="#b82a2a"/><path d="M7 16h2.4v2.4h-2.4zM9 20h2.4v2.4h-2.4zM9 21h2.4v2.4h-2.4zM16 10h2.4v2.4h-2.4zM19 5h2.4v2.4h-2.4zM15 15h2.4v2.4h-2.4zM11 6h2.4v2.4h-2.4zM14 4h2.4v2.4h-2.4zM-1 -1h2.4v2.4h-2.4zM12 18h2.4v2.4h-2.4zM8 21h2.4v2.4h-2.4zM11 16h2.4v2.4h-2.4zM9 -0h2.4v2.4h-2.4zM7 14h2.4v2.4h-2.4zM17 7h2.4v2.4h-2.4zM22 13h2.4v2.4h-2.4z" fill="#d04030"/><path d="M21 3h2.4v2.4h-2.4zM7 22h2.4v2.4h-2.4zM22 3h2.4v2.4h-2.4zM13 8h2.4v2.4h-2.4zM8 15h2.4v2.4h-2.4zM11 -1h2.4v2.4h-2.4zM22 0h2.4v2.4h-2.4zM24 6h2.4v2.4h-2.4zM3 8h2.4v2.4h-2.4zM3 20h2.4v2.4h-2.4zM10 14h2.4v2.4h-2.4zM5 8h2.4v2.4h-2.4zM18 10h2.4v2.4h-2.4zM1 18h2.4v2.4h-2.4zM1 20h2.4v2.4h-2.4zM1 22h2.4v2.4h-2.4zM10 22h2.4v2.4h-2.4zM14 7h2.4v2.4h-2.4zM15 1h2.4v2.4h-2.4zM15 21h2.4v2.4h-2.4zM21 13h2.4v2.4h-2.4zM21 2h2.4v2.4h-2.4zM3 16h2.4v2.4h-2.4zM3 15h2.4v2.4h-2.4zM19 8h2.4v2.4h-2.4zM8 5h2.4v2.4h-2.4zM3 16h2.4v2.4h-2.4zM10 19h2.4v2.4h-2.4zM-2 10h2.4v2.4h-2.4zM8 5h2.4v2.4h-2.4zM9 18h2.4v2.4h-2.4zM15 20h2.4v2.4h-2.4zM16 19h2.4v2.4h-2.4zM22 -2h2.4v2.4h-2.4zM13 17h2.4v2.4h-2.4zM17 5h2.4v2.4h-2.4zM23 12h2.4v2.4h-2.4zM23 23h2.4v2.4h-2.4zM3 11h2.4v2.4h-2.4zM9 10h2.4v2.4h-2.4zM8 -1h2.4v2.4h-2.4zM2 15h2.4v2.4h-2.4zM3 24h2.4v2.4h-2.4zM1 22h2.4v2.4h-2.4zM10 0h2.4v2.4h-2.4zM18 19h2.4v2.4h-2.4zM16 3h2.4v2.4h-2.4zM18 0h2.4v2.4h-2.4zM10 0h2.4v2.4h-2.4zM12 -2h2.4v2.4h-2.4zM17 13h2.4v2.4h-2.4zM20 14h2.4v2.4h-2.4zM14 -0h2.4v2.4h-2.4zM4 19h2.4v2.4h-2.4zM-1 1h2.4v2.4h-2.4zM5 6h2.4v2.4h-2.4zM20 19h2.4v2.4h-2.4zM18 11h2.4v2.4h-2.4zM7 21h2.4v2.4h-2.4zM21 0h2.4v2.4h-2.4zM16 14h2.4v2.4h-2.4zM9 16h2.4v2.4h-2.4zM3 11h2.4v2.4h-2.4z" fill="#b82a2a"/><path d="M5 24h2.4v2.4h-2.4zM21 19h2.4v2.4h-2.4zM3 4h2.4v2.4h-2.4zM19 1h2.4v2.4h-2.4zM4 18h2.4v2.4h-2.4zM18 17h2.4v2.4h-2.4zM24 4h2.4v2.4h-2.4zM23 23h2.4v2.4h-2.4zM6 15h2.4v2.4h-2.4zM11 2h2.4v2.4h-2.4zM5 17h2.4v2.4h-2.4zM11 19h2.4v2.4h-2.4zM7 1h2.4v2.4h-2.4zM23 11h2.4v2.4h-2.4zM22 15h2.4v2.4h-2.4zM-2 13h2.4v2.4h-2.4z" fill="#d04030"/><path d="M2 12h2.4v2.4h-2.4zM7 -2h2.4v2.4h-2.4zM-2 3h2.4v2.4h-2.4zM16 7h2.4v2.4h-2.4zM8 9h2.4v2.4h-2.4zM20 16h2.4v2.4h-2.4zM-2 0h2.4v2.4h-2.4zM-0 6h2.4v2.4h-2.4zM7 4h2.4v2.4h-2.4zM14 6h2.4v2.4h-2.4zM13 5h2.4v2.4h-2.4zM14 20h2.4v2.4h-2.4zM12 2h2.4v2.4h-2.4zM5 2h2.4v2.4h-2.4zM6 7h2.4v2.4h-2.4zM14 9h2.4v2.4h-2.4zM8 10h2.4v2.4h-2.4zM24 14h2.4v2.4h-2.4zM3 21h2.4v2.4h-2.4zM5 1h2.4v2.4h-2.4zM15 9h2.4v2.4h-2.4zM18 10h2.4v2.4h-2.4zM20 2h2.4v2.4h-2.4zM0 6h2.4v2.4h-2.4zM7 16h2.4v2.4h-2.4zM17 2h2.4v2.4h-2.4zM24 6h2.4v2.4h-2.4zM6 5h2.4v2.4h-2.4zM15 1h2.4v2.4h-2.4zM12 15h2.4v2.4h-2.4zM15 16h2.4v2.4h-2.4zM13 20h2.4v2.4h-2.4zM13 19h2.4v2.4h-2.4zM-2 22h2.4v2.4h-2.4zM6 23h2.4v2.4h-2.4zM8 9h2.4v2.4h-2.4zM-1 12h2.4v2.4h-2.4zM23 -1h2.4v2.4h-2.4zM20 3h2.4v2.4h-2.4zM8 13h2.4v2.4h-2.4zM3 6h2.4v2.4h-2.4zM21 18h2.4v2.4h-2.4zM3 -0h2.4v2.4h-2.4zM1 -2h2.4v2.4h-2.4zM2 23h2.4v2.4h-2.4zM2 2h2.4v2.4h-2.4zM10 17h2.4v2.4h-2.4zM7 16h2.4v2.4h-2.4zM22 2h2.4v2.4h-2.4zM11 8h2.4v2.4h-2.4zM10 2h2.4v2.4h-2.4zM18 10h2.4v2.4h-2.4zM12 18h2.4v2.4h-2.4zM15 22h2.4v2.4h-2.4zM21 19h2.4v2.4h-2.4zM7 9h2.4v2.4h-2.4zM5 3h2.4v2.4h-2.4zM2 5h2.4v2.4h-2.4zM2 8h2.4v2.4h-2.4zM12 3h2.4v2.4h-2.4zM7 9h2.4v2.4h-2.4zM23 13h2.4v2.4h-2.4zM11 22h2.4v2.4h-2.4z" fill="#b82a2a"/><path d="M5 -0h2.4v2.4h-2.4zM8 8h2.4v2.4h-2.4zM2 6h2.4v2.4h-2.4zM19 12h2.4v2.4h-2.4zM9 22h2.4v2.4h-2.4zM8 3h2.4v2.4h-2.4zM-0 4h2.4v2.4h-2.4zM23 -1h2.4v2.4h-2.4zM19 2h2.4v2.4h-2.4zM6 7h2.4v2.4h-2.4zM10 16h2.4v2.4h-2.4zM9 1h2.4v2.4h-2.4zM0 13h2.4v2.4h-2.4zM-1 11h2.4v2.4h-2.4zM-2 15h2.4v2.4h-2.4z" fill="#d04030"/></pattern><pattern id="pDJ" width="24" height="24" patternUnits="userSpaceOnUse"><path d="M2 22h2.2v2.2h-2.2zM2 13h2.2v2.2h-2.2zM3 6h2.2v2.2h-2.2zM5 10h2.2v2.2h-2.2zM22 22h2.2v2.2h-2.2zM15 22h2.2v2.2h-2.2zM7 0h2.2v2.2h-2.2zM12 21h2.2v2.2h-2.2zM15 -1h2.2v2.2h-2.2zM15 1h2.2v2.2h-2.2zM18 8h2.2v2.2h-2.2z" fill="#e87a9a"/><path d="M14 19h2.2v2.2h-2.2zM-2 20h2.2v2.2h-2.2zM10 24h2.2v2.2h-2.2zM11 21h2.2v2.2h-2.2zM3 14h2.2v2.2h-2.2zM22 8h2.2v2.2h-2.2zM4 11h2.2v2.2h-2.2zM9 12h2.2v2.2h-2.2zM16 8h2.2v2.2h-2.2zM23 9h2.2v2.2h-2.2zM0 14h2.2v2.2h-2.2zM-1 24h2.2v2.2h-2.2z" fill="#c8a0d8"/><path d="M14 0h2.2v2.2h-2.2zM23 18h2.2v2.2h-2.2zM18 19h2.2v2.2h-2.2zM4 7h2.2v2.2h-2.2zM6 3h2.2v2.2h-2.2zM0 8h2.2v2.2h-2.2zM23 16h2.2v2.2h-2.2zM14 20h2.2v2.2h-2.2zM10 19h2.2v2.2h-2.2z" fill="#8fc080"/><path d="M5 3h2.2v2.2h-2.2zM22 15h2.2v2.2h-2.2zM15 -0h2.2v2.2h-2.2zM4 11h2.2v2.2h-2.2zM11 -0h2.2v2.2h-2.2zM11 9h2.2v2.2h-2.2zM20 12h2.2v2.2h-2.2zM14 13h2.2v2.2h-2.2z" fill="#80a8d8"/><path d="M5 8h2.2v2.2h-2.2zM13 18h2.2v2.2h-2.2zM0 21h2.2v2.2h-2.2zM20 4h2.2v2.2h-2.2zM13 10h2.2v2.2h-2.2zM2 17h2.2v2.2h-2.2z" fill="#e0c080"/><path d="M10 20h2.2v2.2h-2.2zM6 12h2.2v2.2h-2.2zM-2 23h2.2v2.2h-2.2zM-0 14h2.2v2.2h-2.2zM18 18h2.2v2.2h-2.2zM7 14h2.2v2.2h-2.2z" fill="#f0b8c8"/><path d="M2 -2h2.2v2.2h-2.2zM16 2h2.2v2.2h-2.2zM9 1h2.2v2.2h-2.2zM3 7h2.2v2.2h-2.2zM22 -2h2.2v2.2h-2.2zM15 -2h2.2v2.2h-2.2zM10 22h2.2v2.2h-2.2zM10 14h2.2v2.2h-2.2zM10 20h2.2v2.2h-2.2zM8 10h2.2v2.2h-2.2zM9 20h2.2v2.2h-2.2z" fill="#e87a9a"/><path d="M16 7h2.2v2.2h-2.2zM3 15h2.2v2.2h-2.2zM10 -0h2.2v2.2h-2.2zM11 0h2.2v2.2h-2.2zM22 18h2.2v2.2h-2.2zM11 5h2.2v2.2h-2.2zM23 12h2.2v2.2h-2.2zM2 0h2.2v2.2h-2.2zM22 6h2.2v2.2h-2.2zM-1 9h2.2v2.2h-2.2zM17 13h2.2v2.2h-2.2zM-1 -0h2.2v2.2h-2.2z" fill="#c8a0d8"/><path d="M12 15h2.2v2.2h-2.2zM-1 18h2.2v2.2h-2.2zM2 8h2.2v2.2h-2.2zM14 7h2.2v2.2h-2.2zM10 13h2.2v2.2h-2.2zM14 9h2.2v2.2h-2.2zM-1 16h2.2v2.2h-2.2zM9 8h2.2v2.2h-2.2z" fill="#8fc080"/><path d="M20 19h2.2v2.2h-2.2zM-2 15h2.2v2.2h-2.2zM19 17h2.2v2.2h-2.2zM23 21h2.2v2.2h-2.2zM2 5h2.2v2.2h-2.2zM7 19h2.2v2.2h-2.2zM18 16h2.2v2.2h-2.2zM24 11h2.2v2.2h-2.2z" fill="#80a8d8"/><path d="M8 16h2.2v2.2h-2.2zM17 2h2.2v2.2h-2.2zM23 21h2.2v2.2h-2.2zM14 23h2.2v2.2h-2.2zM22 8h2.2v2.2h-2.2zM9 1h2.2v2.2h-2.2z" fill="#e0c080"/><path d="M16 20h2.2v2.2h-2.2zM8 10h2.2v2.2h-2.2zM-2 -1h2.2v2.2h-2.2zM5 23h2.2v2.2h-2.2zM19 7h2.2v2.2h-2.2z" fill="#f0b8c8"/><path d="M2 1h2.2v2.2h-2.2zM4 21h2.2v2.2h-2.2zM21 11h2.2v2.2h-2.2zM12 21h2.2v2.2h-2.2zM5 17h2.2v2.2h-2.2zM0 22h2.2v2.2h-2.2zM10 -2h2.2v2.2h-2.2zM1 20h2.2v2.2h-2.2zM19 9h2.2v2.2h-2.2zM17 24h2.2v2.2h-2.2zM15 16h2.2v2.2h-2.2z" fill="#e87a9a"/><path d="M1 1h2.2v2.2h-2.2zM20 12h2.2v2.2h-2.2zM9 2h2.2v2.2h-2.2zM14 1h2.2v2.2h-2.2zM-2 18h2.2v2.2h-2.2zM17 11h2.2v2.2h-2.2zM-1 12h2.2v2.2h-2.2zM9 13h2.2v2.2h-2.2zM-2 6h2.2v2.2h-2.2zM8 17h2.2v2.2h-2.2zM23 24h2.2v2.2h-2.2zM20 22h2.2v2.2h-2.2z" fill="#c8a0d8"/><path d="M8 10h2.2v2.2h-2.2zM8 18h2.2v2.2h-2.2zM1 10h2.2v2.2h-2.2zM14 23h2.2v2.2h-2.2zM10 2h2.2v2.2h-2.2zM20 7h2.2v2.2h-2.2zM22 14h2.2v2.2h-2.2zM15 8h2.2v2.2h-2.2z" fill="#8fc080"/><path d="M24 9h2.2v2.2h-2.2zM2 19h2.2v2.2h-2.2zM13 23h2.2v2.2h-2.2zM-1 21h2.2v2.2h-2.2zM3 13h2.2v2.2h-2.2zM20 15h2.2v2.2h-2.2zM10 22h2.2v2.2h-2.2zM-0 11h2.2v2.2h-2.2z" fill="#80a8d8"/><path d="M1 23h2.2v2.2h-2.2zM14 11h2.2v2.2h-2.2zM-1 21h2.2v2.2h-2.2zM14 -1h2.2v2.2h-2.2zM-2 8h2.2v2.2h-2.2z" fill="#e0c080"/><path d="M14 19h2.2v2.2h-2.2zM22 23h2.2v2.2h-2.2zM15 18h2.2v2.2h-2.2zM5 -1h2.2v2.2h-2.2zM17 1h2.2v2.2h-2.2z" fill="#f0b8c8"/><path d="M12 17h2.2v2.2h-2.2zM7 2h2.2v2.2h-2.2zM20 6h2.2v2.2h-2.2zM1 12h2.2v2.2h-2.2zM5 8h2.2v2.2h-2.2zM0 -2h2.2v2.2h-2.2zM10 14h2.2v2.2h-2.2zM15 23h2.2v2.2h-2.2zM20 2h2.2v2.2h-2.2zM17 -0h2.2v2.2h-2.2z" fill="#e87a9a"/><path d="M22 20h2.2v2.2h-2.2zM16 1h2.2v2.2h-2.2zM19 12h2.2v2.2h-2.2zM22 10h2.2v2.2h-2.2zM4 4h2.2v2.2h-2.2zM14 14h2.2v2.2h-2.2zM20 11h2.2v2.2h-2.2zM0 17h2.2v2.2h-2.2zM5 19h2.2v2.2h-2.2zM8 4h2.2v2.2h-2.2zM23 -0h2.2v2.2h-2.2zM20 -2h2.2v2.2h-2.2z" fill="#c8a0d8"/><path d="M1 3h2.2v2.2h-2.2zM7 19h2.2v2.2h-2.2zM0 8h2.2v2.2h-2.2zM14 -1h2.2v2.2h-2.2zM6 6h2.2v2.2h-2.2zM18 13h2.2v2.2h-2.2zM-2 14h2.2v2.2h-2.2zM15 8h2.2v2.2h-2.2z" fill="#8fc080"/><path d="M-0 9h2.2v2.2h-2.2zM15 24h2.2v2.2h-2.2zM13 -1h2.2v2.2h-2.2zM11 24h2.2v2.2h-2.2zM4 18h2.2v2.2h-2.2zM7 20h2.2v2.2h-2.2zM10 -2h2.2v2.2h-2.2z" fill="#80a8d8"/><path d="M1 -1h2.2v2.2h-2.2zM10 9h2.2v2.2h-2.2zM21 3h2.2v2.2h-2.2zM17 12h2.2v2.2h-2.2zM18 16h2.2v2.2h-2.2z" fill="#e0c080"/><path d="M8 18h2.2v2.2h-2.2zM22 -1h2.2v2.2h-2.2zM24 14h2.2v2.2h-2.2zM18 17h2.2v2.2h-2.2zM16 8h2.2v2.2h-2.2z" fill="#f0b8c8"/></pattern><pattern id="pDJg" width="24" height="24" patternUnits="userSpaceOnUse"><path d="M12 21h2.2v2.2h-2.2zM0 18h2.2v2.2h-2.2zM10 2h2.2v2.2h-2.2zM11 9h2.2v2.2h-2.2zM15 23h2.2v2.2h-2.2zM7 7h2.2v2.2h-2.2zM-2 7h2.2v2.2h-2.2zM17 15h2.2v2.2h-2.2zM20 15h2.2v2.2h-2.2zM-1 7h2.2v2.2h-2.2zM10 13h2.2v2.2h-2.2zM4 5h2.2v2.2h-2.2zM2 -1h2.2v2.2h-2.2zM21 -0h2.2v2.2h-2.2zM-0 9h2.2v2.2h-2.2zM18 11h2.2v2.2h-2.2zM0 10h2.2v2.2h-2.2zM11 13h2.2v2.2h-2.2zM7 13h2.2v2.2h-2.2zM20 10h2.2v2.2h-2.2zM24 22h2.2v2.2h-2.2zM7 12h2.2v2.2h-2.2zM5 17h2.2v2.2h-2.2zM7 21h2.2v2.2h-2.2zM0 10h2.2v2.2h-2.2zM17 5h2.2v2.2h-2.2zM2 3h2.2v2.2h-2.2zM22 2h2.2v2.2h-2.2zM15 2h2.2v2.2h-2.2zM16 18h2.2v2.2h-2.2zM5 19h2.2v2.2h-2.2zM24 17h2.2v2.2h-2.2zM17 0h2.2v2.2h-2.2zM15 20h2.2v2.2h-2.2zM20 -2h2.2v2.2h-2.2zM-1 9h2.2v2.2h-2.2zM10 9h2.2v2.2h-2.2zM5 24h2.2v2.2h-2.2zM23 0h2.2v2.2h-2.2zM10 9h2.2v2.2h-2.2zM23 24h2.2v2.2h-2.2zM21 7h2.2v2.2h-2.2zM23 11h2.2v2.2h-2.2zM12 17h2.2v2.2h-2.2zM19 10h2.2v2.2h-2.2zM16 15h2.2v2.2h-2.2zM5 7h2.2v2.2h-2.2zM11 8h2.2v2.2h-2.2zM8 12h2.2v2.2h-2.2zM21 -2h2.2v2.2h-2.2z" fill="#7cc070"/><path d="M13 21h2.2v2.2h-2.2zM9 22h2.2v2.2h-2.2zM7 12h2.2v2.2h-2.2zM4 -2h2.2v2.2h-2.2zM3 18h2.2v2.2h-2.2zM21 23h2.2v2.2h-2.2zM2 1h2.2v2.2h-2.2zM9 15h2.2v2.2h-2.2zM-1 21h2.2v2.2h-2.2zM14 19h2.2v2.2h-2.2zM16 0h2.2v2.2h-2.2zM1 16h2.2v2.2h-2.2zM13 6h2.2v2.2h-2.2zM22 -0h2.2v2.2h-2.2zM21 15h2.2v2.2h-2.2z" fill="#8fc080"/><path d="M10 2h2.2v2.2h-2.2zM17 23h2.2v2.2h-2.2zM22 20h2.2v2.2h-2.2zM7 3h2.2v2.2h-2.2zM18 -1h2.2v2.2h-2.2zM16 5h2.2v2.2h-2.2zM10 20h2.2v2.2h-2.2zM22 6h2.2v2.2h-2.2zM11 3h2.2v2.2h-2.2z" fill="#c8a0d8"/><path d="M11 20h2.2v2.2h-2.2zM0 22h2.2v2.2h-2.2zM15 2h2.2v2.2h-2.2zM15 14h2.2v2.2h-2.2zM15 -1h2.2v2.2h-2.2zM16 14h2.2v2.2h-2.2zM1 16h2.2v2.2h-2.2zM23 4h2.2v2.2h-2.2zM18 11h2.2v2.2h-2.2zM5 17h2.2v2.2h-2.2zM22 11h2.2v2.2h-2.2zM14 2h2.2v2.2h-2.2zM16 5h2.2v2.2h-2.2zM12 18h2.2v2.2h-2.2zM13 4h2.2v2.2h-2.2zM7 18h2.2v2.2h-2.2zM22 20h2.2v2.2h-2.2zM3 9h2.2v2.2h-2.2zM6 18h2.2v2.2h-2.2zM23 11h2.2v2.2h-2.2zM-0 22h2.2v2.2h-2.2zM6 8h2.2v2.2h-2.2zM7 14h2.2v2.2h-2.2zM4 22h2.2v2.2h-2.2zM22 17h2.2v2.2h-2.2zM10 8h2.2v2.2h-2.2zM24 14h2.2v2.2h-2.2zM22 2h2.2v2.2h-2.2zM21 24h2.2v2.2h-2.2zM15 24h2.2v2.2h-2.2zM22 8h2.2v2.2h-2.2zM-0 17h2.2v2.2h-2.2zM12 21h2.2v2.2h-2.2zM16 22h2.2v2.2h-2.2zM9 24h2.2v2.2h-2.2zM17 8h2.2v2.2h-2.2zM22 14h2.2v2.2h-2.2zM5 -0h2.2v2.2h-2.2zM-1 0h2.2v2.2h-2.2zM10 0h2.2v2.2h-2.2zM23 -0h2.2v2.2h-2.2zM22 6h2.2v2.2h-2.2zM-1 11h2.2v2.2h-2.2zM10 20h2.2v2.2h-2.2zM23 15h2.2v2.2h-2.2zM10 21h2.2v2.2h-2.2zM14 13h2.2v2.2h-2.2zM2 11h2.2v2.2h-2.2zM23 11h2.2v2.2h-2.2zM21 22h2.2v2.2h-2.2z" fill="#7cc070"/><path d="M13 21h2.2v2.2h-2.2zM9 -2h2.2v2.2h-2.2zM8 16h2.2v2.2h-2.2zM12 10h2.2v2.2h-2.2zM21 21h2.2v2.2h-2.2zM21 -1h2.2v2.2h-2.2zM1 5h2.2v2.2h-2.2zM14 5h2.2v2.2h-2.2zM10 24h2.2v2.2h-2.2zM9 8h2.2v2.2h-2.2zM8 12h2.2v2.2h-2.2zM17 18h2.2v2.2h-2.2zM5 13h2.2v2.2h-2.2zM8 5h2.2v2.2h-2.2z" fill="#8fc080"/><path d="M17 19h2.2v2.2h-2.2zM17 -1h2.2v2.2h-2.2zM6 4h2.2v2.2h-2.2zM5 1h2.2v2.2h-2.2zM6 24h2.2v2.2h-2.2zM19 24h2.2v2.2h-2.2zM7 4h2.2v2.2h-2.2zM22 19h2.2v2.2h-2.2z" fill="#c8a0d8"/><path d="M5 11h2.2v2.2h-2.2zM15 19h2.2v2.2h-2.2zM6 9h2.2v2.2h-2.2zM11 22h2.2v2.2h-2.2zM23 8h2.2v2.2h-2.2zM17 11h2.2v2.2h-2.2zM21 6h2.2v2.2h-2.2zM-1 4h2.2v2.2h-2.2zM11 16h2.2v2.2h-2.2zM10 21h2.2v2.2h-2.2zM-2 11h2.2v2.2h-2.2zM20 11h2.2v2.2h-2.2zM14 5h2.2v2.2h-2.2zM18 3h2.2v2.2h-2.2zM17 10h2.2v2.2h-2.2zM18 21h2.2v2.2h-2.2zM-2 20h2.2v2.2h-2.2zM17 16h2.2v2.2h-2.2zM5 11h2.2v2.2h-2.2zM-1 11h2.2v2.2h-2.2zM2 22h2.2v2.2h-2.2zM2 12h2.2v2.2h-2.2zM21 3h2.2v2.2h-2.2zM4 -2h2.2v2.2h-2.2zM-2 17h2.2v2.2h-2.2zM18 6h2.2v2.2h-2.2zM-0 14h2.2v2.2h-2.2zM-2 2h2.2v2.2h-2.2zM21 -0h2.2v2.2h-2.2zM15 -0h2.2v2.2h-2.2zM-2 8h2.2v2.2h-2.2zM8 23h2.2v2.2h-2.2zM17 12h2.2v2.2h-2.2zM16 -2h2.2v2.2h-2.2zM9 -0h2.2v2.2h-2.2zM2 10h2.2v2.2h-2.2zM-2 14h2.2v2.2h-2.2zM0 7h2.2v2.2h-2.2zM7 20h2.2v2.2h-2.2zM10 0h2.2v2.2h-2.2zM-1 24h2.2v2.2h-2.2zM12 21h2.2v2.2h-2.2zM9 16h2.2v2.2h-2.2zM4 21h2.2v2.2h-2.2zM-1 15h2.2v2.2h-2.2zM7 7h2.2v2.2h-2.2zM13 7h2.2v2.2h-2.2zM4 3h2.2v2.2h-2.2zM-1 11h2.2v2.2h-2.2zM8 0h2.2v2.2h-2.2z" fill="#7cc070"/><path d="M7 18h2.2v2.2h-2.2zM0 23h2.2v2.2h-2.2zM16 7h2.2v2.2h-2.2zM4 19h2.2v2.2h-2.2zM0 21h2.2v2.2h-2.2zM11 0h2.2v2.2h-2.2zM3 4h2.2v2.2h-2.2zM19 6h2.2v2.2h-2.2zM10 -0h2.2v2.2h-2.2zM12 7h2.2v2.2h-2.2zM10 0h2.2v2.2h-2.2zM16 14h2.2v2.2h-2.2zM12 11h2.2v2.2h-2.2zM13 23h2.2v2.2h-2.2z" fill="#8fc080"/><path d="M1 5h2.2v2.2h-2.2zM14 5h2.2v2.2h-2.2zM21 0h2.2v2.2h-2.2zM15 0h2.2v2.2h-2.2zM6 -0h2.2v2.2h-2.2zM19 -0h2.2v2.2h-2.2zM9 20h2.2v2.2h-2.2zM-2 19h2.2v2.2h-2.2z" fill="#c8a0d8"/><path d="M2 9h2.2v2.2h-2.2zM19 11h2.2v2.2h-2.2zM7 8h2.2v2.2h-2.2zM11 -2h2.2v2.2h-2.2zM-1 8h2.2v2.2h-2.2zM22 7h2.2v2.2h-2.2zM20 18h2.2v2.2h-2.2zM3 7h2.2v2.2h-2.2zM23 7h2.2v2.2h-2.2zM1 3h2.2v2.2h-2.2zM13 9h2.2v2.2h-2.2zM2 23h2.2v2.2h-2.2zM21 24h2.2v2.2h-2.2zM24 9h2.2v2.2h-2.2zM13 10h2.2v2.2h-2.2zM4 11h2.2v2.2h-2.2zM15 17h2.2v2.2h-2.2zM17 3h2.2v2.2h-2.2zM7 12h2.2v2.2h-2.2zM17 6h2.2v2.2h-2.2zM2 -2h2.2v2.2h-2.2zM21 4h2.2v2.2h-2.2zM4 4h2.2v2.2h-2.2zM6 21h2.2v2.2h-2.2zM3 10h2.2v2.2h-2.2zM11 9h2.2v2.2h-2.2zM5 1h2.2v2.2h-2.2zM17 4h2.2v2.2h-2.2zM2 3h2.2v2.2h-2.2zM13 13h2.2v2.2h-2.2zM17 19h2.2v2.2h-2.2zM8 -1h2.2v2.2h-2.2zM5 14h2.2v2.2h-2.2zM20 22h2.2v2.2h-2.2zM23 9h2.2v2.2h-2.2zM8 20h2.2v2.2h-2.2zM6 15h2.2v2.2h-2.2zM7 15h2.2v2.2h-2.2zM20 21h2.2v2.2h-2.2zM22 9h2.2v2.2h-2.2zM-1 -0h2.2v2.2h-2.2zM14 11h2.2v2.2h-2.2zM4 8h2.2v2.2h-2.2zM2 16h2.2v2.2h-2.2zM13 5h2.2v2.2h-2.2zM3 17h2.2v2.2h-2.2zM9 2h2.2v2.2h-2.2zM14 14h2.2v2.2h-2.2zM21 22h2.2v2.2h-2.2zM13 22h2.2v2.2h-2.2z" fill="#7cc070"/><path d="M20 8h2.2v2.2h-2.2zM0 -1h2.2v2.2h-2.2zM4 22h2.2v2.2h-2.2zM19 1h2.2v2.2h-2.2zM17 9h2.2v2.2h-2.2zM15 8h2.2v2.2h-2.2zM10 20h2.2v2.2h-2.2zM23 21h2.2v2.2h-2.2zM14 20h2.2v2.2h-2.2zM11 14h2.2v2.2h-2.2zM14 16h2.2v2.2h-2.2zM9 14h2.2v2.2h-2.2zM22 24h2.2v2.2h-2.2zM13 -1h2.2v2.2h-2.2z" fill="#8fc080"/><path d="M2 21h2.2v2.2h-2.2zM20 15h2.2v2.2h-2.2zM11 6h2.2v2.2h-2.2zM18 23h2.2v2.2h-2.2zM20 13h2.2v2.2h-2.2zM18 18h2.2v2.2h-2.2zM18 16h2.2v2.2h-2.2zM9 13h2.2v2.2h-2.2z" fill="#c8a0d8"/></pattern><pattern id="pDJr" width="24" height="24" patternUnits="userSpaceOnUse"><path d="M18 6h2.2v2.2h-2.2zM-2 15h2.2v2.2h-2.2zM8 9h2.2v2.2h-2.2zM21 5h2.2v2.2h-2.2zM9 -1h2.2v2.2h-2.2zM15 19h2.2v2.2h-2.2zM19 17h2.2v2.2h-2.2zM19 17h2.2v2.2h-2.2zM13 14h2.2v2.2h-2.2zM21 17h2.2v2.2h-2.2zM20 16h2.2v2.2h-2.2zM11 15h2.2v2.2h-2.2zM21 16h2.2v2.2h-2.2zM3 4h2.2v2.2h-2.2zM12 23h2.2v2.2h-2.2zM12 10h2.2v2.2h-2.2zM7 16h2.2v2.2h-2.2zM-0 -1h2.2v2.2h-2.2zM19 10h2.2v2.2h-2.2zM1 -2h2.2v2.2h-2.2zM16 7h2.2v2.2h-2.2zM23 4h2.2v2.2h-2.2zM15 20h2.2v2.2h-2.2zM16 13h2.2v2.2h-2.2zM2 1h2.2v2.2h-2.2zM17 1h2.2v2.2h-2.2zM17 -1h2.2v2.2h-2.2zM8 3h2.2v2.2h-2.2zM2 5h2.2v2.2h-2.2zM16 -0h2.2v2.2h-2.2zM2 23h2.2v2.2h-2.2zM16 6h2.2v2.2h-2.2zM7 12h2.2v2.2h-2.2zM24 10h2.2v2.2h-2.2zM23 6h2.2v2.2h-2.2zM19 8h2.2v2.2h-2.2zM10 7h2.2v2.2h-2.2zM5 -1h2.2v2.2h-2.2z" fill="#e8486a"/><path d="M21 17h2.2v2.2h-2.2zM3 14h2.2v2.2h-2.2zM3 3h2.2v2.2h-2.2zM-2 19h2.2v2.2h-2.2zM15 20h2.2v2.2h-2.2zM23 16h2.2v2.2h-2.2zM8 9h2.2v2.2h-2.2zM-0 -1h2.2v2.2h-2.2zM7 10h2.2v2.2h-2.2zM24 6h2.2v2.2h-2.2zM24 19h2.2v2.2h-2.2zM9 9h2.2v2.2h-2.2zM17 11h2.2v2.2h-2.2zM9 13h2.2v2.2h-2.2zM9 13h2.2v2.2h-2.2zM9 7h2.2v2.2h-2.2zM14 6h2.2v2.2h-2.2zM6 22h2.2v2.2h-2.2zM9 22h2.2v2.2h-2.2zM19 7h2.2v2.2h-2.2zM12 22h2.2v2.2h-2.2zM6 23h2.2v2.2h-2.2zM12 14h2.2v2.2h-2.2zM18 15h2.2v2.2h-2.2zM-1 17h2.2v2.2h-2.2zM8 13h2.2v2.2h-2.2zM0 8h2.2v2.2h-2.2zM13 9h2.2v2.2h-2.2z" fill="#e87a9a"/><path d="M23 10h2.2v2.2h-2.2zM1 19h2.2v2.2h-2.2zM8 12h2.2v2.2h-2.2zM8 -1h2.2v2.2h-2.2zM10 0h2.2v2.2h-2.2zM2 4h2.2v2.2h-2.2zM4 4h2.2v2.2h-2.2z" fill="#c8a0d8"/><path d="M17 6h2.2v2.2h-2.2zM15 5h2.2v2.2h-2.2zM18 20h2.2v2.2h-2.2zM4 16h2.2v2.2h-2.2zM4 16h2.2v2.2h-2.2zM15 23h2.2v2.2h-2.2zM12 4h2.2v2.2h-2.2zM4 15h2.2v2.2h-2.2zM0 23h2.2v2.2h-2.2zM16 10h2.2v2.2h-2.2zM24 12h2.2v2.2h-2.2zM0 20h2.2v2.2h-2.2zM21 12h2.2v2.2h-2.2zM0 1h2.2v2.2h-2.2zM12 -1h2.2v2.2h-2.2zM17 6h2.2v2.2h-2.2zM24 23h2.2v2.2h-2.2zM15 2h2.2v2.2h-2.2zM13 7h2.2v2.2h-2.2zM3 19h2.2v2.2h-2.2zM18 6h2.2v2.2h-2.2zM-1 4h2.2v2.2h-2.2zM7 16h2.2v2.2h-2.2zM22 1h2.2v2.2h-2.2zM16 13h2.2v2.2h-2.2zM9 20h2.2v2.2h-2.2zM3 12h2.2v2.2h-2.2zM1 14h2.2v2.2h-2.2zM10 15h2.2v2.2h-2.2zM0 1h2.2v2.2h-2.2zM2 -1h2.2v2.2h-2.2zM9 20h2.2v2.2h-2.2zM18 11h2.2v2.2h-2.2zM-0 10h2.2v2.2h-2.2zM-1 6h2.2v2.2h-2.2zM10 21h2.2v2.2h-2.2zM21 16h2.2v2.2h-2.2z" fill="#e8486a"/><path d="M14 6h2.2v2.2h-2.2zM4 18h2.2v2.2h-2.2zM0 4h2.2v2.2h-2.2zM14 20h2.2v2.2h-2.2zM22 22h2.2v2.2h-2.2zM-1 16h2.2v2.2h-2.2zM24 23h2.2v2.2h-2.2zM8 12h2.2v2.2h-2.2zM7 11h2.2v2.2h-2.2zM-0 6h2.2v2.2h-2.2zM-0 19h2.2v2.2h-2.2zM4 17h2.2v2.2h-2.2zM15 24h2.2v2.2h-2.2zM21 22h2.2v2.2h-2.2zM5 1h2.2v2.2h-2.2zM6 18h2.2v2.2h-2.2zM21 5h2.2v2.2h-2.2zM6 -2h2.2v2.2h-2.2zM9 -2h2.2v2.2h-2.2zM8 2h2.2v2.2h-2.2zM12 -2h2.2v2.2h-2.2zM6 -1h2.2v2.2h-2.2zM13 13h2.2v2.2h-2.2zM19 24h2.2v2.2h-2.2zM2 17h2.2v2.2h-2.2zM8 4h2.2v2.2h-2.2zM13 15h2.2v2.2h-2.2zM16 11h2.2v2.2h-2.2z" fill="#e87a9a"/><path d="M-1 10h2.2v2.2h-2.2zM22 7h2.2v2.2h-2.2zM12 6h2.2v2.2h-2.2zM8 7h2.2v2.2h-2.2zM5 21h2.2v2.2h-2.2zM19 19h2.2v2.2h-2.2zM19 8h2.2v2.2h-2.2z" fill="#c8a0d8"/><path d="M13 11h2.2v2.2h-2.2zM19 9h2.2v2.2h-2.2zM14 18h2.2v2.2h-2.2zM15 5h2.2v2.2h-2.2zM20 10h2.2v2.2h-2.2zM15 -1h2.2v2.2h-2.2zM19 21h2.2v2.2h-2.2zM20 13h2.2v2.2h-2.2zM0 -1h2.2v2.2h-2.2zM18 16h2.2v2.2h-2.2zM-0 12h2.2v2.2h-2.2zM21 10h2.2v2.2h-2.2zM8 8h2.2v2.2h-2.2zM0 8h2.2v2.2h-2.2zM4 19h2.2v2.2h-2.2zM8 13h2.2v2.2h-2.2zM24 -1h2.2v2.2h-2.2zM22 1h2.2v2.2h-2.2zM4 21h2.2v2.2h-2.2zM19 3h2.2v2.2h-2.2zM17 22h2.2v2.2h-2.2zM10 6h2.2v2.2h-2.2zM8 5h2.2v2.2h-2.2zM-2 1h2.2v2.2h-2.2zM23 13h2.2v2.2h-2.2zM16 16h2.2v2.2h-2.2zM4 8h2.2v2.2h-2.2zM17 3h2.2v2.2h-2.2zM5 10h2.2v2.2h-2.2zM2 5h2.2v2.2h-2.2zM10 6h2.2v2.2h-2.2zM0 13h2.2v2.2h-2.2zM21 17h2.2v2.2h-2.2zM2 21h2.2v2.2h-2.2zM9 22h2.2v2.2h-2.2zM16 13h2.2v2.2h-2.2zM3 1h2.2v2.2h-2.2z" fill="#e8486a"/><path d="M4 18h2.2v2.2h-2.2zM8 20h2.2v2.2h-2.2zM18 21h2.2v2.2h-2.2zM1 24h2.2v2.2h-2.2zM24 17h2.2v2.2h-2.2zM24 20h2.2v2.2h-2.2zM24 -1h2.2v2.2h-2.2zM18 10h2.2v2.2h-2.2zM16 13h2.2v2.2h-2.2zM13 23h2.2v2.2h-2.2zM8 4h2.2v2.2h-2.2zM8 22h2.2v2.2h-2.2zM15 -0h2.2v2.2h-2.2zM21 -2h2.2v2.2h-2.2zM2 17h2.2v2.2h-2.2zM7 18h2.2v2.2h-2.2zM6 23h2.2v2.2h-2.2zM13 9h2.2v2.2h-2.2zM1 14h2.2v2.2h-2.2zM11 18h2.2v2.2h-2.2zM8 15h2.2v2.2h-2.2zM20 6h2.2v2.2h-2.2zM8 23h2.2v2.2h-2.2zM19 -0h2.2v2.2h-2.2zM24 14h2.2v2.2h-2.2zM4 3h2.2v2.2h-2.2zM5 6h2.2v2.2h-2.2zM2 19h2.2v2.2h-2.2z" fill="#e87a9a"/><path d="M9 23h2.2v2.2h-2.2zM-2 7h2.2v2.2h-2.2zM7 3h2.2v2.2h-2.2zM22 7h2.2v2.2h-2.2zM13 0h2.2v2.2h-2.2zM14 8h2.2v2.2h-2.2zM2 5h2.2v2.2h-2.2z" fill="#c8a0d8"/><path d="M22 15h2.2v2.2h-2.2zM12 8h2.2v2.2h-2.2zM19 1h2.2v2.2h-2.2zM9 23h2.2v2.2h-2.2zM2 16h2.2v2.2h-2.2zM19 14h2.2v2.2h-2.2zM20 3h2.2v2.2h-2.2zM0 11h2.2v2.2h-2.2zM11 11h2.2v2.2h-2.2zM5 21h2.2v2.2h-2.2zM3 4h2.2v2.2h-2.2zM4 13h2.2v2.2h-2.2zM20 5h2.2v2.2h-2.2zM18 8h2.2v2.2h-2.2zM12 10h2.2v2.2h-2.2zM18 10h2.2v2.2h-2.2zM-0 23h2.2v2.2h-2.2zM17 6h2.2v2.2h-2.2zM1 22h2.2v2.2h-2.2zM14 20h2.2v2.2h-2.2zM16 5h2.2v2.2h-2.2zM9 13h2.2v2.2h-2.2zM10 5h2.2v2.2h-2.2zM5 14h2.2v2.2h-2.2zM-1 13h2.2v2.2h-2.2zM17 23h2.2v2.2h-2.2zM15 11h2.2v2.2h-2.2zM10 20h2.2v2.2h-2.2zM16 24h2.2v2.2h-2.2zM19 7h2.2v2.2h-2.2zM20 17h2.2v2.2h-2.2zM9 5h2.2v2.2h-2.2zM4 8h2.2v2.2h-2.2zM18 13h2.2v2.2h-2.2zM9 -2h2.2v2.2h-2.2zM19 14h2.2v2.2h-2.2zM5 23h2.2v2.2h-2.2z" fill="#e8486a"/><path d="M17 5h2.2v2.2h-2.2zM11 11h2.2v2.2h-2.2zM22 19h2.2v2.2h-2.2zM1 -0h2.2v2.2h-2.2zM-0 17h2.2v2.2h-2.2zM-0 20h2.2v2.2h-2.2zM-0 23h2.2v2.2h-2.2zM1 16h2.2v2.2h-2.2zM15 16h2.2v2.2h-2.2zM13 -1h2.2v2.2h-2.2zM21 13h2.2v2.2h-2.2zM8 -2h2.2v2.2h-2.2zM6 20h2.2v2.2h-2.2zM9 18h2.2v2.2h-2.2zM17 8h2.2v2.2h-2.2zM20 17h2.2v2.2h-2.2zM6 -1h2.2v2.2h-2.2zM3 9h2.2v2.2h-2.2zM11 20h2.2v2.2h-2.2zM1 8h2.2v2.2h-2.2zM8 13h2.2v2.2h-2.2zM11 2h2.2v2.2h-2.2zM8 -1h2.2v2.2h-2.2zM23 17h2.2v2.2h-2.2zM-0 14h2.2v2.2h-2.2zM6 4h2.2v2.2h-2.2zM1 6h2.2v2.2h-2.2zM13 18h2.2v2.2h-2.2z" fill="#e87a9a"/><path d="M9 -1h2.2v2.2h-2.2zM13 1h2.2v2.2h-2.2zM8 23h2.2v2.2h-2.2zM-2 7h2.2v2.2h-2.2zM3 13h2.2v2.2h-2.2zM4 17h2.2v2.2h-2.2z" fill="#c8a0d8"/></pattern><pattern id="pDJp" width="24" height="24" patternUnits="userSpaceOnUse"><path d="M6 13h2.2v2.2h-2.2zM9 -0h2.2v2.2h-2.2zM-2 22h2.2v2.2h-2.2zM15 -1h2.2v2.2h-2.2zM15 20h2.2v2.2h-2.2zM21 19h2.2v2.2h-2.2zM15 14h2.2v2.2h-2.2zM7 1h2.2v2.2h-2.2zM6 12h2.2v2.2h-2.2zM16 20h2.2v2.2h-2.2zM8 1h2.2v2.2h-2.2zM2 15h2.2v2.2h-2.2zM3 9h2.2v2.2h-2.2zM2 14h2.2v2.2h-2.2zM5 4h2.2v2.2h-2.2zM8 7h2.2v2.2h-2.2zM1 3h2.2v2.2h-2.2zM-1 13h2.2v2.2h-2.2zM-1 22h2.2v2.2h-2.2zM7 20h2.2v2.2h-2.2zM14 11h2.2v2.2h-2.2zM2 -1h2.2v2.2h-2.2zM21 1h2.2v2.2h-2.2zM11 3h2.2v2.2h-2.2zM10 21h2.2v2.2h-2.2zM-2 1h2.2v2.2h-2.2zM6 12h2.2v2.2h-2.2zM4 5h2.2v2.2h-2.2zM17 10h2.2v2.2h-2.2zM8 21h2.2v2.2h-2.2zM14 7h2.2v2.2h-2.2zM-2 3h2.2v2.2h-2.2zM13 11h2.2v2.2h-2.2zM20 7h2.2v2.2h-2.2zM23 16h2.2v2.2h-2.2zM11 6h2.2v2.2h-2.2zM6 17h2.2v2.2h-2.2zM8 23h2.2v2.2h-2.2z" fill="#c090d8"/><path d="M14 8h2.2v2.2h-2.2zM-1 11h2.2v2.2h-2.2zM22 21h2.2v2.2h-2.2zM21 16h2.2v2.2h-2.2zM19 2h2.2v2.2h-2.2zM24 9h2.2v2.2h-2.2zM4 20h2.2v2.2h-2.2zM6 -1h2.2v2.2h-2.2zM11 13h2.2v2.2h-2.2zM13 22h2.2v2.2h-2.2zM11 20h2.2v2.2h-2.2zM22 5h2.2v2.2h-2.2zM14 6h2.2v2.2h-2.2zM23 7h2.2v2.2h-2.2zM23 15h2.2v2.2h-2.2zM15 3h2.2v2.2h-2.2zM14 3h2.2v2.2h-2.2zM20 11h2.2v2.2h-2.2zM15 21h2.2v2.2h-2.2zM6 13h2.2v2.2h-2.2zM-1 22h2.2v2.2h-2.2zM22 10h2.2v2.2h-2.2zM17 -2h2.2v2.2h-2.2zM20 16h2.2v2.2h-2.2zM-2 6h2.2v2.2h-2.2z" fill="#80a8d8"/><path d="M4 5h2.2v2.2h-2.2zM23 1h2.2v2.2h-2.2zM9 7h2.2v2.2h-2.2zM14 0h2.2v2.2h-2.2zM4 11h2.2v2.2h-2.2zM-1 20h2.2v2.2h-2.2zM14 20h2.2v2.2h-2.2zM17 -2h2.2v2.2h-2.2zM12 23h2.2v2.2h-2.2zM18 4h2.2v2.2h-2.2z" fill="#e87a9a"/><path d="M3 19h2.2v2.2h-2.2zM17 19h2.2v2.2h-2.2zM-2 -2h2.2v2.2h-2.2zM21 16h2.2v2.2h-2.2zM13 10h2.2v2.2h-2.2zM17 9h2.2v2.2h-2.2zM23 17h2.2v2.2h-2.2zM22 14h2.2v2.2h-2.2zM23 8h2.2v2.2h-2.2zM2 23h2.2v2.2h-2.2zM13 20h2.2v2.2h-2.2zM11 3h2.2v2.2h-2.2zM2 2h2.2v2.2h-2.2zM17 10h2.2v2.2h-2.2zM1 5h2.2v2.2h-2.2zM12 24h2.2v2.2h-2.2zM16 10h2.2v2.2h-2.2zM20 14h2.2v2.2h-2.2zM-1 -2h2.2v2.2h-2.2zM20 13h2.2v2.2h-2.2zM5 4h2.2v2.2h-2.2zM1 7h2.2v2.2h-2.2zM18 7h2.2v2.2h-2.2zM19 1h2.2v2.2h-2.2zM9 24h2.2v2.2h-2.2zM23 9h2.2v2.2h-2.2zM13 18h2.2v2.2h-2.2zM11 0h2.2v2.2h-2.2zM14 3h2.2v2.2h-2.2zM18 13h2.2v2.2h-2.2zM15 3h2.2v2.2h-2.2zM2 7h2.2v2.2h-2.2zM9 10h2.2v2.2h-2.2zM10 13h2.2v2.2h-2.2zM-1 16h2.2v2.2h-2.2zM9 23h2.2v2.2h-2.2zM8 8h2.2v2.2h-2.2zM8 -1h2.2v2.2h-2.2z" fill="#c090d8"/><path d="M14 14h2.2v2.2h-2.2zM22 4h2.2v2.2h-2.2zM-2 21h2.2v2.2h-2.2zM16 8h2.2v2.2h-2.2zM22 13h2.2v2.2h-2.2zM-0 9h2.2v2.2h-2.2zM2 21h2.2v2.2h-2.2zM23 13h2.2v2.2h-2.2zM4 1h2.2v2.2h-2.2zM13 -2h2.2v2.2h-2.2zM20 21h2.2v2.2h-2.2zM-2 5h2.2v2.2h-2.2zM4 22h2.2v2.2h-2.2zM-1 7h2.2v2.2h-2.2zM-1 15h2.2v2.2h-2.2zM19 16h2.2v2.2h-2.2zM15 6h2.2v2.2h-2.2zM13 12h2.2v2.2h-2.2zM3 18h2.2v2.2h-2.2zM3 14h2.2v2.2h-2.2zM-1 -2h2.2v2.2h-2.2zM-2 10h2.2v2.2h-2.2zM12 19h2.2v2.2h-2.2zM21 22h2.2v2.2h-2.2z" fill="#80a8d8"/><path d="M22 18h2.2v2.2h-2.2zM-1 1h2.2v2.2h-2.2zM3 5h2.2v2.2h-2.2zM9 9h2.2v2.2h-2.2zM1 13h2.2v2.2h-2.2zM19 5h2.2v2.2h-2.2zM8 17h2.2v2.2h-2.2zM6 7h2.2v2.2h-2.2zM12 -1h2.2v2.2h-2.2zM8 13h2.2v2.2h-2.2z" fill="#e87a9a"/><path d="M21 2h2.2v2.2h-2.2zM22 22h2.2v2.2h-2.2zM2 11h2.2v2.2h-2.2zM24 14h2.2v2.2h-2.2zM14 3h2.2v2.2h-2.2zM3 19h2.2v2.2h-2.2zM-1 17h2.2v2.2h-2.2zM-2 14h2.2v2.2h-2.2zM-1 8h2.2v2.2h-2.2zM2 -1h2.2v2.2h-2.2zM11 19h2.2v2.2h-2.2zM19 14h2.2v2.2h-2.2zM19 17h2.2v2.2h-2.2zM17 8h2.2v2.2h-2.2zM0 20h2.2v2.2h-2.2zM12 -0h2.2v2.2h-2.2zM15 8h2.2v2.2h-2.2zM23 22h2.2v2.2h-2.2zM4 4h2.2v2.2h-2.2zM10 1h2.2v2.2h-2.2zM9 2h2.2v2.2h-2.2zM6 19h2.2v2.2h-2.2zM4 15h2.2v2.2h-2.2zM23 1h2.2v2.2h-2.2zM9 -0h2.2v2.2h-2.2zM-1 9h2.2v2.2h-2.2zM20 5h2.2v2.2h-2.2zM4 16h2.2v2.2h-2.2zM4 6h2.2v2.2h-2.2zM14 19h2.2v2.2h-2.2zM16 9h2.2v2.2h-2.2zM22 14h2.2v2.2h-2.2zM6 9h2.2v2.2h-2.2zM20 15h2.2v2.2h-2.2zM20 0h2.2v2.2h-2.2zM9 -1h2.2v2.2h-2.2zM13 8h2.2v2.2h-2.2zM2 2h2.2v2.2h-2.2z" fill="#c090d8"/><path d="M14 20h2.2v2.2h-2.2zM5 17h2.2v2.2h-2.2zM20 19h2.2v2.2h-2.2zM14 3h2.2v2.2h-2.2zM5 7h2.2v2.2h-2.2zM6 0h2.2v2.2h-2.2zM5 19h2.2v2.2h-2.2zM-1 13h2.2v2.2h-2.2zM19 3h2.2v2.2h-2.2zM0 7h2.2v2.2h-2.2zM22 15h2.2v2.2h-2.2zM11 6h2.2v2.2h-2.2zM4 -2h2.2v2.2h-2.2zM7 8h2.2v2.2h-2.2zM17 4h2.2v2.2h-2.2zM6 20h2.2v2.2h-2.2zM18 21h2.2v2.2h-2.2zM10 18h2.2v2.2h-2.2zM11 8h2.2v2.2h-2.2zM23 22h2.2v2.2h-2.2zM4 17h2.2v2.2h-2.2zM1 4h2.2v2.2h-2.2zM9 10h2.2v2.2h-2.2zM21 -2h2.2v2.2h-2.2z" fill="#80a8d8"/><path d="M19 18h2.2v2.2h-2.2zM12 20h2.2v2.2h-2.2zM10 16h2.2v2.2h-2.2zM7 13h2.2v2.2h-2.2zM9 5h2.2v2.2h-2.2zM6 16h2.2v2.2h-2.2zM21 11h2.2v2.2h-2.2zM14 17h2.2v2.2h-2.2zM1 13h2.2v2.2h-2.2z" fill="#e87a9a"/><path d="M9 24h2.2v2.2h-2.2zM22 -2h2.2v2.2h-2.2zM15 23h2.2v2.2h-2.2zM-0 14h2.2v2.2h-2.2zM3 10h2.2v2.2h-2.2zM5 7h2.2v2.2h-2.2zM16 4h2.2v2.2h-2.2zM12 20h2.2v2.2h-2.2zM12 12h2.2v2.2h-2.2zM2 9h2.2v2.2h-2.2zM20 6h2.2v2.2h-2.2zM16 22h2.2v2.2h-2.2zM19 8h2.2v2.2h-2.2zM11 21h2.2v2.2h-2.2zM21 16h2.2v2.2h-2.2zM14 16h2.2v2.2h-2.2zM23 13h2.2v2.2h-2.2zM23 -2h2.2v2.2h-2.2zM4 19h2.2v2.2h-2.2zM11 9h2.2v2.2h-2.2zM2 23h2.2v2.2h-2.2zM6 4h2.2v2.2h-2.2zM10 15h2.2v2.2h-2.2zM-1 1h2.2v2.2h-2.2zM22 1h2.2v2.2h-2.2zM9 5h2.2v2.2h-2.2zM19 17h2.2v2.2h-2.2zM20 4h2.2v2.2h-2.2zM10 9h2.2v2.2h-2.2zM17 15h2.2v2.2h-2.2zM22 3h2.2v2.2h-2.2zM-2 14h2.2v2.2h-2.2zM14 6h2.2v2.2h-2.2zM15 17h2.2v2.2h-2.2zM15 20h2.2v2.2h-2.2zM15 4h2.2v2.2h-2.2zM7 19h2.2v2.2h-2.2z" fill="#c090d8"/><path d="M23 11h2.2v2.2h-2.2zM1 1h2.2v2.2h-2.2zM10 7h2.2v2.2h-2.2zM12 4h2.2v2.2h-2.2zM6 16h2.2v2.2h-2.2zM10 12h2.2v2.2h-2.2zM6 23h2.2v2.2h-2.2zM3 9h2.2v2.2h-2.2zM4 13h2.2v2.2h-2.2zM9 20h2.2v2.2h-2.2zM3 10h2.2v2.2h-2.2zM12 2h2.2v2.2h-2.2zM2 22h2.2v2.2h-2.2zM15 0h2.2v2.2h-2.2zM17 8h2.2v2.2h-2.2zM13 14h2.2v2.2h-2.2zM16 2h2.2v2.2h-2.2zM16 7h2.2v2.2h-2.2zM19 15h2.2v2.2h-2.2zM23 -2h2.2v2.2h-2.2zM2 13h2.2v2.2h-2.2zM17 22h2.2v2.2h-2.2zM16 17h2.2v2.2h-2.2zM22 6h2.2v2.2h-2.2z" fill="#80a8d8"/><path d="M1 14h2.2v2.2h-2.2zM18 9h2.2v2.2h-2.2zM11 13h2.2v2.2h-2.2zM8 11h2.2v2.2h-2.2zM23 20h2.2v2.2h-2.2zM17 14h2.2v2.2h-2.2zM17 22h2.2v2.2h-2.2zM19 14h2.2v2.2h-2.2zM10 12h2.2v2.2h-2.2z" fill="#e87a9a"/></pattern></defs>
<rect width="1983" height="2517" fill="#fff"/>
<text x="8.0" y="52.0" font-size="29.5">a</text>
<text x="277.0" y="30.5" font-size="20" textLength="167.0" lengthAdjust="spacingAndGlyphs">Tissue dissociation</text>
<text x="525.0" y="17.5" font-size="20" textLength="108.0" lengthAdjust="spacingAndGlyphs">Cell staining</text>
<text x="532.0" y="40.0" font-size="20" textLength="99.0" lengthAdjust="spacingAndGlyphs">and sorting</text>
<text x="741.0" y="31.0" font-size="20" textLength="180.0" lengthAdjust="spacingAndGlyphs">Single-cell RNA-seq</text>
<text x="54.0" y="178.0" font-size="22.5" textLength="194.0" lengthAdjust="spacingAndGlyphs">CD45+ enrichment</text>
<text x="113.0" y="205.0" font-size="22.5" textLength="83.0" lengthAdjust="spacingAndGlyphs">strategy</text>
<text x="383.0" y="363.0" font-size="20" textLength="134.0" lengthAdjust="spacingAndGlyphs">CD45+ fraction</text>
<text x="385.0" y="388.0" font-size="20" textLength="131.0" lengthAdjust="spacingAndGlyphs">(immune cells)</text>
<text x="642.0" y="364.0" font-size="20" textLength="129.0" lengthAdjust="spacingAndGlyphs">CD45- fraction</text>
<path d="M486.0,157.5 L496.0,162.0 L486.0,166.5 Z" fill="#000"/>
<path d="M709.0,160.0 L719.0,164.5 L709.0,169.0 Z" fill="#000"/>
<path d="M524.5,89.0 L524.5,160.0 L560.5,225.0 L560.5,298.6" fill="none" stroke="#000" stroke-width="2"/>
<path d="M641.6,89.0 L641.6,160.0 L603.8,225.0 L603.8,298.6" fill="none" stroke="#000" stroke-width="2"/>
<circle cx="333.7" cy="72.6" r="10.0" fill="#f3c8b0" stroke="#e8b9a2" stroke-width="0.8"/>
<circle cx="333.7" cy="72.6" r="4.5" fill="#eab09a"/>
<path d="M335.8,103.4 L325.1,105.4 L319.6,114.8 L317.6,104.1 L308.2,98.6 L318.9,96.6 L324.4,87.2 L326.4,97.9 Z" fill="#3f8f3a" stroke="#5a9a4a" stroke-width="0.6"/>
<circle cx="322.0" cy="101.0" r="2.5" fill="#1f6a24"/>
<path d="M365.0,102.5 L361.6,104.7 L363.3,108.4 L359.2,108.5 L358.6,112.5 L355.1,110.3 L352.4,113.4 L350.7,109.7 L346.8,110.8 L347.3,106.8 L343.4,105.6 L346.1,102.5 L343.4,99.4 L347.3,98.2 L346.8,94.2 L350.7,95.3 L352.4,91.6 L355.1,94.7 L358.6,92.5 L359.2,96.5 L363.3,96.6 L361.6,100.3 Z" fill="#f6c4d2" stroke="#f0b0c0" stroke-width="0.5"/>
<circle cx="354.0" cy="102.5" r="3.8" fill="#f0a0b8"/>
<circle cx="397.5" cy="99.5" r="11.0" fill="#fadbe6" stroke="#f5c5d5" stroke-width="0.8"/>
<circle cx="397.5" cy="99.5" r="5.0" fill="#f29ab8"/>
<circle cx="330.8" cy="127.3" r="11.0" fill="#fbe0a8" stroke="#f3d9a0" stroke-width="0.8"/>
<circle cx="330.8" cy="127.3" r="5.0" fill="#f7c98f"/>
<path d="M386.4,135.0 L372.5,140.1 L367.4,154.0 L362.3,140.1 L348.4,135.0 L362.3,129.9 L367.4,116.0 L372.5,129.9 Z" fill="#7cc46a" stroke="#5a9a4a" stroke-width="0.6"/>
<circle cx="367.4" cy="135.0" r="3.4" fill="#4ea040"/>
<path d="M419.7,139.5 L409.7,137.8 L401.9,144.3 L403.6,134.3 L397.1,126.5 L407.1,128.2 L414.9,121.7 L413.2,131.7 Z" fill="#3f8f3a" stroke="#5a9a4a" stroke-width="0.6"/>
<circle cx="408.4" cy="133.0" r="2.3" fill="#1f6a24"/>
<path d="M343.6,170.1 L335.2,163.1 L324.5,165.0 L331.5,156.6 L329.6,145.9 L338.0,152.9 L348.7,151.0 L341.7,159.4 Z" fill="#3f8f3a" stroke="#5a9a4a" stroke-width="0.6"/>
<circle cx="336.6" cy="158.0" r="2.5" fill="#1f6a24"/>
<circle cx="366.0" cy="164.0" r="10.0" fill="#f3c8b0" stroke="#e8b9a2" stroke-width="0.8"/>
<circle cx="366.0" cy="164.0" r="4.5" fill="#eab09a"/>
<circle cx="397.5" cy="164.0" r="11.0" fill="#fadbe6" stroke="#f5c5d5" stroke-width="0.8"/>
<circle cx="397.5" cy="164.0" r="5.0" fill="#f29ab8"/>
<path d="M316.0,208.0 L311.2,194.8 L298.0,190.0 L311.2,185.2 L316.0,172.0 L320.8,185.2 L334.0,190.0 L320.8,194.8 Z" fill="#9fd48e" stroke="#5a9a4a" stroke-width="0.6"/>
<circle cx="316.0" cy="190.0" r="3.2" fill="#6ab45a"/>
<circle cx="345.4" cy="186.8" r="11.0" fill="#fbe0a8" stroke="#f3d9a0" stroke-width="0.8"/>
<circle cx="345.4" cy="186.8" r="5.0" fill="#f7c98f"/>
<ellipse cx="392.3" cy="190.9" rx="26" ry="4" fill="#4cc94a"/>
<path d="M373.1,221.3 L359.1,222.5 L351.0,234.0 L349.8,220.0 L338.3,211.9 L352.3,210.7 L360.4,199.2 L361.6,213.2 Z" fill="#7cc46a" stroke="#5a9a4a" stroke-width="0.6"/>
<circle cx="355.7" cy="216.6" r="3.2" fill="#4ea040"/>
<path d="M404.0,235.2 L396.4,226.8 L386.8,220.7 L397.9,218.4 L408.0,213.0 L404.5,223.9 Z" fill="#3f8f3a" stroke="#5a9a4a" stroke-width="0.6"/>
<circle cx="399.6" cy="223.0" r="2.3" fill="#1f6a24"/>
<path d="M372.5,250.3 L369.1,252.5 L370.8,256.2 L366.7,256.3 L366.1,260.3 L362.6,258.1 L359.9,261.2 L358.2,257.5 L354.3,258.6 L354.8,254.6 L350.9,253.4 L353.6,250.3 L350.9,247.2 L354.8,246.0 L354.3,242.0 L358.2,243.1 L359.9,239.4 L362.6,242.5 L366.1,240.3 L366.7,244.3 L370.8,244.4 L369.1,248.1 Z" fill="#f6c4d2" stroke="#f0b0c0" stroke-width="0.5"/>
<circle cx="361.5" cy="250.3" r="3.8" fill="#f0a0b8"/>
<circle cx="554.6" cy="68.8" r="12.0" fill="#f3c8b0" stroke="#e8b9a2" stroke-width="0.8"/>
<circle cx="554.6" cy="68.8" r="5.4" fill="#eab09a"/>
<g transform="translate(535.0,56.0) rotate(-30)"><path d="M-6,-6 L0,0 L6,-6 M0,0 L0,7" stroke="#2b6fa0" stroke-width="3" fill="none"/><rect x="-3" y="7" width="6" height="5" fill="#ddd" stroke="#999" stroke-width="0.6"/></g>
<path d="M613.5,76.7 L609.8,79.1 L611.6,83.2 L607.2,83.2 L606.5,87.6 L602.7,85.3 L599.8,88.6 L597.9,84.6 L593.6,85.8 L594.2,81.4 L590.0,80.1 L592.9,76.7 L590.0,73.3 L594.2,72.0 L593.6,67.6 L597.9,68.8 L599.8,64.8 L602.7,68.1 L606.5,65.8 L607.2,70.2 L611.6,70.2 L609.8,74.3 Z" fill="#f7c090" stroke="#efb080" stroke-width="0.5"/>
<circle cx="601.5" cy="76.7" r="4.2" fill="#efa070"/>
<g transform="translate(620.0,60.0) rotate(30)"><path d="M-6,-6 L0,0 L6,-6 M0,0 L0,7" stroke="#2b6fa0" stroke-width="3" fill="none"/><rect x="-3" y="7" width="6" height="5" fill="#ddd" stroke="#999" stroke-width="0.6"/></g>
<path d="M550.8,142.7 L542.9,129.2 L527.6,126.5 L541.1,118.6 L543.8,103.3 L551.7,116.8 L567.0,119.5 L553.5,127.4 Z" fill="#7cc46a" stroke="#5a9a4a" stroke-width="0.6"/>
<circle cx="547.3" cy="123.0" r="3.6" fill="#4ea040"/>
<circle cx="606.0" cy="128.8" r="12.0" fill="#fbe0a8" stroke="#f3d9a0" stroke-width="0.8"/>
<circle cx="606.0" cy="128.8" r="5.4" fill="#f7c98f"/>
<g transform="translate(589.0,112.0) rotate(-20)"><path d="M-6,-6 L0,0 L6,-6 M0,0 L0,7" stroke="#2b6fa0" stroke-width="3" fill="none"/><rect x="-3" y="7" width="6" height="5" fill="#ddd" stroke="#999" stroke-width="0.6"/></g>
<circle cx="563.4" cy="168.3" r="13.0" fill="#fadbe6" stroke="#f5c5d5" stroke-width="0.8"/>
<circle cx="563.4" cy="168.3" r="5.9" fill="#f29ab8"/>
<g transform="translate(588.0,165.0) rotate(60)"><path d="M-6,-6 L0,0 L6,-6 M0,0 L0,7" stroke="#2b6fa0" stroke-width="3" fill="none"/><rect x="-3" y="7" width="6" height="5" fill="#ddd" stroke="#999" stroke-width="0.6"/></g>
<path d="M612.0,204.5 L599.6,204.5 L591.5,214.0 L591.5,201.6 L582.0,193.5 L594.4,193.5 L602.5,184.0 L602.5,196.4 Z" fill="#3f8f3a" stroke="#5a9a4a" stroke-width="0.6"/>
<circle cx="597.0" cy="199.0" r="2.9" fill="#1f6a24"/>
<path d="M593.5,241.5 L590.1,243.7 L591.8,247.4 L587.7,247.5 L587.1,251.5 L583.6,249.3 L580.9,252.4 L579.2,248.7 L575.3,249.8 L575.8,245.8 L571.9,244.6 L574.6,241.5 L571.9,238.4 L575.8,237.2 L575.3,233.2 L579.2,234.3 L580.9,230.6 L583.6,233.7 L587.1,231.5 L587.7,235.5 L591.8,235.6 L590.1,239.3 Z" fill="#f7c090" stroke="#efb080" stroke-width="0.5"/>
<circle cx="582.5" cy="241.5" r="3.8" fill="#efa070"/>
<g transform="translate(577.0,222.0) rotate(10)"><path d="M-6,-6 L0,0 L6,-6 M0,0 L0,7" stroke="#2b6fa0" stroke-width="3" fill="none"/><rect x="-3" y="7" width="6" height="5" fill="#ddd" stroke="#999" stroke-width="0.6"/></g>
<path d="M597.5,282.5 L586.5,286.5 L582.5,297.5 L578.5,286.5 L567.5,282.5 L578.5,278.5 L582.5,267.5 L586.5,278.5 Z" fill="#7cc46a" stroke="#5a9a4a" stroke-width="0.6"/>
<circle cx="582.5" cy="282.5" r="2.7" fill="#4ea040"/>
<path d="M545.0,327.9 L542.5,329.5 L543.7,332.2 L540.8,332.3 L540.3,335.2 L537.8,333.6 L535.9,335.8 L534.6,333.1 L531.8,333.9 L532.2,331.0 L529.3,330.2 L531.2,327.9 L529.3,325.6 L532.2,324.8 L531.8,321.9 L534.6,322.7 L535.9,320.0 L537.8,322.2 L540.3,320.6 L540.8,323.5 L543.7,323.6 L542.5,326.3 Z" fill="#f7c090" stroke="#efb080" stroke-width="0.5"/>
<circle cx="537.0" cy="327.9" r="2.8" fill="#efa070"/>
<path d="M630.0,330.7 L624.3,328.0 L618.6,330.7 L621.3,325.0 L618.6,319.3 L624.3,322.0 L630.0,319.3 L627.3,325.0 Z" fill="#7cc46a" stroke="#5a9a4a" stroke-width="0.6"/>
<circle cx="624.3" cy="325.0" r="1.4" fill="#4ea040"/>
<path d="M752.0,85.0 L768.0,85.0 L768.0,109.2 L760.0,129.0 L752.0,109.2 Z" fill="#f6cba8" stroke="#c9c9c9" stroke-width="0.6"/>
<rect x="751.0" y="83.0" width="18.0" height="3.0" fill="#b9cfd8"/>
<path d="M750.0,83.0 L740.0,72.0 L734.0,73.0" fill="none" stroke="#9a9a9a" stroke-width="1.5"/>
<path d="M752.0,160.0 L768.0,160.0 L768.0,183.1 L760.0,202.0 L752.0,183.1 Z" fill="#8fd47a" stroke="#c9c9c9" stroke-width="0.6"/>
<rect x="751.0" y="158.0" width="18.0" height="3.0" fill="#b9cfd8"/>
<path d="M750.0,158.0 L740.0,147.0 L734.0,148.0" fill="none" stroke="#9a9a9a" stroke-width="1.5"/>
<path d="M532.0,347.0 L548.0,347.0 L548.0,371.2 L540.0,391.0 L532.0,371.2 Z" fill="#f6cba8" stroke="#c9c9c9" stroke-width="0.6"/>
<rect x="531.0" y="345.0" width="18.0" height="3.0" fill="#b9cfd8"/>
<path d="M530.0,345.0 L520.0,334.0 L514.0,335.0" fill="none" stroke="#9a9a9a" stroke-width="1.5"/>
<path d="M617.0,349.0 L633.0,349.0 L633.0,372.1 L625.0,391.0 L617.0,372.1 Z" fill="#8fd47a" stroke="#c9c9c9" stroke-width="0.6"/>
<rect x="616.0" y="347.0" width="18.0" height="3.0" fill="#b9cfd8"/>
<path d="M615.0,347.0 L605.0,336.0 L599.0,337.0" fill="none" stroke="#9a9a9a" stroke-width="1.5"/>
<rect x="788.8" y="92.0" width="5.5" height="92.0" fill="#d5d8d9"/>
<path d="M789.0,163.0 L882.0,163.0 L882.0,188.0 L789.0,183.0 Z" fill="#8e9296"/>
<path d="M793.8,90.7 L881.6,83.0 L881.6,164.0 L793.8,164.0 Z" fill="#3d4043"/>
<path d="M793.8,90.7 L881.6,83.0 L881.6,85.5 L793.8,93.0 Z" fill="#2a2c2e"/>
<path d="M804.3,99.0 L866.0,96.5 L866.0,114.6 L804.3,114.6 Z" fill="#3a8d8e"/>
<rect x="804.3" y="114.6" width="61.7" height="26.7" fill="#232527"/>
<circle cx="833.1" cy="119.5" r="7.0" fill="#262829" stroke="#9a9a9a" stroke-width="0.8"/>
<path d="M829.5,122.5 L833.1,116.0 L836.7,122.5 Z" fill="#e8e8e8"/>
<rect x="794.5" y="164.0" width="87.1" height="12.5" fill="#a9b0b5"/>
<rect x="794.5" y="176.5" width="87.1" height="6.0" fill="#7f8487"/>
<path d="M881.6,83.0 L895.0,85.0 L895.0,162.4 L881.6,162.4 Z" fill="#eef0f0" stroke="#c9cccd" stroke-width="0.6"/>
<path d="M895.0,85.0 L937.8,112.0 L937.8,160.0 L895.0,162.4 Z" fill="#cdd0d2"/>
<path d="M881.6,162.4 L937.8,160.0 L937.8,173.0 L895.0,187.7 L881.6,187.7 Z" fill="#888c8f"/>
<g clip-path="url(#cp1)">
<rect x="1273.0" y="71.5" width="301.0" height="303.5" fill="url(#sp1)"/>
<rect x="1270" y="40" width="335" height="361" fill="url(#sp2)" mask="url(#mk1)"/>
<rect x="1273" y="135" width="320" height="253" fill="url(#sp3)" mask="url(#mk2)"/>
<path d="M1288.1,373.5 L1309.9,282.8 L1351.7,242.9 L1397.0,213.8 L1451.5,206.6 L1487.8,221.1 L1505.9,246.5 L1515.0,291.9 L1533.2,337.2 L1524.1,373.5 Z" fill="#1a36f4" filter="url(#bl6)" opacity="0.85"/>
<rect x="1273.0" y="71.5" width="301.0" height="3.0" fill="url(#sp3)"/>
<rect x="1571.0" y="71.5" width="3.0" height="303.5" fill="#2aa0ff" opacity="0.6"/>
<ellipse cx="1377.1" cy="319.1" rx="72.6" ry="41.7" fill="#1ec0ff" filter="url(#bl6)" opacity="1"/>
<ellipse cx="1324.4" cy="355.4" rx="50.8" ry="16.3" fill="#1ec0ff" filter="url(#bl6)" opacity="1" transform="rotate(-15 1324.4 355.4)"/>
<ellipse cx="1386.2" cy="324.5" rx="38.1" ry="25.4" fill="#38ee70" filter="url(#bl6)" opacity="1"/>
<ellipse cx="1388.0" cy="330.0" rx="23.6" ry="11.8" fill="#e0f030" filter="url(#bl3)" opacity="1"/>
<ellipse cx="1393.4" cy="331.8" rx="10.0" ry="5.1" fill="#ffa020" filter="url(#bl3)" opacity="1"/>
<ellipse cx="1315.4" cy="373.5" rx="59.9" ry="20.0" fill="#1ec0ff" filter="url(#bl6)" opacity="1" transform="rotate(-8 1315.4 373.5)"/>
<ellipse cx="1297.2" cy="371.7" rx="30.9" ry="12.7" fill="#38ee70" filter="url(#bl6)" opacity="1" transform="rotate(-10 1297.2 371.7)"/>
<ellipse cx="1286.3" cy="373.5" rx="20.0" ry="8.2" fill="#f0e020" filter="url(#bl3)" opacity="1" transform="rotate(-10 1286.3 373.5)"/>
<ellipse cx="1277.3" cy="377.2" rx="10.9" ry="5.4" fill="#f03c14" filter="url(#bl3)" opacity="1"/>
</g>
<path d="M1342.0,79.0 L1568.0,75.0 L1568.0,353.0 L1556.0,366.0 L1377.0,366.0 L1301.0,347.0 L1293.0,322.0 L1307.0,188.0 Z" fill="none" stroke="#c42a3a" stroke-width="1.6"/>
<text x="1281.5" y="92.5" font-size="18" textLength="39.5" lengthAdjust="spacingAndGlyphs" fill="#c42a3a">Cells</text>
<text x="1282.5" y="108.7" font-size="18" textLength="34.0" lengthAdjust="spacingAndGlyphs" fill="#c42a3a">70.4</text>
<rect x="1273.0" y="71.5" width="301.0" height="303.5" fill="none" stroke="#333" stroke-width="1.2"/>
<text x="1264.0" y="90.8" font-size="19.5" text-anchor="end">250K</text>
<text x="1264.0" y="147.8" font-size="19.5" text-anchor="end">200K</text>
<text x="1264.0" y="206.8" font-size="19.5" text-anchor="end">150K</text>
<text x="1264.0" y="264.8" font-size="19.5" text-anchor="end">100K</text>
<text x="1264.0" y="321.8" font-size="19.5" text-anchor="end">50K</text>
<text x="1264.0" y="373.8" font-size="19.5" text-anchor="end">0</text>
<text x="1273.0" y="400.0" font-size="18.5" text-anchor="middle">0</text>
<text x="1331.0" y="400.0" font-size="18.5" text-anchor="middle">50K</text>
<text x="1389.0" y="400.0" font-size="18.5" text-anchor="middle">100K</text>
<text x="1447.0" y="400.0" font-size="18.5" text-anchor="middle">150K</text>
<text x="1504.0" y="400.0" font-size="18.5" text-anchor="middle">200K</text>
<text x="1562.0" y="400.0" font-size="18.5" text-anchor="middle">250K</text>
<text x="1423.0" y="420.0" font-size="18.5" text-anchor="middle">FSC-A</text>
<text x="1213.5" y="226.5" font-size="18.5" text-anchor="middle" transform="rotate(-90 1213.5 226.5)">SSC-A</text>
<g clip-path="url(#cp2)">
<path d="M1662.3,362.6 L1662.3,101.3 L1705.8,75.9 L1945.4,75.9 L1963.5,101.3 L1963.5,362.6 Z" fill="url(#sp0)"/>
<rect x="1655" y="40" width="333" height="359" fill="url(#sp1)" mask="url(#mk3)"/>
<rect x="1680" y="52" width="289" height="335" fill="url(#sp2)" mask="url(#mk4)"/>
<rect x="1682" y="52" width="278" height="337" fill="url(#sp3)" mask="url(#mk5)"/>
<path d="M1709.4,366.3 L1707.6,291.9 L1727.6,246.5 L1754.8,219.3 L1782.0,173.9 L1800.2,137.6 L1812.9,137.6 L1814.7,183.0 L1809.3,246.5 L1800.2,300.9 L1787.5,355.4 L1787.5,366.3 Z" fill="#1a36f4" filter="url(#bl6)" opacity="0.9"/>
<path d="M1860.1,315.5 L1923.6,306.4 L1923.6,351.8 L1860.1,351.8 Z" fill="#1a36f4" filter="url(#bl6)" opacity="0.55"/>
<rect x="1923.6" y="192.0" width="3.0" height="159.7" fill="#30d0e8" opacity="0.9"/>
<ellipse cx="1760.3" cy="291.9" rx="36.3" ry="72.6" fill="#1ec0ff" filter="url(#bl6)" opacity="1" transform="rotate(28 1760.3 291.9)"/>
<ellipse cx="1756.6" cy="319.1" rx="27.2" ry="39.9" fill="#38ee70" filter="url(#bl6)" opacity="1" transform="rotate(25 1756.6 319.1)"/>
<ellipse cx="1757.5" cy="329.1" rx="18.1" ry="21.8" fill="#f0e830" filter="url(#bl3)" opacity="1"/>
<ellipse cx="1757.5" cy="330.0" rx="11.8" ry="15.4" fill="#f03c14" filter="url(#bl3)" opacity="1"/>
</g>
<rect x="1664.0" y="74.0" width="195.0" height="298.0" fill="none" stroke="#c42a3a" stroke-width="1.6"/>
<text x="1671.0" y="92.5" font-size="18" fill="#c42a3a">Live</text>
<text x="1670.5" y="108.7" font-size="18" fill="#c42a3a">92.4</text>
<rect x="1660.0" y="71.5" width="301.0" height="303.5" fill="none" stroke="#333" stroke-width="1.2"/>
<text x="1649.5" y="92.8" font-size="19.5" text-anchor="end">250K</text>
<text x="1649.5" y="149.8" font-size="19.5" text-anchor="end">200K</text>
<text x="1649.5" y="208.8" font-size="19.5" text-anchor="end">150K</text>
<text x="1649.5" y="266.8" font-size="19.5" text-anchor="end">100K</text>
<text x="1649.5" y="324.8" font-size="19.5" text-anchor="end">50K</text>
<text x="1649.5" y="377.8" font-size="19.5" text-anchor="end">0</text>
<text x="1680.0" y="401.0" font-size="18.5" text-anchor="middle">-10<tspan font-size="12.0" dy="-8">2</tspan></text>
<text x="1716.0" y="401.0" font-size="18.5" text-anchor="middle">0</text>
<text x="1775.0" y="401.0" font-size="18.5" text-anchor="middle">10<tspan font-size="12.0" dy="-8">2</tspan></text>
<text x="1839.0" y="401.0" font-size="18.5" text-anchor="middle">10<tspan font-size="12.0" dy="-8">3</tspan></text>
<text x="1893.0" y="401.0" font-size="18.5" text-anchor="middle">10<tspan font-size="12.0" dy="-8">4</tspan></text>
<text x="1948.5" y="401.0" font-size="18.5" text-anchor="middle">10<tspan font-size="12.0" dy="-8">5</tspan></text>
<text x="1823.0" y="420.0" font-size="18.5" text-anchor="middle" textLength="232.0" lengthAdjust="spacingAndGlyphs">Comp-355 450_50-A :: DAPI</text>
<text x="1611.5" y="225.0" font-size="18.5" text-anchor="middle" transform="rotate(-90 1611.5 225.0)">SSC-A</text>
<g clip-path="url(#cp3)">
<path d="M1295.4,689.1 L1295.4,600.2 L1342.6,545.7 L1415.2,500.4 L1487.8,469.5 L1569.5,464.1 L1569.5,618.3 L1487.8,643.7 L1378.9,674.6 Z" fill="url(#sp0)"/>
<rect x="1259" y="437" width="346" height="288" fill="url(#sp1)" mask="url(#mk6)"/>
<rect x="1259" y="437" width="346" height="288" fill="url(#sp2)" mask="url(#mk7)"/>
<rect x="1271" y="491" width="322" height="222" fill="url(#sp3)" mask="url(#mk8)"/>
<path d="M1295.4,688.2 L1296.3,645.6 L1342.6,623.8 L1397.0,600.2 L1451.5,578.4 L1505.9,556.6 L1567.6,534.9 L1567.6,611.1 L1533.2,627.4 L1487.8,643.7 L1378.9,674.6 Z" fill="#1a36f4" filter="url(#bl6)"/>
<ellipse cx="1400.7" cy="649.2" rx="76.2" ry="27.2" fill="#1ec0ff" filter="url(#bl6)" opacity="1" transform="rotate(-12 1400.7 649.2)"/>
<ellipse cx="1388.0" cy="653.7" rx="45.4" ry="18.1" fill="#38ee70" filter="url(#bl6)" opacity="1" transform="rotate(-6 1388.0 653.7)"/>
<ellipse cx="1388.0" cy="656.5" rx="27.2" ry="10.0" fill="#f0e830" filter="url(#bl3)" opacity="1"/>
<ellipse cx="1388.0" cy="656.8" rx="20.0" ry="6.4" fill="#f03c14" filter="url(#bl3)" opacity="1"/>
</g>
<path d="M1278.0,650.0 L1574.0,511.0 L1574.0,625.0 L1278.0,706.0 Z" fill="none" stroke="#c42a3a" stroke-width="1.6"/>
<text x="1279.0" y="483.0" font-size="18" textLength="95.0" lengthAdjust="spacingAndGlyphs" fill="#c42a3a">Single Cells</text>
<text x="1299.0" y="499.0" font-size="18" fill="#c42a3a">98.2</text>
<rect x="1273.0" y="462.0" width="302.0" height="304.0" fill="none" stroke="#333" stroke-width="1.2"/>
<text x="1264.0" y="481.8" font-size="19.5" text-anchor="end">250K</text>
<text x="1264.0" y="538.8" font-size="19.5" text-anchor="end">200K</text>
<text x="1264.0" y="597.8" font-size="19.5" text-anchor="end">150K</text>
<text x="1264.0" y="655.8" font-size="19.5" text-anchor="end">100K</text>
<text x="1264.0" y="712.8" font-size="19.5" text-anchor="end">50K</text>
<text x="1264.0" y="765.8" font-size="19.5" text-anchor="end">0</text>
<text x="1274.0" y="791.0" font-size="18.5" text-anchor="middle">0</text>
<text x="1332.0" y="791.0" font-size="18.5" text-anchor="middle">50K</text>
<text x="1390.0" y="791.0" font-size="18.5" text-anchor="middle">100K</text>
<text x="1448.0" y="791.0" font-size="18.5" text-anchor="middle">150K</text>
<text x="1505.0" y="791.0" font-size="18.5" text-anchor="middle">200K</text>
<text x="1563.0" y="791.0" font-size="18.5" text-anchor="middle">250K</text>
<text x="1430.0" y="812.0" font-size="18.5" text-anchor="middle">FSC-A</text>
<text x="1216.5" y="617.0" font-size="18.5" text-anchor="middle" transform="rotate(-90 1216.5 617.0)">FSC-H</text>
<g clip-path="url(#cp4)">
<path d="M1665.9,754.5 L1665.9,473.1 L1954.5,465.9 L1954.5,754.5 Z" fill="url(#sp0)"/>
<rect x="1655" y="432" width="277" height="359" fill="url(#sp1)" mask="url(#mk9)"/>
<rect x="1663" y="430" width="264" height="361" fill="url(#sp2)" mask="url(#mk10)"/>
<rect x="1680" y="444" width="171" height="335" fill="url(#sp3)" mask="url(#mk11)"/>
<rect x="1791" y="622" width="121" height="151" fill="url(#sp3)" mask="url(#mk12)" opacity="0.7"/>
<path d="M1707.6,754.5 L1709.4,672.8 L1724.0,636.5 L1749.4,611.1 L1774.8,582.0 L1796.6,542.1 L1802.0,476.8 L1823.8,473.1 L1818.3,536.7 L1814.7,618.3 L1811.1,681.9 L1805.6,754.5 Z" fill="#1a36f4" filter="url(#bl6)"/>
<ellipse cx="1762.1" cy="696.4" rx="30.9" ry="54.4" fill="#1ec0ff" filter="url(#bl6)" opacity="1" transform="rotate(20 1762.1 696.4)"/>
<ellipse cx="1760.3" cy="712.7" rx="23.6" ry="30.9" fill="#38ee70" filter="url(#bl6)" opacity="1" transform="rotate(15 1760.3 712.7)"/>
<ellipse cx="1762.1" cy="720.0" rx="15.4" ry="18.1" fill="#f0e830" filter="url(#bl3)" opacity="1"/>
<ellipse cx="1762.1" cy="720.9" rx="10.9" ry="13.1" fill="#f03c14" filter="url(#bl3)" opacity="1"/>
</g>
<path d="M1805.0,766.0 L1845.0,463.0 L1963.0,463.0 L1963.0,765.0 Z" fill="none" stroke="#c42a3a" stroke-width="1.6"/>
<text x="1966.0" y="483.0" font-size="18" text-anchor="end" fill="#c42a3a">CD45+</text>
<text x="1953.0" y="499.0" font-size="18" text-anchor="end" fill="#c42a3a">1.53</text>
<rect x="1660.0" y="462.0" width="303.0" height="304.0" fill="none" stroke="#333" stroke-width="1.2"/>
<text x="1649.0" y="482.8" font-size="19.5" text-anchor="end">250K</text>
<text x="1649.0" y="539.8" font-size="19.5" text-anchor="end">200K</text>
<text x="1649.0" y="597.8" font-size="19.5" text-anchor="end">150K</text>
<text x="1649.0" y="655.8" font-size="19.5" text-anchor="end">100K</text>
<text x="1649.0" y="712.8" font-size="19.5" text-anchor="end">50K</text>
<text x="1649.0" y="766.8" font-size="19.5" text-anchor="end">0</text>
<text x="1722.0" y="792.0" font-size="18.5" text-anchor="middle">0</text>
<text x="1825.0" y="792.0" font-size="18.5" text-anchor="middle">10<tspan font-size="12.0" dy="-8">3</tspan></text>
<text x="1888.0" y="792.0" font-size="18.5" text-anchor="middle">10<tspan font-size="12.0" dy="-8">4</tspan></text>
<text x="1947.0" y="792.0" font-size="18.5" text-anchor="middle">10<tspan font-size="12.0" dy="-8">5</tspan></text>
<text x="1807.0" y="809.0" font-size="18.5" text-anchor="middle" textLength="309.0" lengthAdjust="spacingAndGlyphs">Comp-355 379_28-A :: CD45 BUV395</text>
<text x="1612.0" y="617.0" font-size="18.5" text-anchor="middle" transform="rotate(-90 1612.0 617.0)">SSC-A</text>
<text x="1192.0" y="54.0" font-size="29.5">b</text>
<path d="M167.8,481.7 L179.9,480.8 L190.3,486.9 L202.4,490.3 L214.4,495.5 L221.4,502.4 L220.5,511.1 L224.8,530.1 L231.7,540.5 L238.6,554.3 L240.4,568.1 L235.2,581.9 L224.8,588.9 L211.0,599.2 L202.4,609.6 L202.4,623.4 L200.6,637.3 L197.2,647.6 L198.9,663.2 L197.2,682.2 L190.3,683.9 L185.1,671.8 L183.4,685.7 L171.3,689.1 L162.6,687.4 L155.7,696.0 L141.9,706.4 L128.1,709.9 L110.8,706.4 L100.5,694.3 L95.3,671.8 L93.5,654.5 L88.4,645.9 L86.6,635.5 L93.5,620.0 L103.9,607.9 L110.8,599.2 L124.6,585.4 L135.0,568.1 L138.4,550.8 L148.8,533.5 L155.7,521.4 L160.9,507.6 L166.1,495.5 Z" fill="url(#pSex)"/>
<path d="M99.6,526.6 L109.1,520.6 L112.5,533.5 L121.2,547.4 L131.5,561.2 L135.0,571.6 L128.1,573.3 L119.5,561.2 L110.8,547.4 L103.9,537.0 Z" fill="url(#pSexB)"/>
<path d="M250.7,583.7 L257.6,569.8 L269.7,571.6 L274.9,578.5 L266.3,595.8 L262.8,611.3 L255.9,620.0 L261.9,630.3 L266.3,644.2 L262.8,654.5 L266.3,671.8 L268.9,680.5 L262.8,680.5 L255.9,663.2 L252.4,680.5 L247.3,678.7 L249.0,661.5 L252.4,647.6 L242.1,628.6 L240.4,613.1 L243.8,599.2 L249.0,592.3 Z" fill="url(#pSex)"/>
<path d="M283.5,512.8 L297.3,502.4 L314.6,492.1 L328.4,490.3 L331.9,507.6 L330.2,524.9 L335.3,543.9 L337.1,556.0 L328.4,568.1 L321.5,575.0 L326.7,585.4 L325.0,594.0 L311.2,594.0 L304.3,581.9 L304.3,571.6 L297.3,561.2 L292.2,547.4 L287.0,537.0 L281.8,523.2 Z" fill="url(#pSex)"/>
<path d="M290.4,575.0 L297.3,571.6 L293.9,595.8 L288.7,611.3 L295.6,620.0 L297.3,628.6 L290.4,633.8 L283.5,637.3 L288.7,647.6 L297.3,654.5 L293.9,658.0 L285.3,651.1 L278.4,637.3 L274.9,620.0 L280.1,606.1 L287.0,592.3 Z" fill="url(#pSex)"/>
<path d="M292.2,659.7 L309.4,656.3 L318.1,671.8 L328.4,687.4 L335.3,694.3 L337.1,715.0 L331.9,723.7 L323.3,734.1 L314.6,744.4 L300.8,751.4 L285.3,754.8 L278.4,747.9 L280.1,734.1 L290.4,723.7 L299.1,713.3 L300.8,702.9 L293.9,689.1 L290.4,675.3 Z" fill="url(#pSex)"/>
<ellipse cx="75.4" cy="537.0" rx="3.8" ry="3.8" fill="url(#pSex)"/>
<ellipse cx="231.7" cy="671.8" rx="5.5" ry="5.5" fill="url(#pSex)"/>
<ellipse cx="264.5" cy="672.7" rx="4.3" ry="4.3" fill="url(#pSex)"/>
<path d="M136.7,516.3 L155.7,507.6 L176.4,521.4 L179.9,554.3 L155.7,561.2 L135.0,554.3 Z" fill="url(#pSexY)"/>
<path d="M86.6,635.5 L93.5,616.5 L110.8,602.7 L121.2,620.0 L117.7,654.5 L102.2,671.8 L94.4,663.2 Z" fill="url(#pSexY)"/>
<path d="M162.6,654.5 L179.9,659.7 L185.1,671.8 L183.4,685.7 L171.3,689.1 L162.6,680.5 Z" fill="url(#pSexY)"/>
<path d="M304.3,492.1 L328.4,490.3 L331.9,507.6 L335.3,543.9 L337.1,556.0 L328.4,568.1 L312.9,561.2 L307.7,533.5 Z" fill="url(#pSexY)"/>
<path d="M280.1,734.1 L300.8,723.7 L304.3,747.9 L285.3,754.8 Z" fill="url(#pSexY)"/>
<path d="M128.1,571.6 L155.7,568.1 L173.0,588.9 L166.1,616.5 L141.9,620.0 L124.6,602.7 Z" fill="url(#pSexB)"/>
<path d="M97.0,668.4 L116.0,658.0 L140.2,668.4 L148.8,689.1 L141.9,706.4 L128.1,709.9 L110.8,706.4 L100.5,694.3 Z" fill="url(#pSexB)"/>
<path d="M281.8,523.2 L283.5,512.8 L297.3,502.4 L300.8,521.4 L292.2,537.0 Z" fill="url(#pSexB)"/>
<path d="M283.5,620.0 L295.6,620.0 L297.3,628.6 L283.5,637.3 L278.4,630.3 Z" fill="url(#pSexB)"/>
<path d="M211.0,516.3 L220.5,511.9 L229.1,531.8 L233.4,554.3 L224.8,562.1 L213.6,556.9 L207.2,540.5 L207.2,526.6 Z" fill="#fff" opacity="0.85"/>
<path d="M574.3,482.2 L586.2,481.4 L596.4,487.4 L608.2,490.8 L620.1,496.0 L626.9,502.9 L626.0,511.5 L630.3,530.4 L637.0,540.8 L643.8,554.5 L645.5,568.3 L640.4,582.1 L630.3,589.0 L616.7,599.3 L608.2,609.6 L608.2,623.4 L606.5,637.2 L603.2,647.5 L604.8,663.0 L603.2,681.9 L596.4,683.7 L591.3,671.6 L589.6,685.4 L577.7,688.8 L569.3,687.1 L562.5,695.7 L548.9,706.0 L535.4,709.5 L518.4,706.0 L508.3,694.0 L503.2,671.6 L501.5,654.4 L496.4,645.8 L494.7,635.5 L501.5,620.0 L511.7,607.9 L518.4,599.3 L532.0,585.5 L542.2,568.3 L545.5,551.1 L555.7,533.9 L562.5,521.8 L567.6,508.0 L572.7,496.0 Z" fill="url(#pPCW)"/>
<path d="M507.4,527.0 L516.7,521.0 L520.1,533.9 L528.6,547.6 L538.8,561.4 L542.2,571.8 L535.4,573.5 L526.9,561.4 L518.4,547.6 L511.7,537.3 Z" fill="url(#pPCWd)"/>
<path d="M655.7,583.8 L662.5,570.0 L674.3,571.8 L679.4,578.6 L670.9,595.9 L667.5,611.4 L660.8,620.0 L666.7,630.3 L670.9,644.1 L667.5,654.4 L670.9,671.6 L673.5,680.2 L667.5,680.2 L660.8,663.0 L657.4,680.2 L652.3,678.5 L654.0,661.3 L657.4,647.5 L647.2,628.6 L645.5,613.1 L648.9,599.3 L654.0,592.4 Z" fill="url(#pPCW)"/>
<path d="M687.9,513.2 L701.4,502.9 L718.4,492.5 L731.9,490.8 L735.3,508.0 L733.6,525.3 L738.7,544.2 L740.4,556.3 L731.9,568.3 L725.1,575.2 L730.2,585.5 L728.5,594.1 L715.0,594.1 L708.2,582.1 L708.2,571.8 L701.4,561.4 L696.3,547.6 L691.3,537.3 L686.2,523.5 Z" fill="url(#pPCW)"/>
<path d="M694.6,575.2 L701.4,571.8 L698.0,595.9 L693.0,611.4 L699.7,620.0 L701.4,628.6 L694.6,633.7 L687.9,637.2 L693.0,647.5 L701.4,654.4 L698.0,657.8 L689.6,651.0 L682.8,637.2 L679.4,620.0 L684.5,606.2 L691.3,592.4 Z" fill="url(#pPCW)"/>
<path d="M696.3,659.6 L713.3,656.1 L721.8,671.6 L731.9,687.1 L738.7,694.0 L740.4,714.7 L735.3,723.3 L726.8,733.6 L718.4,743.9 L704.8,750.8 L689.6,754.3 L682.8,747.4 L684.5,733.6 L694.6,723.3 L703.1,712.9 L704.8,702.6 L698.0,688.8 L694.6,675.1 Z" fill="url(#pPCW)"/>
<ellipse cx="483.7" cy="537.3" rx="3.7" ry="3.8" fill="url(#pPCW)"/>
<ellipse cx="637.0" cy="671.6" rx="5.4" ry="5.5" fill="url(#pPCW)"/>
<ellipse cx="669.2" cy="672.5" rx="4.2" ry="4.3" fill="url(#pPCW)"/>
<path d="M559.1,561.4 L586.2,547.6 L616.7,561.4 L630.3,585.5 L613.3,606.2 L596.4,637.2 L576.0,647.5 L562.5,620.0 L555.7,585.5 Z" fill="url(#pPCWd)" opacity="0.75"/>
<path d="M650.6,585.5 L664.1,576.9 L676.0,585.5 L670.9,613.1 L664.1,633.7 L654.0,630.3 L647.2,613.1 Z" fill="url(#pPCWd)"/>
<path d="M498.1,637.2 L518.4,620.0 L538.8,628.6 L543.8,663.0 L523.5,680.2 L504.9,663.0 Z" fill="url(#pPCWy)"/>
<path d="M713.3,568.3 L731.9,568.3 L730.2,589.0 L715.0,590.7 Z" fill="url(#pPCWy)"/>
<path d="M704.8,709.5 L725.1,702.6 L731.9,723.3 L711.6,733.6 Z" fill="url(#pPCWy)"/>
<path d="M510.0,680.2 L543.8,680.2 L548.9,706.0 L518.4,706.0 Z" fill="url(#pPCWd)" opacity="0.4"/>
<path d="M616.7,516.7 L626.0,512.3 L634.5,532.1 L638.7,554.5 L630.3,562.3 L619.2,557.1 L613.0,540.8 L613.0,527.0 Z" fill="#fff" opacity="0.85"/>
<path d="M978.2,483.6 L990.9,482.8 L1001.8,488.8 L1014.5,492.2 L1027.2,497.3 L1034.5,504.2 L1033.6,512.8 L1038.1,531.6 L1045.4,541.9 L1052.6,555.6 L1054.5,569.3 L1049.0,583.0 L1038.1,589.9 L1023.6,600.1 L1014.5,610.4 L1014.5,624.1 L1012.7,637.8 L1009.0,648.1 L1010.9,663.5 L1009.0,682.4 L1001.8,684.1 L996.3,672.1 L994.5,685.8 L981.8,689.2 L972.7,687.5 L965.4,696.1 L950.9,706.4 L936.4,709.8 L918.2,706.4 L907.3,694.4 L901.9,672.1 L900.0,655.0 L894.6,646.4 L892.8,636.1 L900.0,620.7 L910.9,608.7 L918.2,600.1 L932.7,586.4 L943.6,569.3 L947.3,552.2 L958.2,535.0 L965.4,523.0 L970.9,509.3 L976.3,497.3 Z" fill="url(#pDon)"/>
<path d="M906.4,528.2 L916.4,522.2 L920.0,535.0 L929.1,548.7 L940.0,562.4 L943.6,572.7 L936.4,574.4 L927.3,562.4 L918.2,548.7 L910.9,538.5 Z" fill="url(#pDon)"/>
<path d="M1065.4,584.7 L1072.6,571.0 L1085.3,572.7 L1090.8,579.6 L1081.7,596.7 L1078.1,612.1 L1070.8,620.7 L1077.2,631.0 L1081.7,644.7 L1078.1,655.0 L1081.7,672.1 L1084.4,680.7 L1078.1,680.7 L1070.8,663.5 L1067.2,680.7 L1061.7,678.9 L1063.5,661.8 L1067.2,648.1 L1056.3,629.3 L1054.5,613.8 L1058.1,600.1 L1063.5,593.3 Z" fill="url(#pDon)"/>
<path d="M1099.9,514.5 L1114.4,504.2 L1132.6,493.9 L1147.1,492.2 L1150.7,509.3 L1148.9,526.5 L1154.4,545.3 L1156.2,557.3 L1147.1,569.3 L1139.8,576.1 L1145.3,586.4 L1143.5,595.0 L1128.9,595.0 L1121.7,583.0 L1121.7,572.7 L1114.4,562.4 L1109.0,548.7 L1103.5,538.5 L1098.1,524.7 Z" fill="url(#pDon)"/>
<path d="M1107.1,576.1 L1114.4,572.7 L1110.8,596.7 L1105.3,612.1 L1112.6,620.7 L1114.4,629.3 L1107.1,634.4 L1099.9,637.8 L1105.3,648.1 L1114.4,655.0 L1110.8,658.4 L1101.7,651.5 L1094.4,637.8 L1090.8,620.7 L1096.2,607.0 L1103.5,593.3 Z" fill="url(#pDon)"/>
<path d="M1109.0,660.1 L1127.1,656.7 L1136.2,672.1 L1147.1,687.5 L1154.4,694.4 L1156.2,714.9 L1150.7,723.5 L1141.7,733.8 L1132.6,744.0 L1118.0,750.9 L1101.7,754.3 L1094.4,747.5 L1096.2,733.8 L1107.1,723.5 L1116.2,713.2 L1118.0,702.9 L1110.8,689.2 L1107.1,675.5 Z" fill="url(#pDon)"/>
<ellipse cx="881.0" cy="538.5" rx="4.0" ry="3.8" fill="url(#pDon)"/>
<ellipse cx="1045.4" cy="672.1" rx="5.8" ry="5.5" fill="url(#pDon)"/>
<ellipse cx="1079.9" cy="672.9" rx="4.5" ry="4.3" fill="url(#pDon)"/>
<path d="M901.9,651.5 L923.7,648.1 L943.6,672.1 L945.5,697.8 L936.4,709.8 L918.2,706.4 L905.5,692.6 Z" fill="url(#pDonB)"/>
<path d="M949.1,562.4 L987.2,548.7 L1019.9,572.7 L1012.7,620.7 L990.9,655.0 L958.2,648.1 L943.6,612.1 Z" fill="url(#pDonBr)" opacity="0.55"/>
<path d="M1063.5,586.4 L1081.7,577.9 L1087.2,589.9 L1081.7,620.7 L1070.8,627.5 L1061.7,612.1 Z" fill="url(#pDonBr)"/>
<path d="M1132.6,526.5 L1154.4,545.3 L1154.4,562.4 L1136.2,562.4 Z" fill="url(#pDonL)"/>
<path d="M892.8,636.1 L910.9,608.7 L925.5,612.1 L921.8,646.4 L900.0,655.0 Z" fill="url(#pDonL)"/>
<path d="M1023.6,517.9 L1033.6,513.6 L1042.6,533.3 L1047.2,555.6 L1038.1,563.3 L1026.3,558.2 L1019.6,541.9 L1019.6,528.2 Z" fill="#fff" opacity="0.85"/>
<rect x="59.0" y="464.4" width="295.0" height="303.2" fill="none" stroke="#000" stroke-width="2.6"/>
<rect x="467.6" y="465.0" width="289.4" height="302.0" fill="none" stroke="#000" stroke-width="2.6"/>
<rect x="863.7" y="466.5" width="310.3" height="300.5" fill="none" stroke="#000" stroke-width="2.6"/>
<text x="8.5" y="436.0" font-size="29.5">c</text>
<text x="205.0" y="451.0" font-size="23" text-anchor="middle">sex</text>
<text x="626.0" y="451.0" font-size="23" text-anchor="middle">PCW</text>
<text x="1020.0" y="451.0" font-size="23" text-anchor="middle">donor</text>
<text x="206.0" y="787.0" font-size="17.5" text-anchor="middle">UMAP1</text>
<text x="612.0" y="787.0" font-size="17.5" text-anchor="middle">UMAP1</text>
<text x="1018.0" y="787.0" font-size="17.5" text-anchor="middle">UMAP1</text>
<text x="46.3" y="615.3" font-size="19" text-anchor="middle" textLength="64.5" lengthAdjust="spacingAndGlyphs" transform="rotate(-90 46.3 615.3)">UMAP2</text>
<text x="455.0" y="617.0" font-size="19" text-anchor="middle" textLength="64.5" lengthAdjust="spacingAndGlyphs" transform="rotate(-90 455.0 617.0)">UMAP2</text>
<text x="851.0" y="617.0" font-size="19" text-anchor="middle" textLength="64.5" lengthAdjust="spacingAndGlyphs" transform="rotate(-90 851.0 617.0)">UMAP2</text>
<circle cx="372.0" cy="602.5" r="5.8" fill="#f2b619"/>
<circle cx="372.0" cy="628.5" r="5.8" fill="#2f9ad8"/>
<text x="384.0" y="609.0" font-size="18">female</text>
<text x="384.0" y="635.0" font-size="18">male</text>
<rect x="760.5" y="465.0" width="11.0" height="302.0" fill="url(#gVir)" stroke="#000" stroke-width="1.5"/>
<text x="780.0" y="492.2" font-size="18.5">20.0</text>
<text x="780.0" y="542.5" font-size="18.5">17.5</text>
<text x="780.0" y="592.3" font-size="18.5">15.0</text>
<text x="780.0" y="643.5" font-size="18.5">12.5</text>
<text x="780.0" y="693.5" font-size="18.5">10.0</text>
<text x="780.0" y="743.5" font-size="18.5">7.5</text>
<text x="7.5" y="844.0" font-size="29.5">d</text>
<text x="78.0" y="854.0" font-size="22.5" textLength="455.0" lengthAdjust="spacingAndGlyphs">Label transfer from fetal liver hematopoiesis</text>
<text x="149.0" y="873.0" font-size="22.5" textLength="313.0" lengthAdjust="spacingAndGlyphs">dataset (Popescu et al., 2019)</text>
<rect x="142.0" y="885.0" width="17.5" height="17.5" fill="#fce1be"/>
<rect x="159.2" y="885.0" width="17.5" height="17.5" fill="#fdecd4"/>
<rect x="176.4" y="885.0" width="17.5" height="17.5" fill="#fdecd4"/>
<rect x="193.6" y="885.0" width="17.5" height="17.5" fill="#fef2e1"/>
<rect x="210.8" y="885.0" width="17.5" height="17.5" fill="#feefda"/>
<rect x="228.1" y="885.0" width="17.5" height="17.5" fill="#fcdcb4"/>
<rect x="245.3" y="885.0" width="17.5" height="17.5" fill="#fde2c1"/>
<rect x="262.5" y="885.0" width="17.5" height="17.5" fill="#fef5e6"/>
<rect x="279.7" y="885.0" width="17.5" height="17.5" fill="#fef5e6"/>
<rect x="296.9" y="885.0" width="17.5" height="17.5" fill="#fef5e6"/>
<rect x="314.1" y="885.0" width="17.5" height="17.5" fill="#fde6c7"/>
<rect x="331.3" y="885.0" width="17.5" height="17.5" fill="#fef5e6"/>
<rect x="348.5" y="885.0" width="17.5" height="17.5" fill="#fef5e6"/>
<rect x="365.7" y="885.0" width="17.5" height="17.5" fill="#fef5e6"/>
<rect x="382.9" y="885.0" width="17.5" height="17.5" fill="#fef5e6"/>
<rect x="400.2" y="885.0" width="17.5" height="17.5" fill="#fef5e6"/>
<rect x="417.4" y="885.0" width="17.5" height="17.5" fill="#fef5e6"/>
<rect x="434.6" y="885.0" width="17.5" height="17.5" fill="#fef5e6"/>
<rect x="451.8" y="885.0" width="17.5" height="17.5" fill="#fef5e6"/>
<rect x="142.0" y="902.2" width="17.5" height="17.5" fill="#fef2e1"/>
<rect x="159.2" y="902.2" width="17.5" height="17.5" fill="#f7ba89"/>
<rect x="176.4" y="902.2" width="17.5" height="17.5" fill="#f0855b"/>
<rect x="193.6" y="902.2" width="17.5" height="17.5" fill="#feefda"/>
<rect x="210.8" y="902.2" width="17.5" height="17.5" fill="#fef2e1"/>
<rect x="228.1" y="902.2" width="17.5" height="17.5" fill="#fef2e1"/>
<rect x="245.3" y="902.2" width="17.5" height="17.5" fill="#fef2e1"/>
<rect x="262.5" y="902.2" width="17.5" height="17.5" fill="#fef2e1"/>
<rect x="279.7" y="902.2" width="17.5" height="17.5" fill="#fef2e1"/>
<rect x="296.9" y="902.2" width="17.5" height="17.5" fill="#fef2e1"/>
<rect x="314.1" y="902.2" width="17.5" height="17.5" fill="#fef2e1"/>
<rect x="331.3" y="902.2" width="17.5" height="17.5" fill="#fef2e1"/>
<rect x="348.5" y="902.2" width="17.5" height="17.5" fill="#fef2e1"/>
<rect x="365.7" y="902.2" width="17.5" height="17.5" fill="#fef2e1"/>
<rect x="382.9" y="902.2" width="17.5" height="17.5" fill="#fef2e1"/>
<rect x="400.2" y="902.2" width="17.5" height="17.5" fill="#fef2e1"/>
<rect x="417.4" y="902.2" width="17.5" height="17.5" fill="#fef2e1"/>
<rect x="434.6" y="902.2" width="17.5" height="17.5" fill="#fef2e1"/>
<rect x="451.8" y="902.2" width="17.5" height="17.5" fill="#fef2e1"/>
<rect x="142.0" y="919.4" width="17.5" height="17.5" fill="#fde9ce"/>
<rect x="159.2" y="919.4" width="17.5" height="17.5" fill="#f19064"/>
<rect x="176.4" y="919.4" width="17.5" height="17.5" fill="#f7ba89"/>
<rect x="193.6" y="919.4" width="17.5" height="17.5" fill="#feefda"/>
<rect x="210.8" y="919.4" width="17.5" height="17.5" fill="#feefda"/>
<rect x="228.1" y="919.4" width="17.5" height="17.5" fill="#feefda"/>
<rect x="245.3" y="919.4" width="17.5" height="17.5" fill="#feefda"/>
<rect x="262.5" y="919.4" width="17.5" height="17.5" fill="#feefda"/>
<rect x="279.7" y="919.4" width="17.5" height="17.5" fill="#feefda"/>
<rect x="296.9" y="919.4" width="17.5" height="17.5" fill="#feefda"/>
<rect x="314.1" y="919.4" width="17.5" height="17.5" fill="#feefda"/>
<rect x="331.3" y="919.4" width="17.5" height="17.5" fill="#feefda"/>
<rect x="348.5" y="919.4" width="17.5" height="17.5" fill="#feefda"/>
<rect x="365.7" y="919.4" width="17.5" height="17.5" fill="#feefda"/>
<rect x="382.9" y="919.4" width="17.5" height="17.5" fill="#feefda"/>
<rect x="400.2" y="919.4" width="17.5" height="17.5" fill="#feefda"/>
<rect x="417.4" y="919.4" width="17.5" height="17.5" fill="#feefda"/>
<rect x="434.6" y="919.4" width="17.5" height="17.5" fill="#feefda"/>
<rect x="451.8" y="919.4" width="17.5" height="17.5" fill="#feefda"/>
<rect x="142.0" y="936.6" width="17.5" height="17.5" fill="#fef5e6"/>
<rect x="159.2" y="936.6" width="17.5" height="17.5" fill="#fef5e6"/>
<rect x="176.4" y="936.6" width="17.5" height="17.5" fill="#fbd6ad"/>
<rect x="193.6" y="936.6" width="17.5" height="17.5" fill="#d3382b"/>
<rect x="210.8" y="936.6" width="17.5" height="17.5" fill="#fef5e6"/>
<rect x="228.1" y="936.6" width="17.5" height="17.5" fill="#fef5e6"/>
<rect x="245.3" y="936.6" width="17.5" height="17.5" fill="#fef5e6"/>
<rect x="262.5" y="936.6" width="17.5" height="17.5" fill="#fef5e6"/>
<rect x="279.7" y="936.6" width="17.5" height="17.5" fill="#fef5e6"/>
<rect x="296.9" y="936.6" width="17.5" height="17.5" fill="#fef5e6"/>
<rect x="314.1" y="936.6" width="17.5" height="17.5" fill="#fef5e6"/>
<rect x="331.3" y="936.6" width="17.5" height="17.5" fill="#fef5e6"/>
<rect x="348.5" y="936.6" width="17.5" height="17.5" fill="#fef5e6"/>
<rect x="365.7" y="936.6" width="17.5" height="17.5" fill="#fef5e6"/>
<rect x="382.9" y="936.6" width="17.5" height="17.5" fill="#fef5e6"/>
<rect x="400.2" y="936.6" width="17.5" height="17.5" fill="#fef5e6"/>
<rect x="417.4" y="936.6" width="17.5" height="17.5" fill="#fef5e6"/>
<rect x="434.6" y="936.6" width="17.5" height="17.5" fill="#fef5e6"/>
<rect x="451.8" y="936.6" width="17.5" height="17.5" fill="#fef5e6"/>
<rect x="142.0" y="953.8" width="17.5" height="17.5" fill="#fef2e1"/>
<rect x="159.2" y="953.8" width="17.5" height="17.5" fill="#fef2e1"/>
<rect x="176.4" y="953.8" width="17.5" height="17.5" fill="#fef2e1"/>
<rect x="193.6" y="953.8" width="17.5" height="17.5" fill="#fef2e1"/>
<rect x="210.8" y="953.8" width="17.5" height="17.5" fill="#860d0d"/>
<rect x="228.1" y="953.8" width="17.5" height="17.5" fill="#fef2e1"/>
<rect x="245.3" y="953.8" width="17.5" height="17.5" fill="#fef2e1"/>
<rect x="262.5" y="953.8" width="17.5" height="17.5" fill="#fef2e1"/>
<rect x="279.7" y="953.8" width="17.5" height="17.5" fill="#fef2e1"/>
<rect x="296.9" y="953.8" width="17.5" height="17.5" fill="#fef2e1"/>
<rect x="314.1" y="953.8" width="17.5" height="17.5" fill="#fef2e1"/>
<rect x="331.3" y="953.8" width="17.5" height="17.5" fill="#fef2e1"/>
<rect x="348.5" y="953.8" width="17.5" height="17.5" fill="#fef2e1"/>
<rect x="365.7" y="953.8" width="17.5" height="17.5" fill="#fef2e1"/>
<rect x="382.9" y="953.8" width="17.5" height="17.5" fill="#fef2e1"/>
<rect x="400.2" y="953.8" width="17.5" height="17.5" fill="#fef2e1"/>
<rect x="417.4" y="953.8" width="17.5" height="17.5" fill="#fef2e1"/>
<rect x="434.6" y="953.8" width="17.5" height="17.5" fill="#fef2e1"/>
<rect x="451.8" y="953.8" width="17.5" height="17.5" fill="#fef2e1"/>
<rect x="142.0" y="971.0" width="17.5" height="17.5" fill="#feefda"/>
<rect x="159.2" y="971.0" width="17.5" height="17.5" fill="#feefda"/>
<rect x="176.4" y="971.0" width="17.5" height="17.5" fill="#feefda"/>
<rect x="193.6" y="971.0" width="17.5" height="17.5" fill="#feefda"/>
<rect x="210.8" y="971.0" width="17.5" height="17.5" fill="#feefda"/>
<rect x="228.1" y="971.0" width="17.5" height="17.5" fill="#e86747"/>
<rect x="245.3" y="971.0" width="17.5" height="17.5" fill="#fcdcb4"/>
<rect x="262.5" y="971.0" width="17.5" height="17.5" fill="#feefda"/>
<rect x="279.7" y="971.0" width="17.5" height="17.5" fill="#feefda"/>
<rect x="296.9" y="971.0" width="17.5" height="17.5" fill="#feefda"/>
<rect x="314.1" y="971.0" width="17.5" height="17.5" fill="#feefda"/>
<rect x="331.3" y="971.0" width="17.5" height="17.5" fill="#feefda"/>
<rect x="348.5" y="971.0" width="17.5" height="17.5" fill="#feefda"/>
<rect x="365.7" y="971.0" width="17.5" height="17.5" fill="#feefda"/>
<rect x="382.9" y="971.0" width="17.5" height="17.5" fill="#feefda"/>
<rect x="400.2" y="971.0" width="17.5" height="17.5" fill="#feefda"/>
<rect x="417.4" y="971.0" width="17.5" height="17.5" fill="#feefda"/>
<rect x="434.6" y="971.0" width="17.5" height="17.5" fill="#feefda"/>
<rect x="451.8" y="971.0" width="17.5" height="17.5" fill="#feefda"/>
<rect x="142.0" y="988.1" width="17.5" height="17.5" fill="#fef5e6"/>
<rect x="159.2" y="988.1" width="17.5" height="17.5" fill="#fef5e6"/>
<rect x="176.4" y="988.1" width="17.5" height="17.5" fill="#fef5e6"/>
<rect x="193.6" y="988.1" width="17.5" height="17.5" fill="#fef5e6"/>
<rect x="210.8" y="988.1" width="17.5" height="17.5" fill="#fef5e6"/>
<rect x="228.1" y="988.1" width="17.5" height="17.5" fill="#fde9ce"/>
<rect x="245.3" y="988.1" width="17.5" height="17.5" fill="#ec724d"/>
<rect x="262.5" y="988.1" width="17.5" height="17.5" fill="#fde9ce"/>
<rect x="279.7" y="988.1" width="17.5" height="17.5" fill="#fdecd4"/>
<rect x="296.9" y="988.1" width="17.5" height="17.5" fill="#fef5e6"/>
<rect x="314.1" y="988.1" width="17.5" height="17.5" fill="#fef5e6"/>
<rect x="331.3" y="988.1" width="17.5" height="17.5" fill="#fef5e6"/>
<rect x="348.5" y="988.1" width="17.5" height="17.5" fill="#fef5e6"/>
<rect x="365.7" y="988.1" width="17.5" height="17.5" fill="#fef5e6"/>
<rect x="382.9" y="988.1" width="17.5" height="17.5" fill="#fef5e6"/>
<rect x="400.2" y="988.1" width="17.5" height="17.5" fill="#fef5e6"/>
<rect x="417.4" y="988.1" width="17.5" height="17.5" fill="#fef5e6"/>
<rect x="434.6" y="988.1" width="17.5" height="17.5" fill="#fef5e6"/>
<rect x="451.8" y="988.1" width="17.5" height="17.5" fill="#fef5e6"/>
<rect x="142.0" y="1005.3" width="17.5" height="17.5" fill="#fef2e1"/>
<rect x="159.2" y="1005.3" width="17.5" height="17.5" fill="#fef2e1"/>
<rect x="176.4" y="1005.3" width="17.5" height="17.5" fill="#fef2e1"/>
<rect x="193.6" y="1005.3" width="17.5" height="17.5" fill="#fef2e1"/>
<rect x="210.8" y="1005.3" width="17.5" height="17.5" fill="#fef2e1"/>
<rect x="228.1" y="1005.3" width="17.5" height="17.5" fill="#fef2e1"/>
<rect x="245.3" y="1005.3" width="17.5" height="17.5" fill="#fef2e1"/>
<rect x="262.5" y="1005.3" width="17.5" height="17.5" fill="#9b1313"/>
<rect x="279.7" y="1005.3" width="17.5" height="17.5" fill="#fef2e1"/>
<rect x="296.9" y="1005.3" width="17.5" height="17.5" fill="#fef2e1"/>
<rect x="314.1" y="1005.3" width="17.5" height="17.5" fill="#fef2e1"/>
<rect x="331.3" y="1005.3" width="17.5" height="17.5" fill="#fef2e1"/>
<rect x="348.5" y="1005.3" width="17.5" height="17.5" fill="#fef2e1"/>
<rect x="365.7" y="1005.3" width="17.5" height="17.5" fill="#fef2e1"/>
<rect x="382.9" y="1005.3" width="17.5" height="17.5" fill="#fef2e1"/>
<rect x="400.2" y="1005.3" width="17.5" height="17.5" fill="#fef2e1"/>
<rect x="417.4" y="1005.3" width="17.5" height="17.5" fill="#fef2e1"/>
<rect x="434.6" y="1005.3" width="17.5" height="17.5" fill="#fef2e1"/>
<rect x="451.8" y="1005.3" width="17.5" height="17.5" fill="#fef2e1"/>
<rect x="142.0" y="1022.5" width="17.5" height="17.5" fill="#feefda"/>
<rect x="159.2" y="1022.5" width="17.5" height="17.5" fill="#feefda"/>
<rect x="176.4" y="1022.5" width="17.5" height="17.5" fill="#feefda"/>
<rect x="193.6" y="1022.5" width="17.5" height="17.5" fill="#feefda"/>
<rect x="210.8" y="1022.5" width="17.5" height="17.5" fill="#feefda"/>
<rect x="228.1" y="1022.5" width="17.5" height="17.5" fill="#feefda"/>
<rect x="245.3" y="1022.5" width="17.5" height="17.5" fill="#feefda"/>
<rect x="262.5" y="1022.5" width="17.5" height="17.5" fill="#feefda"/>
<rect x="279.7" y="1022.5" width="17.5" height="17.5" fill="#8d0f0f"/>
<rect x="296.9" y="1022.5" width="17.5" height="17.5" fill="#feefda"/>
<rect x="314.1" y="1022.5" width="17.5" height="17.5" fill="#feefda"/>
<rect x="331.3" y="1022.5" width="17.5" height="17.5" fill="#feefda"/>
<rect x="348.5" y="1022.5" width="17.5" height="17.5" fill="#feefda"/>
<rect x="365.7" y="1022.5" width="17.5" height="17.5" fill="#feefda"/>
<rect x="382.9" y="1022.5" width="17.5" height="17.5" fill="#feefda"/>
<rect x="400.2" y="1022.5" width="17.5" height="17.5" fill="#feefda"/>
<rect x="417.4" y="1022.5" width="17.5" height="17.5" fill="#feefda"/>
<rect x="434.6" y="1022.5" width="17.5" height="17.5" fill="#feefda"/>
<rect x="451.8" y="1022.5" width="17.5" height="17.5" fill="#feefda"/>
<rect x="142.0" y="1039.7" width="17.5" height="17.5" fill="#fef5e6"/>
<rect x="159.2" y="1039.7" width="17.5" height="17.5" fill="#fef5e6"/>
<rect x="176.4" y="1039.7" width="17.5" height="17.5" fill="#fef5e6"/>
<rect x="193.6" y="1039.7" width="17.5" height="17.5" fill="#fef5e6"/>
<rect x="210.8" y="1039.7" width="17.5" height="17.5" fill="#fef5e6"/>
<rect x="228.1" y="1039.7" width="17.5" height="17.5" fill="#feefda"/>
<rect x="245.3" y="1039.7" width="17.5" height="17.5" fill="#fdecd4"/>
<rect x="262.5" y="1039.7" width="17.5" height="17.5" fill="#fef5e6"/>
<rect x="279.7" y="1039.7" width="17.5" height="17.5" fill="#fef5e6"/>
<rect x="296.9" y="1039.7" width="17.5" height="17.5" fill="#ec724d"/>
<rect x="314.1" y="1039.7" width="17.5" height="17.5" fill="#fde4c4"/>
<rect x="331.3" y="1039.7" width="17.5" height="17.5" fill="#fef5e6"/>
<rect x="348.5" y="1039.7" width="17.5" height="17.5" fill="#fef5e6"/>
<rect x="365.7" y="1039.7" width="17.5" height="17.5" fill="#fef5e6"/>
<rect x="382.9" y="1039.7" width="17.5" height="17.5" fill="#fef5e6"/>
<rect x="400.2" y="1039.7" width="17.5" height="17.5" fill="#fef5e6"/>
<rect x="417.4" y="1039.7" width="17.5" height="17.5" fill="#fef5e6"/>
<rect x="434.6" y="1039.7" width="17.5" height="17.5" fill="#fef5e6"/>
<rect x="451.8" y="1039.7" width="17.5" height="17.5" fill="#fef5e6"/>
<rect x="142.0" y="1056.9" width="17.5" height="17.5" fill="#fef2e1"/>
<rect x="159.2" y="1056.9" width="17.5" height="17.5" fill="#fef2e1"/>
<rect x="176.4" y="1056.9" width="17.5" height="17.5" fill="#fef2e1"/>
<rect x="193.6" y="1056.9" width="17.5" height="17.5" fill="#fef2e1"/>
<rect x="210.8" y="1056.9" width="17.5" height="17.5" fill="#fef2e1"/>
<rect x="228.1" y="1056.9" width="17.5" height="17.5" fill="#fef2e1"/>
<rect x="245.3" y="1056.9" width="17.5" height="17.5" fill="#fef2e1"/>
<rect x="262.5" y="1056.9" width="17.5" height="17.5" fill="#fef2e1"/>
<rect x="279.7" y="1056.9" width="17.5" height="17.5" fill="#fef2e1"/>
<rect x="296.9" y="1056.9" width="17.5" height="17.5" fill="#fef2e1"/>
<rect x="314.1" y="1056.9" width="17.5" height="17.5" fill="#cd3328"/>
<rect x="331.3" y="1056.9" width="17.5" height="17.5" fill="#fbd6ad"/>
<rect x="348.5" y="1056.9" width="17.5" height="17.5" fill="#fef2e1"/>
<rect x="365.7" y="1056.9" width="17.5" height="17.5" fill="#fef2e1"/>
<rect x="382.9" y="1056.9" width="17.5" height="17.5" fill="#fef2e1"/>
<rect x="400.2" y="1056.9" width="17.5" height="17.5" fill="#fef2e1"/>
<rect x="417.4" y="1056.9" width="17.5" height="17.5" fill="#fef2e1"/>
<rect x="434.6" y="1056.9" width="17.5" height="17.5" fill="#fef2e1"/>
<rect x="451.8" y="1056.9" width="17.5" height="17.5" fill="#fef2e1"/>
<rect x="142.0" y="1074.1" width="17.5" height="17.5" fill="#feefda"/>
<rect x="159.2" y="1074.1" width="17.5" height="17.5" fill="#feefda"/>
<rect x="176.4" y="1074.1" width="17.5" height="17.5" fill="#feefda"/>
<rect x="193.6" y="1074.1" width="17.5" height="17.5" fill="#feefda"/>
<rect x="210.8" y="1074.1" width="17.5" height="17.5" fill="#feefda"/>
<rect x="228.1" y="1074.1" width="17.5" height="17.5" fill="#feefda"/>
<rect x="245.3" y="1074.1" width="17.5" height="17.5" fill="#feefda"/>
<rect x="262.5" y="1074.1" width="17.5" height="17.5" fill="#feefda"/>
<rect x="279.7" y="1074.1" width="17.5" height="17.5" fill="#feefda"/>
<rect x="296.9" y="1074.1" width="17.5" height="17.5" fill="#feefda"/>
<rect x="314.1" y="1074.1" width="17.5" height="17.5" fill="#fde9ce"/>
<rect x="331.3" y="1074.1" width="17.5" height="17.5" fill="#981212"/>
<rect x="348.5" y="1074.1" width="17.5" height="17.5" fill="#feefda"/>
<rect x="365.7" y="1074.1" width="17.5" height="17.5" fill="#feefda"/>
<rect x="382.9" y="1074.1" width="17.5" height="17.5" fill="#feefda"/>
<rect x="400.2" y="1074.1" width="17.5" height="17.5" fill="#feefda"/>
<rect x="417.4" y="1074.1" width="17.5" height="17.5" fill="#feefda"/>
<rect x="434.6" y="1074.1" width="17.5" height="17.5" fill="#feefda"/>
<rect x="451.8" y="1074.1" width="17.5" height="17.5" fill="#feefda"/>
<rect x="142.0" y="1091.3" width="17.5" height="17.5" fill="#fef5e6"/>
<rect x="159.2" y="1091.3" width="17.5" height="17.5" fill="#fef5e6"/>
<rect x="176.4" y="1091.3" width="17.5" height="17.5" fill="#fef5e6"/>
<rect x="193.6" y="1091.3" width="17.5" height="17.5" fill="#fef5e6"/>
<rect x="210.8" y="1091.3" width="17.5" height="17.5" fill="#fef5e6"/>
<rect x="228.1" y="1091.3" width="17.5" height="17.5" fill="#fbd6ad"/>
<rect x="245.3" y="1091.3" width="17.5" height="17.5" fill="#fef5e6"/>
<rect x="262.5" y="1091.3" width="17.5" height="17.5" fill="#fef5e6"/>
<rect x="279.7" y="1091.3" width="17.5" height="17.5" fill="#fef5e6"/>
<rect x="296.9" y="1091.3" width="17.5" height="17.5" fill="#fef5e6"/>
<rect x="314.1" y="1091.3" width="17.5" height="17.5" fill="#fef5e6"/>
<rect x="331.3" y="1091.3" width="17.5" height="17.5" fill="#fef5e6"/>
<rect x="348.5" y="1091.3" width="17.5" height="17.5" fill="#f0895e"/>
<rect x="365.7" y="1091.3" width="17.5" height="17.5" fill="#fdecd4"/>
<rect x="382.9" y="1091.3" width="17.5" height="17.5" fill="#fef5e6"/>
<rect x="400.2" y="1091.3" width="17.5" height="17.5" fill="#fef5e6"/>
<rect x="417.4" y="1091.3" width="17.5" height="17.5" fill="#fef5e6"/>
<rect x="434.6" y="1091.3" width="17.5" height="17.5" fill="#fef5e6"/>
<rect x="451.8" y="1091.3" width="17.5" height="17.5" fill="#fef5e6"/>
<rect x="142.0" y="1108.5" width="17.5" height="17.5" fill="#fef2e1"/>
<rect x="159.2" y="1108.5" width="17.5" height="17.5" fill="#fef2e1"/>
<rect x="176.4" y="1108.5" width="17.5" height="17.5" fill="#fef2e1"/>
<rect x="193.6" y="1108.5" width="17.5" height="17.5" fill="#fef2e1"/>
<rect x="210.8" y="1108.5" width="17.5" height="17.5" fill="#fef2e1"/>
<rect x="228.1" y="1108.5" width="17.5" height="17.5" fill="#fef2e1"/>
<rect x="245.3" y="1108.5" width="17.5" height="17.5" fill="#fdecd4"/>
<rect x="262.5" y="1108.5" width="17.5" height="17.5" fill="#fef2e1"/>
<rect x="279.7" y="1108.5" width="17.5" height="17.5" fill="#fef2e1"/>
<rect x="296.9" y="1108.5" width="17.5" height="17.5" fill="#fef2e1"/>
<rect x="314.1" y="1108.5" width="17.5" height="17.5" fill="#fef2e1"/>
<rect x="331.3" y="1108.5" width="17.5" height="17.5" fill="#fef2e1"/>
<rect x="348.5" y="1108.5" width="17.5" height="17.5" fill="#fef2e1"/>
<rect x="365.7" y="1108.5" width="17.5" height="17.5" fill="#ee7a52"/>
<rect x="382.9" y="1108.5" width="17.5" height="17.5" fill="#fdecd4"/>
<rect x="400.2" y="1108.5" width="17.5" height="17.5" fill="#fef2e1"/>
<rect x="417.4" y="1108.5" width="17.5" height="17.5" fill="#fef2e1"/>
<rect x="434.6" y="1108.5" width="17.5" height="17.5" fill="#fef2e1"/>
<rect x="451.8" y="1108.5" width="17.5" height="17.5" fill="#fef2e1"/>
<rect x="142.0" y="1125.7" width="17.5" height="17.5" fill="#feefda"/>
<rect x="159.2" y="1125.7" width="17.5" height="17.5" fill="#feefda"/>
<rect x="176.4" y="1125.7" width="17.5" height="17.5" fill="#feefda"/>
<rect x="193.6" y="1125.7" width="17.5" height="17.5" fill="#feefda"/>
<rect x="210.8" y="1125.7" width="17.5" height="17.5" fill="#feefda"/>
<rect x="228.1" y="1125.7" width="17.5" height="17.5" fill="#feefda"/>
<rect x="245.3" y="1125.7" width="17.5" height="17.5" fill="#fef2e1"/>
<rect x="262.5" y="1125.7" width="17.5" height="17.5" fill="#feefda"/>
<rect x="279.7" y="1125.7" width="17.5" height="17.5" fill="#feefda"/>
<rect x="296.9" y="1125.7" width="17.5" height="17.5" fill="#feefda"/>
<rect x="314.1" y="1125.7" width="17.5" height="17.5" fill="#feefda"/>
<rect x="331.3" y="1125.7" width="17.5" height="17.5" fill="#feefda"/>
<rect x="348.5" y="1125.7" width="17.5" height="17.5" fill="#feefda"/>
<rect x="365.7" y="1125.7" width="17.5" height="17.5" fill="#feefda"/>
<rect x="382.9" y="1125.7" width="17.5" height="17.5" fill="#bc231e"/>
<rect x="400.2" y="1125.7" width="17.5" height="17.5" fill="#feefda"/>
<rect x="417.4" y="1125.7" width="17.5" height="17.5" fill="#feefda"/>
<rect x="434.6" y="1125.7" width="17.5" height="17.5" fill="#feefda"/>
<rect x="451.8" y="1125.7" width="17.5" height="17.5" fill="#feefda"/>
<rect x="142.0" y="1142.9" width="17.5" height="17.5" fill="#fef5e6"/>
<rect x="159.2" y="1142.9" width="17.5" height="17.5" fill="#fef5e6"/>
<rect x="176.4" y="1142.9" width="17.5" height="17.5" fill="#fef5e6"/>
<rect x="193.6" y="1142.9" width="17.5" height="17.5" fill="#fef5e6"/>
<rect x="210.8" y="1142.9" width="17.5" height="17.5" fill="#fef5e6"/>
<rect x="228.1" y="1142.9" width="17.5" height="17.5" fill="#fef5e6"/>
<rect x="245.3" y="1142.9" width="17.5" height="17.5" fill="#fef2e1"/>
<rect x="262.5" y="1142.9" width="17.5" height="17.5" fill="#fef5e6"/>
<rect x="279.7" y="1142.9" width="17.5" height="17.5" fill="#fef5e6"/>
<rect x="296.9" y="1142.9" width="17.5" height="17.5" fill="#fef5e6"/>
<rect x="314.1" y="1142.9" width="17.5" height="17.5" fill="#fef5e6"/>
<rect x="331.3" y="1142.9" width="17.5" height="17.5" fill="#fef5e6"/>
<rect x="348.5" y="1142.9" width="17.5" height="17.5" fill="#fef5e6"/>
<rect x="365.7" y="1142.9" width="17.5" height="17.5" fill="#fdecd4"/>
<rect x="382.9" y="1142.9" width="17.5" height="17.5" fill="#e2533b"/>
<rect x="400.2" y="1142.9" width="17.5" height="17.5" fill="#fef5e6"/>
<rect x="417.4" y="1142.9" width="17.5" height="17.5" fill="#fef5e6"/>
<rect x="434.6" y="1142.9" width="17.5" height="17.5" fill="#fef5e6"/>
<rect x="451.8" y="1142.9" width="17.5" height="17.5" fill="#fef5e6"/>
<rect x="142.0" y="1160.0" width="17.5" height="17.5" fill="#fef2e1"/>
<rect x="159.2" y="1160.0" width="17.5" height="17.5" fill="#fef2e1"/>
<rect x="176.4" y="1160.0" width="17.5" height="17.5" fill="#fef2e1"/>
<rect x="193.6" y="1160.0" width="17.5" height="17.5" fill="#fef2e1"/>
<rect x="210.8" y="1160.0" width="17.5" height="17.5" fill="#fef2e1"/>
<rect x="228.1" y="1160.0" width="17.5" height="17.5" fill="#fef2e1"/>
<rect x="245.3" y="1160.0" width="17.5" height="17.5" fill="#fef2e1"/>
<rect x="262.5" y="1160.0" width="17.5" height="17.5" fill="#fef2e1"/>
<rect x="279.7" y="1160.0" width="17.5" height="17.5" fill="#fef2e1"/>
<rect x="296.9" y="1160.0" width="17.5" height="17.5" fill="#fef2e1"/>
<rect x="314.1" y="1160.0" width="17.5" height="17.5" fill="#fef2e1"/>
<rect x="331.3" y="1160.0" width="17.5" height="17.5" fill="#fef2e1"/>
<rect x="348.5" y="1160.0" width="17.5" height="17.5" fill="#fef2e1"/>
<rect x="365.7" y="1160.0" width="17.5" height="17.5" fill="#fef2e1"/>
<rect x="382.9" y="1160.0" width="17.5" height="17.5" fill="#fef2e1"/>
<rect x="400.2" y="1160.0" width="17.5" height="17.5" fill="#fad1a6"/>
<rect x="417.4" y="1160.0" width="17.5" height="17.5" fill="#fef2e1"/>
<rect x="434.6" y="1160.0" width="17.5" height="17.5" fill="#fcdcb4"/>
<rect x="451.8" y="1160.0" width="17.5" height="17.5" fill="#fdecd4"/>
<rect x="142.0" y="1177.2" width="17.5" height="17.5" fill="#feefda"/>
<rect x="159.2" y="1177.2" width="17.5" height="17.5" fill="#feefda"/>
<rect x="176.4" y="1177.2" width="17.5" height="17.5" fill="#feefda"/>
<rect x="193.6" y="1177.2" width="17.5" height="17.5" fill="#feefda"/>
<rect x="210.8" y="1177.2" width="17.5" height="17.5" fill="#feefda"/>
<rect x="228.1" y="1177.2" width="17.5" height="17.5" fill="#feefda"/>
<rect x="245.3" y="1177.2" width="17.5" height="17.5" fill="#feefda"/>
<rect x="262.5" y="1177.2" width="17.5" height="17.5" fill="#feefda"/>
<rect x="279.7" y="1177.2" width="17.5" height="17.5" fill="#feefda"/>
<rect x="296.9" y="1177.2" width="17.5" height="17.5" fill="#feefda"/>
<rect x="314.1" y="1177.2" width="17.5" height="17.5" fill="#feefda"/>
<rect x="331.3" y="1177.2" width="17.5" height="17.5" fill="#feefda"/>
<rect x="348.5" y="1177.2" width="17.5" height="17.5" fill="#feefda"/>
<rect x="365.7" y="1177.2" width="17.5" height="17.5" fill="#feefda"/>
<rect x="382.9" y="1177.2" width="17.5" height="17.5" fill="#feefda"/>
<rect x="400.2" y="1177.2" width="17.5" height="17.5" fill="#feefda"/>
<rect x="417.4" y="1177.2" width="17.5" height="17.5" fill="#8d0f0f"/>
<rect x="434.6" y="1177.2" width="17.5" height="17.5" fill="#feefda"/>
<rect x="451.8" y="1177.2" width="17.5" height="17.5" fill="#feefda"/>
<rect x="142.0" y="1194.4" width="17.5" height="17.5" fill="#fef5e6"/>
<rect x="159.2" y="1194.4" width="17.5" height="17.5" fill="#fef5e6"/>
<rect x="176.4" y="1194.4" width="17.5" height="17.5" fill="#fef5e6"/>
<rect x="193.6" y="1194.4" width="17.5" height="17.5" fill="#fef5e6"/>
<rect x="210.8" y="1194.4" width="17.5" height="17.5" fill="#fef5e6"/>
<rect x="228.1" y="1194.4" width="17.5" height="17.5" fill="#fef5e6"/>
<rect x="245.3" y="1194.4" width="17.5" height="17.5" fill="#fcdcb4"/>
<rect x="262.5" y="1194.4" width="17.5" height="17.5" fill="#fef5e6"/>
<rect x="279.7" y="1194.4" width="17.5" height="17.5" fill="#fef5e6"/>
<rect x="296.9" y="1194.4" width="17.5" height="17.5" fill="#fef5e6"/>
<rect x="314.1" y="1194.4" width="17.5" height="17.5" fill="#fef5e6"/>
<rect x="331.3" y="1194.4" width="17.5" height="17.5" fill="#fef5e6"/>
<rect x="348.5" y="1194.4" width="17.5" height="17.5" fill="#fef5e6"/>
<rect x="365.7" y="1194.4" width="17.5" height="17.5" fill="#fef5e6"/>
<rect x="382.9" y="1194.4" width="17.5" height="17.5" fill="#fef5e6"/>
<rect x="400.2" y="1194.4" width="17.5" height="17.5" fill="#fef5e6"/>
<rect x="417.4" y="1194.4" width="17.5" height="17.5" fill="#fef5e6"/>
<rect x="434.6" y="1194.4" width="17.5" height="17.5" fill="#fbd6ad"/>
<rect x="451.8" y="1194.4" width="17.5" height="17.5" fill="#fad1a6"/>
<rect x="142.0" y="1211.6" width="17.5" height="17.5" fill="#fef2e1"/>
<rect x="159.2" y="1211.6" width="17.5" height="17.5" fill="#fef2e1"/>
<rect x="176.4" y="1211.6" width="17.5" height="17.5" fill="#fef2e1"/>
<rect x="193.6" y="1211.6" width="17.5" height="17.5" fill="#fef2e1"/>
<rect x="210.8" y="1211.6" width="17.5" height="17.5" fill="#fef2e1"/>
<rect x="228.1" y="1211.6" width="17.5" height="17.5" fill="#fef2e1"/>
<rect x="245.3" y="1211.6" width="17.5" height="17.5" fill="#f7ba89"/>
<rect x="262.5" y="1211.6" width="17.5" height="17.5" fill="#fef2e1"/>
<rect x="279.7" y="1211.6" width="17.5" height="17.5" fill="#fef2e1"/>
<rect x="296.9" y="1211.6" width="17.5" height="17.5" fill="#fef2e1"/>
<rect x="314.1" y="1211.6" width="17.5" height="17.5" fill="#fef2e1"/>
<rect x="331.3" y="1211.6" width="17.5" height="17.5" fill="#fef2e1"/>
<rect x="348.5" y="1211.6" width="17.5" height="17.5" fill="#fef2e1"/>
<rect x="365.7" y="1211.6" width="17.5" height="17.5" fill="#fef2e1"/>
<rect x="382.9" y="1211.6" width="17.5" height="17.5" fill="#fef2e1"/>
<rect x="400.2" y="1211.6" width="17.5" height="17.5" fill="#fef2e1"/>
<rect x="417.4" y="1211.6" width="17.5" height="17.5" fill="#fef2e1"/>
<rect x="434.6" y="1211.6" width="17.5" height="17.5" fill="#fcdcb4"/>
<rect x="451.8" y="1211.6" width="17.5" height="17.5" fill="#fde2c1"/>
<rect x="142.0" y="1228.8" width="17.5" height="17.5" fill="#feefda"/>
<rect x="159.2" y="1228.8" width="17.5" height="17.5" fill="#feefda"/>
<rect x="176.4" y="1228.8" width="17.5" height="17.5" fill="#feefda"/>
<rect x="193.6" y="1228.8" width="17.5" height="17.5" fill="#feefda"/>
<rect x="210.8" y="1228.8" width="17.5" height="17.5" fill="#feefda"/>
<rect x="228.1" y="1228.8" width="17.5" height="17.5" fill="#feefda"/>
<rect x="245.3" y="1228.8" width="17.5" height="17.5" fill="#fcdcb4"/>
<rect x="262.5" y="1228.8" width="17.5" height="17.5" fill="#feefda"/>
<rect x="279.7" y="1228.8" width="17.5" height="17.5" fill="#feefda"/>
<rect x="296.9" y="1228.8" width="17.5" height="17.5" fill="#feefda"/>
<rect x="314.1" y="1228.8" width="17.5" height="17.5" fill="#feefda"/>
<rect x="331.3" y="1228.8" width="17.5" height="17.5" fill="#feefda"/>
<rect x="348.5" y="1228.8" width="17.5" height="17.5" fill="#feefda"/>
<rect x="365.7" y="1228.8" width="17.5" height="17.5" fill="#feefda"/>
<rect x="382.9" y="1228.8" width="17.5" height="17.5" fill="#feefda"/>
<rect x="400.2" y="1228.8" width="17.5" height="17.5" fill="#feefda"/>
<rect x="417.4" y="1228.8" width="17.5" height="17.5" fill="#feefda"/>
<rect x="434.6" y="1228.8" width="17.5" height="17.5" fill="#fad1a6"/>
<rect x="451.8" y="1228.8" width="17.5" height="17.5" fill="#fde6c7"/>
<rect x="142.0" y="885.0" width="327.0" height="361.0" fill="none" stroke="#000" stroke-width="3.5"/>
<text x="139.0" y="899.4" font-size="17.7" text-anchor="end">pre-pro-B</text>
<text x="139.0" y="916.6" font-size="17.7" text-anchor="end">pro-B</text>
<text x="139.0" y="933.8" font-size="17.7" text-anchor="end">pre-B</text>
<text x="139.0" y="951.0" font-size="17.7" text-anchor="end">B cell</text>
<text x="139.0" y="968.2" font-size="17.7" text-anchor="end">pDC prec</text>
<text x="139.0" y="985.3" font-size="17.7" text-anchor="end">myeloid prog</text>
<text x="139.0" y="1002.5" font-size="17.7" text-anchor="end">MEMP</text>
<text x="139.0" y="1019.7" font-size="17.7" text-anchor="end">mega</text>
<text x="139.0" y="1036.9" font-size="17.7" text-anchor="end">mast</text>
<text x="139.0" y="1054.1" font-size="17.7" text-anchor="end">ILC prec</text>
<text x="139.0" y="1071.3" font-size="17.7" text-anchor="end">early T</text>
<text x="139.0" y="1088.5" font-size="17.7" text-anchor="end">NK</text>
<text x="139.0" y="1105.7" font-size="17.7" text-anchor="end">NMP</text>
<text x="139.0" y="1122.9" font-size="17.7" text-anchor="end">mono-DC prec</text>
<text x="139.0" y="1140.1" font-size="17.7" text-anchor="end">neutro</text>
<text x="139.0" y="1157.3" font-size="17.7" text-anchor="end">mono</text>
<text x="139.0" y="1174.4" font-size="17.7" text-anchor="end">cDC2</text>
<text x="139.0" y="1191.6" font-size="17.7" text-anchor="end">cDC1</text>
<text x="139.0" y="1208.8" font-size="17.7" text-anchor="end">tissue repair mac</text>
<text x="139.0" y="1226.0" font-size="17.7" text-anchor="end">SIGLEC15+ ftM</text>
<text x="139.0" y="1243.2" font-size="17.7" text-anchor="end">TREM2+ ftM</text>
<text x="157.2" y="1249.5" font-size="19" text-anchor="end" transform="rotate(-90 157.2 1249.5)">prob_pre-pro-B</text>
<text x="174.4" y="1249.5" font-size="19" text-anchor="end" transform="rotate(-90 174.4 1249.5)">prob_pro-B</text>
<text x="191.6" y="1249.5" font-size="19" text-anchor="end" transform="rotate(-90 191.6 1249.5)">prob_pre-B</text>
<text x="208.8" y="1249.5" font-size="19" text-anchor="end" transform="rotate(-90 208.8 1249.5)">prob_B cell</text>
<text x="226.0" y="1249.5" font-size="19" text-anchor="end" transform="rotate(-90 226.0 1249.5)">prob_pDC-prec</text>
<text x="243.3" y="1249.5" font-size="19" text-anchor="end" transform="rotate(-90 243.3 1249.5)">prob_HSC</text>
<text x="260.5" y="1249.5" font-size="19" text-anchor="end" transform="rotate(-90 260.5 1249.5)">prob_MEMP</text>
<text x="277.7" y="1249.5" font-size="19" text-anchor="end" transform="rotate(-90 277.7 1249.5)">prob_mega</text>
<text x="294.9" y="1249.5" font-size="19" text-anchor="end" transform="rotate(-90 294.9 1249.5)">prob_mast</text>
<text x="312.1" y="1249.5" font-size="19" text-anchor="end" transform="rotate(-90 312.1 1249.5)">prob_ILC-prec</text>
<text x="329.3" y="1249.5" font-size="19" text-anchor="end" transform="rotate(-90 329.3 1249.5)">prob_early-T</text>
<text x="346.5" y="1249.5" font-size="19" text-anchor="end" transform="rotate(-90 346.5 1249.5)">prob_NK</text>
<text x="363.7" y="1249.5" font-size="19" text-anchor="end" transform="rotate(-90 363.7 1249.5)">prob_NMP</text>
<text x="380.9" y="1249.5" font-size="19" text-anchor="end" transform="rotate(-90 380.9 1249.5)">prob_mono-cDC-prec</text>
<text x="398.2" y="1249.5" font-size="19" text-anchor="end" transform="rotate(-90 398.2 1249.5)">prob_mono</text>
<text x="415.4" y="1249.5" font-size="19" text-anchor="end" transform="rotate(-90 415.4 1249.5)">prob_cDC2</text>
<text x="432.6" y="1249.5" font-size="19" text-anchor="end" transform="rotate(-90 432.6 1249.5)">prob_cDC1</text>
<text x="449.8" y="1249.5" font-size="19" text-anchor="end" transform="rotate(-90 449.8 1249.5)">prob_mono-mac</text>
<text x="467.0" y="1249.5" font-size="19" text-anchor="end" transform="rotate(-90 467.0 1249.5)">prob_Kupffer</text>
<text x="64.6" y="1279.0" font-size="18" text-anchor="middle" textLength="101.6" lengthAdjust="spacingAndGlyphs">label transfer</text>
<text x="64.5" y="1294.0" font-size="18" text-anchor="middle" textLength="79.7" lengthAdjust="spacingAndGlyphs">probability</text>
<rect x="19.0" y="1302.3" width="89.2" height="11.5" fill="url(#gHM)" stroke="#000" stroke-width="2.5"/>
<text x="17.0" y="1333.4" font-size="18" textLength="33.8" lengthAdjust="spacingAndGlyphs">0.25</text>
<text x="50.8" y="1333.4" font-size="18" textLength="35.0" lengthAdjust="spacingAndGlyphs">0.50</text>
<text x="86.0" y="1333.4" font-size="18" textLength="34.7" lengthAdjust="spacingAndGlyphs">0.75</text>
<text x="579.0" y="843.5" font-size="29.5">e</text>
<text x="930.7" y="878.0" font-size="22.5" text-anchor="middle" textLength="216.6" lengthAdjust="spacingAndGlyphs">Immune cell markers</text>
<circle cx="670.2" cy="902.3" r="6.0" fill="#d8221c" stroke="#2a1010" stroke-width="0.8"/>
<circle cx="686.9" cy="902.3" r="1.0" fill="#8a8a8a"/>
<circle cx="703.6" cy="902.3" r="2.5" fill="#fdf6f2" stroke="#555" stroke-width="1.1"/>
<circle cx="720.3" cy="902.3" r="1.4" fill="#555"/>
<circle cx="737.0" cy="902.3" r="2.5" fill="#fdf6f2" stroke="#555" stroke-width="1.1"/>
<circle cx="753.7" cy="902.3" r="3.5" fill="#ee7d5c" stroke="#2a1010" stroke-width="0.8"/>
<circle cx="770.4" cy="902.3" r="1.0" fill="#8a8a8a"/>
<circle cx="787.1" cy="902.3" r="1.4" fill="#555"/>
<circle cx="803.8" cy="902.3" r="3.0" fill="#fdf6f2" stroke="#555" stroke-width="1.1"/>
<circle cx="820.5" cy="902.3" r="2.5" fill="#fdf6f2" stroke="#555" stroke-width="1.1"/>
<circle cx="837.2" cy="902.3" r="3.0" fill="#fdf6f2" stroke="#555" stroke-width="1.1"/>
<circle cx="853.9" cy="902.3" r="1.4" fill="#555"/>
<circle cx="870.6" cy="902.3" r="1.0" fill="#8a8a8a"/>
<circle cx="887.3" cy="902.3" r="1.0" fill="#8a8a8a"/>
<circle cx="904.0" cy="902.3" r="1.0" fill="#8a8a8a"/>
<circle cx="937.4" cy="902.3" r="1.0" fill="#8a8a8a"/>
<circle cx="954.1" cy="902.3" r="4.6" fill="#ee7d5c" stroke="#2a1010" stroke-width="0.8"/>
<circle cx="970.8" cy="902.3" r="2.5" fill="#fdf6f2" stroke="#555" stroke-width="1.1"/>
<circle cx="987.5" cy="902.3" r="1.0" fill="#8a8a8a"/>
<circle cx="1004.2" cy="902.3" r="2.5" fill="#fdf6f2" stroke="#555" stroke-width="1.1"/>
<circle cx="1020.9" cy="902.3" r="5.2" fill="#f8c6aa" stroke="#2a1010" stroke-width="0.8"/>
<circle cx="1037.6" cy="902.3" r="1.0" fill="#8a8a8a"/>
<circle cx="1054.3" cy="902.3" r="1.0" fill="#8a8a8a"/>
<circle cx="1071.0" cy="902.3" r="1.0" fill="#8a8a8a"/>
<circle cx="1104.4" cy="902.3" r="1.0" fill="#8a8a8a"/>
<circle cx="1121.1" cy="902.3" r="1.0" fill="#8a8a8a"/>
<circle cx="1137.8" cy="902.3" r="1.0" fill="#8a8a8a"/>
<circle cx="1154.5" cy="902.3" r="1.0" fill="#8a8a8a"/>
<circle cx="1187.9" cy="902.3" r="1.0" fill="#8a8a8a"/>
<circle cx="1204.6" cy="902.3" r="2.5" fill="#fdf6f2" stroke="#555" stroke-width="1.1"/>
<circle cx="1221.3" cy="902.3" r="2.2" fill="#fdf6f2" stroke="#555" stroke-width="1.1"/>
<circle cx="670.2" cy="918.7" r="3.0" fill="#f8c6aa" stroke="#2a1010" stroke-width="0.8"/>
<circle cx="686.9" cy="918.7" r="3.5" fill="#ee7d5c" stroke="#2a1010" stroke-width="0.8"/>
<circle cx="703.6" cy="918.7" r="6.0" fill="#d8221c" stroke="#2a1010" stroke-width="0.8"/>
<circle cx="720.3" cy="918.7" r="4.5" fill="#ee7d5c" stroke="#2a1010" stroke-width="0.8"/>
<circle cx="737.0" cy="918.7" r="4.5" fill="#ee7d5c" stroke="#2a1010" stroke-width="0.8"/>
<circle cx="753.7" cy="918.7" r="2.5" fill="#fdf6f2" stroke="#555" stroke-width="1.1"/>
<circle cx="770.4" cy="918.7" r="2.5" fill="#fdf6f2" stroke="#555" stroke-width="1.1"/>
<circle cx="803.8" cy="918.7" r="1.4" fill="#555"/>
<circle cx="820.5" cy="918.7" r="2.0" fill="#fdf6f2" stroke="#555" stroke-width="1.1"/>
<circle cx="837.2" cy="918.7" r="1.4" fill="#555"/>
<circle cx="853.9" cy="918.7" r="1.0" fill="#8a8a8a"/>
<circle cx="887.3" cy="918.7" r="1.0" fill="#8a8a8a"/>
<circle cx="904.0" cy="918.7" r="1.0" fill="#8a8a8a"/>
<circle cx="920.7" cy="918.7" r="1.0" fill="#8a8a8a"/>
<circle cx="937.4" cy="918.7" r="1.0" fill="#8a8a8a"/>
<circle cx="954.1" cy="918.7" r="4.6" fill="#ee7d5c" stroke="#2a1010" stroke-width="0.8"/>
<circle cx="970.8" cy="918.7" r="1.0" fill="#8a8a8a"/>
<circle cx="987.5" cy="918.7" r="1.0" fill="#8a8a8a"/>
<circle cx="1004.2" cy="918.7" r="1.0" fill="#8a8a8a"/>
<circle cx="1020.9" cy="918.7" r="2.2" fill="#fdf6f2" stroke="#555" stroke-width="1.1"/>
<circle cx="1054.3" cy="918.7" r="1.0" fill="#8a8a8a"/>
<circle cx="1071.0" cy="918.7" r="1.0" fill="#8a8a8a"/>
<circle cx="1087.7" cy="918.7" r="1.0" fill="#8a8a8a"/>
<circle cx="1104.4" cy="918.7" r="1.0" fill="#8a8a8a"/>
<circle cx="1137.8" cy="918.7" r="1.0" fill="#8a8a8a"/>
<circle cx="1154.5" cy="918.7" r="1.0" fill="#8a8a8a"/>
<circle cx="1171.2" cy="918.7" r="1.0" fill="#8a8a8a"/>
<circle cx="1187.9" cy="918.7" r="1.0" fill="#8a8a8a"/>
<circle cx="1221.3" cy="918.7" r="1.0" fill="#8a8a8a"/>
<circle cx="670.2" cy="935.1" r="3.0" fill="#f8c6aa" stroke="#2a1010" stroke-width="0.8"/>
<circle cx="686.9" cy="935.1" r="5.0" fill="#6e0c0c" stroke="#2a1010" stroke-width="0.8"/>
<circle cx="703.6" cy="935.1" r="6.0" fill="#6e0c0c" stroke="#2a1010" stroke-width="0.8"/>
<circle cx="720.3" cy="935.1" r="3.0" fill="#f8c6aa" stroke="#2a1010" stroke-width="0.8"/>
<circle cx="737.0" cy="935.1" r="2.0" fill="#fdf6f2" stroke="#555" stroke-width="1.1"/>
<circle cx="753.7" cy="935.1" r="1.4" fill="#555"/>
<circle cx="770.4" cy="935.1" r="1.4" fill="#555"/>
<circle cx="787.1" cy="935.1" r="1.0" fill="#8a8a8a"/>
<circle cx="803.8" cy="935.1" r="1.4" fill="#555"/>
<circle cx="820.5" cy="935.1" r="2.8" fill="#ee7d5c" stroke="#2a1010" stroke-width="0.8"/>
<circle cx="837.2" cy="935.1" r="1.0" fill="#8a8a8a"/>
<circle cx="853.9" cy="935.1" r="1.0" fill="#8a8a8a"/>
<circle cx="870.6" cy="935.1" r="1.0" fill="#8a8a8a"/>
<circle cx="887.3" cy="935.1" r="1.0" fill="#8a8a8a"/>
<circle cx="920.7" cy="935.1" r="1.0" fill="#8a8a8a"/>
<circle cx="937.4" cy="935.1" r="1.0" fill="#8a8a8a"/>
<circle cx="954.1" cy="935.1" r="4.6" fill="#ee7d5c" stroke="#2a1010" stroke-width="0.8"/>
<circle cx="970.8" cy="935.1" r="1.0" fill="#8a8a8a"/>
<circle cx="1004.2" cy="935.1" r="1.0" fill="#8a8a8a"/>
<circle cx="1020.9" cy="935.1" r="1.0" fill="#8a8a8a"/>
<circle cx="1037.6" cy="935.1" r="1.0" fill="#8a8a8a"/>
<circle cx="1054.3" cy="935.1" r="1.0" fill="#8a8a8a"/>
<circle cx="1087.7" cy="935.1" r="1.0" fill="#8a8a8a"/>
<circle cx="1104.4" cy="935.1" r="1.0" fill="#8a8a8a"/>
<circle cx="1121.1" cy="935.1" r="1.0" fill="#8a8a8a"/>
<circle cx="1137.8" cy="935.1" r="1.0" fill="#8a8a8a"/>
<circle cx="1171.2" cy="935.1" r="1.0" fill="#8a8a8a"/>
<circle cx="1187.9" cy="935.1" r="1.0" fill="#8a8a8a"/>
<circle cx="1204.6" cy="935.1" r="1.0" fill="#8a8a8a"/>
<circle cx="1221.3" cy="935.1" r="1.0" fill="#8a8a8a"/>
<circle cx="670.2" cy="951.5" r="2.5" fill="#fdf6f2" stroke="#555" stroke-width="1.1"/>
<circle cx="686.9" cy="951.5" r="1.0" fill="#8a8a8a"/>
<circle cx="703.6" cy="951.5" r="2.8" fill="#f8c6aa" stroke="#2a1010" stroke-width="0.8"/>
<circle cx="720.3" cy="951.5" r="6.0" fill="#6e0c0c" stroke="#2a1010" stroke-width="0.8"/>
<circle cx="737.0" cy="951.5" r="5.5" fill="#6e0c0c" stroke="#2a1010" stroke-width="0.8"/>
<circle cx="753.7" cy="951.5" r="4.0" fill="#6e0c0c" stroke="#2a1010" stroke-width="0.8"/>
<circle cx="770.4" cy="951.5" r="4.0" fill="#6e0c0c" stroke="#2a1010" stroke-width="0.8"/>
<circle cx="787.1" cy="951.5" r="1.0" fill="#8a8a8a"/>
<circle cx="803.8" cy="951.5" r="1.4" fill="#555"/>
<circle cx="820.5" cy="951.5" r="1.0" fill="#8a8a8a"/>
<circle cx="837.2" cy="951.5" r="1.0" fill="#8a8a8a"/>
<circle cx="870.6" cy="951.5" r="1.0" fill="#8a8a8a"/>
<circle cx="887.3" cy="951.5" r="1.0" fill="#8a8a8a"/>
<circle cx="904.0" cy="951.5" r="1.0" fill="#8a8a8a"/>
<circle cx="920.7" cy="951.5" r="1.0" fill="#8a8a8a"/>
<circle cx="954.1" cy="951.5" r="4.6" fill="#ee7d5c" stroke="#2a1010" stroke-width="0.8"/>
<circle cx="970.8" cy="951.5" r="1.0" fill="#8a8a8a"/>
<circle cx="987.5" cy="951.5" r="1.0" fill="#8a8a8a"/>
<circle cx="1004.2" cy="951.5" r="1.0" fill="#8a8a8a"/>
<circle cx="1037.6" cy="951.5" r="1.0" fill="#8a8a8a"/>
<circle cx="1054.3" cy="951.5" r="1.0" fill="#8a8a8a"/>
<circle cx="1071.0" cy="951.5" r="1.0" fill="#8a8a8a"/>
<circle cx="1087.7" cy="951.5" r="1.0" fill="#8a8a8a"/>
<circle cx="1121.1" cy="951.5" r="1.0" fill="#8a8a8a"/>
<circle cx="1137.8" cy="951.5" r="1.0" fill="#8a8a8a"/>
<circle cx="1154.5" cy="951.5" r="1.4" fill="#555"/>
<circle cx="1171.2" cy="951.5" r="1.0" fill="#8a8a8a"/>
<circle cx="1204.6" cy="951.5" r="1.0" fill="#8a8a8a"/>
<circle cx="1221.3" cy="951.5" r="1.0" fill="#8a8a8a"/>
<circle cx="670.2" cy="967.9" r="6.0" fill="#6e0c0c" stroke="#2a1010" stroke-width="0.8"/>
<circle cx="686.9" cy="967.9" r="1.0" fill="#8a8a8a"/>
<circle cx="703.6" cy="967.9" r="1.0" fill="#8a8a8a"/>
<circle cx="720.3" cy="967.9" r="2.5" fill="#fdf6f2" stroke="#555" stroke-width="1.1"/>
<circle cx="737.0" cy="967.9" r="4.6" fill="#ee7d5c" stroke="#2a1010" stroke-width="0.8"/>
<circle cx="753.7" cy="967.9" r="1.4" fill="#555"/>
<circle cx="770.4" cy="967.9" r="1.0" fill="#8a8a8a"/>
<circle cx="787.1" cy="967.9" r="5.2" fill="#6e0c0c" stroke="#2a1010" stroke-width="0.8"/>
<circle cx="803.8" cy="967.9" r="6.0" fill="#6e0c0c" stroke="#2a1010" stroke-width="0.8"/>
<circle cx="820.5" cy="967.9" r="1.0" fill="#8a8a8a"/>
<circle cx="837.2" cy="967.9" r="1.0" fill="#8a8a8a"/>
<circle cx="853.9" cy="967.9" r="1.0" fill="#8a8a8a"/>
<circle cx="870.6" cy="967.9" r="1.0" fill="#8a8a8a"/>
<circle cx="904.0" cy="967.9" r="1.0" fill="#8a8a8a"/>
<circle cx="920.7" cy="967.9" r="1.0" fill="#8a8a8a"/>
<circle cx="937.4" cy="967.9" r="1.0" fill="#8a8a8a"/>
<circle cx="954.1" cy="967.9" r="5.2" fill="#d8221c" stroke="#2a1010" stroke-width="0.8"/>
<circle cx="987.5" cy="967.9" r="1.0" fill="#8a8a8a"/>
<circle cx="1004.2" cy="967.9" r="1.0" fill="#8a8a8a"/>
<circle cx="1020.9" cy="967.9" r="2.5" fill="#fdf6f2" stroke="#555" stroke-width="1.1"/>
<circle cx="1037.6" cy="967.9" r="1.0" fill="#8a8a8a"/>
<circle cx="1071.0" cy="967.9" r="1.0" fill="#8a8a8a"/>
<circle cx="1087.7" cy="967.9" r="1.0" fill="#8a8a8a"/>
<circle cx="1104.4" cy="967.9" r="1.0" fill="#8a8a8a"/>
<circle cx="1121.1" cy="967.9" r="1.0" fill="#8a8a8a"/>
<circle cx="1154.5" cy="967.9" r="1.0" fill="#8a8a8a"/>
<circle cx="1171.2" cy="967.9" r="1.0" fill="#8a8a8a"/>
<circle cx="1187.9" cy="967.9" r="1.0" fill="#8a8a8a"/>
<circle cx="1204.6" cy="967.9" r="5.2" fill="#d8221c" stroke="#2a1010" stroke-width="0.8"/>
<circle cx="1221.3" cy="967.9" r="1.4" fill="#555"/>
<circle cx="670.2" cy="984.3" r="1.4" fill="#555"/>
<circle cx="686.9" cy="984.3" r="1.0" fill="#8a8a8a"/>
<circle cx="703.6" cy="984.3" r="2.0" fill="#fdf6f2" stroke="#555" stroke-width="1.1"/>
<circle cx="720.3" cy="984.3" r="1.0" fill="#8a8a8a"/>
<circle cx="737.0" cy="984.3" r="1.0" fill="#8a8a8a"/>
<circle cx="770.4" cy="984.3" r="1.0" fill="#8a8a8a"/>
<circle cx="787.1" cy="984.3" r="1.0" fill="#8a8a8a"/>
<circle cx="803.8" cy="984.3" r="2.5" fill="#fdf6f2" stroke="#555" stroke-width="1.1"/>
<circle cx="820.5" cy="984.3" r="6.0" fill="#6e0c0c" stroke="#2a1010" stroke-width="0.8"/>
<circle cx="837.2" cy="984.3" r="6.0" fill="#6e0c0c" stroke="#2a1010" stroke-width="0.8"/>
<circle cx="853.9" cy="984.3" r="1.4" fill="#555"/>
<circle cx="870.6" cy="984.3" r="1.0" fill="#8a8a8a"/>
<circle cx="887.3" cy="984.3" r="1.0" fill="#8a8a8a"/>
<circle cx="904.0" cy="984.3" r="1.0" fill="#8a8a8a"/>
<circle cx="920.7" cy="984.3" r="4.6" fill="#f8c6aa" stroke="#2a1010" stroke-width="0.8"/>
<circle cx="937.4" cy="984.3" r="2.0" fill="#fdf6f2" stroke="#555" stroke-width="1.1"/>
<circle cx="954.1" cy="984.3" r="2.0" fill="#fdf6f2" stroke="#555" stroke-width="1.1"/>
<circle cx="970.8" cy="984.3" r="1.0" fill="#8a8a8a"/>
<circle cx="987.5" cy="984.3" r="1.4" fill="#555"/>
<circle cx="1004.2" cy="984.3" r="2.5" fill="#fdf6f2" stroke="#555" stroke-width="1.1"/>
<circle cx="1020.9" cy="984.3" r="2.5" fill="#fdf6f2" stroke="#555" stroke-width="1.1"/>
<circle cx="1037.6" cy="984.3" r="1.0" fill="#8a8a8a"/>
<circle cx="1054.3" cy="984.3" r="2.5" fill="#fdf6f2" stroke="#555" stroke-width="1.1"/>
<circle cx="1071.0" cy="984.3" r="1.4" fill="#555"/>
<circle cx="1104.4" cy="984.3" r="1.0" fill="#8a8a8a"/>
<circle cx="1121.1" cy="984.3" r="1.0" fill="#8a8a8a"/>
<circle cx="1137.8" cy="984.3" r="1.0" fill="#8a8a8a"/>
<circle cx="1154.5" cy="984.3" r="1.0" fill="#8a8a8a"/>
<circle cx="1187.9" cy="984.3" r="1.0" fill="#8a8a8a"/>
<circle cx="1204.6" cy="984.3" r="1.4" fill="#555"/>
<circle cx="1221.3" cy="984.3" r="1.4" fill="#555"/>
<circle cx="670.2" cy="1000.7" r="1.0" fill="#8a8a8a"/>
<circle cx="686.9" cy="1000.7" r="1.0" fill="#8a8a8a"/>
<circle cx="720.3" cy="1000.7" r="1.0" fill="#8a8a8a"/>
<circle cx="737.0" cy="1000.7" r="1.0" fill="#8a8a8a"/>
<circle cx="753.7" cy="1000.7" r="1.0" fill="#8a8a8a"/>
<circle cx="770.4" cy="1000.7" r="1.0" fill="#8a8a8a"/>
<circle cx="803.8" cy="1000.7" r="1.4" fill="#555"/>
<circle cx="820.5" cy="1000.7" r="3.0" fill="#f8c6aa" stroke="#2a1010" stroke-width="0.8"/>
<circle cx="837.2" cy="1000.7" r="1.4" fill="#555"/>
<circle cx="853.9" cy="1000.7" r="6.0" fill="#6e0c0c" stroke="#2a1010" stroke-width="0.8"/>
<circle cx="870.6" cy="1000.7" r="5.5" fill="#6e0c0c" stroke="#2a1010" stroke-width="0.8"/>
<circle cx="887.3" cy="1000.7" r="1.4" fill="#555"/>
<circle cx="904.0" cy="1000.7" r="4.0" fill="#f8c6aa" stroke="#2a1010" stroke-width="0.8"/>
<circle cx="920.7" cy="1000.7" r="6.0" fill="#ee7d5c" stroke="#2a1010" stroke-width="0.8"/>
<circle cx="937.4" cy="1000.7" r="4.0" fill="#f8c6aa" stroke="#2a1010" stroke-width="0.8"/>
<circle cx="954.1" cy="1000.7" r="1.4" fill="#555"/>
<circle cx="970.8" cy="1000.7" r="1.0" fill="#8a8a8a"/>
<circle cx="987.5" cy="1000.7" r="1.0" fill="#8a8a8a"/>
<circle cx="1004.2" cy="1000.7" r="1.0" fill="#8a8a8a"/>
<circle cx="1020.9" cy="1000.7" r="1.4" fill="#555"/>
<circle cx="1054.3" cy="1000.7" r="1.0" fill="#8a8a8a"/>
<circle cx="1071.0" cy="1000.7" r="1.0" fill="#8a8a8a"/>
<circle cx="1087.7" cy="1000.7" r="1.0" fill="#8a8a8a"/>
<circle cx="1104.4" cy="1000.7" r="1.0" fill="#8a8a8a"/>
<circle cx="1137.8" cy="1000.7" r="1.0" fill="#8a8a8a"/>
<circle cx="1154.5" cy="1000.7" r="1.0" fill="#8a8a8a"/>
<circle cx="1171.2" cy="1000.7" r="1.0" fill="#8a8a8a"/>
<circle cx="1187.9" cy="1000.7" r="1.0" fill="#8a8a8a"/>
<circle cx="1204.6" cy="1000.7" r="2.0" fill="#fdf6f2" stroke="#555" stroke-width="1.1"/>
<circle cx="1221.3" cy="1000.7" r="1.0" fill="#8a8a8a"/>
<circle cx="670.2" cy="1017.1" r="1.0" fill="#8a8a8a"/>
<circle cx="686.9" cy="1017.1" r="1.0" fill="#8a8a8a"/>
<circle cx="703.6" cy="1017.1" r="1.0" fill="#8a8a8a"/>
<circle cx="720.3" cy="1017.1" r="1.0" fill="#8a8a8a"/>
<circle cx="753.7" cy="1017.1" r="1.0" fill="#8a8a8a"/>
<circle cx="770.4" cy="1017.1" r="1.0" fill="#8a8a8a"/>
<circle cx="787.1" cy="1017.1" r="1.0" fill="#8a8a8a"/>
<circle cx="803.8" cy="1017.1" r="1.0" fill="#8a8a8a"/>
<circle cx="820.5" cy="1017.1" r="1.4" fill="#555"/>
<circle cx="837.2" cy="1017.1" r="1.0" fill="#8a8a8a"/>
<circle cx="853.9" cy="1017.1" r="1.4" fill="#555"/>
<circle cx="870.6" cy="1017.1" r="4.0" fill="#6e0c0c" stroke="#2a1010" stroke-width="0.8"/>
<circle cx="887.3" cy="1017.1" r="5.6" fill="#6e0c0c" stroke="#2a1010" stroke-width="0.8"/>
<circle cx="904.0" cy="1017.1" r="5.0" fill="#6e0c0c" stroke="#2a1010" stroke-width="0.8"/>
<circle cx="920.7" cy="1017.1" r="2.0" fill="#fdf6f2" stroke="#555" stroke-width="1.1"/>
<circle cx="937.4" cy="1017.1" r="1.4" fill="#555"/>
<circle cx="954.1" cy="1017.1" r="1.4" fill="#555"/>
<circle cx="970.8" cy="1017.1" r="1.0" fill="#8a8a8a"/>
<circle cx="1004.2" cy="1017.1" r="1.0" fill="#8a8a8a"/>
<circle cx="1020.9" cy="1017.1" r="1.0" fill="#8a8a8a"/>
<circle cx="1037.6" cy="1017.1" r="1.0" fill="#8a8a8a"/>
<circle cx="1054.3" cy="1017.1" r="1.0" fill="#8a8a8a"/>
<circle cx="1087.7" cy="1017.1" r="1.0" fill="#8a8a8a"/>
<circle cx="1104.4" cy="1017.1" r="1.0" fill="#8a8a8a"/>
<circle cx="1121.1" cy="1017.1" r="1.4" fill="#555"/>
<circle cx="1137.8" cy="1017.1" r="1.0" fill="#8a8a8a"/>
<circle cx="1171.2" cy="1017.1" r="1.0" fill="#8a8a8a"/>
<circle cx="1187.9" cy="1017.1" r="1.0" fill="#8a8a8a"/>
<circle cx="1204.6" cy="1017.1" r="4.0" fill="#ee7d5c" stroke="#2a1010" stroke-width="0.8"/>
<circle cx="1221.3" cy="1017.1" r="1.0" fill="#8a8a8a"/>
<circle cx="670.2" cy="1033.5" r="1.0" fill="#8a8a8a"/>
<circle cx="703.6" cy="1033.5" r="1.0" fill="#8a8a8a"/>
<circle cx="720.3" cy="1033.5" r="1.0" fill="#8a8a8a"/>
<circle cx="737.0" cy="1033.5" r="1.0" fill="#8a8a8a"/>
<circle cx="753.7" cy="1033.5" r="1.0" fill="#8a8a8a"/>
<circle cx="787.1" cy="1033.5" r="1.0" fill="#8a8a8a"/>
<circle cx="803.8" cy="1033.5" r="2.5" fill="#fdf6f2" stroke="#555" stroke-width="1.1"/>
<circle cx="820.5" cy="1033.5" r="1.4" fill="#555"/>
<circle cx="837.2" cy="1033.5" r="1.4" fill="#555"/>
<circle cx="853.9" cy="1033.5" r="4.0" fill="#d8221c" stroke="#2a1010" stroke-width="0.8"/>
<circle cx="870.6" cy="1033.5" r="3.0" fill="#ee7d5c" stroke="#2a1010" stroke-width="0.8"/>
<circle cx="887.3" cy="1033.5" r="1.0" fill="#8a8a8a"/>
<circle cx="904.0" cy="1033.5" r="2.0" fill="#fdf6f2" stroke="#555" stroke-width="1.1"/>
<circle cx="920.7" cy="1033.5" r="6.0" fill="#6e0c0c" stroke="#2a1010" stroke-width="0.8"/>
<circle cx="937.4" cy="1033.5" r="6.0" fill="#6e0c0c" stroke="#2a1010" stroke-width="0.8"/>
<circle cx="954.1" cy="1033.5" r="1.4" fill="#555"/>
<circle cx="970.8" cy="1033.5" r="1.0" fill="#8a8a8a"/>
<circle cx="987.5" cy="1033.5" r="1.0" fill="#8a8a8a"/>
<circle cx="1004.2" cy="1033.5" r="1.0" fill="#8a8a8a"/>
<circle cx="1020.9" cy="1033.5" r="4.6" fill="#f8c6aa" stroke="#2a1010" stroke-width="0.8"/>
<circle cx="1037.6" cy="1033.5" r="1.0" fill="#8a8a8a"/>
<circle cx="1054.3" cy="1033.5" r="1.0" fill="#8a8a8a"/>
<circle cx="1071.0" cy="1033.5" r="1.0" fill="#8a8a8a"/>
<circle cx="1087.7" cy="1033.5" r="1.0" fill="#8a8a8a"/>
<circle cx="1121.1" cy="1033.5" r="1.0" fill="#8a8a8a"/>
<circle cx="1137.8" cy="1033.5" r="1.0" fill="#8a8a8a"/>
<circle cx="1154.5" cy="1033.5" r="1.0" fill="#8a8a8a"/>
<circle cx="1171.2" cy="1033.5" r="1.0" fill="#8a8a8a"/>
<circle cx="1204.6" cy="1033.5" r="2.5" fill="#fdf6f2" stroke="#555" stroke-width="1.1"/>
<circle cx="1221.3" cy="1033.5" r="1.0" fill="#8a8a8a"/>
<circle cx="670.2" cy="1049.9" r="2.0" fill="#fdf6f2" stroke="#555" stroke-width="1.1"/>
<circle cx="686.9" cy="1049.9" r="1.0" fill="#8a8a8a"/>
<circle cx="703.6" cy="1049.9" r="1.0" fill="#8a8a8a"/>
<circle cx="737.0" cy="1049.9" r="1.0" fill="#8a8a8a"/>
<circle cx="753.7" cy="1049.9" r="1.0" fill="#8a8a8a"/>
<circle cx="770.4" cy="1049.9" r="1.0" fill="#8a8a8a"/>
<circle cx="787.1" cy="1049.9" r="1.0" fill="#8a8a8a"/>
<circle cx="803.8" cy="1049.9" r="1.4" fill="#555"/>
<circle cx="820.5" cy="1049.9" r="1.0" fill="#8a8a8a"/>
<circle cx="837.2" cy="1049.9" r="1.4" fill="#555"/>
<circle cx="853.9" cy="1049.9" r="1.0" fill="#8a8a8a"/>
<circle cx="870.6" cy="1049.9" r="1.0" fill="#8a8a8a"/>
<circle cx="904.0" cy="1049.9" r="1.0" fill="#8a8a8a"/>
<circle cx="920.7" cy="1049.9" r="1.0" fill="#8a8a8a"/>
<circle cx="937.4" cy="1049.9" r="1.0" fill="#8a8a8a"/>
<circle cx="954.1" cy="1049.9" r="6.0" fill="#6e0c0c" stroke="#2a1010" stroke-width="0.8"/>
<circle cx="970.8" cy="1049.9" r="4.6" fill="#ee7d5c" stroke="#2a1010" stroke-width="0.8"/>
<circle cx="987.5" cy="1049.9" r="2.5" fill="#fdf6f2" stroke="#555" stroke-width="1.1"/>
<circle cx="1004.2" cy="1049.9" r="3.6" fill="#ee7d5c" stroke="#2a1010" stroke-width="0.8"/>
<circle cx="1020.9" cy="1049.9" r="4.0" fill="#f8c6aa" stroke="#2a1010" stroke-width="0.8"/>
<circle cx="1037.6" cy="1049.9" r="2.0" fill="#fdf6f2" stroke="#555" stroke-width="1.1"/>
<circle cx="1071.0" cy="1049.9" r="1.0" fill="#8a8a8a"/>
<circle cx="1087.7" cy="1049.9" r="1.0" fill="#8a8a8a"/>
<circle cx="1104.4" cy="1049.9" r="1.0" fill="#8a8a8a"/>
<circle cx="1121.1" cy="1049.9" r="1.0" fill="#8a8a8a"/>
<circle cx="1154.5" cy="1049.9" r="1.0" fill="#8a8a8a"/>
<circle cx="1171.2" cy="1049.9" r="1.0" fill="#8a8a8a"/>
<circle cx="1187.9" cy="1049.9" r="1.0" fill="#8a8a8a"/>
<circle cx="1204.6" cy="1049.9" r="1.0" fill="#8a8a8a"/>
<circle cx="686.9" cy="1066.3" r="1.0" fill="#8a8a8a"/>
<circle cx="703.6" cy="1066.3" r="1.0" fill="#8a8a8a"/>
<circle cx="720.3" cy="1066.3" r="1.0" fill="#8a8a8a"/>
<circle cx="737.0" cy="1066.3" r="1.0" fill="#8a8a8a"/>
<circle cx="770.4" cy="1066.3" r="1.0" fill="#8a8a8a"/>
<circle cx="787.1" cy="1066.3" r="1.0" fill="#8a8a8a"/>
<circle cx="803.8" cy="1066.3" r="1.0" fill="#8a8a8a"/>
<circle cx="820.5" cy="1066.3" r="1.0" fill="#8a8a8a"/>
<circle cx="853.9" cy="1066.3" r="1.0" fill="#8a8a8a"/>
<circle cx="870.6" cy="1066.3" r="1.0" fill="#8a8a8a"/>
<circle cx="887.3" cy="1066.3" r="1.0" fill="#8a8a8a"/>
<circle cx="904.0" cy="1066.3" r="1.0" fill="#8a8a8a"/>
<circle cx="937.4" cy="1066.3" r="1.0" fill="#8a8a8a"/>
<circle cx="954.1" cy="1066.3" r="6.0" fill="#6e0c0c" stroke="#2a1010" stroke-width="0.8"/>
<circle cx="970.8" cy="1066.3" r="5.0" fill="#6e0c0c" stroke="#2a1010" stroke-width="0.8"/>
<circle cx="987.5" cy="1066.3" r="6.0" fill="#6e0c0c" stroke="#2a1010" stroke-width="0.8"/>
<circle cx="1004.2" cy="1066.3" r="5.6" fill="#6e0c0c" stroke="#2a1010" stroke-width="0.8"/>
<circle cx="1020.9" cy="1066.3" r="5.0" fill="#ee7d5c" stroke="#2a1010" stroke-width="0.8"/>
<circle cx="1037.6" cy="1066.3" r="2.6" fill="#f8c6aa" stroke="#2a1010" stroke-width="0.8"/>
<circle cx="1054.3" cy="1066.3" r="1.0" fill="#8a8a8a"/>
<circle cx="1071.0" cy="1066.3" r="1.0" fill="#8a8a8a"/>
<circle cx="1104.4" cy="1066.3" r="1.0" fill="#8a8a8a"/>
<circle cx="1121.1" cy="1066.3" r="1.0" fill="#8a8a8a"/>
<circle cx="1137.8" cy="1066.3" r="1.0" fill="#8a8a8a"/>
<circle cx="1154.5" cy="1066.3" r="1.0" fill="#8a8a8a"/>
<circle cx="1187.9" cy="1066.3" r="1.0" fill="#8a8a8a"/>
<circle cx="1204.6" cy="1066.3" r="1.0" fill="#8a8a8a"/>
<circle cx="1221.3" cy="1066.3" r="1.0" fill="#8a8a8a"/>
<circle cx="670.2" cy="1082.7" r="1.0" fill="#8a8a8a"/>
<circle cx="686.9" cy="1082.7" r="1.0" fill="#8a8a8a"/>
<circle cx="720.3" cy="1082.7" r="1.0" fill="#8a8a8a"/>
<circle cx="737.0" cy="1082.7" r="1.0" fill="#8a8a8a"/>
<circle cx="753.7" cy="1082.7" r="1.0" fill="#8a8a8a"/>
<circle cx="770.4" cy="1082.7" r="1.0" fill="#8a8a8a"/>
<circle cx="803.8" cy="1082.7" r="1.0" fill="#8a8a8a"/>
<circle cx="820.5" cy="1082.7" r="1.0" fill="#8a8a8a"/>
<circle cx="837.2" cy="1082.7" r="1.0" fill="#8a8a8a"/>
<circle cx="853.9" cy="1082.7" r="1.0" fill="#8a8a8a"/>
<circle cx="887.3" cy="1082.7" r="1.0" fill="#8a8a8a"/>
<circle cx="904.0" cy="1082.7" r="1.0" fill="#8a8a8a"/>
<circle cx="920.7" cy="1082.7" r="1.0" fill="#8a8a8a"/>
<circle cx="937.4" cy="1082.7" r="1.0" fill="#8a8a8a"/>
<circle cx="954.1" cy="1082.7" r="3.6" fill="#f8c6aa" stroke="#2a1010" stroke-width="0.8"/>
<circle cx="970.8" cy="1082.7" r="6.0" fill="#6e0c0c" stroke="#2a1010" stroke-width="0.8"/>
<circle cx="987.5" cy="1082.7" r="4.5" fill="#d8221c" stroke="#2a1010" stroke-width="0.8"/>
<circle cx="1004.2" cy="1082.7" r="3.5" fill="#ee7d5c" stroke="#2a1010" stroke-width="0.8"/>
<circle cx="1020.9" cy="1082.7" r="6.0" fill="#6e0c0c" stroke="#2a1010" stroke-width="0.8"/>
<circle cx="1037.6" cy="1082.7" r="5.0" fill="#6e0c0c" stroke="#2a1010" stroke-width="0.8"/>
<circle cx="1054.3" cy="1082.7" r="1.0" fill="#8a8a8a"/>
<circle cx="1071.0" cy="1082.7" r="1.0" fill="#8a8a8a"/>
<circle cx="1087.7" cy="1082.7" r="1.0" fill="#8a8a8a"/>
<circle cx="1104.4" cy="1082.7" r="1.0" fill="#8a8a8a"/>
<circle cx="1137.8" cy="1082.7" r="1.0" fill="#8a8a8a"/>
<circle cx="1154.5" cy="1082.7" r="1.0" fill="#8a8a8a"/>
<circle cx="1171.2" cy="1082.7" r="1.0" fill="#8a8a8a"/>
<circle cx="1187.9" cy="1082.7" r="1.0" fill="#8a8a8a"/>
<circle cx="1221.3" cy="1082.7" r="1.0" fill="#8a8a8a"/>
<circle cx="670.2" cy="1099.1" r="1.0" fill="#8a8a8a"/>
<circle cx="686.9" cy="1099.1" r="1.0" fill="#8a8a8a"/>
<circle cx="703.6" cy="1099.1" r="1.4" fill="#555"/>
<circle cx="720.3" cy="1099.1" r="1.0" fill="#8a8a8a"/>
<circle cx="753.7" cy="1099.1" r="1.0" fill="#8a8a8a"/>
<circle cx="770.4" cy="1099.1" r="1.0" fill="#8a8a8a"/>
<circle cx="787.1" cy="1099.1" r="1.0" fill="#8a8a8a"/>
<circle cx="803.8" cy="1099.1" r="1.4" fill="#555"/>
<circle cx="820.5" cy="1099.1" r="1.4" fill="#555"/>
<circle cx="837.2" cy="1099.1" r="2.0" fill="#fdf6f2" stroke="#555" stroke-width="1.1"/>
<circle cx="853.9" cy="1099.1" r="1.0" fill="#8a8a8a"/>
<circle cx="870.6" cy="1099.1" r="1.0" fill="#8a8a8a"/>
<circle cx="887.3" cy="1099.1" r="1.0" fill="#8a8a8a"/>
<circle cx="920.7" cy="1099.1" r="1.4" fill="#555"/>
<circle cx="937.4" cy="1099.1" r="2.0" fill="#fdf6f2" stroke="#555" stroke-width="1.1"/>
<circle cx="954.1" cy="1099.1" r="1.0" fill="#8a8a8a"/>
<circle cx="970.8" cy="1099.1" r="1.0" fill="#8a8a8a"/>
<circle cx="1004.2" cy="1099.1" r="1.0" fill="#8a8a8a"/>
<circle cx="1020.9" cy="1099.1" r="5.0" fill="#f8c6aa" stroke="#2a1010" stroke-width="0.8"/>
<circle cx="1037.6" cy="1099.1" r="1.0" fill="#8a8a8a"/>
<circle cx="1054.3" cy="1099.1" r="6.0" fill="#6e0c0c" stroke="#2a1010" stroke-width="0.8"/>
<circle cx="1071.0" cy="1099.1" r="6.0" fill="#6e0c0c" stroke="#2a1010" stroke-width="0.8"/>
<circle cx="1087.7" cy="1099.1" r="1.4" fill="#555"/>
<circle cx="1104.4" cy="1099.1" r="1.0" fill="#8a8a8a"/>
<circle cx="1121.1" cy="1099.1" r="1.0" fill="#8a8a8a"/>
<circle cx="1137.8" cy="1099.1" r="1.0" fill="#8a8a8a"/>
<circle cx="1171.2" cy="1099.1" r="1.0" fill="#8a8a8a"/>
<circle cx="1187.9" cy="1099.1" r="1.0" fill="#8a8a8a"/>
<circle cx="1204.6" cy="1099.1" r="2.0" fill="#fdf6f2" stroke="#555" stroke-width="1.1"/>
<circle cx="1221.3" cy="1099.1" r="1.4" fill="#555"/>
<circle cx="670.2" cy="1115.5" r="1.0" fill="#8a8a8a"/>
<circle cx="703.6" cy="1115.5" r="1.0" fill="#8a8a8a"/>
<circle cx="720.3" cy="1115.5" r="1.0" fill="#8a8a8a"/>
<circle cx="737.0" cy="1115.5" r="1.0" fill="#8a8a8a"/>
<circle cx="753.7" cy="1115.5" r="1.0" fill="#8a8a8a"/>
<circle cx="787.1" cy="1115.5" r="1.0" fill="#8a8a8a"/>
<circle cx="803.8" cy="1115.5" r="2.0" fill="#fdf6f2" stroke="#555" stroke-width="1.1"/>
<circle cx="820.5" cy="1115.5" r="1.0" fill="#8a8a8a"/>
<circle cx="837.2" cy="1115.5" r="1.0" fill="#8a8a8a"/>
<circle cx="870.6" cy="1115.5" r="1.0" fill="#8a8a8a"/>
<circle cx="887.3" cy="1115.5" r="1.0" fill="#8a8a8a"/>
<circle cx="904.0" cy="1115.5" r="1.0" fill="#8a8a8a"/>
<circle cx="920.7" cy="1115.5" r="1.0" fill="#8a8a8a"/>
<circle cx="954.1" cy="1115.5" r="1.0" fill="#8a8a8a"/>
<circle cx="970.8" cy="1115.5" r="1.0" fill="#8a8a8a"/>
<circle cx="987.5" cy="1115.5" r="1.0" fill="#8a8a8a"/>
<circle cx="1004.2" cy="1115.5" r="1.0" fill="#8a8a8a"/>
<circle cx="1020.9" cy="1115.5" r="5.6" fill="#f8c6aa" stroke="#2a1010" stroke-width="0.8"/>
<circle cx="1037.6" cy="1115.5" r="1.0" fill="#8a8a8a"/>
<circle cx="1054.3" cy="1115.5" r="4.0" fill="#ee7d5c" stroke="#2a1010" stroke-width="0.8"/>
<circle cx="1071.0" cy="1115.5" r="3.6" fill="#f8c6aa" stroke="#2a1010" stroke-width="0.8"/>
<circle cx="1087.7" cy="1115.5" r="1.0" fill="#8a8a8a"/>
<circle cx="1121.1" cy="1115.5" r="4.0" fill="#ee7d5c" stroke="#2a1010" stroke-width="0.8"/>
<circle cx="1137.8" cy="1115.5" r="2.6" fill="#d8221c" stroke="#2a1010" stroke-width="0.8"/>
<circle cx="1154.5" cy="1115.5" r="3.2" fill="#d8221c" stroke="#2a1010" stroke-width="0.8"/>
<circle cx="1171.2" cy="1115.5" r="1.0" fill="#8a8a8a"/>
<circle cx="1204.6" cy="1115.5" r="5.0" fill="#f8c6aa" stroke="#2a1010" stroke-width="0.8"/>
<circle cx="1221.3" cy="1115.5" r="5.0" fill="#f8c6aa" stroke="#2a1010" stroke-width="0.8"/>
<circle cx="670.2" cy="1131.9" r="1.0" fill="#8a8a8a"/>
<circle cx="686.9" cy="1131.9" r="1.0" fill="#8a8a8a"/>
<circle cx="703.6" cy="1131.9" r="1.0" fill="#8a8a8a"/>
<circle cx="737.0" cy="1131.9" r="1.0" fill="#8a8a8a"/>
<circle cx="753.7" cy="1131.9" r="1.0" fill="#8a8a8a"/>
<circle cx="770.4" cy="1131.9" r="1.0" fill="#8a8a8a"/>
<circle cx="787.1" cy="1131.9" r="1.0" fill="#8a8a8a"/>
<circle cx="820.5" cy="1131.9" r="1.0" fill="#8a8a8a"/>
<circle cx="837.2" cy="1131.9" r="1.0" fill="#8a8a8a"/>
<circle cx="853.9" cy="1131.9" r="1.0" fill="#8a8a8a"/>
<circle cx="870.6" cy="1131.9" r="1.0" fill="#8a8a8a"/>
<circle cx="904.0" cy="1131.9" r="1.0" fill="#8a8a8a"/>
<circle cx="920.7" cy="1131.9" r="1.0" fill="#8a8a8a"/>
<circle cx="937.4" cy="1131.9" r="1.0" fill="#8a8a8a"/>
<circle cx="954.1" cy="1131.9" r="2.0" fill="#fdf6f2" stroke="#555" stroke-width="1.1"/>
<circle cx="987.5" cy="1131.9" r="1.0" fill="#8a8a8a"/>
<circle cx="1004.2" cy="1131.9" r="1.0" fill="#8a8a8a"/>
<circle cx="1020.9" cy="1131.9" r="3.0" fill="#f8c6aa" stroke="#2a1010" stroke-width="0.8"/>
<circle cx="1037.6" cy="1131.9" r="1.0" fill="#8a8a8a"/>
<circle cx="1071.0" cy="1131.9" r="1.0" fill="#8a8a8a"/>
<circle cx="1087.7" cy="1131.9" r="5.0" fill="#6e0c0c" stroke="#2a1010" stroke-width="0.8"/>
<circle cx="1104.4" cy="1131.9" r="3.6" fill="#6e0c0c" stroke="#2a1010" stroke-width="0.8"/>
<circle cx="1121.1" cy="1131.9" r="1.0" fill="#8a8a8a"/>
<circle cx="1154.5" cy="1131.9" r="1.0" fill="#8a8a8a"/>
<circle cx="1171.2" cy="1131.9" r="1.0" fill="#8a8a8a"/>
<circle cx="1187.9" cy="1131.9" r="1.0" fill="#8a8a8a"/>
<circle cx="1204.6" cy="1131.9" r="2.0" fill="#fdf6f2" stroke="#555" stroke-width="1.1"/>
<circle cx="686.9" cy="1148.3" r="1.0" fill="#8a8a8a"/>
<circle cx="703.6" cy="1148.3" r="1.0" fill="#8a8a8a"/>
<circle cx="720.3" cy="1148.3" r="1.0" fill="#8a8a8a"/>
<circle cx="737.0" cy="1148.3" r="1.0" fill="#8a8a8a"/>
<circle cx="770.4" cy="1148.3" r="1.0" fill="#8a8a8a"/>
<circle cx="787.1" cy="1148.3" r="1.0" fill="#8a8a8a"/>
<circle cx="803.8" cy="1148.3" r="1.4" fill="#555"/>
<circle cx="820.5" cy="1148.3" r="1.0" fill="#8a8a8a"/>
<circle cx="853.9" cy="1148.3" r="1.0" fill="#8a8a8a"/>
<circle cx="870.6" cy="1148.3" r="1.0" fill="#8a8a8a"/>
<circle cx="887.3" cy="1148.3" r="1.0" fill="#8a8a8a"/>
<circle cx="904.0" cy="1148.3" r="1.0" fill="#8a8a8a"/>
<circle cx="937.4" cy="1148.3" r="1.0" fill="#8a8a8a"/>
<circle cx="954.1" cy="1148.3" r="2.0" fill="#fdf6f2" stroke="#555" stroke-width="1.1"/>
<circle cx="970.8" cy="1148.3" r="1.0" fill="#8a8a8a"/>
<circle cx="987.5" cy="1148.3" r="1.0" fill="#8a8a8a"/>
<circle cx="1020.9" cy="1148.3" r="2.5" fill="#fdf6f2" stroke="#555" stroke-width="1.1"/>
<circle cx="1037.6" cy="1148.3" r="1.0" fill="#8a8a8a"/>
<circle cx="1054.3" cy="1148.3" r="1.0" fill="#8a8a8a"/>
<circle cx="1071.0" cy="1148.3" r="1.0" fill="#8a8a8a"/>
<circle cx="1104.4" cy="1148.3" r="1.0" fill="#8a8a8a"/>
<circle cx="1121.1" cy="1148.3" r="5.6" fill="#6e0c0c" stroke="#2a1010" stroke-width="0.8"/>
<circle cx="1137.8" cy="1148.3" r="1.4" fill="#555"/>
<circle cx="1154.5" cy="1148.3" r="2.2" fill="#fdf6f2" stroke="#555" stroke-width="1.1"/>
<circle cx="1187.9" cy="1148.3" r="1.0" fill="#8a8a8a"/>
<circle cx="1204.6" cy="1148.3" r="5.6" fill="#d8221c" stroke="#2a1010" stroke-width="0.8"/>
<circle cx="1221.3" cy="1148.3" r="4.6" fill="#ee7d5c" stroke="#2a1010" stroke-width="0.8"/>
<circle cx="670.2" cy="1164.7" r="1.0" fill="#8a8a8a"/>
<circle cx="686.9" cy="1164.7" r="1.0" fill="#8a8a8a"/>
<circle cx="720.3" cy="1164.7" r="1.0" fill="#8a8a8a"/>
<circle cx="737.0" cy="1164.7" r="1.0" fill="#8a8a8a"/>
<circle cx="753.7" cy="1164.7" r="1.0" fill="#8a8a8a"/>
<circle cx="770.4" cy="1164.7" r="1.0" fill="#8a8a8a"/>
<circle cx="803.8" cy="1164.7" r="3.0" fill="#fdf6f2" stroke="#555" stroke-width="1.1"/>
<circle cx="820.5" cy="1164.7" r="1.0" fill="#8a8a8a"/>
<circle cx="837.2" cy="1164.7" r="1.0" fill="#8a8a8a"/>
<circle cx="853.9" cy="1164.7" r="2.5" fill="#fdf6f2" stroke="#555" stroke-width="1.1"/>
<circle cx="887.3" cy="1164.7" r="1.0" fill="#8a8a8a"/>
<circle cx="904.0" cy="1164.7" r="1.0" fill="#8a8a8a"/>
<circle cx="920.7" cy="1164.7" r="1.0" fill="#8a8a8a"/>
<circle cx="937.4" cy="1164.7" r="1.0" fill="#8a8a8a"/>
<circle cx="954.1" cy="1164.7" r="2.0" fill="#fdf6f2" stroke="#555" stroke-width="1.1"/>
<circle cx="970.8" cy="1164.7" r="1.0" fill="#8a8a8a"/>
<circle cx="987.5" cy="1164.7" r="1.0" fill="#8a8a8a"/>
<circle cx="1004.2" cy="1164.7" r="1.0" fill="#8a8a8a"/>
<circle cx="1020.9" cy="1164.7" r="2.5" fill="#fdf6f2" stroke="#555" stroke-width="1.1"/>
<circle cx="1054.3" cy="1164.7" r="1.0" fill="#8a8a8a"/>
<circle cx="1071.0" cy="1164.7" r="1.0" fill="#8a8a8a"/>
<circle cx="1087.7" cy="1164.7" r="1.0" fill="#8a8a8a"/>
<circle cx="1104.4" cy="1164.7" r="1.0" fill="#8a8a8a"/>
<circle cx="1137.8" cy="1164.7" r="3.6" fill="#6e0c0c" stroke="#2a1010" stroke-width="0.8"/>
<circle cx="1154.5" cy="1164.7" r="4.0" fill="#6e0c0c" stroke="#2a1010" stroke-width="0.8"/>
<circle cx="1171.2" cy="1164.7" r="1.0" fill="#8a8a8a"/>
<circle cx="1187.9" cy="1164.7" r="1.0" fill="#8a8a8a"/>
<circle cx="1204.6" cy="1164.7" r="5.6" fill="#d8221c" stroke="#2a1010" stroke-width="0.8"/>
<circle cx="1221.3" cy="1164.7" r="5.6" fill="#d8221c" stroke="#2a1010" stroke-width="0.8"/>
<circle cx="670.2" cy="1181.1" r="1.0" fill="#8a8a8a"/>
<circle cx="686.9" cy="1181.1" r="1.0" fill="#8a8a8a"/>
<circle cx="703.6" cy="1181.1" r="1.0" fill="#8a8a8a"/>
<circle cx="720.3" cy="1181.1" r="1.0" fill="#8a8a8a"/>
<circle cx="753.7" cy="1181.1" r="1.0" fill="#8a8a8a"/>
<circle cx="770.4" cy="1181.1" r="1.0" fill="#8a8a8a"/>
<circle cx="787.1" cy="1181.1" r="1.4" fill="#555"/>
<circle cx="803.8" cy="1181.1" r="1.0" fill="#8a8a8a"/>
<circle cx="837.2" cy="1181.1" r="1.0" fill="#8a8a8a"/>
<circle cx="853.9" cy="1181.1" r="1.0" fill="#8a8a8a"/>
<circle cx="870.6" cy="1181.1" r="1.0" fill="#8a8a8a"/>
<circle cx="887.3" cy="1181.1" r="1.0" fill="#8a8a8a"/>
<circle cx="920.7" cy="1181.1" r="1.0" fill="#8a8a8a"/>
<circle cx="937.4" cy="1181.1" r="1.0" fill="#8a8a8a"/>
<circle cx="954.1" cy="1181.1" r="3.6" fill="#fdf6f2" stroke="#555" stroke-width="1.1"/>
<circle cx="970.8" cy="1181.1" r="1.0" fill="#8a8a8a"/>
<circle cx="1004.2" cy="1181.1" r="1.0" fill="#8a8a8a"/>
<circle cx="1020.9" cy="1181.1" r="1.0" fill="#8a8a8a"/>
<circle cx="1037.6" cy="1181.1" r="1.0" fill="#8a8a8a"/>
<circle cx="1054.3" cy="1181.1" r="1.0" fill="#8a8a8a"/>
<circle cx="1087.7" cy="1181.1" r="1.0" fill="#8a8a8a"/>
<circle cx="1104.4" cy="1181.1" r="1.0" fill="#8a8a8a"/>
<circle cx="1121.1" cy="1181.1" r="1.0" fill="#8a8a8a"/>
<circle cx="1137.8" cy="1181.1" r="3.0" fill="#d8221c" stroke="#2a1010" stroke-width="0.8"/>
<circle cx="1171.2" cy="1181.1" r="6.0" fill="#6e0c0c" stroke="#2a1010" stroke-width="0.8"/>
<circle cx="1187.9" cy="1181.1" r="4.0" fill="#6e0c0c" stroke="#2a1010" stroke-width="0.8"/>
<circle cx="1204.6" cy="1181.1" r="5.2" fill="#f8c6aa" stroke="#2a1010" stroke-width="0.8"/>
<circle cx="1221.3" cy="1181.1" r="1.0" fill="#8a8a8a"/>
<circle cx="670.2" cy="1197.5" r="1.0" fill="#8a8a8a"/>
<circle cx="703.6" cy="1197.5" r="1.0" fill="#8a8a8a"/>
<circle cx="720.3" cy="1197.5" r="1.0" fill="#8a8a8a"/>
<circle cx="737.0" cy="1197.5" r="1.0" fill="#8a8a8a"/>
<circle cx="753.7" cy="1197.5" r="1.0" fill="#8a8a8a"/>
<circle cx="787.1" cy="1197.5" r="1.0" fill="#8a8a8a"/>
<circle cx="803.8" cy="1197.5" r="1.4" fill="#555"/>
<circle cx="820.5" cy="1197.5" r="1.0" fill="#8a8a8a"/>
<circle cx="837.2" cy="1197.5" r="1.0" fill="#8a8a8a"/>
<circle cx="853.9" cy="1197.5" r="3.0" fill="#ee7d5c" stroke="#2a1010" stroke-width="0.8"/>
<circle cx="870.6" cy="1197.5" r="1.0" fill="#8a8a8a"/>
<circle cx="887.3" cy="1197.5" r="1.0" fill="#8a8a8a"/>
<circle cx="904.0" cy="1197.5" r="1.0" fill="#8a8a8a"/>
<circle cx="920.7" cy="1197.5" r="1.0" fill="#8a8a8a"/>
<circle cx="954.1" cy="1197.5" r="1.0" fill="#8a8a8a"/>
<circle cx="970.8" cy="1197.5" r="1.0" fill="#8a8a8a"/>
<circle cx="987.5" cy="1197.5" r="1.0" fill="#8a8a8a"/>
<circle cx="1004.2" cy="1197.5" r="1.0" fill="#8a8a8a"/>
<circle cx="1037.6" cy="1197.5" r="1.0" fill="#8a8a8a"/>
<circle cx="1054.3" cy="1197.5" r="1.0" fill="#8a8a8a"/>
<circle cx="1071.0" cy="1197.5" r="1.0" fill="#8a8a8a"/>
<circle cx="1087.7" cy="1197.5" r="1.0" fill="#8a8a8a"/>
<circle cx="1121.1" cy="1197.5" r="1.0" fill="#8a8a8a"/>
<circle cx="1137.8" cy="1197.5" r="1.0" fill="#8a8a8a"/>
<circle cx="1154.5" cy="1197.5" r="1.0" fill="#8a8a8a"/>
<circle cx="1171.2" cy="1197.5" r="1.0" fill="#8a8a8a"/>
<circle cx="1204.6" cy="1197.5" r="6.0" fill="#6e0c0c" stroke="#2a1010" stroke-width="0.8"/>
<circle cx="1221.3" cy="1197.5" r="6.0" fill="#6e0c0c" stroke="#2a1010" stroke-width="0.8"/>
<circle cx="670.2" cy="1213.9" r="1.0" fill="#8a8a8a"/>
<circle cx="686.9" cy="1213.9" r="1.0" fill="#8a8a8a"/>
<circle cx="703.6" cy="1213.9" r="1.0" fill="#8a8a8a"/>
<circle cx="737.0" cy="1213.9" r="1.0" fill="#8a8a8a"/>
<circle cx="753.7" cy="1213.9" r="1.0" fill="#8a8a8a"/>
<circle cx="770.4" cy="1213.9" r="1.0" fill="#8a8a8a"/>
<circle cx="787.1" cy="1213.9" r="1.0" fill="#8a8a8a"/>
<circle cx="820.5" cy="1213.9" r="1.0" fill="#8a8a8a"/>
<circle cx="837.2" cy="1213.9" r="1.0" fill="#8a8a8a"/>
<circle cx="853.9" cy="1213.9" r="5.0" fill="#ee7d5c" stroke="#2a1010" stroke-width="0.8"/>
<circle cx="870.6" cy="1213.9" r="1.0" fill="#8a8a8a"/>
<circle cx="904.0" cy="1213.9" r="1.0" fill="#8a8a8a"/>
<circle cx="920.7" cy="1213.9" r="1.0" fill="#8a8a8a"/>
<circle cx="937.4" cy="1213.9" r="1.0" fill="#8a8a8a"/>
<circle cx="954.1" cy="1213.9" r="1.0" fill="#8a8a8a"/>
<circle cx="987.5" cy="1213.9" r="2.0" fill="#fdf6f2" stroke="#555" stroke-width="1.1"/>
<circle cx="1004.2" cy="1213.9" r="1.0" fill="#8a8a8a"/>
<circle cx="1020.9" cy="1213.9" r="3.6" fill="#fdf6f2" stroke="#555" stroke-width="1.1"/>
<circle cx="1037.6" cy="1213.9" r="1.0" fill="#8a8a8a"/>
<circle cx="1071.0" cy="1213.9" r="1.0" fill="#8a8a8a"/>
<circle cx="1087.7" cy="1213.9" r="1.0" fill="#8a8a8a"/>
<circle cx="1104.4" cy="1213.9" r="1.0" fill="#8a8a8a"/>
<circle cx="1121.1" cy="1213.9" r="1.0" fill="#8a8a8a"/>
<circle cx="1154.5" cy="1213.9" r="1.0" fill="#8a8a8a"/>
<circle cx="1171.2" cy="1213.9" r="1.0" fill="#8a8a8a"/>
<circle cx="1187.9" cy="1213.9" r="1.0" fill="#8a8a8a"/>
<circle cx="1204.6" cy="1213.9" r="6.0" fill="#6e0c0c" stroke="#2a1010" stroke-width="0.8"/>
<circle cx="1221.3" cy="1213.9" r="6.0" fill="#d8221c" stroke="#2a1010" stroke-width="0.8"/>
<circle cx="686.9" cy="1230.3" r="1.0" fill="#8a8a8a"/>
<circle cx="703.6" cy="1230.3" r="1.0" fill="#8a8a8a"/>
<circle cx="720.3" cy="1230.3" r="1.0" fill="#8a8a8a"/>
<circle cx="737.0" cy="1230.3" r="1.0" fill="#8a8a8a"/>
<circle cx="770.4" cy="1230.3" r="1.0" fill="#8a8a8a"/>
<circle cx="787.1" cy="1230.3" r="1.0" fill="#8a8a8a"/>
<circle cx="803.8" cy="1230.3" r="3.0" fill="#fdf6f2" stroke="#555" stroke-width="1.1"/>
<circle cx="820.5" cy="1230.3" r="1.0" fill="#8a8a8a"/>
<circle cx="853.9" cy="1230.3" r="2.5" fill="#fdf6f2" stroke="#555" stroke-width="1.1"/>
<circle cx="870.6" cy="1230.3" r="1.0" fill="#8a8a8a"/>
<circle cx="887.3" cy="1230.3" r="1.0" fill="#8a8a8a"/>
<circle cx="904.0" cy="1230.3" r="1.0" fill="#8a8a8a"/>
<circle cx="937.4" cy="1230.3" r="1.0" fill="#8a8a8a"/>
<circle cx="954.1" cy="1230.3" r="1.0" fill="#8a8a8a"/>
<circle cx="970.8" cy="1230.3" r="1.0" fill="#8a8a8a"/>
<circle cx="987.5" cy="1230.3" r="1.0" fill="#8a8a8a"/>
<circle cx="1020.9" cy="1230.3" r="1.0" fill="#8a8a8a"/>
<circle cx="1037.6" cy="1230.3" r="1.0" fill="#8a8a8a"/>
<circle cx="1054.3" cy="1230.3" r="1.0" fill="#8a8a8a"/>
<circle cx="1071.0" cy="1230.3" r="1.0" fill="#8a8a8a"/>
<circle cx="1104.4" cy="1230.3" r="1.0" fill="#8a8a8a"/>
<circle cx="1121.1" cy="1230.3" r="1.0" fill="#8a8a8a"/>
<circle cx="1137.8" cy="1230.3" r="1.0" fill="#8a8a8a"/>
<circle cx="1154.5" cy="1230.3" r="1.0" fill="#8a8a8a"/>
<circle cx="1187.9" cy="1230.3" r="1.0" fill="#8a8a8a"/>
<circle cx="1204.6" cy="1230.3" r="5.6" fill="#d8221c" stroke="#2a1010" stroke-width="0.8"/>
<circle cx="1221.3" cy="1230.3" r="5.6" fill="#d8221c" stroke="#2a1010" stroke-width="0.8"/>
<rect x="656.5" y="884.6" width="579.3" height="361.8" fill="none" stroke="#000" stroke-width="3"/>
<text x="650.0" y="908.1" font-size="17.7" text-anchor="end">pre-pro-B</text>
<text x="650.0" y="924.5" font-size="17.7" text-anchor="end">pro-B</text>
<text x="650.0" y="940.9" font-size="17.7" text-anchor="end">pre-B</text>
<text x="650.0" y="957.3" font-size="17.7" text-anchor="end">B cell</text>
<text x="650.0" y="973.7" font-size="17.7" text-anchor="end">pDC prec</text>
<text x="650.0" y="990.1" font-size="17.7" text-anchor="end">myeloid prog</text>
<text x="650.0" y="1006.5" font-size="17.7" text-anchor="end">MEMP</text>
<text x="650.0" y="1022.9" font-size="17.7" text-anchor="end">mega</text>
<text x="650.0" y="1039.3" font-size="17.7" text-anchor="end">mast</text>
<text x="650.0" y="1055.7" font-size="17.7" text-anchor="end">ILC prec</text>
<text x="650.0" y="1072.1" font-size="17.7" text-anchor="end">early T</text>
<text x="650.0" y="1088.5" font-size="17.7" text-anchor="end">NK</text>
<text x="650.0" y="1104.9" font-size="17.7" text-anchor="end">NMP</text>
<text x="650.0" y="1121.3" font-size="17.7" text-anchor="end">mono-DC prec</text>
<text x="650.0" y="1137.7" font-size="17.7" text-anchor="end">neutro</text>
<text x="650.0" y="1154.1" font-size="17.7" text-anchor="end">mono</text>
<text x="650.0" y="1170.5" font-size="17.7" text-anchor="end">cDC2</text>
<text x="650.0" y="1186.9" font-size="17.7" text-anchor="end">cDC1</text>
<text x="650.0" y="1203.3" font-size="17.7" text-anchor="end">tissue repair mac</text>
<text x="650.0" y="1219.7" font-size="17.7" text-anchor="end">SIGLEC15+ ftM</text>
<text x="650.0" y="1236.1" font-size="17.7" text-anchor="end">TREM2+ ftM</text>
<text x="676.8" y="1250.5" font-size="19" text-anchor="end" transform="rotate(-90 676.8 1250.5)">JCHAIN</text>
<text x="693.5" y="1250.5" font-size="19" text-anchor="end" transform="rotate(-90 693.5 1250.5)">DNTT</text>
<text x="710.2" y="1250.5" font-size="19" text-anchor="end" transform="rotate(-90 710.2 1250.5)">VPREB1</text>
<text x="726.9" y="1250.5" font-size="19" text-anchor="end" transform="rotate(-90 726.9 1250.5)">TCL1A</text>
<text x="743.6" y="1250.5" font-size="19" text-anchor="end" transform="rotate(-90 743.6 1250.5)">IGLL5</text>
<text x="760.3" y="1250.5" font-size="19" text-anchor="end" transform="rotate(-90 760.3 1250.5)">MS4A1</text>
<text x="777.0" y="1250.5" font-size="19" text-anchor="end" transform="rotate(-90 777.0 1250.5)">FCRLA</text>
<text x="793.7" y="1250.5" font-size="19" text-anchor="end" transform="rotate(-90 793.7 1250.5)">CLEC4C</text>
<text x="810.4" y="1250.5" font-size="19" text-anchor="end" transform="rotate(-90 810.4 1250.5)">IL3RA</text>
<text x="827.1" y="1250.5" font-size="19" text-anchor="end" transform="rotate(-90 827.1 1250.5)">CD34</text>
<text x="843.8" y="1250.5" font-size="19" text-anchor="end" transform="rotate(-90 843.8 1250.5)">SPINK2</text>
<text x="860.5" y="1250.5" font-size="19" text-anchor="end" transform="rotate(-90 860.5 1250.5)">CNRIP1</text>
<text x="877.2" y="1250.5" font-size="19" text-anchor="end" transform="rotate(-90 877.2 1250.5)">GATA1</text>
<text x="893.9" y="1250.5" font-size="19" text-anchor="end" transform="rotate(-90 893.9 1250.5)">PF4</text>
<text x="910.6" y="1250.5" font-size="19" text-anchor="end" transform="rotate(-90 910.6 1250.5)">ITGA2B</text>
<text x="927.3" y="1250.5" font-size="19" text-anchor="end" transform="rotate(-90 927.3 1250.5)">GATA2</text>
<text x="944.0" y="1250.5" font-size="19" text-anchor="end" transform="rotate(-90 944.0 1250.5)">CPA3</text>
<text x="960.7" y="1250.5" font-size="19" text-anchor="end" transform="rotate(-90 960.7 1250.5)">LTB</text>
<text x="977.4" y="1250.5" font-size="19" text-anchor="end" transform="rotate(-90 977.4 1250.5)">KLRB1</text>
<text x="994.1" y="1250.5" font-size="19" text-anchor="end" transform="rotate(-90 994.1 1250.5)">IL32</text>
<text x="1010.8" y="1250.5" font-size="19" text-anchor="end" transform="rotate(-90 1010.8 1250.5)">CD3D</text>
<text x="1027.5" y="1250.5" font-size="19" text-anchor="end" transform="rotate(-90 1027.5 1250.5)">NKG7</text>
<text x="1044.2" y="1250.5" font-size="19" text-anchor="end" transform="rotate(-90 1044.2 1250.5)">IL2RB</text>
<text x="1060.9" y="1250.5" font-size="19" text-anchor="end" transform="rotate(-90 1060.9 1250.5)">MPO</text>
<text x="1077.6" y="1250.5" font-size="19" text-anchor="end" transform="rotate(-90 1077.6 1250.5)">AZU1</text>
<text x="1094.3" y="1250.5" font-size="19" text-anchor="end" transform="rotate(-90 1094.3 1250.5)">PGLYRP1</text>
<text x="1111.0" y="1250.5" font-size="19" text-anchor="end" transform="rotate(-90 1111.0 1250.5)">LTF</text>
<text x="1127.7" y="1250.5" font-size="19" text-anchor="end" transform="rotate(-90 1127.7 1250.5)">VCAN</text>
<text x="1144.4" y="1250.5" font-size="19" text-anchor="end" transform="rotate(-90 1144.4 1250.5)">CD1C</text>
<text x="1161.1" y="1250.5" font-size="19" text-anchor="end" transform="rotate(-90 1161.1 1250.5)">CLEC10A</text>
<text x="1177.8" y="1250.5" font-size="19" text-anchor="end" transform="rotate(-90 1177.8 1250.5)">CLEC9A</text>
<text x="1194.5" y="1250.5" font-size="19" text-anchor="end" transform="rotate(-90 1194.5 1250.5)">XCR1</text>
<text x="1211.2" y="1250.5" font-size="19" text-anchor="end" transform="rotate(-90 1211.2 1250.5)">CD68</text>
<text x="1227.9" y="1250.5" font-size="19" text-anchor="end" transform="rotate(-90 1227.9 1250.5)">CSF1R</text>
<circle cx="524.4" cy="1289.3" r="3.4" fill="#8a8a8a" stroke="#555" stroke-width="0.8"/>
<circle cx="548.0" cy="1289.3" r="5.8" fill="#8a8a8a" stroke="#555" stroke-width="0.8"/>
<circle cx="571.8" cy="1289.3" r="7.7" fill="#8a8a8a" stroke="#555" stroke-width="0.8"/>
<circle cx="595.8" cy="1289.3" r="9.2" fill="#8a8a8a" stroke="#555" stroke-width="0.8"/>
<circle cx="619.6" cy="1289.3" r="11.0" fill="#8a8a8a" stroke="#555" stroke-width="0.8"/>
<text x="577.3" y="1271.5" font-size="18" text-anchor="middle" textLength="56.0" lengthAdjust="spacingAndGlyphs">% cells</text>
<text x="514.0" y="1328.0" font-size="18" textLength="19.0" lengthAdjust="spacingAndGlyphs">20</text>
<text x="538.0" y="1328.0" font-size="18" textLength="19.0" lengthAdjust="spacingAndGlyphs">40</text>
<text x="562.0" y="1328.0" font-size="18" textLength="18.5" lengthAdjust="spacingAndGlyphs">60</text>
<text x="585.5" y="1328.0" font-size="18" textLength="46.5" lengthAdjust="spacingAndGlyphs">80100</text>
<text x="576.0" y="1353.0" font-size="18" text-anchor="middle" textLength="135.0" lengthAdjust="spacingAndGlyphs">Mean expression</text>
<rect x="514.7" y="1362.7" width="120.8" height="15.9" fill="url(#gOrRd2)" stroke="#000" stroke-width="2.4"/>
<text x="514.7" y="1402.0" font-size="18" text-anchor="middle">0.0</text>
<text x="575.2" y="1402.0" font-size="18" text-anchor="middle">0.5</text>
<text x="635.1" y="1402.0" font-size="18" text-anchor="middle">1.0</text>
<rect x="1387.3" y="868.0" width="13.3" height="12.3" fill="#a9d3a3"/>
<rect x="1387.3" y="880.0" width="13.3" height="2.3" fill="#a592cf"/>
<rect x="1387.3" y="882.0" width="13.3" height="5.3" fill="#d3358f"/>
<rect x="1387.3" y="887.0" width="13.3" height="19.8" fill="#f6a9c9"/>
<rect x="1387.3" y="906.5" width="13.3" height="6.3" fill="#e8508c"/>
<rect x="1387.3" y="912.5" width="13.3" height="2.8" fill="#d3358f"/>
<rect x="1387.3" y="915.0" width="13.3" height="3.9" fill="#8f6648"/>
<rect x="1387.3" y="918.6" width="13.3" height="25.7" fill="#d6a96b"/>
<rect x="1387.3" y="944.0" width="13.3" height="3.3" fill="#f1d6c2"/>
<rect x="1387.3" y="947.0" width="13.3" height="18.3" fill="#91bfca"/>
<rect x="1387.3" y="965.0" width="13.3" height="25.3" fill="#f9bb62"/>
<rect x="1387.3" y="990.0" width="13.3" height="267.3" fill="#e4691e"/>
<rect x="1402.0" y="868.0" width="13.3" height="12.3" fill="#a9d3a3"/>
<rect x="1402.0" y="880.0" width="13.3" height="3.9" fill="#3aa870"/>
<rect x="1402.0" y="883.6" width="13.3" height="3.7" fill="#d2cde9"/>
<rect x="1402.0" y="887.0" width="13.3" height="5.3" fill="#d3358f"/>
<rect x="1402.0" y="892.0" width="13.3" height="4.3" fill="#f6a9c9"/>
<rect x="1402.0" y="896.0" width="13.3" height="4.3" fill="#e8508c"/>
<rect x="1402.0" y="900.0" width="13.3" height="4.1" fill="#1f58a8"/>
<rect x="1402.0" y="903.8" width="13.3" height="7.5" fill="#6cc4cf"/>
<rect x="1402.0" y="911.0" width="13.3" height="4.3" fill="#8f6648"/>
<rect x="1402.0" y="915.0" width="13.3" height="26.3" fill="#d6a96b"/>
<rect x="1402.0" y="941.0" width="13.3" height="2.3" fill="#f1d6c2"/>
<rect x="1402.0" y="943.0" width="13.3" height="37.3" fill="#91bfca"/>
<rect x="1402.0" y="980.0" width="13.3" height="24.3" fill="#f9bb62"/>
<rect x="1402.0" y="1004.0" width="13.3" height="245.3" fill="#e4691e"/>
<rect x="1402.0" y="1249.0" width="13.3" height="8.3" fill="#a8b823"/>
<rect x="1416.5" y="868.0" width="13.3" height="2.3" fill="#8f6648"/>
<rect x="1416.5" y="870.0" width="13.3" height="12.3" fill="#f6a9c9"/>
<rect x="1416.5" y="882.0" width="13.3" height="3.9" fill="#1f58a8"/>
<rect x="1416.5" y="885.6" width="13.3" height="14.7" fill="#6cc4cf"/>
<rect x="1416.5" y="900.0" width="13.3" height="3.3" fill="#f1d6c2"/>
<rect x="1416.5" y="903.0" width="13.3" height="25.3" fill="#91bfca"/>
<rect x="1416.5" y="928.0" width="13.3" height="8.3" fill="#f9bb62"/>
<rect x="1416.5" y="936.0" width="13.3" height="317.3" fill="#e4691e"/>
<rect x="1416.5" y="1253.0" width="13.3" height="4.3" fill="#a8b823"/>
<rect x="1430.7" y="868.0" width="13.3" height="6.3" fill="#6fbd2d"/>
<rect x="1430.7" y="874.0" width="13.3" height="3.8" fill="#2c6e30"/>
<rect x="1430.7" y="877.5" width="13.3" height="1.8" fill="#d2cde9"/>
<rect x="1430.7" y="879.0" width="13.3" height="3.3" fill="#1f58a8"/>
<rect x="1430.7" y="882.0" width="13.3" height="109.3" fill="#6cc4cf"/>
<rect x="1430.7" y="991.0" width="13.3" height="3.9" fill="#f1d6c2"/>
<rect x="1430.7" y="994.6" width="13.3" height="12.7" fill="#91bfca"/>
<rect x="1430.7" y="1007.0" width="13.3" height="6.8" fill="#f9bb62"/>
<rect x="1430.7" y="1013.5" width="13.3" height="2.3" fill="#7b5a17"/>
<rect x="1430.7" y="1015.5" width="13.3" height="240.3" fill="#e4691e"/>
<rect x="1430.7" y="1255.5" width="13.3" height="1.8" fill="#a8b823"/>
<rect x="1445.7" y="868.0" width="13.3" height="16.3" fill="#3aa870"/>
<rect x="1445.7" y="884.0" width="13.3" height="13.3" fill="#6fbd2d"/>
<rect x="1445.7" y="897.0" width="13.3" height="65.0" fill="#2c6e30"/>
<rect x="1445.7" y="961.7" width="13.3" height="2.3" fill="#d2cde9"/>
<rect x="1445.7" y="963.7" width="13.3" height="12.4" fill="#a592cf"/>
<rect x="1445.7" y="975.8" width="13.3" height="17.5" fill="#d3358f"/>
<rect x="1445.7" y="993.0" width="13.3" height="16.1" fill="#f6a9c9"/>
<rect x="1445.7" y="1008.8" width="13.3" height="5.0" fill="#e8508c"/>
<rect x="1445.7" y="1013.5" width="13.3" height="2.8" fill="#1f58a8"/>
<rect x="1445.7" y="1016.0" width="13.3" height="16.7" fill="#71b9ea"/>
<rect x="1445.7" y="1032.4" width="13.3" height="37.3" fill="#6cc4cf"/>
<rect x="1445.7" y="1069.4" width="13.3" height="5.9" fill="#8f6648"/>
<rect x="1445.7" y="1075.0" width="13.3" height="17.8" fill="#d6a96b"/>
<rect x="1445.7" y="1092.5" width="13.3" height="12.8" fill="#f1d6c2"/>
<rect x="1445.7" y="1105.0" width="13.3" height="65.3" fill="#91bfca"/>
<rect x="1445.7" y="1170.0" width="13.3" height="8.3" fill="#f9bb62"/>
<rect x="1445.7" y="1178.0" width="13.3" height="79.3" fill="#e4691e"/>
<rect x="1460.3" y="868.0" width="13.3" height="3.7" fill="#3aa870"/>
<rect x="1460.3" y="871.4" width="13.3" height="1.7" fill="#d2cde9"/>
<rect x="1460.3" y="872.8" width="13.3" height="7.0" fill="#a592cf"/>
<rect x="1460.3" y="879.5" width="13.3" height="9.8" fill="#f6a9c9"/>
<rect x="1460.3" y="889.0" width="13.3" height="4.3" fill="#1f58a8"/>
<rect x="1460.3" y="893.0" width="13.3" height="7.3" fill="#71b9ea"/>
<rect x="1460.3" y="900.0" width="13.3" height="47.8" fill="#6cc4cf"/>
<rect x="1460.3" y="947.5" width="13.3" height="12.8" fill="#d6a96b"/>
<rect x="1460.3" y="960.0" width="13.3" height="3.3" fill="#f1d6c2"/>
<rect x="1460.3" y="963.0" width="13.3" height="34.3" fill="#91bfca"/>
<rect x="1460.3" y="997.0" width="13.3" height="11.3" fill="#f9bb62"/>
<rect x="1460.3" y="1008.0" width="13.3" height="241.3" fill="#e4691e"/>
<rect x="1460.3" y="1249.0" width="13.3" height="8.3" fill="#a8b823"/>
<rect x="1474.9" y="868.0" width="13.3" height="8.3" fill="#3aa870"/>
<rect x="1474.9" y="876.0" width="13.3" height="10.3" fill="#6fbd2d"/>
<rect x="1474.9" y="886.0" width="13.3" height="17.3" fill="#2c6e30"/>
<rect x="1474.9" y="903.0" width="13.3" height="3.1" fill="#d2cde9"/>
<rect x="1474.9" y="905.8" width="13.3" height="8.5" fill="#e8508c"/>
<rect x="1474.9" y="914.0" width="13.3" height="46.3" fill="#71b9ea"/>
<rect x="1474.9" y="960.0" width="13.3" height="44.3" fill="#6cc4cf"/>
<rect x="1474.9" y="1004.0" width="13.3" height="2.3" fill="#8f6648"/>
<rect x="1474.9" y="1006.0" width="13.3" height="7.8" fill="#d6a96b"/>
<rect x="1474.9" y="1013.5" width="13.3" height="5.8" fill="#f1d6c2"/>
<rect x="1474.9" y="1019.0" width="13.3" height="50.3" fill="#91bfca"/>
<rect x="1474.9" y="1069.0" width="13.3" height="14.3" fill="#f9bb62"/>
<rect x="1474.9" y="1083.0" width="13.3" height="2.3" fill="#7b5a17"/>
<rect x="1474.9" y="1085.0" width="13.3" height="172.3" fill="#e4691e"/>
<rect x="1499.0" y="868.0" width="13.3" height="48.3" fill="#a9d3a3"/>
<rect x="1499.0" y="916.0" width="13.3" height="10.3" fill="#3aa870"/>
<rect x="1499.0" y="926.0" width="13.3" height="4.3" fill="#6fbd2d"/>
<rect x="1499.0" y="930.0" width="13.3" height="2.3" fill="#2c6e30"/>
<rect x="1499.0" y="932.0" width="13.3" height="3.7" fill="#d2cde9"/>
<rect x="1499.0" y="935.4" width="13.3" height="8.4" fill="#d3358f"/>
<rect x="1499.0" y="943.5" width="13.3" height="2.8" fill="#f6a9c9"/>
<rect x="1499.0" y="946.0" width="13.3" height="7.3" fill="#e8508c"/>
<rect x="1499.0" y="953.0" width="13.3" height="12.3" fill="#1f58a8"/>
<rect x="1499.0" y="965.0" width="13.3" height="4.3" fill="#71b9ea"/>
<rect x="1499.0" y="969.0" width="13.3" height="2.3" fill="#8f6648"/>
<rect x="1499.0" y="971.0" width="13.3" height="48.3" fill="#d6a96b"/>
<rect x="1499.0" y="1019.0" width="13.3" height="4.9" fill="#f1d6c2"/>
<rect x="1499.0" y="1023.6" width="13.3" height="45.7" fill="#91bfca"/>
<rect x="1499.0" y="1069.0" width="13.3" height="43.3" fill="#f9bb62"/>
<rect x="1499.0" y="1112.0" width="13.3" height="142.3" fill="#e4691e"/>
<rect x="1499.0" y="1254.0" width="13.3" height="3.3" fill="#a8b823"/>
<rect x="1513.0" y="868.0" width="13.3" height="5.3" fill="#a9d3a3"/>
<rect x="1513.0" y="873.0" width="13.3" height="3.3" fill="#3aa870"/>
<rect x="1513.0" y="876.0" width="13.3" height="5.3" fill="#d3358f"/>
<rect x="1513.0" y="881.0" width="13.3" height="22.3" fill="#f6a9c9"/>
<rect x="1513.0" y="903.0" width="13.3" height="9.3" fill="#1f58a8"/>
<rect x="1513.0" y="912.0" width="13.3" height="7.3" fill="#71b9ea"/>
<rect x="1513.0" y="919.0" width="13.3" height="5.9" fill="#d6a96b"/>
<rect x="1513.0" y="924.6" width="13.3" height="21.7" fill="#91bfca"/>
<rect x="1513.0" y="946.0" width="13.3" height="32.8" fill="#f9bb62"/>
<rect x="1513.0" y="978.5" width="13.3" height="264.8" fill="#e4691e"/>
<rect x="1513.0" y="1243.0" width="13.3" height="14.3" fill="#a8b823"/>
<rect x="1527.7" y="868.0" width="13.3" height="40.3" fill="#91bfca"/>
<rect x="1527.7" y="908.0" width="13.3" height="13.3" fill="#f9bb62"/>
<rect x="1527.7" y="921.0" width="13.3" height="296.3" fill="#e4691e"/>
<rect x="1527.7" y="1217.0" width="13.3" height="13.3" fill="#7d66b6"/>
<rect x="1527.7" y="1230.0" width="13.3" height="27.3" fill="#a8b823"/>
<rect x="1542.3" y="868.0" width="13.3" height="12.3" fill="#3aa870"/>
<rect x="1542.3" y="880.0" width="13.3" height="15.3" fill="#6fbd2d"/>
<rect x="1542.3" y="895.0" width="13.3" height="5.7" fill="#2c6e30"/>
<rect x="1542.3" y="900.4" width="13.3" height="2.9" fill="#d2cde9"/>
<rect x="1542.3" y="903.0" width="13.3" height="9.3" fill="#e8508c"/>
<rect x="1542.3" y="912.0" width="13.3" height="26.3" fill="#6cc4cf"/>
<rect x="1542.3" y="938.0" width="13.3" height="2.3" fill="#8f6648"/>
<rect x="1542.3" y="940.0" width="13.3" height="17.3" fill="#d6a96b"/>
<rect x="1542.3" y="957.0" width="13.3" height="12.3" fill="#f1d6c2"/>
<rect x="1542.3" y="969.0" width="13.3" height="34.3" fill="#91bfca"/>
<rect x="1542.3" y="1003.0" width="13.3" height="39.3" fill="#f9bb62"/>
<rect x="1542.3" y="1042.0" width="13.3" height="177.3" fill="#e4691e"/>
<rect x="1542.3" y="1219.0" width="13.3" height="16.8" fill="#7d66b6"/>
<rect x="1542.3" y="1235.5" width="13.3" height="21.8" fill="#a8b823"/>
<rect x="1556.9" y="868.0" width="13.3" height="4.3" fill="#6fbd2d"/>
<rect x="1556.9" y="872.0" width="13.3" height="3.8" fill="#3aa870"/>
<rect x="1556.9" y="875.5" width="13.3" height="6.3" fill="#2c6e30"/>
<rect x="1556.9" y="881.5" width="13.3" height="2.8" fill="#d2cde9"/>
<rect x="1556.9" y="884.0" width="13.3" height="7.3" fill="#f6a9c9"/>
<rect x="1556.9" y="891.0" width="13.3" height="12.3" fill="#6cc4cf"/>
<rect x="1556.9" y="903.0" width="13.3" height="4.3" fill="#d6a96b"/>
<rect x="1556.9" y="907.0" width="13.3" height="15.9" fill="#91bfca"/>
<rect x="1556.9" y="922.6" width="13.3" height="146.7" fill="#f9bb62"/>
<rect x="1556.9" y="1069.0" width="13.3" height="158.3" fill="#e4691e"/>
<rect x="1556.9" y="1227.0" width="13.3" height="5.3" fill="#7d66b6"/>
<rect x="1556.9" y="1232.0" width="13.3" height="25.3" fill="#a8b823"/>
<rect x="1571.5" y="868.0" width="13.3" height="18.3" fill="#3aa870"/>
<rect x="1571.5" y="886.0" width="13.3" height="10.0" fill="#6fbd2d"/>
<rect x="1571.5" y="895.7" width="13.3" height="39.3" fill="#2c6e30"/>
<rect x="1571.5" y="934.7" width="13.3" height="3.0" fill="#d2cde9"/>
<rect x="1571.5" y="937.4" width="13.3" height="4.9" fill="#e8508c"/>
<rect x="1571.5" y="942.0" width="13.3" height="30.1" fill="#71b9ea"/>
<rect x="1571.5" y="971.8" width="13.3" height="8.5" fill="#d6a96b"/>
<rect x="1571.5" y="980.0" width="13.3" height="2.3" fill="#f1d6c2"/>
<rect x="1571.5" y="982.0" width="13.3" height="25.1" fill="#91bfca"/>
<rect x="1571.5" y="1006.8" width="13.3" height="91.2" fill="#f9bb62"/>
<rect x="1571.5" y="1097.7" width="13.3" height="143.2" fill="#e4691e"/>
<rect x="1571.5" y="1240.6" width="13.3" height="16.7" fill="#a8b823"/>
<rect x="1586.0" y="868.0" width="13.3" height="9.3" fill="#3aa870"/>
<rect x="1586.0" y="877.0" width="13.3" height="14.9" fill="#6fbd2d"/>
<rect x="1586.0" y="891.6" width="13.3" height="51.5" fill="#2c6e30"/>
<rect x="1586.0" y="942.8" width="13.3" height="5.0" fill="#d2cde9"/>
<rect x="1586.0" y="947.5" width="13.3" height="5.8" fill="#d3358f"/>
<rect x="1586.0" y="953.0" width="13.3" height="4.3" fill="#f6a9c9"/>
<rect x="1586.0" y="957.0" width="13.3" height="5.0" fill="#e8508c"/>
<rect x="1586.0" y="961.7" width="13.3" height="18.6" fill="#71b9ea"/>
<rect x="1586.0" y="980.0" width="13.3" height="19.3" fill="#6cc4cf"/>
<rect x="1586.0" y="999.0" width="13.3" height="2.7" fill="#8f6648"/>
<rect x="1586.0" y="1001.4" width="13.3" height="8.4" fill="#d6a96b"/>
<rect x="1586.0" y="1009.5" width="13.3" height="17.8" fill="#91bfca"/>
<rect x="1586.0" y="1027.0" width="13.3" height="33.9" fill="#f9bb62"/>
<rect x="1586.0" y="1060.6" width="13.3" height="1.7" fill="#7b5a17"/>
<rect x="1586.0" y="1062.0" width="13.3" height="178.9" fill="#e4691e"/>
<rect x="1586.0" y="1240.6" width="13.3" height="16.7" fill="#a8b823"/>
<text x="1381.0" y="874.5" font-size="18.5" text-anchor="end" textLength="34.0" lengthAdjust="spacingAndGlyphs" fill="#4d4d4d">1.00</text>
<text x="1381.0" y="971.5" font-size="18.5" text-anchor="end" textLength="34.0" lengthAdjust="spacingAndGlyphs" fill="#4d4d4d">0.75</text>
<text x="1381.0" y="1069.0" font-size="18.5" text-anchor="end" textLength="34.0" lengthAdjust="spacingAndGlyphs" fill="#4d4d4d">0.50</text>
<text x="1381.0" y="1166.5" font-size="18.5" text-anchor="end" textLength="34.0" lengthAdjust="spacingAndGlyphs" fill="#4d4d4d">0.25</text>
<text x="1381.0" y="1263.5" font-size="18.5" text-anchor="end" textLength="34.0" lengthAdjust="spacingAndGlyphs" fill="#4d4d4d">0.00</text>
<text x="1394.0" y="1290.5" font-size="18.5" text-anchor="end" transform="rotate(-45 1394.0 1290.5)" fill="#4d4d4d">6</text>
<text x="1409.4" y="1290.5" font-size="18.5" text-anchor="end" transform="rotate(-45 1409.4 1290.5)" fill="#4d4d4d">7–8</text>
<text x="1424.6" y="1290.5" font-size="18.5" text-anchor="end" transform="rotate(-45 1424.6 1290.5)" fill="#4d4d4d">9–10</text>
<text x="1439.4" y="1290.5" font-size="18.5" text-anchor="end" transform="rotate(-45 1439.4 1290.5)" fill="#4d4d4d">11–12</text>
<text x="1455.1" y="1290.5" font-size="18.5" text-anchor="end" transform="rotate(-45 1455.1 1290.5)" fill="#4d4d4d">13–14</text>
<text x="1470.3" y="1290.5" font-size="18.5" text-anchor="end" transform="rotate(-45 1470.3 1290.5)" fill="#4d4d4d">15–16</text>
<text x="1485.6" y="1290.5" font-size="18.5" text-anchor="end" transform="rotate(-45 1485.6 1290.5)" fill="#4d4d4d">17–21</text>
<text x="1505.8" y="1290.5" font-size="18.5" text-anchor="end" transform="rotate(-45 1505.8 1290.5)" fill="#4d4d4d">6</text>
<text x="1520.4" y="1290.5" font-size="18.5" text-anchor="end" transform="rotate(-45 1520.4 1290.5)" fill="#4d4d4d">7–8</text>
<text x="1535.8" y="1290.5" font-size="18.5" text-anchor="end" transform="rotate(-45 1535.8 1290.5)" fill="#4d4d4d">9–10</text>
<text x="1551.0" y="1290.5" font-size="18.5" text-anchor="end" transform="rotate(-45 1551.0 1290.5)" fill="#4d4d4d">11–12</text>
<text x="1566.3" y="1290.5" font-size="18.5" text-anchor="end" transform="rotate(-45 1566.3 1290.5)" fill="#4d4d4d">13–14</text>
<text x="1581.5" y="1290.5" font-size="18.5" text-anchor="end" transform="rotate(-45 1581.5 1290.5)" fill="#4d4d4d">15–16</text>
<text x="1596.7" y="1290.5" font-size="18.5" text-anchor="end" transform="rotate(-45 1596.7 1290.5)" fill="#4d4d4d">17–21</text>
<text x="1506.0" y="1349.0" font-size="22" text-anchor="middle">PCW</text>
<text x="1440.0" y="859.0" font-size="22" text-anchor="middle" fill="#c0393b">female</text>
<text x="1551.7" y="859.0" font-size="22" text-anchor="middle" fill="#3b6ea8">male</text>
<text x="1339.5" y="1045.0" font-size="18.5" text-anchor="middle" textLength="146.0" lengthAdjust="spacingAndGlyphs" transform="rotate(-90 1339.5 1045.0)">fraction of cells</text>
<text x="1280.0" y="846.0" font-size="29.5">f</text>
<text x="1617.0" y="906.0" font-size="17.5" textLength="57.0" lengthAdjust="spacingAndGlyphs">celltype</text>
<rect x="1617.8" y="915.8" width="12.5" height="13.0" fill="#a9d3a3"/>
<text x="1637.5" y="927.6" font-size="17.5">pre_pro_B</text>
<rect x="1617.8" y="931.2" width="12.5" height="13.0" fill="#3aa870"/>
<text x="1637.5" y="943.0" font-size="17.5">pro_B</text>
<rect x="1617.8" y="946.6" width="12.5" height="13.0" fill="#6fbd2d"/>
<text x="1637.5" y="958.4" font-size="17.5">pre_B</text>
<rect x="1617.8" y="962.0" width="12.5" height="13.0" fill="#2c6e30"/>
<text x="1637.5" y="973.8" font-size="17.5">B cell</text>
<rect x="1617.8" y="977.4" width="12.5" height="13.0" fill="#d2cde9"/>
<text x="1637.5" y="989.2" font-size="17.5">pDC prec</text>
<rect x="1617.8" y="992.8" width="12.5" height="13.0" fill="#a592cf"/>
<text x="1637.5" y="1004.6" font-size="17.5">myeloid prog</text>
<rect x="1617.8" y="1008.2" width="12.5" height="13.0" fill="#d3358f"/>
<text x="1637.5" y="1020.0" font-size="17.5">MEMP</text>
<rect x="1617.8" y="1023.6" width="12.5" height="13.0" fill="#f6a9c9"/>
<text x="1637.5" y="1035.4" font-size="17.5">mega</text>
<rect x="1617.8" y="1039.0" width="12.5" height="13.0" fill="#e8508c"/>
<text x="1637.5" y="1050.8" font-size="17.5">mast</text>
<rect x="1617.8" y="1054.4" width="12.5" height="13.0" fill="#1f58a8"/>
<text x="1637.5" y="1066.2" font-size="17.5">ILC prec</text>
<rect x="1617.8" y="1069.8" width="12.5" height="13.0" fill="#71b9ea"/>
<text x="1637.5" y="1081.6" font-size="17.5">early T</text>
<rect x="1617.8" y="1085.2" width="12.5" height="13.0" fill="#6cc4cf"/>
<text x="1637.5" y="1097.0" font-size="17.5">NK</text>
<rect x="1617.8" y="1100.6" width="12.5" height="13.0" fill="#8f6648"/>
<text x="1637.5" y="1112.4" font-size="17.5">NMP</text>
<rect x="1617.8" y="1116.0" width="12.5" height="13.0" fill="#d6a96b"/>
<text x="1637.5" y="1127.8" font-size="17.5">mono_DC prec</text>
<rect x="1617.8" y="1131.4" width="12.5" height="13.0" fill="#f1d6c2"/>
<text x="1637.5" y="1143.2" font-size="17.5">neutro</text>
<rect x="1617.8" y="1146.8" width="12.5" height="13.0" fill="#91bfca"/>
<text x="1637.5" y="1158.6" font-size="17.5">mono</text>
<rect x="1617.8" y="1162.2" width="12.5" height="13.0" fill="#f9bb62"/>
<text x="1637.5" y="1174.0" font-size="17.5">cDC2</text>
<rect x="1617.8" y="1177.6" width="12.5" height="13.0" fill="#7b5a17"/>
<text x="1637.5" y="1189.4" font-size="17.5">cDC1</text>
<rect x="1617.8" y="1193.0" width="12.5" height="13.0" fill="#e4691e"/>
<text x="1637.5" y="1204.8" font-size="17.5">tissue_repair mac</text>
<rect x="1617.8" y="1208.4" width="12.5" height="13.0" fill="#7d66b6"/>
<text x="1637.5" y="1220.2" font-size="17.5">SIGLEC15_ftM</text>
<rect x="1617.8" y="1223.8" width="12.5" height="13.0" fill="#a8b823"/>
<text x="1637.5" y="1235.6" font-size="17.5">TREM2_ftM</text>
<text x="1762.0" y="842.0" font-size="29.5">g</text>
<rect x="1848.7" y="868.5" width="15.9" height="194.0" fill="#f2b51b"/>
<rect x="1848.7" y="1062.5" width="15.9" height="195.3" fill="#2e93d8"/>
<rect x="1866.7" y="868.5" width="15.9" height="389.3" fill="#2e93d8"/>
<rect x="1884.8" y="868.5" width="15.9" height="44.0" fill="#f2b51b"/>
<rect x="1884.8" y="912.5" width="15.9" height="345.3" fill="#2e93d8"/>
<text x="1842.0" y="875.0" font-size="18.5" text-anchor="end" textLength="34.0" lengthAdjust="spacingAndGlyphs" fill="#4d4d4d">1.00</text>
<text x="1842.0" y="972.3" font-size="18.5" text-anchor="end" textLength="34.0" lengthAdjust="spacingAndGlyphs" fill="#4d4d4d">0.75</text>
<text x="1842.0" y="1069.5" font-size="18.5" text-anchor="end" textLength="34.0" lengthAdjust="spacingAndGlyphs" fill="#4d4d4d">0.50</text>
<text x="1842.0" y="1167.0" font-size="18.5" text-anchor="end" textLength="34.0" lengthAdjust="spacingAndGlyphs" fill="#4d4d4d">0.25</text>
<text x="1842.0" y="1264.3" font-size="18.5" text-anchor="end" textLength="34.0" lengthAdjust="spacingAndGlyphs" fill="#4d4d4d">0.00</text>
<text x="1861.0" y="1293.0" font-size="18.5" text-anchor="end" transform="rotate(-45 1861.0 1293.0)" fill="#4d4d4d">tissue repair mac</text>
<text x="1885.0" y="1293.0" font-size="18.5" text-anchor="end" transform="rotate(-45 1885.0 1293.0)" fill="#4d4d4d">SIGLEC15 ftM</text>
<text x="1908.5" y="1293.0" font-size="18.5" text-anchor="end" transform="rotate(-45 1908.5 1293.0)" fill="#4d4d4d">TREM2 ftM</text>
<text x="1793.0" y="1046.0" font-size="18.5" text-anchor="middle" textLength="144.0" lengthAdjust="spacingAndGlyphs" transform="rotate(-90 1793.0 1046.0)">fraction of cells</text>
<text x="1918.0" y="1026.0" font-size="18.5">sex</text>
<rect x="1918.0" y="1033.0" width="12.0" height="14.5" fill="#f2b51b"/>
<rect x="1918.0" y="1047.5" width="12.0" height="15.5" fill="#2e93d8"/>
<text x="1934.5" y="1046.0" font-size="18" textLength="48.0" lengthAdjust="spacingAndGlyphs">female</text>
<text x="1934.5" y="1061.0" font-size="18">male</text>
<text x="8.0" y="1435.0" font-size="29.5">h</text>
<text x="258.0" y="1486.0" font-size="23.5" text-anchor="middle" textLength="204.0" lengthAdjust="spacingAndGlyphs">microglia signature</text>
<rect x="154.0" y="1498.0" width="179.0" height="6.5" fill="#b8be2a"/>
<circle cx="170.6" cy="1531.0" r="8.0" fill="#fdf3ef" stroke="#444" stroke-width="0.9"/>
<circle cx="195.3" cy="1531.0" r="6.2" fill="#fdf3ef" stroke="#444" stroke-width="0.9"/>
<circle cx="219.6" cy="1531.0" r="7.3" fill="#fdf3ef" stroke="#444" stroke-width="0.9"/>
<circle cx="243.6" cy="1531.0" r="7.3" fill="#fdf3ef" stroke="#444" stroke-width="0.9"/>
<circle cx="267.9" cy="1531.0" r="4.7" fill="#fdf3ef" stroke="#444" stroke-width="0.9"/>
<circle cx="292.2" cy="1531.0" r="8.7" fill="#fdf3ef" stroke="#444" stroke-width="0.9"/>
<circle cx="316.5" cy="1531.0" r="1.0" fill="#777"/>
<circle cx="170.6" cy="1548.7" r="8.7" fill="#6a0b0b" stroke="#2a0505" stroke-width="0.8"/>
<circle cx="195.3" cy="1548.7" r="8.5" fill="#6a0b0b" stroke="#2a0505" stroke-width="0.8"/>
<circle cx="219.6" cy="1548.7" r="9.4" fill="#6a0b0b" stroke="#2a0505" stroke-width="0.8"/>
<circle cx="243.6" cy="1548.7" r="8.4" fill="#6a0b0b" stroke="#2a0505" stroke-width="0.8"/>
<circle cx="267.9" cy="1548.7" r="6.2" fill="#6a0b0b" stroke="#2a0505" stroke-width="0.8"/>
<circle cx="292.2" cy="1548.7" r="9.0" fill="#6a0b0b" stroke="#2a0505" stroke-width="0.8"/>
<circle cx="316.5" cy="1548.7" r="2.9" fill="#6a0b0b" stroke="#2a0505" stroke-width="0.8"/>
<rect x="151.7" y="1513.4" width="184.8" height="53.4" fill="none" stroke="#000" stroke-width="2.6"/>
<text x="143.4" y="1536.8" font-size="17.7" text-anchor="end">female</text>
<text x="143.4" y="1554.5" font-size="17.7" text-anchor="end">male</text>
<text x="177.2" y="1573.0" font-size="19" text-anchor="end" transform="rotate(-90 177.2 1573.0)">CX3CR1</text>
<text x="201.9" y="1573.0" font-size="19" text-anchor="end" transform="rotate(-90 201.9 1573.0)">P2RY12</text>
<text x="226.2" y="1573.0" font-size="19" text-anchor="end" transform="rotate(-90 226.2 1573.0)">C3</text>
<text x="250.2" y="1573.0" font-size="19" text-anchor="end" transform="rotate(-90 250.2 1573.0)">OLFML3</text>
<text x="274.5" y="1573.0" font-size="19" text-anchor="end" transform="rotate(-90 274.5 1573.0)">HTRA1</text>
<text x="298.8" y="1573.0" font-size="19" text-anchor="end" transform="rotate(-90 298.8 1573.0)">TREM2</text>
<text x="323.1" y="1573.0" font-size="19" text-anchor="end" transform="rotate(-90 323.1 1573.0)">SALL1</text>
<circle cx="460.0" cy="1496.0" r="3.3" fill="#8a8a8a" stroke="#555" stroke-width="0.8"/>
<circle cx="482.7" cy="1496.0" r="5.4" fill="#8a8a8a" stroke="#555" stroke-width="0.8"/>
<circle cx="505.0" cy="1496.0" r="7.3" fill="#8a8a8a" stroke="#555" stroke-width="0.8"/>
<circle cx="527.4" cy="1496.0" r="9.1" fill="#8a8a8a" stroke="#555" stroke-width="0.8"/>
<circle cx="550.0" cy="1496.0" r="11.3" fill="#8a8a8a" stroke="#555" stroke-width="0.8"/>
<text x="509.0" y="1479.0" font-size="18" text-anchor="middle">% cells</text>
<text x="448.0" y="1537.0" font-size="18" textLength="19.0" lengthAdjust="spacingAndGlyphs">20</text>
<text x="471.0" y="1537.0" font-size="18" textLength="19.0" lengthAdjust="spacingAndGlyphs">40</text>
<text x="494.0" y="1537.0" font-size="18" textLength="19.0" lengthAdjust="spacingAndGlyphs">60</text>
<text x="515.5" y="1537.0" font-size="18" textLength="45.5" lengthAdjust="spacingAndGlyphs">80100</text>
<text x="509.0" y="1566.0" font-size="18" text-anchor="middle" textLength="134.7" lengthAdjust="spacingAndGlyphs">Mean expression</text>
<rect x="452.0" y="1574.0" width="114.0" height="16.8" fill="url(#gReds2)" stroke="#000" stroke-width="2.4"/>
<text x="452.0" y="1615.0" font-size="18" text-anchor="middle">0.0</text>
<text x="508.0" y="1615.0" font-size="18" text-anchor="middle">0.5</text>
<text x="565.0" y="1615.0" font-size="18" text-anchor="middle">1.0</text>
<text x="12.5" y="1686.0" font-size="29.5">i</text>
<text x="210.7" y="1718.0" font-size="20.5" text-anchor="middle" textLength="363.5" lengthAdjust="spacingAndGlyphs">SVM prediction from fetal bone marrow</text>
<text x="211.0" y="1738.0" font-size="20.5" text-anchor="middle" textLength="192.0" lengthAdjust="spacingAndGlyphs">(Jardine et al., 2021)</text>
<text x="568.5" y="1718.0" font-size="20.5" text-anchor="middle" textLength="325.0" lengthAdjust="spacingAndGlyphs">SVM prediction from fetal microglia</text>
<text x="568.5" y="1738.0" font-size="20.5" text-anchor="middle" textLength="167.0" lengthAdjust="spacingAndGlyphs">(Bian et al., 2020)</text>
<path d="M170.7,1765.5 L180.4,1764.8 L188.7,1769.9 L198.5,1772.8 L208.2,1777.1 L213.7,1782.9 L213.0,1790.2 L216.5,1806.2 L222.1,1814.9 L227.6,1826.5 L229.0,1838.1 L224.9,1849.7 L216.5,1855.6 L205.4,1864.3 L198.5,1873.0 L198.5,1884.6 L197.1,1896.2 L194.3,1904.9 L195.7,1918.0 L194.3,1934.0 L188.7,1935.4 L184.6,1925.3 L183.2,1936.9 L173.5,1939.8 L166.5,1938.3 L161.0,1945.6 L149.9,1954.3 L138.8,1957.2 L124.9,1954.3 L116.5,1944.1 L112.4,1925.3 L111.0,1910.7 L106.8,1903.5 L105.4,1894.8 L111.0,1881.7 L119.3,1871.5 L124.9,1864.3 L136.0,1852.6 L144.3,1838.1 L147.1,1823.6 L155.4,1809.1 L161.0,1798.9 L165.1,1787.3 L169.3,1777.1 Z" fill="url(#pPeach)"/>
<path d="M115.8,1803.3 L123.5,1798.2 L126.3,1809.1 L133.2,1820.7 L141.5,1832.3 L144.3,1841.0 L138.8,1842.5 L131.8,1832.3 L124.9,1820.7 L119.3,1812.0 Z" fill="url(#pPeach)"/>
<path d="M237.4,1851.2 L242.9,1839.6 L252.6,1841.0 L256.8,1846.8 L249.9,1861.4 L247.1,1874.4 L241.5,1881.7 L246.4,1890.4 L249.9,1902.0 L247.1,1910.7 L249.9,1925.3 L251.9,1932.5 L247.1,1932.5 L241.5,1918.0 L238.7,1932.5 L234.6,1931.1 L236.0,1916.5 L238.7,1904.9 L230.4,1889.0 L229.0,1875.9 L231.8,1864.3 L236.0,1858.5 Z" fill="url(#pPeachL)"/>
<path d="M263.7,1791.7 L274.8,1782.9 L288.7,1774.2 L299.8,1772.8 L302.6,1787.3 L301.2,1801.8 L305.4,1817.8 L306.8,1828.0 L299.8,1838.1 L294.3,1843.9 L298.5,1852.6 L297.1,1859.9 L286.0,1859.9 L280.4,1849.7 L280.4,1841.0 L274.8,1832.3 L270.7,1820.7 L266.5,1812.0 L262.3,1800.4 Z" fill="url(#pPeachL)"/>
<path d="M269.3,1843.9 L274.8,1841.0 L272.1,1861.4 L267.9,1874.4 L273.5,1881.7 L274.8,1889.0 L269.3,1893.3 L263.7,1896.2 L267.9,1904.9 L274.8,1910.7 L272.1,1913.6 L265.1,1907.8 L259.6,1896.2 L256.8,1881.7 L261.0,1870.1 L266.5,1858.5 Z" fill="url(#pPeachL)"/>
<path d="M270.7,1915.1 L284.6,1912.2 L291.5,1925.3 L299.8,1938.3 L305.4,1944.1 L306.8,1961.6 L302.6,1968.8 L295.7,1977.5 L288.7,1986.2 L277.6,1992.1 L265.1,1995.0 L259.6,1989.1 L261.0,1977.5 L269.3,1968.8 L276.2,1960.1 L277.6,1951.4 L272.1,1939.8 L269.3,1928.2 Z" fill="url(#pPeachL)"/>
<ellipse cx="96.4" cy="1812.0" rx="3.1" ry="3.2" fill="url(#pPeach)"/>
<ellipse cx="222.1" cy="1925.3" rx="4.4" ry="4.6" fill="url(#pPeach)"/>
<ellipse cx="248.5" cy="1926.0" rx="3.5" ry="3.6" fill="url(#pPeach)"/>
<path d="M111.0,1896.2 L136.0,1874.4 L161.0,1881.7 L166.5,1925.3 L149.9,1954.3 L124.9,1954.3 L113.8,1939.8 Z" fill="url(#pPeachD)"/>
<path d="M115.8,1803.3 L123.5,1798.2 L126.3,1809.1 L131.8,1819.2 L137.4,1829.4 L134.6,1831.6 L129.0,1823.6 L123.5,1816.3 L118.6,1810.5 Z" fill="url(#pRed)"/>
<path d="M172.1,1913.6 L180.4,1918.0 L180.4,1932.5 L174.9,1934.0 Z" fill="#f2a878" opacity="0.6"/>
<path d="M205.4,1794.6 L213.0,1790.9 L220.0,1807.6 L223.5,1826.5 L216.5,1833.0 L207.5,1828.7 L202.4,1814.9 L202.4,1803.3 Z" fill="#fff" opacity="0.85"/>
<path d="M534.2,1765.5 L544.1,1764.8 L552.5,1769.8 L562.5,1772.7 L572.4,1777.1 L578.0,1782.9 L577.3,1790.1 L580.9,1806.0 L586.5,1814.7 L592.2,1826.3 L593.6,1837.9 L589.3,1849.5 L580.9,1855.3 L569.5,1864.0 L562.5,1872.6 L562.5,1884.2 L561.0,1895.8 L558.2,1904.5 L559.6,1917.5 L558.2,1933.5 L552.5,1934.9 L548.3,1924.8 L546.9,1936.4 L537.0,1939.3 L529.9,1937.8 L524.2,1945.0 L512.9,1953.7 L501.6,1956.6 L487.5,1953.7 L479.0,1943.6 L474.7,1924.8 L473.3,1910.3 L469.1,1903.1 L467.6,1894.4 L473.3,1881.3 L481.8,1871.2 L487.5,1864.0 L498.8,1852.4 L507.3,1837.9 L510.1,1823.4 L518.6,1808.9 L524.2,1798.8 L528.5,1787.2 L532.7,1777.1 Z" fill="url(#pPeach)"/>
<path d="M478.3,1803.1 L486.0,1798.1 L488.9,1808.9 L495.9,1820.5 L504.4,1832.1 L507.3,1840.8 L501.6,1842.2 L494.5,1832.1 L487.5,1820.5 L481.8,1811.8 Z" fill="url(#pPeach)"/>
<path d="M602.1,1850.9 L607.7,1839.3 L617.6,1840.8 L621.9,1846.6 L614.8,1861.1 L612.0,1874.1 L606.3,1881.3 L611.3,1890.0 L614.8,1901.6 L612.0,1910.3 L614.8,1924.8 L616.9,1932.0 L612.0,1932.0 L606.3,1917.5 L603.5,1932.0 L599.2,1930.6 L600.7,1916.1 L603.5,1904.5 L595.0,1888.6 L593.6,1875.5 L596.4,1864.0 L600.7,1858.2 Z" fill="url(#pPeachL)"/>
<path d="M629.0,1791.5 L640.3,1782.9 L654.4,1774.2 L665.8,1772.7 L668.6,1787.2 L667.2,1801.7 L671.4,1817.6 L672.8,1827.8 L665.8,1837.9 L660.1,1843.7 L664.3,1852.4 L662.9,1859.6 L651.6,1859.6 L645.9,1849.5 L645.9,1840.8 L640.3,1832.1 L636.0,1820.5 L631.8,1811.8 L627.5,1800.2 Z" fill="url(#pPeachL)"/>
<path d="M634.6,1843.7 L640.3,1840.8 L637.5,1861.1 L633.2,1874.1 L638.9,1881.3 L640.3,1888.6 L634.6,1892.9 L629.0,1895.8 L633.2,1904.5 L640.3,1910.3 L637.5,1913.2 L630.4,1907.4 L624.7,1895.8 L621.9,1881.3 L626.1,1869.7 L631.8,1858.2 Z" fill="url(#pPeachL)"/>
<path d="M636.0,1914.6 L650.2,1911.7 L657.3,1924.8 L665.8,1937.8 L671.4,1943.6 L672.8,1961.0 L668.6,1968.2 L661.5,1976.9 L654.4,1985.6 L643.1,1991.4 L630.4,1994.3 L624.7,1988.5 L626.1,1976.9 L634.6,1968.2 L641.7,1959.5 L643.1,1950.8 L637.5,1939.3 L634.6,1927.7 Z" fill="url(#pPeachL)"/>
<ellipse cx="458.4" cy="1811.8" rx="3.1" ry="3.2" fill="url(#pPeach)"/>
<ellipse cx="586.5" cy="1924.8" rx="4.5" ry="4.6" fill="url(#pPeach)"/>
<ellipse cx="613.4" cy="1925.5" rx="3.5" ry="3.6" fill="url(#pPeach)"/>
<path d="M473.3,1895.8 L498.8,1874.1 L524.2,1881.3 L529.9,1924.8 L512.9,1953.7 L487.5,1953.7 L476.1,1939.3 Z" fill="url(#pPeachD)"/>
<path d="M546.9,1903.1 L556.8,1897.3 L560.3,1913.2 L558.9,1934.2 L553.3,1934.9 L548.3,1920.4 L542.6,1911.7 Z" fill="url(#pRed)"/>
<rect x="547.3" y="1921.2" width="1.8" height="1.8" fill="#7a1010"/>
<rect x="544.3" y="1874.6" width="1.8" height="1.8" fill="#7a1010"/>
<rect x="531.9" y="1861.2" width="1.8" height="1.8" fill="#7a1010"/>
<rect x="513.4" y="1853.4" width="1.8" height="1.8" fill="#7a1010"/>
<rect x="511.6" y="1868.7" width="1.8" height="1.8" fill="#7a1010"/>
<rect x="509.9" y="1908.7" width="1.8" height="1.8" fill="#7a1010"/>
<rect x="529.2" y="1926.5" width="1.8" height="1.8" fill="#7a1010"/>
<rect x="547.8" y="1878.1" width="1.8" height="1.8" fill="#7a1010"/>
<rect x="504.5" y="1887.6" width="1.8" height="1.8" fill="#7a1010"/>
<rect x="498.7" y="1923.2" width="1.8" height="1.8" fill="#7a1010"/>
<rect x="537.6" y="1908.1" width="1.8" height="1.8" fill="#7a1010"/>
<rect x="527.2" y="1877.0" width="1.8" height="1.8" fill="#7a1010"/>
<rect x="500.4" y="1916.3" width="1.8" height="1.8" fill="#7a1010"/>
<rect x="487.0" y="1935.7" width="1.8" height="1.8" fill="#7a1010"/>
<rect x="490.8" y="1869.9" width="1.8" height="1.8" fill="#7a1010"/>
<rect x="535.3" y="1928.9" width="1.8" height="1.8" fill="#7a1010"/>
<rect x="491.6" y="1931.3" width="1.8" height="1.8" fill="#7a1010"/>
<rect x="517.2" y="1862.9" width="1.8" height="1.8" fill="#7a1010"/>
<rect x="519.8" y="1871.8" width="1.8" height="1.8" fill="#7a1010"/>
<rect x="527.1" y="1905.1" width="1.8" height="1.8" fill="#7a1010"/>
<rect x="540.6" y="1929.6" width="1.8" height="1.8" fill="#7a1010"/>
<rect x="542.6" y="1909.0" width="1.8" height="1.8" fill="#7a1010"/>
<rect x="533.0" y="1925.3" width="1.8" height="1.8" fill="#7a1010"/>
<rect x="540.8" y="1894.0" width="1.8" height="1.8" fill="#7a1010"/>
<rect x="548.3" y="1933.1" width="1.8" height="1.8" fill="#7a1010"/>
<rect x="494.6" y="1870.1" width="1.8" height="1.8" fill="#7a1010"/>
<rect x="524.7" y="1898.2" width="1.8" height="1.8" fill="#7a1010"/>
<rect x="510.9" y="1894.2" width="1.8" height="1.8" fill="#7a1010"/>
<rect x="495.4" y="1887.4" width="1.8" height="1.8" fill="#7a1010"/>
<rect x="523.2" y="1915.6" width="1.8" height="1.8" fill="#7a1010"/>
<rect x="531.3" y="1861.0" width="1.8" height="1.8" fill="#7a1010"/>
<rect x="495.5" y="1892.9" width="1.8" height="1.8" fill="#7a1010"/>
<rect x="536.1" y="1875.6" width="1.8" height="1.8" fill="#7a1010"/>
<rect x="533.7" y="1871.6" width="1.8" height="1.8" fill="#7a1010"/>
<rect x="502.3" y="1923.8" width="1.8" height="1.8" fill="#7a1010"/>
<rect x="494.5" y="1923.0" width="1.8" height="1.8" fill="#7a1010"/>
<rect x="520.1" y="1854.5" width="1.8" height="1.8" fill="#7a1010"/>
<rect x="514.3" y="1897.8" width="1.8" height="1.8" fill="#7a1010"/>
<rect x="489.4" y="1883.7" width="1.8" height="1.8" fill="#7a1010"/>
<rect x="515.4" y="1892.1" width="1.8" height="1.8" fill="#7a1010"/>
<rect x="546.9" y="1884.8" width="1.8" height="1.8" fill="#7a1010"/>
<rect x="545.1" y="1876.9" width="1.8" height="1.8" fill="#7a1010"/>
<rect x="534.2" y="1865.4" width="1.8" height="1.8" fill="#7a1010"/>
<rect x="522.5" y="1915.1" width="1.8" height="1.8" fill="#7a1010"/>
<rect x="540.1" y="1856.7" width="1.8" height="1.8" fill="#7a1010"/>
<rect x="534.1" y="1865.3" width="1.8" height="1.8" fill="#7a1010"/>
<rect x="550.1" y="1877.9" width="1.8" height="1.8" fill="#7a1010"/>
<rect x="542.0" y="1866.2" width="1.8" height="1.8" fill="#7a1010"/>
<rect x="551.6" y="1897.5" width="1.8" height="1.8" fill="#7a1010"/>
<rect x="496.3" y="1929.2" width="1.8" height="1.8" fill="#7a1010"/>
<rect x="537.4" y="1913.2" width="1.8" height="1.8" fill="#7a1010"/>
<rect x="511.3" y="1871.8" width="1.8" height="1.8" fill="#7a1010"/>
<rect x="526.3" y="1923.6" width="1.8" height="1.8" fill="#7a1010"/>
<rect x="533.6" y="1912.1" width="1.8" height="1.8" fill="#7a1010"/>
<rect x="484.9" y="1891.2" width="1.8" height="1.8" fill="#7a1010"/>
<rect x="501.4" y="1897.2" width="1.8" height="1.8" fill="#7a1010"/>
<rect x="528.6" y="1902.8" width="1.8" height="1.8" fill="#7a1010"/>
<rect x="480.6" y="1878.2" width="1.8" height="1.8" fill="#7a1010"/>
<rect x="501.0" y="1887.8" width="1.8" height="1.8" fill="#7a1010"/>
<rect x="500.9" y="1868.5" width="1.8" height="1.8" fill="#7a1010"/>
<rect x="496.5" y="1893.6" width="1.8" height="1.8" fill="#7a1010"/>
<rect x="544.1" y="1870.6" width="1.8" height="1.8" fill="#7a1010"/>
<rect x="549.7" y="1908.1" width="1.8" height="1.8" fill="#7a1010"/>
<rect x="545.0" y="1926.7" width="1.8" height="1.8" fill="#7a1010"/>
<rect x="534.7" y="1929.3" width="1.8" height="1.8" fill="#7a1010"/>
<rect x="494.4" y="1905.4" width="1.8" height="1.8" fill="#7a1010"/>
<rect x="506.4" y="1866.4" width="1.8" height="1.8" fill="#7a1010"/>
<rect x="500.2" y="1906.7" width="1.8" height="1.8" fill="#7a1010"/>
<rect x="490.0" y="1861.1" width="1.8" height="1.8" fill="#7a1010"/>
<rect x="541.4" y="1920.8" width="1.8" height="1.8" fill="#7a1010"/>
<path d="M569.5,1794.4 L577.3,1790.8 L584.4,1807.5 L587.9,1826.3 L580.9,1832.8 L571.7,1828.5 L566.4,1814.7 L566.4,1803.1 Z" fill="#fff" opacity="0.85"/>
<rect x="83.2" y="1751.0" width="237.2" height="254.7" fill="none" stroke="#000" stroke-width="2.6"/>
<rect x="445.0" y="1751.0" width="241.7" height="254.0" fill="none" stroke="#000" stroke-width="2.6"/>
<rect x="321.3" y="1751.0" width="10.2" height="254.7" fill="url(#gCBI)" stroke="#000" stroke-width="1.5"/>
<rect x="689.0" y="1751.0" width="9.7" height="254.0" fill="url(#gCBI)" stroke="#000" stroke-width="1.5"/>
<text x="339.0" y="1801.3" font-size="18.5">0.8</text>
<text x="339.0" y="1851.2" font-size="18.5">0.6</text>
<text x="339.0" y="1906.8" font-size="18.5">0.4</text>
<text x="339.0" y="1958.0" font-size="18.5">0.2</text>
<text x="706.0" y="1806.5" font-size="18.5">0.8</text>
<text x="706.0" y="1856.9" font-size="18.5">0.6</text>
<text x="706.0" y="1907.5" font-size="18.5">0.4</text>
<text x="706.0" y="1958.9" font-size="18.5">0.2</text>
<text x="221.0" y="2023.0" font-size="17.5" text-anchor="middle">UMAP1</text>
<text x="586.0" y="2023.0" font-size="17.5" text-anchor="middle">UMAP1</text>
<text x="75.5" y="1875.2" font-size="19" text-anchor="middle" textLength="62.0" lengthAdjust="spacingAndGlyphs" transform="rotate(-90 75.5 1875.2)">UMAP2</text>
<text x="437.3" y="1876.0" font-size="19" text-anchor="middle" textLength="62.0" lengthAdjust="spacingAndGlyphs" transform="rotate(-90 437.3 1876.0)">UMAP2</text>
<path d="M1038.2,1519.5 L1049.2,1503.3 L1055.7,1480.7 L1064.0,1467.8 L1073.7,1464.6 L1085.4,1472.3 L1091.8,1490.4 L1102.8,1495.6 L1115.7,1498.2 L1135.1,1519.5 L1148.0,1545.3 L1164.1,1566.6 L1180.3,1587.3 L1190.0,1609.9 L1184.8,1626.0 L1184.8,1658.3 L1183.5,1684.1 L1170.6,1693.8 L1157.7,1700.3 L1149.9,1710.0 L1144.8,1724.2 L1138.3,1716.4 L1128.6,1703.5 L1112.5,1693.8 L1102.8,1671.2 L1098.3,1645.4 L1094.4,1622.8 L1083.4,1613.1 L1067.3,1607.9 L1049.2,1597.0 L1036.9,1567.9 L1032.4,1538.8 Z" fill="url(#pCen)"/>
<path d="M1038.2,1519.5 L1049.2,1503.3 L1055.7,1480.7 L1064.0,1467.8 L1073.7,1464.6 L1085.4,1472.3 L1091.8,1490.4 L1102.8,1495.6 L1115.7,1498.2 L1135.1,1519.5 L1138.3,1548.5 L1125.4,1574.4 L1099.6,1593.7 L1083.4,1613.1 L1067.3,1607.9 L1049.2,1597.0 L1036.9,1567.9 L1032.4,1538.8 Z" fill="url(#pTL)"/>
<path d="M1040.2,1522.7 L1049.2,1514.9 L1073.7,1538.8 L1093.1,1561.4 L1087.9,1573.1 L1067.3,1558.2 L1044.7,1538.8 Z" fill="#f0b400" opacity="0.7"/>
<ellipse cx="1097.6" cy="1503.3" rx="14.2" ry="8.4" fill="url(#pBM)" transform="rotate(25 1097.6 1503.3)"/>
<ellipse cx="1151.2" cy="1561.4" rx="7.1" ry="14.2" fill="url(#pBM)"/>
<path d="M1164.1,1584.0 L1182.2,1588.6 L1188.7,1609.9 L1183.5,1622.8 L1167.4,1619.6 Z" fill="#3a9ee0" opacity="0.85"/>
<path d="M1102.8,1638.9 L1184.8,1635.7 L1184.8,1658.3 L1183.5,1684.1 L1170.6,1693.8 L1157.7,1700.3 L1149.9,1710.0 L1144.8,1724.2 L1138.3,1716.4 L1128.6,1703.5 L1112.5,1693.8 L1102.8,1671.2 Z" fill="url(#pCenL)"/>
<path d="M1120.2,1671.2 L1151.2,1671.2 L1149.9,1710.0 L1144.8,1724.2 L1138.3,1716.4 L1128.6,1703.5 Z" fill="url(#pYS)"/>
<path d="M1160.9,1661.5 L1183.5,1658.3 L1183.5,1684.1 L1170.6,1693.8 L1159.0,1684.1 Z" fill="#d8d0e8" opacity="0.8"/>
<path d="M1138.3,1461.3 L1149.9,1455.5 L1164.1,1458.1 L1168.0,1480.7 L1177.1,1495.6 L1174.5,1507.2 L1164.1,1507.8 L1154.5,1487.2 L1141.5,1476.2 Z" fill="url(#pThy)"/>
<path d="M1195.1,1569.2 L1212.6,1551.8 L1233.9,1538.8 L1253.3,1536.9 L1255.8,1544.7 L1241.6,1558.2 L1232.0,1571.8 L1217.1,1575.7 L1202.9,1571.8 Z" fill="url(#pBM)"/>
<path d="M1215.8,1549.8 L1233.9,1538.8 L1253.3,1536.9 L1248.1,1547.2 L1228.7,1552.4 Z" fill="#3a9ee0"/>
<path d="M988.5,1648.6 L1007.9,1638.9 L1033.7,1645.4 L1053.1,1633.8 L1080.2,1633.8 L1094.4,1646.7 L1098.3,1671.2 L1087.9,1691.9 L1067.3,1698.4 L1041.4,1691.9 L1016.9,1672.5 L997.5,1659.6 Z" fill="url(#pLiver)"/>
<path d="M1044.7,1595.0 L1066.0,1592.4 L1073.7,1607.9 L1064.7,1619.6 L1049.2,1617.0 L1042.7,1605.4 Z" fill="#c87bc0"/>
<ellipse cx="1077.0" cy="1607.9" rx="7.7" ry="9.0" fill="#1a8a3a"/>
<path d="M1479.9,1519.5 L1490.9,1503.3 L1497.4,1480.7 L1505.7,1467.8 L1515.4,1464.6 L1527.1,1472.3 L1533.5,1490.4 L1544.5,1495.6 L1557.4,1498.2 L1576.8,1519.5 L1589.7,1545.3 L1605.8,1566.6 L1622.0,1587.3 L1631.7,1609.9 L1626.5,1626.0 L1626.5,1658.3 L1625.2,1684.1 L1612.3,1693.8 L1599.4,1700.3 L1591.6,1710.0 L1586.5,1724.2 L1580.0,1716.4 L1570.3,1703.5 L1554.2,1693.8 L1544.5,1671.2 L1540.0,1645.4 L1536.1,1622.8 L1525.1,1613.1 L1509.0,1607.9 L1490.9,1597.0 L1478.6,1567.9 L1474.1,1538.8 Z" fill="url(#pDJ)"/>
<path d="M1544.5,1645.4 L1592.9,1642.2 L1599.4,1684.1 L1591.6,1710.0 L1586.5,1724.2 L1580.0,1716.4 L1570.3,1703.5 L1554.2,1693.8 Z" fill="url(#pDJg)"/>
<path d="M1450.9,1645.4 L1476.7,1645.4 L1492.8,1658.3 L1489.6,1684.1 L1467.0,1684.1 L1454.1,1664.8 Z" fill="url(#pDJr)"/>
<path d="M1544.5,1619.6 L1625.2,1626.0 L1625.2,1645.4 L1547.7,1642.2 Z" fill="url(#pDJp)"/>
<path d="M1580.0,1461.3 L1591.6,1455.5 L1605.8,1458.1 L1609.7,1480.7 L1618.8,1495.6 L1616.2,1507.2 L1605.8,1507.8 L1596.2,1487.2 L1583.2,1476.2 Z" fill="url(#pDJ)"/>
<path d="M1636.8,1569.2 L1654.3,1551.8 L1675.6,1538.8 L1695.0,1536.9 L1697.5,1544.7 L1683.3,1558.2 L1673.7,1571.8 L1658.8,1575.7 L1644.6,1571.8 Z" fill="url(#pDJ)"/>
<path d="M1430.2,1648.6 L1449.6,1638.9 L1475.4,1645.4 L1494.8,1633.8 L1521.9,1633.8 L1536.1,1646.7 L1540.0,1671.2 L1529.6,1691.9 L1509.0,1698.4 L1483.1,1691.9 L1458.6,1672.5 L1439.2,1659.6 Z" fill="url(#pDJ)"/>
<path d="M1450.9,1645.4 L1483.1,1642.2 L1494.8,1658.3 L1490.9,1687.4 L1467.0,1687.4 L1454.1,1664.8 Z" fill="url(#pDJr)"/>
<path d="M1486.4,1595.0 L1507.7,1592.4 L1515.4,1607.9 L1506.4,1619.6 L1490.9,1617.0 L1484.4,1605.4 Z" fill="url(#pDJp)"/>
<ellipse cx="1518.7" cy="1607.9" rx="7.7" ry="9.0" fill="url(#pDJ)"/>
<rect x="975.0" y="1442.0" width="293.0" height="296.8" fill="none" stroke="#000" stroke-width="2.6"/>
<rect x="1416.7" y="1441.7" width="290.9" height="297.9" fill="none" stroke="#000" stroke-width="2.6"/>
<text x="897.0" y="1432.5" font-size="29.5">j</text>
<text x="1125.0" y="1426.5" font-size="23" text-anchor="middle">tissue</text>
<text x="1560.8" y="1426.5" font-size="23" text-anchor="middle">donor</text>
<text x="1123.0" y="1758.0" font-size="17.5" text-anchor="middle">UMAP1</text>
<text x="1561.0" y="1758.0" font-size="17.5" text-anchor="middle">UMAP1</text>
<text x="967.0" y="1590.6" font-size="19" text-anchor="middle" textLength="62.0" lengthAdjust="spacingAndGlyphs" transform="rotate(-90 967.0 1590.6)">UMAP2</text>
<text x="1409.5" y="1590.6" font-size="19" text-anchor="middle" textLength="64.0" lengthAdjust="spacingAndGlyphs" transform="rotate(-90 1409.5 1590.6)">UMAP2</text>
<circle cx="1283.5" cy="1460.7" r="5.8" fill="#f2b600"/>
<text x="1291.0" y="1467.2" font-size="18.5">Ovary</text>
<circle cx="1283.5" cy="1486.3" r="5.8" fill="#3a9ee0"/>
<text x="1291.0" y="1492.8" font-size="18.5">Testis</text>
<circle cx="1283.5" cy="1511.8" r="5.8" fill="#c87bc0"/>
<text x="1291.0" y="1518.3" font-size="18.5">Skin</text>
<circle cx="1283.5" cy="1537.4" r="5.8" fill="#1a8a3a"/>
<text x="1291.0" y="1543.9" font-size="18.5">Brain</text>
<circle cx="1283.5" cy="1563.0" r="5.8" fill="#b52a2a"/>
<text x="1291.0" y="1569.5" font-size="18.5">BoneMarrow</text>
<circle cx="1283.5" cy="1588.5" r="5.8" fill="#b8b8b8"/>
<text x="1291.0" y="1595.0" font-size="18.5">Gut</text>
<circle cx="1283.5" cy="1614.1" r="5.8" fill="#5a4aa8"/>
<text x="1291.0" y="1620.6" font-size="18.5">Kidney</text>
<circle cx="1283.5" cy="1639.7" r="5.8" fill="#2a4aa0"/>
<text x="1291.0" y="1646.2" font-size="18.5">Liver</text>
<circle cx="1283.5" cy="1665.3" r="5.8" fill="#6ab85a"/>
<text x="1291.0" y="1671.8" font-size="18.5">Thymus</text>
<circle cx="1283.5" cy="1690.8" r="5.8" fill="#f4c4c8"/>
<text x="1291.0" y="1697.3" font-size="18.5">YolkSac</text>
<circle cx="1283.5" cy="1716.4" r="5.8" fill="#d8d4ea"/>
<text x="1291.0" y="1722.9" font-size="18.5">Placenta</text>
<text x="893.0" y="1749.0" font-size="29.5">k</text>
<circle cx="991.8" cy="1805.0" r="7.0" fill="#6e0c0c" stroke="#2a1010" stroke-width="0.8"/>
<circle cx="1011.8" cy="1805.0" r="6.0" fill="#6e0c0c" stroke="#2a1010" stroke-width="0.8"/>
<circle cx="1031.8" cy="1805.0" r="1.4" fill="#555"/>
<circle cx="1051.7" cy="1805.0" r="2.5" fill="#fdf6f2" stroke="#555" stroke-width="1.1"/>
<circle cx="1071.7" cy="1805.0" r="1.0" fill="#8a8a8a"/>
<circle cx="1111.7" cy="1805.0" r="6.0" fill="#f4a582" stroke="#2a1010" stroke-width="0.8"/>
<circle cx="1131.7" cy="1805.0" r="4.5" fill="#f4a582" stroke="#2a1010" stroke-width="0.8"/>
<circle cx="1151.6" cy="1805.0" r="1.8" fill="#fdf6f2" stroke="#555" stroke-width="1.1"/>
<circle cx="1171.6" cy="1805.0" r="1.0" fill="#8a8a8a"/>
<circle cx="1211.6" cy="1805.0" r="1.0" fill="#8a8a8a"/>
<circle cx="1231.6" cy="1805.0" r="1.0" fill="#8a8a8a"/>
<circle cx="1251.5" cy="1805.0" r="1.0" fill="#8a8a8a"/>
<circle cx="1271.5" cy="1805.0" r="1.0" fill="#8a8a8a"/>
<circle cx="1311.5" cy="1805.0" r="2.0" fill="#fdf6f2" stroke="#555" stroke-width="1.1"/>
<circle cx="1331.5" cy="1805.0" r="2.5" fill="#f4a582" stroke="#2a1010" stroke-width="0.8"/>
<circle cx="1351.4" cy="1805.0" r="2.5" fill="#fdf6f2" stroke="#555" stroke-width="1.1"/>
<circle cx="1371.4" cy="1805.0" r="1.0" fill="#8a8a8a"/>
<circle cx="1391.4" cy="1805.0" r="2.5" fill="#fdf6f2" stroke="#555" stroke-width="1.1"/>
<circle cx="1411.4" cy="1805.0" r="2.0" fill="#fdf6f2" stroke="#555" stroke-width="1.1"/>
<circle cx="1431.4" cy="1805.0" r="1.0" fill="#8a8a8a"/>
<circle cx="1451.3" cy="1805.0" r="1.0" fill="#8a8a8a"/>
<circle cx="1471.3" cy="1805.0" r="1.0" fill="#8a8a8a"/>
<circle cx="1511.3" cy="1805.0" r="1.0" fill="#8a8a8a"/>
<circle cx="1531.3" cy="1805.0" r="1.0" fill="#8a8a8a"/>
<circle cx="1551.2" cy="1805.0" r="1.0" fill="#8a8a8a"/>
<circle cx="1571.2" cy="1805.0" r="1.4" fill="#555"/>
<circle cx="1611.2" cy="1805.0" r="1.0" fill="#8a8a8a"/>
<circle cx="1631.2" cy="1805.0" r="1.0" fill="#8a8a8a"/>
<circle cx="1651.1" cy="1805.0" r="1.0" fill="#8a8a8a"/>
<circle cx="1671.1" cy="1805.0" r="1.4" fill="#555"/>
<circle cx="1691.1" cy="1805.0" r="2.0" fill="#f4a582" stroke="#2a1010" stroke-width="0.8"/>
<circle cx="991.8" cy="1822.1" r="4.5" fill="#f4a582" stroke="#2a1010" stroke-width="0.8"/>
<circle cx="1011.8" cy="1822.1" r="4.0" fill="#f4a582" stroke="#2a1010" stroke-width="0.8"/>
<circle cx="1031.8" cy="1822.1" r="6.0" fill="#6e0c0c" stroke="#2a1010" stroke-width="0.8"/>
<circle cx="1051.7" cy="1822.1" r="6.5" fill="#6e0c0c" stroke="#2a1010" stroke-width="0.8"/>
<circle cx="1071.7" cy="1822.1" r="1.0" fill="#8a8a8a"/>
<circle cx="1091.7" cy="1822.1" r="1.0" fill="#8a8a8a"/>
<circle cx="1111.7" cy="1822.1" r="6.0" fill="#f8c6aa" stroke="#2a1010" stroke-width="0.8"/>
<circle cx="1131.7" cy="1822.1" r="5.5" fill="#f4a582" stroke="#2a1010" stroke-width="0.8"/>
<circle cx="1151.6" cy="1822.1" r="2.5" fill="#fdf6f2" stroke="#555" stroke-width="1.1"/>
<circle cx="1171.6" cy="1822.1" r="1.0" fill="#8a8a8a"/>
<circle cx="1191.6" cy="1822.1" r="1.0" fill="#8a8a8a"/>
<circle cx="1211.6" cy="1822.1" r="1.0" fill="#8a8a8a"/>
<circle cx="1251.5" cy="1822.1" r="1.0" fill="#8a8a8a"/>
<circle cx="1271.5" cy="1822.1" r="1.0" fill="#8a8a8a"/>
<circle cx="1291.5" cy="1822.1" r="1.0" fill="#8a8a8a"/>
<circle cx="1311.5" cy="1822.1" r="2.0" fill="#fdf6f2" stroke="#555" stroke-width="1.1"/>
<circle cx="1331.5" cy="1822.1" r="3.0" fill="#fdf6f2" stroke="#555" stroke-width="1.1"/>
<circle cx="1351.4" cy="1822.1" r="2.0" fill="#fdf6f2" stroke="#555" stroke-width="1.1"/>
<circle cx="1371.4" cy="1822.1" r="1.0" fill="#8a8a8a"/>
<circle cx="1391.4" cy="1822.1" r="3.0" fill="#fdf6f2" stroke="#555" stroke-width="1.1"/>
<circle cx="1411.4" cy="1822.1" r="3.5" fill="#fdf6f2" stroke="#555" stroke-width="1.1"/>
<circle cx="1451.3" cy="1822.1" r="1.0" fill="#8a8a8a"/>
<circle cx="1471.3" cy="1822.1" r="1.0" fill="#8a8a8a"/>
<circle cx="1491.3" cy="1822.1" r="1.0" fill="#8a8a8a"/>
<circle cx="1511.3" cy="1822.1" r="1.0" fill="#8a8a8a"/>
<circle cx="1551.2" cy="1822.1" r="1.0" fill="#8a8a8a"/>
<circle cx="1571.2" cy="1822.1" r="1.4" fill="#555"/>
<circle cx="1591.2" cy="1822.1" r="1.0" fill="#8a8a8a"/>
<circle cx="1611.2" cy="1822.1" r="1.0" fill="#8a8a8a"/>
<circle cx="1651.1" cy="1822.1" r="1.0" fill="#8a8a8a"/>
<circle cx="1671.1" cy="1822.1" r="1.0" fill="#8a8a8a"/>
<circle cx="1691.1" cy="1822.1" r="1.4" fill="#555"/>
<circle cx="991.8" cy="1839.2" r="1.0" fill="#8a8a8a"/>
<circle cx="1011.8" cy="1839.2" r="1.0" fill="#8a8a8a"/>
<circle cx="1031.8" cy="1839.2" r="1.0" fill="#8a8a8a"/>
<circle cx="1051.7" cy="1839.2" r="1.0" fill="#8a8a8a"/>
<circle cx="1071.7" cy="1839.2" r="6.5" fill="#6e0c0c" stroke="#2a1010" stroke-width="0.8"/>
<circle cx="1091.7" cy="1839.2" r="6.5" fill="#6e0c0c" stroke="#2a1010" stroke-width="0.8"/>
<circle cx="1111.7" cy="1839.2" r="4.5" fill="#fdf6f2" stroke="#555" stroke-width="1.1"/>
<circle cx="1131.7" cy="1839.2" r="1.0" fill="#8a8a8a"/>
<circle cx="1151.6" cy="1839.2" r="1.0" fill="#8a8a8a"/>
<circle cx="1171.6" cy="1839.2" r="3.0" fill="#f4a582" stroke="#2a1010" stroke-width="0.8"/>
<circle cx="1191.6" cy="1839.2" r="1.0" fill="#8a8a8a"/>
<circle cx="1211.6" cy="1839.2" r="1.0" fill="#8a8a8a"/>
<circle cx="1231.6" cy="1839.2" r="1.0" fill="#8a8a8a"/>
<circle cx="1251.5" cy="1839.2" r="1.0" fill="#8a8a8a"/>
<circle cx="1291.5" cy="1839.2" r="1.0" fill="#8a8a8a"/>
<circle cx="1311.5" cy="1839.2" r="1.0" fill="#8a8a8a"/>
<circle cx="1331.5" cy="1839.2" r="1.0" fill="#8a8a8a"/>
<circle cx="1351.4" cy="1839.2" r="1.0" fill="#8a8a8a"/>
<circle cx="1391.4" cy="1839.2" r="1.0" fill="#8a8a8a"/>
<circle cx="1411.4" cy="1839.2" r="1.0" fill="#8a8a8a"/>
<circle cx="1431.4" cy="1839.2" r="1.0" fill="#8a8a8a"/>
<circle cx="1451.3" cy="1839.2" r="1.0" fill="#8a8a8a"/>
<circle cx="1491.3" cy="1839.2" r="1.0" fill="#8a8a8a"/>
<circle cx="1511.3" cy="1839.2" r="1.0" fill="#8a8a8a"/>
<circle cx="1531.3" cy="1839.2" r="1.0" fill="#8a8a8a"/>
<circle cx="1551.2" cy="1839.2" r="1.0" fill="#8a8a8a"/>
<circle cx="1571.2" cy="1839.2" r="2.5" fill="#fdf6f2" stroke="#555" stroke-width="1.1"/>
<circle cx="1591.2" cy="1839.2" r="1.0" fill="#8a8a8a"/>
<circle cx="1611.2" cy="1839.2" r="1.0" fill="#8a8a8a"/>
<circle cx="1631.2" cy="1839.2" r="1.0" fill="#8a8a8a"/>
<circle cx="1651.1" cy="1839.2" r="4.5" fill="#ee7d5c" stroke="#2a1010" stroke-width="0.8"/>
<circle cx="1691.1" cy="1839.2" r="1.0" fill="#8a8a8a"/>
<circle cx="991.8" cy="1856.3" r="1.0" fill="#8a8a8a"/>
<circle cx="1031.8" cy="1856.3" r="1.0" fill="#8a8a8a"/>
<circle cx="1051.7" cy="1856.3" r="1.0" fill="#8a8a8a"/>
<circle cx="1071.7" cy="1856.3" r="1.0" fill="#8a8a8a"/>
<circle cx="1091.7" cy="1856.3" r="1.0" fill="#8a8a8a"/>
<circle cx="1111.7" cy="1856.3" r="7.5" fill="#6e0c0c" stroke="#2a1010" stroke-width="0.8"/>
<circle cx="1131.7" cy="1856.3" r="6.5" fill="#d8221c" stroke="#2a1010" stroke-width="0.8"/>
<circle cx="1151.6" cy="1856.3" r="6.0" fill="#6e0c0c" stroke="#2a1010" stroke-width="0.8"/>
<circle cx="1171.6" cy="1856.3" r="5.5" fill="#6e0c0c" stroke="#2a1010" stroke-width="0.8"/>
<circle cx="1191.6" cy="1856.3" r="6.5" fill="#6e0c0c" stroke="#2a1010" stroke-width="0.8"/>
<circle cx="1211.6" cy="1856.3" r="6.5" fill="#6e0c0c" stroke="#2a1010" stroke-width="0.8"/>
<circle cx="1231.6" cy="1856.3" r="1.0" fill="#8a8a8a"/>
<circle cx="1251.5" cy="1856.3" r="1.0" fill="#8a8a8a"/>
<circle cx="1271.5" cy="1856.3" r="1.0" fill="#8a8a8a"/>
<circle cx="1291.5" cy="1856.3" r="2.0" fill="#fdf6f2" stroke="#555" stroke-width="1.1"/>
<circle cx="1311.5" cy="1856.3" r="2.5" fill="#fdf6f2" stroke="#555" stroke-width="1.1"/>
<circle cx="1331.5" cy="1856.3" r="4.0" fill="#f4a582" stroke="#2a1010" stroke-width="0.8"/>
<circle cx="1351.4" cy="1856.3" r="7.0" fill="#6e0c0c" stroke="#2a1010" stroke-width="0.8"/>
<circle cx="1371.4" cy="1856.3" r="6.0" fill="#d8221c" stroke="#2a1010" stroke-width="0.8"/>
<circle cx="1391.4" cy="1856.3" r="7.0" fill="#6e0c0c" stroke="#2a1010" stroke-width="0.8"/>
<circle cx="1431.4" cy="1856.3" r="1.0" fill="#8a8a8a"/>
<circle cx="1451.3" cy="1856.3" r="1.0" fill="#8a8a8a"/>
<circle cx="1471.3" cy="1856.3" r="1.0" fill="#8a8a8a"/>
<circle cx="1491.3" cy="1856.3" r="1.0" fill="#8a8a8a"/>
<circle cx="1511.3" cy="1856.3" r="2.5" fill="#fdf6f2" stroke="#555" stroke-width="1.1"/>
<circle cx="1531.3" cy="1856.3" r="1.0" fill="#8a8a8a"/>
<circle cx="1551.2" cy="1856.3" r="1.4" fill="#555"/>
<circle cx="1571.2" cy="1856.3" r="3.5" fill="#fdf6f2" stroke="#555" stroke-width="1.1"/>
<circle cx="1591.2" cy="1856.3" r="1.0" fill="#8a8a8a"/>
<circle cx="1631.2" cy="1856.3" r="1.0" fill="#8a8a8a"/>
<circle cx="1651.1" cy="1856.3" r="1.0" fill="#8a8a8a"/>
<circle cx="1671.1" cy="1856.3" r="1.0" fill="#8a8a8a"/>
<circle cx="1691.1" cy="1856.3" r="1.0" fill="#8a8a8a"/>
<circle cx="991.8" cy="1873.4" r="1.0" fill="#8a8a8a"/>
<circle cx="1011.8" cy="1873.4" r="1.0" fill="#8a8a8a"/>
<circle cx="1031.8" cy="1873.4" r="1.0" fill="#8a8a8a"/>
<circle cx="1071.7" cy="1873.4" r="1.0" fill="#8a8a8a"/>
<circle cx="1091.7" cy="1873.4" r="1.0" fill="#8a8a8a"/>
<circle cx="1111.7" cy="1873.4" r="6.5" fill="#d8221c" stroke="#2a1010" stroke-width="0.8"/>
<circle cx="1131.7" cy="1873.4" r="6.5" fill="#d8221c" stroke="#2a1010" stroke-width="0.8"/>
<circle cx="1151.6" cy="1873.4" r="6.0" fill="#6e0c0c" stroke="#2a1010" stroke-width="0.8"/>
<circle cx="1171.6" cy="1873.4" r="5.5" fill="#6e0c0c" stroke="#2a1010" stroke-width="0.8"/>
<circle cx="1191.6" cy="1873.4" r="6.5" fill="#6e0c0c" stroke="#2a1010" stroke-width="0.8"/>
<circle cx="1211.6" cy="1873.4" r="6.0" fill="#d8221c" stroke="#2a1010" stroke-width="0.8"/>
<circle cx="1231.6" cy="1873.4" r="6.5" fill="#6e0c0c" stroke="#2a1010" stroke-width="0.8"/>
<circle cx="1251.5" cy="1873.4" r="6.0" fill="#6e0c0c" stroke="#2a1010" stroke-width="0.8"/>
<circle cx="1271.5" cy="1873.4" r="6.0" fill="#6e0c0c" stroke="#2a1010" stroke-width="0.8"/>
<circle cx="1291.5" cy="1873.4" r="6.5" fill="#6e0c0c" stroke="#2a1010" stroke-width="0.8"/>
<circle cx="1311.5" cy="1873.4" r="1.0" fill="#8a8a8a"/>
<circle cx="1331.5" cy="1873.4" r="3.5" fill="#f8c6aa" stroke="#2a1010" stroke-width="0.8"/>
<circle cx="1351.4" cy="1873.4" r="6.5" fill="#d8221c" stroke="#2a1010" stroke-width="0.8"/>
<circle cx="1371.4" cy="1873.4" r="6.0" fill="#ee7d5c" stroke="#2a1010" stroke-width="0.8"/>
<circle cx="1391.4" cy="1873.4" r="6.0" fill="#d8221c" stroke="#2a1010" stroke-width="0.8"/>
<circle cx="1411.4" cy="1873.4" r="1.0" fill="#8a8a8a"/>
<circle cx="1431.4" cy="1873.4" r="1.0" fill="#8a8a8a"/>
<circle cx="1471.3" cy="1873.4" r="1.0" fill="#8a8a8a"/>
<circle cx="1491.3" cy="1873.4" r="1.0" fill="#8a8a8a"/>
<circle cx="1511.3" cy="1873.4" r="1.4" fill="#555"/>
<circle cx="1531.3" cy="1873.4" r="1.0" fill="#8a8a8a"/>
<circle cx="1551.2" cy="1873.4" r="1.4" fill="#555"/>
<circle cx="1571.2" cy="1873.4" r="3.0" fill="#fdf6f2" stroke="#555" stroke-width="1.1"/>
<circle cx="1591.2" cy="1873.4" r="1.0" fill="#8a8a8a"/>
<circle cx="1611.2" cy="1873.4" r="1.0" fill="#8a8a8a"/>
<circle cx="1631.2" cy="1873.4" r="1.0" fill="#8a8a8a"/>
<circle cx="1671.1" cy="1873.4" r="1.0" fill="#8a8a8a"/>
<circle cx="1691.1" cy="1873.4" r="1.0" fill="#8a8a8a"/>
<circle cx="1011.8" cy="1890.5" r="1.0" fill="#8a8a8a"/>
<circle cx="1031.8" cy="1890.5" r="1.0" fill="#8a8a8a"/>
<circle cx="1051.7" cy="1890.5" r="1.0" fill="#8a8a8a"/>
<circle cx="1071.7" cy="1890.5" r="1.0" fill="#8a8a8a"/>
<circle cx="1111.7" cy="1890.5" r="6.0" fill="#d8221c" stroke="#2a1010" stroke-width="0.8"/>
<circle cx="1131.7" cy="1890.5" r="6.5" fill="#6e0c0c" stroke="#2a1010" stroke-width="0.8"/>
<circle cx="1151.6" cy="1890.5" r="1.0" fill="#8a8a8a"/>
<circle cx="1171.6" cy="1890.5" r="1.0" fill="#8a8a8a"/>
<circle cx="1211.6" cy="1890.5" r="1.0" fill="#8a8a8a"/>
<circle cx="1231.6" cy="1890.5" r="1.0" fill="#8a8a8a"/>
<circle cx="1251.5" cy="1890.5" r="1.0" fill="#8a8a8a"/>
<circle cx="1271.5" cy="1890.5" r="1.0" fill="#8a8a8a"/>
<circle cx="1311.5" cy="1890.5" r="6.0" fill="#6e0c0c" stroke="#2a1010" stroke-width="0.8"/>
<circle cx="1331.5" cy="1890.5" r="6.5" fill="#6e0c0c" stroke="#2a1010" stroke-width="0.8"/>
<circle cx="1351.4" cy="1890.5" r="6.5" fill="#d8221c" stroke="#2a1010" stroke-width="0.8"/>
<circle cx="1371.4" cy="1890.5" r="6.0" fill="#6e0c0c" stroke="#2a1010" stroke-width="0.8"/>
<circle cx="1391.4" cy="1890.5" r="5.5" fill="#ee7d5c" stroke="#2a1010" stroke-width="0.8"/>
<circle cx="1411.4" cy="1890.5" r="1.0" fill="#8a8a8a"/>
<circle cx="1431.4" cy="1890.5" r="1.0" fill="#8a8a8a"/>
<circle cx="1451.3" cy="1890.5" r="1.0" fill="#8a8a8a"/>
<circle cx="1471.3" cy="1890.5" r="1.0" fill="#8a8a8a"/>
<circle cx="1511.3" cy="1890.5" r="3.5" fill="#ee7d5c" stroke="#2a1010" stroke-width="0.8"/>
<circle cx="1531.3" cy="1890.5" r="1.0" fill="#8a8a8a"/>
<circle cx="1551.2" cy="1890.5" r="1.0" fill="#8a8a8a"/>
<circle cx="1571.2" cy="1890.5" r="1.0" fill="#8a8a8a"/>
<circle cx="1611.2" cy="1890.5" r="1.0" fill="#8a8a8a"/>
<circle cx="1631.2" cy="1890.5" r="1.0" fill="#8a8a8a"/>
<circle cx="1651.1" cy="1890.5" r="1.0" fill="#8a8a8a"/>
<circle cx="1671.1" cy="1890.5" r="2.0" fill="#fdf6f2" stroke="#555" stroke-width="1.1"/>
<circle cx="1691.1" cy="1890.5" r="2.5" fill="#ee7d5c" stroke="#2a1010" stroke-width="0.8"/>
<circle cx="991.8" cy="1907.6" r="2.5" fill="#fdf6f2" stroke="#555" stroke-width="1.1"/>
<circle cx="1011.8" cy="1907.6" r="1.0" fill="#8a8a8a"/>
<circle cx="1051.7" cy="1907.6" r="1.0" fill="#8a8a8a"/>
<circle cx="1071.7" cy="1907.6" r="1.0" fill="#8a8a8a"/>
<circle cx="1091.7" cy="1907.6" r="1.0" fill="#8a8a8a"/>
<circle cx="1111.7" cy="1907.6" r="6.5" fill="#d8221c" stroke="#2a1010" stroke-width="0.8"/>
<circle cx="1131.7" cy="1907.6" r="6.0" fill="#d8221c" stroke="#2a1010" stroke-width="0.8"/>
<circle cx="1151.6" cy="1907.6" r="1.0" fill="#8a8a8a"/>
<circle cx="1171.6" cy="1907.6" r="1.0" fill="#8a8a8a"/>
<circle cx="1191.6" cy="1907.6" r="1.0" fill="#8a8a8a"/>
<circle cx="1211.6" cy="1907.6" r="1.0" fill="#8a8a8a"/>
<circle cx="1251.5" cy="1907.6" r="1.0" fill="#8a8a8a"/>
<circle cx="1271.5" cy="1907.6" r="1.0" fill="#8a8a8a"/>
<circle cx="1291.5" cy="1907.6" r="1.0" fill="#8a8a8a"/>
<circle cx="1311.5" cy="1907.6" r="1.0" fill="#8a8a8a"/>
<circle cx="1351.4" cy="1907.6" r="3.5" fill="#fdf6f2" stroke="#555" stroke-width="1.1"/>
<circle cx="1371.4" cy="1907.6" r="1.0" fill="#8a8a8a"/>
<circle cx="1391.4" cy="1907.6" r="1.0" fill="#8a8a8a"/>
<circle cx="1411.4" cy="1907.6" r="1.0" fill="#8a8a8a"/>
<circle cx="1451.3" cy="1907.6" r="1.0" fill="#8a8a8a"/>
<circle cx="1471.3" cy="1907.6" r="1.0" fill="#8a8a8a"/>
<circle cx="1491.3" cy="1907.6" r="1.0" fill="#8a8a8a"/>
<circle cx="1511.3" cy="1907.6" r="1.0" fill="#8a8a8a"/>
<circle cx="1551.2" cy="1907.6" r="1.0" fill="#8a8a8a"/>
<circle cx="1571.2" cy="1907.6" r="7.0" fill="#6e0c0c" stroke="#2a1010" stroke-width="0.8"/>
<circle cx="1591.2" cy="1907.6" r="6.5" fill="#6e0c0c" stroke="#2a1010" stroke-width="0.8"/>
<circle cx="1611.2" cy="1907.6" r="5.5" fill="#6e0c0c" stroke="#2a1010" stroke-width="0.8"/>
<circle cx="1631.2" cy="1907.6" r="5.5" fill="#6e0c0c" stroke="#2a1010" stroke-width="0.8"/>
<circle cx="1651.1" cy="1907.6" r="6.5" fill="#6e0c0c" stroke="#2a1010" stroke-width="0.8"/>
<circle cx="1671.1" cy="1907.6" r="7.0" fill="#6e0c0c" stroke="#2a1010" stroke-width="0.8"/>
<circle cx="1691.1" cy="1907.6" r="5.0" fill="#6e0c0c" stroke="#2a1010" stroke-width="0.8"/>
<circle cx="991.8" cy="1924.7" r="1.0" fill="#8a8a8a"/>
<circle cx="1011.8" cy="1924.7" r="1.0" fill="#8a8a8a"/>
<circle cx="1031.8" cy="1924.7" r="1.0" fill="#8a8a8a"/>
<circle cx="1051.7" cy="1924.7" r="1.0" fill="#8a8a8a"/>
<circle cx="1091.7" cy="1924.7" r="1.0" fill="#8a8a8a"/>
<circle cx="1111.7" cy="1924.7" r="4.5" fill="#f4a582" stroke="#2a1010" stroke-width="0.8"/>
<circle cx="1131.7" cy="1924.7" r="7.0" fill="#6e0c0c" stroke="#2a1010" stroke-width="0.8"/>
<circle cx="1151.6" cy="1924.7" r="1.0" fill="#8a8a8a"/>
<circle cx="1191.6" cy="1924.7" r="1.0" fill="#8a8a8a"/>
<circle cx="1211.6" cy="1924.7" r="1.0" fill="#8a8a8a"/>
<circle cx="1231.6" cy="1924.7" r="1.0" fill="#8a8a8a"/>
<circle cx="1251.5" cy="1924.7" r="1.0" fill="#8a8a8a"/>
<circle cx="1291.5" cy="1924.7" r="1.0" fill="#8a8a8a"/>
<circle cx="1311.5" cy="1924.7" r="1.0" fill="#8a8a8a"/>
<circle cx="1331.5" cy="1924.7" r="2.5" fill="#f4a582" stroke="#2a1010" stroke-width="0.8"/>
<circle cx="1351.4" cy="1924.7" r="4.0" fill="#f4a582" stroke="#2a1010" stroke-width="0.8"/>
<circle cx="1371.4" cy="1924.7" r="2.0" fill="#fdf6f2" stroke="#555" stroke-width="1.1"/>
<circle cx="1391.4" cy="1924.7" r="1.0" fill="#8a8a8a"/>
<circle cx="1411.4" cy="1924.7" r="6.0" fill="#6e0c0c" stroke="#2a1010" stroke-width="0.8"/>
<circle cx="1431.4" cy="1924.7" r="4.5" fill="#6e0c0c" stroke="#2a1010" stroke-width="0.8"/>
<circle cx="1451.3" cy="1924.7" r="6.5" fill="#6e0c0c" stroke="#2a1010" stroke-width="0.8"/>
<circle cx="1471.3" cy="1924.7" r="6.5" fill="#6e0c0c" stroke="#2a1010" stroke-width="0.8"/>
<circle cx="1491.3" cy="1924.7" r="4.5" fill="#6e0c0c" stroke="#2a1010" stroke-width="0.8"/>
<circle cx="1511.3" cy="1924.7" r="5.0" fill="#6e0c0c" stroke="#2a1010" stroke-width="0.8"/>
<circle cx="1531.3" cy="1924.7" r="2.5" fill="#6e0c0c" stroke="#2a1010" stroke-width="0.8"/>
<circle cx="1551.2" cy="1924.7" r="2.5" fill="#6e0c0c" stroke="#2a1010" stroke-width="0.8"/>
<circle cx="1591.2" cy="1924.7" r="1.0" fill="#8a8a8a"/>
<circle cx="1611.2" cy="1924.7" r="1.0" fill="#8a8a8a"/>
<circle cx="1631.2" cy="1924.7" r="1.0" fill="#8a8a8a"/>
<circle cx="1651.1" cy="1924.7" r="1.0" fill="#8a8a8a"/>
<circle cx="1691.1" cy="1924.7" r="2.0" fill="#f4a582" stroke="#2a1010" stroke-width="0.8"/>
<rect x="974.8" y="1787.5" width="732.2" height="154.2" fill="none" stroke="#000" stroke-width="3"/>
<text x="968.0" y="1810.8" font-size="17.7" text-anchor="end">mono</text>
<text x="968.0" y="1827.9" font-size="17.7" text-anchor="end">cDC2</text>
<text x="968.0" y="1845.0" font-size="17.7" text-anchor="end">cDC1</text>
<text x="968.0" y="1862.1" font-size="17.7" text-anchor="end">Kupffer</text>
<text x="968.0" y="1879.2" font-size="17.7" text-anchor="end">erythroblastic island mac</text>
<text x="968.0" y="1896.3" font-size="17.7" text-anchor="end">tissue repair mac</text>
<text x="968.0" y="1913.4" font-size="17.7" text-anchor="end">osteoclast signature</text>
<text x="968.0" y="1930.5" font-size="17.7" text-anchor="end">microglia signature</text>
<text x="998.4" y="1947.8" font-size="19" text-anchor="end" transform="rotate(-90 998.4 1947.8)">FCN1</text>
<text x="1018.4" y="1947.8" font-size="19" text-anchor="end" transform="rotate(-90 1018.4 1947.8)">VCAN</text>
<text x="1038.4" y="1947.8" font-size="19" text-anchor="end" transform="rotate(-90 1038.4 1947.8)">CD1C</text>
<text x="1058.3" y="1947.8" font-size="19" text-anchor="end" transform="rotate(-90 1058.3 1947.8)">CLEC10A</text>
<text x="1078.3" y="1947.8" font-size="19" text-anchor="end" transform="rotate(-90 1078.3 1947.8)">CLEC9A</text>
<text x="1098.3" y="1947.8" font-size="19" text-anchor="end" transform="rotate(-90 1098.3 1947.8)">IDO1</text>
<text x="1118.3" y="1947.8" font-size="19" text-anchor="end" transform="rotate(-90 1118.3 1947.8)">CD68</text>
<text x="1138.3" y="1947.8" font-size="19" text-anchor="end" transform="rotate(-90 1138.3 1947.8)">CSF1R</text>
<text x="1158.2" y="1947.8" font-size="19" text-anchor="end" transform="rotate(-90 1158.2 1947.8)">MARCO</text>
<text x="1178.2" y="1947.8" font-size="19" text-anchor="end" transform="rotate(-90 1178.2 1947.8)">VCAM1</text>
<text x="1198.2" y="1947.8" font-size="19" text-anchor="end" transform="rotate(-90 1198.2 1947.8)">CD5L</text>
<text x="1218.2" y="1947.8" font-size="19" text-anchor="end" transform="rotate(-90 1218.2 1947.8)">CETP</text>
<text x="1238.2" y="1947.8" font-size="19" text-anchor="end" transform="rotate(-90 1238.2 1947.8)">SLC4A1</text>
<text x="1258.1" y="1947.8" font-size="19" text-anchor="end" transform="rotate(-90 1258.1 1947.8)">ALAS2</text>
<text x="1278.1" y="1947.8" font-size="19" text-anchor="end" transform="rotate(-90 1278.1 1947.8)">GYPA</text>
<text x="1298.1" y="1947.8" font-size="19" text-anchor="end" transform="rotate(-90 1298.1 1947.8)">HBG1</text>
<text x="1318.1" y="1947.8" font-size="19" text-anchor="end" transform="rotate(-90 1318.1 1947.8)">F13A1</text>
<text x="1338.1" y="1947.8" font-size="19" text-anchor="end" transform="rotate(-90 1338.1 1947.8)">STAB1</text>
<text x="1358.0" y="1947.8" font-size="19" text-anchor="end" transform="rotate(-90 1358.0 1947.8)">FOLR2</text>
<text x="1378.0" y="1947.8" font-size="19" text-anchor="end" transform="rotate(-90 1378.0 1947.8)">LYVE1</text>
<text x="1398.0" y="1947.8" font-size="19" text-anchor="end" transform="rotate(-90 1398.0 1947.8)">CD163</text>
<text x="1418.0" y="1947.8" font-size="19" text-anchor="end" transform="rotate(-90 1418.0 1947.8)">CX3CR1</text>
<text x="1438.0" y="1947.8" font-size="19" text-anchor="end" transform="rotate(-90 1438.0 1947.8)">P2RY12</text>
<text x="1457.9" y="1947.8" font-size="19" text-anchor="end" transform="rotate(-90 1457.9 1947.8)">C3</text>
<text x="1477.9" y="1947.8" font-size="19" text-anchor="end" transform="rotate(-90 1477.9 1947.8)">OLFML3</text>
<text x="1497.9" y="1947.8" font-size="19" text-anchor="end" transform="rotate(-90 1497.9 1947.8)">HTRA1</text>
<text x="1517.9" y="1947.8" font-size="19" text-anchor="end" transform="rotate(-90 1517.9 1947.8)">TREM2</text>
<text x="1537.9" y="1947.8" font-size="19" text-anchor="end" transform="rotate(-90 1537.9 1947.8)">SALL1</text>
<text x="1557.8" y="1947.8" font-size="19" text-anchor="end" transform="rotate(-90 1557.8 1947.8)">TMEM119</text>
<text x="1577.8" y="1947.8" font-size="19" text-anchor="end" transform="rotate(-90 1577.8 1947.8)">ACP5</text>
<text x="1597.8" y="1947.8" font-size="19" text-anchor="end" transform="rotate(-90 1597.8 1947.8)">CTSK</text>
<text x="1617.8" y="1947.8" font-size="19" text-anchor="end" transform="rotate(-90 1617.8 1947.8)">ATP6V0D2</text>
<text x="1637.8" y="1947.8" font-size="19" text-anchor="end" transform="rotate(-90 1637.8 1947.8)">SIGLEC15</text>
<text x="1657.7" y="1947.8" font-size="19" text-anchor="end" transform="rotate(-90 1657.7 1947.8)">ANPEP</text>
<text x="1677.7" y="1947.8" font-size="19" text-anchor="end" transform="rotate(-90 1677.7 1947.8)">COL1A2</text>
<text x="1697.7" y="1947.8" font-size="19" text-anchor="end" transform="rotate(-90 1697.7 1947.8)">MMP9</text>
<circle cx="1773.0" cy="1838.0" r="3.9" fill="#8a8a8a" stroke="#555" stroke-width="0.8"/>
<circle cx="1796.7" cy="1838.0" r="5.4" fill="#8a8a8a" stroke="#555" stroke-width="0.8"/>
<circle cx="1820.8" cy="1838.0" r="7.4" fill="#8a8a8a" stroke="#555" stroke-width="0.8"/>
<circle cx="1844.8" cy="1838.0" r="9.3" fill="#8a8a8a" stroke="#555" stroke-width="0.8"/>
<circle cx="1868.5" cy="1838.0" r="11.3" fill="#8a8a8a" stroke="#555" stroke-width="0.8"/>
<text x="1825.6" y="1813.5" font-size="18" text-anchor="middle" textLength="56.0" lengthAdjust="spacingAndGlyphs">% cells</text>
<text x="1761.0" y="1873.0" font-size="18" textLength="19.0" lengthAdjust="spacingAndGlyphs">20</text>
<text x="1784.0" y="1873.0" font-size="18" textLength="19.0" lengthAdjust="spacingAndGlyphs">40</text>
<text x="1808.0" y="1873.0" font-size="18" textLength="19.0" lengthAdjust="spacingAndGlyphs">60</text>
<text x="1831.5" y="1873.0" font-size="18" textLength="49.5" lengthAdjust="spacingAndGlyphs">80100</text>
<text x="1823.7" y="1899.3" font-size="18" text-anchor="middle" textLength="135.4" lengthAdjust="spacingAndGlyphs">Mean expression</text>
<rect x="1762.5" y="1907.8" width="121.5" height="15.5" fill="url(#gOrRd2)" stroke="#000" stroke-width="2.4"/>
<text x="1762.5" y="1948.6" font-size="18" text-anchor="middle">0.0</text>
<text x="1822.0" y="1948.6" font-size="18" text-anchor="middle">0.5</text>
<text x="1883.0" y="1948.6" font-size="18" text-anchor="middle">1.0</text>
<text x="13.5" y="2081.0" font-size="29.5">l</text>
<text x="130.0" y="2096.6" font-size="22.5" textLength="265.5" lengthAdjust="spacingAndGlyphs">CellPhoneDB interactions</text>
<circle cx="103.7" cy="2147.4" r="1.4" fill="#555"/>
<circle cx="123.6" cy="2147.4" r="7.0" fill="#6e0c0c" stroke="#2a1010" stroke-width="0.8"/>
<circle cx="143.4" cy="2147.4" r="1.4" fill="#555"/>
<circle cx="103.7" cy="2170.1" r="3.0" fill="#fdf6f2" stroke="#555" stroke-width="1.1"/>
<circle cx="123.6" cy="2170.1" r="9.5" fill="#6e0c0c" stroke="#2a1010" stroke-width="0.8"/>
<circle cx="143.4" cy="2170.1" r="1.4" fill="#555"/>
<circle cx="103.7" cy="2192.9" r="3.5" fill="#fde2c6" stroke="#2a1010" stroke-width="0.8"/>
<circle cx="123.6" cy="2192.9" r="1.0" fill="#8a8a8a"/>
<circle cx="143.4" cy="2192.9" r="8.5" fill="#6e0c0c" stroke="#2a1010" stroke-width="0.8"/>
<circle cx="103.7" cy="2215.6" r="2.5" fill="#fdf6f2" stroke="#555" stroke-width="1.1"/>
<circle cx="123.6" cy="2215.6" r="1.0" fill="#8a8a8a"/>
<circle cx="143.4" cy="2215.6" r="8.0" fill="#6e0c0c" stroke="#2a1010" stroke-width="0.8"/>
<circle cx="103.7" cy="2238.4" r="3.5" fill="#d8221c" stroke="#2a1010" stroke-width="0.8"/>
<circle cx="123.6" cy="2238.4" r="1.4" fill="#555"/>
<circle cx="143.4" cy="2238.4" r="5.0" fill="#6e0c0c" stroke="#2a1010" stroke-width="0.8"/>
<circle cx="103.7" cy="2261.1" r="4.0" fill="#6e0c0c" stroke="#2a1010" stroke-width="0.8"/>
<circle cx="123.6" cy="2261.1" r="1.4" fill="#555"/>
<circle cx="143.4" cy="2261.1" r="3.5" fill="#d8221c" stroke="#2a1010" stroke-width="0.8"/>
<circle cx="103.7" cy="2283.8" r="8.0" fill="#6e0c0c" stroke="#2a1010" stroke-width="0.8"/>
<circle cx="123.6" cy="2283.8" r="2.0" fill="#fdf6f2" stroke="#555" stroke-width="1.1"/>
<circle cx="143.4" cy="2283.8" r="8.0" fill="#6e0c0c" stroke="#2a1010" stroke-width="0.8"/>
<circle cx="103.7" cy="2306.6" r="2.5" fill="#fdf6f2" stroke="#555" stroke-width="1.1"/>
<circle cx="123.6" cy="2306.6" r="4.0" fill="#d8221c" stroke="#2a1010" stroke-width="0.8"/>
<circle cx="143.4" cy="2306.6" r="3.0" fill="#6e0c0c" stroke="#2a1010" stroke-width="0.8"/>
<circle cx="103.7" cy="2329.3" r="1.6" fill="#6e0c0c" stroke="#2a1010" stroke-width="0.8"/>
<circle cx="123.6" cy="2329.3" r="2.0" fill="#fdf6f2" stroke="#555" stroke-width="1.1"/>
<circle cx="143.4" cy="2329.3" r="2.0" fill="#6e0c0c" stroke="#2a1010" stroke-width="0.8"/>
<rect x="87.3" y="2124.8" width="72.5" height="227.5" fill="none" stroke="#000" stroke-width="2.6"/>
<text x="168.9" y="2153.2" font-size="18.5">COL1A2</text>
<text x="168.9" y="2175.9" font-size="18.5">MMP9</text>
<text x="168.9" y="2198.7" font-size="18.5">TREM2</text>
<text x="168.9" y="2221.4" font-size="18.5">P2RY12</text>
<text x="168.9" y="2244.2" font-size="18.5">MERTK</text>
<text x="168.9" y="2266.9" font-size="18.5">AXL</text>
<text x="168.9" y="2289.6" font-size="18.5">CYBB</text>
<text x="168.9" y="2312.4" font-size="18.5">BECN1</text>
<text x="168.9" y="2335.1" font-size="18.5">MTOR</text>
<text x="110.3" y="2356.5" font-size="19" text-anchor="end" transform="rotate(-90 110.3 2356.5)">tissue repair mac</text>
<text x="130.4" y="2356.5" font-size="19" text-anchor="end" transform="rotate(-90 130.4 2356.5)">SIGLEC15+ ftM</text>
<text x="150.0" y="2356.5" font-size="19" text-anchor="end" transform="rotate(-90 150.0 2356.5)">TREM2+ ftM</text>
<path d="M244.7,2141.0 L246.6,2145.5 L251.4,2145.8 L247.7,2149.0 L248.8,2153.7 L244.7,2151.2 L240.6,2153.7 L241.7,2149.0 L238.0,2145.8 L242.8,2145.5 Z" fill="#2f96d6"/>
<rect x="232.5" y="2188.5" width="10.0" height="10.0" fill="#d99a40"/>
<rect x="73.0" y="2129.0" width="5.0" height="46.0" fill="#1a9a48"/>
<rect x="73.0" y="2186.7" width="5.0" height="156.0" fill="#2a74c0"/>
<text x="41.0" y="2152.0" font-size="22" text-anchor="middle" transform="rotate(-90 41.0 2152.0)">ECM</text>
<text x="63.0" y="2154.0" font-size="22" text-anchor="middle" transform="rotate(-90 63.0 2154.0)">remodeling</text>
<text x="41.0" y="2270.7" font-size="22" text-anchor="middle" transform="rotate(-90 41.0 2270.7)">phagocytosis</text>
<text x="63.0" y="2265.0" font-size="22" text-anchor="middle" transform="rotate(-90 63.0 2265.0)">signature</text>
<circle cx="382.4" cy="2150.7" r="9.5" fill="#6e0c0c" stroke="#2a1010" stroke-width="0.8"/>
<circle cx="408.9" cy="2150.7" r="6.5" fill="#fde2c6" stroke="#2a1010" stroke-width="0.8"/>
<circle cx="435.5" cy="2150.7" r="7.0" fill="#fde2c6" stroke="#2a1010" stroke-width="0.8"/>
<circle cx="462.0" cy="2150.7" r="5.5" fill="#fde2c6" stroke="#2a1010" stroke-width="0.8"/>
<circle cx="488.5" cy="2150.7" r="6.5" fill="#fde2c6" stroke="#2a1010" stroke-width="0.8"/>
<circle cx="515.0" cy="2150.7" r="5.5" fill="#fde2c6" stroke="#2a1010" stroke-width="0.8"/>
<circle cx="541.6" cy="2150.7" r="7.5" fill="#f4a582" stroke="#2a1010" stroke-width="0.8"/>
<circle cx="568.1" cy="2150.7" r="7.0" fill="#ee7d5c" stroke="#2a1010" stroke-width="0.8"/>
<circle cx="594.6" cy="2150.7" r="6.0" fill="#fde2c6" stroke="#2a1010" stroke-width="0.8"/>
<circle cx="621.2" cy="2150.7" r="8.0" fill="#d8221c" stroke="#2a1010" stroke-width="0.8"/>
<circle cx="647.7" cy="2150.7" r="8.0" fill="#ee7d5c" stroke="#2a1010" stroke-width="0.8"/>
<circle cx="674.2" cy="2150.7" r="5.5" fill="#fdf6f2" stroke="#555" stroke-width="1.1"/>
<circle cx="382.4" cy="2175.9" r="1.0" fill="#8a8a8a"/>
<circle cx="408.9" cy="2175.9" r="1.4" fill="#555"/>
<circle cx="435.5" cy="2175.9" r="1.4" fill="#555"/>
<circle cx="462.0" cy="2175.9" r="1.4" fill="#555"/>
<circle cx="488.5" cy="2175.9" r="1.4" fill="#555"/>
<circle cx="515.0" cy="2175.9" r="1.0" fill="#8a8a8a"/>
<circle cx="541.6" cy="2175.9" r="2.0" fill="#fdf6f2" stroke="#555" stroke-width="1.1"/>
<circle cx="568.1" cy="2175.9" r="1.4" fill="#555"/>
<circle cx="594.6" cy="2175.9" r="1.4" fill="#555"/>
<circle cx="621.2" cy="2175.9" r="5.0" fill="#6e0c0c" stroke="#2a1010" stroke-width="0.8"/>
<circle cx="647.7" cy="2175.9" r="3.5" fill="#ee7d5c" stroke="#2a1010" stroke-width="0.8"/>
<circle cx="674.2" cy="2175.9" r="1.0" fill="#8a8a8a"/>
<circle cx="382.4" cy="2201.1" r="1.4" fill="#555"/>
<circle cx="408.9" cy="2201.1" r="1.0" fill="#8a8a8a"/>
<circle cx="435.5" cy="2201.1" r="1.0" fill="#8a8a8a"/>
<circle cx="462.0" cy="2201.1" r="1.0" fill="#8a8a8a"/>
<circle cx="488.5" cy="2201.1" r="1.4" fill="#555"/>
<circle cx="515.0" cy="2201.1" r="1.4" fill="#555"/>
<circle cx="541.6" cy="2201.1" r="1.4" fill="#555"/>
<circle cx="568.1" cy="2201.1" r="1.0" fill="#8a8a8a"/>
<circle cx="621.2" cy="2201.1" r="1.0" fill="#8a8a8a"/>
<circle cx="647.7" cy="2201.1" r="2.6" fill="#6e0c0c" stroke="#2a1010" stroke-width="0.8"/>
<circle cx="674.2" cy="2201.1" r="1.0" fill="#8a8a8a"/>
<circle cx="382.4" cy="2226.3" r="1.0" fill="#8a8a8a"/>
<circle cx="488.5" cy="2226.3" r="1.0" fill="#8a8a8a"/>
<circle cx="515.0" cy="2226.3" r="1.0" fill="#8a8a8a"/>
<circle cx="541.6" cy="2226.3" r="1.0" fill="#8a8a8a"/>
<circle cx="568.1" cy="2226.3" r="1.0" fill="#8a8a8a"/>
<circle cx="621.2" cy="2226.3" r="1.0" fill="#8a8a8a"/>
<circle cx="647.7" cy="2226.3" r="2.0" fill="#6e0c0c" stroke="#2a1010" stroke-width="0.8"/>
<circle cx="674.2" cy="2226.3" r="1.0" fill="#8a8a8a"/>
<circle cx="382.4" cy="2251.5" r="1.0" fill="#8a8a8a"/>
<circle cx="408.9" cy="2251.5" r="1.4" fill="#555"/>
<circle cx="435.5" cy="2251.5" r="1.0" fill="#8a8a8a"/>
<circle cx="462.0" cy="2251.5" r="1.4" fill="#555"/>
<circle cx="488.5" cy="2251.5" r="1.0" fill="#8a8a8a"/>
<circle cx="515.0" cy="2251.5" r="1.0" fill="#8a8a8a"/>
<circle cx="541.6" cy="2251.5" r="1.0" fill="#8a8a8a"/>
<circle cx="568.1" cy="2251.5" r="3.0" fill="#6e0c0c" stroke="#2a1010" stroke-width="0.8"/>
<circle cx="594.6" cy="2251.5" r="2.5" fill="#d8221c" stroke="#2a1010" stroke-width="0.8"/>
<circle cx="621.2" cy="2251.5" r="2.5" fill="#6e0c0c" stroke="#2a1010" stroke-width="0.8"/>
<circle cx="647.7" cy="2251.5" r="1.0" fill="#8a8a8a"/>
<circle cx="674.2" cy="2251.5" r="1.0" fill="#8a8a8a"/>
<circle cx="382.4" cy="2276.6" r="5.5" fill="#fde2c6" stroke="#2a1010" stroke-width="0.8"/>
<circle cx="408.9" cy="2276.6" r="2.5" fill="#fdf6f2" stroke="#555" stroke-width="1.1"/>
<circle cx="435.5" cy="2276.6" r="3.0" fill="#fdf6f2" stroke="#555" stroke-width="1.1"/>
<circle cx="462.0" cy="2276.6" r="4.5" fill="#fde2c6" stroke="#2a1010" stroke-width="0.8"/>
<circle cx="488.5" cy="2276.6" r="7.5" fill="#f4a582" stroke="#2a1010" stroke-width="0.8"/>
<circle cx="515.0" cy="2276.6" r="9.5" fill="#6e0c0c" stroke="#2a1010" stroke-width="0.8"/>
<circle cx="541.6" cy="2276.6" r="8.0" fill="#f4a582" stroke="#2a1010" stroke-width="0.8"/>
<circle cx="568.1" cy="2276.6" r="4.5" fill="#fde2c6" stroke="#2a1010" stroke-width="0.8"/>
<circle cx="594.6" cy="2276.6" r="2.5" fill="#fdf6f2" stroke="#555" stroke-width="1.1"/>
<circle cx="621.2" cy="2276.6" r="4.5" fill="#fde2c6" stroke="#2a1010" stroke-width="0.8"/>
<circle cx="647.7" cy="2276.6" r="5.0" fill="#fde2c6" stroke="#2a1010" stroke-width="0.8"/>
<circle cx="674.2" cy="2276.6" r="5.0" fill="#fde2c6" stroke="#2a1010" stroke-width="0.8"/>
<circle cx="382.4" cy="2301.8" r="4.5" fill="#fde2c6" stroke="#2a1010" stroke-width="0.8"/>
<circle cx="408.9" cy="2301.8" r="1.4" fill="#555"/>
<circle cx="435.5" cy="2301.8" r="2.0" fill="#fdf6f2" stroke="#555" stroke-width="1.1"/>
<circle cx="462.0" cy="2301.8" r="2.0" fill="#fdf6f2" stroke="#555" stroke-width="1.1"/>
<circle cx="488.5" cy="2301.8" r="7.5" fill="#d8221c" stroke="#2a1010" stroke-width="0.8"/>
<circle cx="515.0" cy="2301.8" r="9.0" fill="#6e0c0c" stroke="#2a1010" stroke-width="0.8"/>
<circle cx="541.6" cy="2301.8" r="5.5" fill="#fde2c6" stroke="#2a1010" stroke-width="0.8"/>
<circle cx="568.1" cy="2301.8" r="2.5" fill="#fdf6f2" stroke="#555" stroke-width="1.1"/>
<circle cx="594.6" cy="2301.8" r="1.4" fill="#555"/>
<circle cx="621.2" cy="2301.8" r="4.0" fill="#fde2c6" stroke="#2a1010" stroke-width="0.8"/>
<circle cx="647.7" cy="2301.8" r="4.0" fill="#fde2c6" stroke="#2a1010" stroke-width="0.8"/>
<circle cx="674.2" cy="2301.8" r="3.0" fill="#fdf6f2" stroke="#555" stroke-width="1.1"/>
<circle cx="382.4" cy="2327.0" r="9.0" fill="#d8221c" stroke="#2a1010" stroke-width="0.8"/>
<circle cx="408.9" cy="2327.0" r="7.5" fill="#fde2c6" stroke="#2a1010" stroke-width="0.8"/>
<circle cx="435.5" cy="2327.0" r="6.0" fill="#fde2c6" stroke="#2a1010" stroke-width="0.8"/>
<circle cx="462.0" cy="2327.0" r="3.5" fill="#fdf6f2" stroke="#555" stroke-width="1.1"/>
<circle cx="488.5" cy="2327.0" r="2.0" fill="#fdf6f2" stroke="#555" stroke-width="1.1"/>
<circle cx="515.0" cy="2327.0" r="4.5" fill="#fde2c6" stroke="#2a1010" stroke-width="0.8"/>
<circle cx="541.6" cy="2327.0" r="9.5" fill="#6e0c0c" stroke="#2a1010" stroke-width="0.8"/>
<circle cx="568.1" cy="2327.0" r="5.0" fill="#fde2c6" stroke="#2a1010" stroke-width="0.8"/>
<circle cx="594.6" cy="2327.0" r="5.0" fill="#fde2c6" stroke="#2a1010" stroke-width="0.8"/>
<circle cx="621.2" cy="2327.0" r="7.5" fill="#ee7d5c" stroke="#2a1010" stroke-width="0.8"/>
<circle cx="647.7" cy="2327.0" r="3.5" fill="#fdf6f2" stroke="#555" stroke-width="1.1"/>
<circle cx="674.2" cy="2327.0" r="4.0" fill="#fde2c6" stroke="#2a1010" stroke-width="0.8"/>
<rect x="360.7" y="2126.0" width="335.3" height="225.5" fill="none" stroke="#000" stroke-width="2.6"/>
<text x="351.6" y="2157.0" font-size="19.0" text-anchor="end">ITGB1</text>
<path d="M286.0,2143.7 L287.9,2148.2 L292.7,2148.5 L289.0,2151.7 L290.1,2156.4 L286.0,2153.8 L281.9,2156.4 L283.0,2151.7 L279.3,2148.5 L284.1,2148.2 Z" fill="#2f96d6"/>
<text x="351.6" y="2182.2" font-size="19.0" text-anchor="end">ITGA1</text>
<path d="M286.0,2168.9 L287.9,2173.3 L292.7,2173.7 L289.0,2176.9 L290.1,2181.6 L286.0,2179.0 L281.9,2181.6 L283.0,2176.9 L279.3,2173.7 L284.1,2173.3 Z" fill="#2f96d6"/>
<text x="351.6" y="2207.4" font-size="19.0" text-anchor="end">ITGA2</text>
<path d="M289.0,2194.1 L290.9,2198.5 L295.7,2198.9 L292.0,2202.1 L293.1,2206.7 L289.0,2204.2 L284.9,2206.7 L286.0,2202.1 L282.3,2198.9 L287.1,2198.5 Z" fill="#2f96d6"/>
<text x="351.6" y="2232.6" font-size="19.0" text-anchor="end">ITGA10</text>
<path d="M279.0,2219.3 L280.9,2223.7 L285.7,2224.1 L282.0,2227.2 L283.1,2231.9 L279.0,2229.4 L274.9,2231.9 L276.0,2227.2 L272.3,2224.1 L277.1,2223.7 Z" fill="#2f96d6"/>
<text x="351.6" y="2257.8" font-size="19.0" text-anchor="end">ITGA11</text>
<path d="M279.0,2244.5 L280.9,2248.9 L285.7,2249.3 L282.0,2252.4 L283.1,2257.1 L279.0,2254.6 L274.9,2257.1 L276.0,2252.4 L272.3,2249.3 L277.1,2248.9 Z" fill="#2f96d6"/>
<text x="351.6" y="2282.9" font-size="19.0" text-anchor="end">APOA1</text>
<rect x="277.5" y="2271.6" width="10.0" height="10.0" fill="#d99a40"/>
<text x="351.6" y="2308.1" font-size="19.0" text-anchor="end">CLU</text>
<rect x="297.0" y="2296.8" width="10.0" height="10.0" fill="#d99a40"/>
<text x="351.6" y="2333.3" font-size="19.0" text-anchor="end">APOE</text>
<rect x="286.5" y="2322.0" width="10.0" height="10.0" fill="#d99a40"/>
<text x="389.0" y="2359.7" font-size="19" text-anchor="end" transform="rotate(-90 389.0 2359.7)">GermCells</text>
<text x="415.5" y="2359.7" font-size="19" text-anchor="end" transform="rotate(-90 415.5 2359.7)">early somatic</text>
<text x="442.1" y="2359.7" font-size="19" text-anchor="end" transform="rotate(-90 442.1 2359.7)">ESGC</text>
<text x="468.6" y="2359.7" font-size="19" text-anchor="end" transform="rotate(-90 468.6 2359.7)">early sPAX8</text>
<text x="495.1" y="2359.7" font-size="19" text-anchor="end" transform="rotate(-90 495.1 2359.7)">late sPAX8</text>
<text x="521.6" y="2359.7" font-size="19" text-anchor="end" transform="rotate(-90 521.6 2359.7)">Sertoli</text>
<text x="548.2" y="2359.7" font-size="19" text-anchor="end" transform="rotate(-90 548.2 2359.7)">FetalLeydig</text>
<text x="574.7" y="2359.7" font-size="19" text-anchor="end" transform="rotate(-90 574.7 2359.7)">Ti</text>
<text x="601.2" y="2359.7" font-size="19" text-anchor="end" transform="rotate(-90 601.2 2359.7)">Gi</text>
<text x="627.8" y="2359.7" font-size="19" text-anchor="end" transform="rotate(-90 627.8 2359.7)">PV</text>
<text x="654.3" y="2359.7" font-size="19" text-anchor="end" transform="rotate(-90 654.3 2359.7)">Endothelial</text>
<text x="680.8" y="2359.7" font-size="19" text-anchor="end" transform="rotate(-90 680.8 2359.7)">Immune</text>
<circle cx="216.0" cy="2398.6" r="3.3" fill="#8a8a8a" stroke="#555" stroke-width="0.8"/>
<circle cx="239.8" cy="2398.6" r="5.3" fill="#8a8a8a" stroke="#555" stroke-width="0.8"/>
<circle cx="263.5" cy="2398.6" r="7.4" fill="#8a8a8a" stroke="#555" stroke-width="0.8"/>
<circle cx="288.0" cy="2398.6" r="9.4" fill="#8a8a8a" stroke="#555" stroke-width="0.8"/>
<circle cx="312.3" cy="2398.6" r="11.5" fill="#8a8a8a" stroke="#555" stroke-width="0.8"/>
<text x="268.3" y="2384.0" font-size="18" text-anchor="middle" textLength="55.4" lengthAdjust="spacingAndGlyphs">% cells</text>
<text x="205.0" y="2437.5" font-size="18" textLength="19.0" lengthAdjust="spacingAndGlyphs">20</text>
<text x="229.0" y="2437.5" font-size="18" textLength="19.0" lengthAdjust="spacingAndGlyphs">40</text>
<text x="253.0" y="2437.5" font-size="18" textLength="19.0" lengthAdjust="spacingAndGlyphs">60</text>
<text x="276.5" y="2437.5" font-size="18" textLength="47.3" lengthAdjust="spacingAndGlyphs">80100</text>
<text x="266.4" y="2463.4" font-size="18" text-anchor="middle" textLength="135.2" lengthAdjust="spacingAndGlyphs">Mean expression</text>
<rect x="205.0" y="2473.0" width="120.8" height="16.6" fill="url(#gOrRd2)" stroke="#000" stroke-width="2.4"/>
<text x="205.0" y="2511.3" font-size="18" text-anchor="middle">0.0</text>
<text x="264.3" y="2511.3" font-size="18" text-anchor="middle">0.5</text>
<text x="325.0" y="2511.3" font-size="18" text-anchor="middle">1.0</text>
<text x="886.5" y="2081.0" font-size="29.5">m</text>
<text x="1244.4" y="2101.8" font-size="22" text-anchor="middle" textLength="178.7" lengthAdjust="spacingAndGlyphs">immunoregulatory</text>
<text x="1244.3" y="2122.0" font-size="22" text-anchor="middle" textLength="92.5" lengthAdjust="spacingAndGlyphs">signature</text>
<rect x="992.8" y="2130.6" width="487.2" height="6.8" fill="#111"/>
<circle cx="1001.0" cy="2173.9" r="1.4" fill="#555"/>
<circle cx="1030.3" cy="2173.9" r="1.0" fill="#8a8a8a"/>
<circle cx="1059.6" cy="2173.9" r="3.5" fill="#f4a582" stroke="#2a1010" stroke-width="0.8"/>
<circle cx="1088.8" cy="2173.9" r="3.5" fill="#6e0c0c" stroke="#2a1010" stroke-width="0.8"/>
<circle cx="1118.1" cy="2173.9" r="4.0" fill="#fdf6f2" stroke="#555" stroke-width="1.1"/>
<circle cx="1147.4" cy="2173.9" r="5.0" fill="#f4a582" stroke="#2a1010" stroke-width="0.8"/>
<circle cx="1176.7" cy="2173.9" r="2.6" fill="#f4a582" stroke="#2a1010" stroke-width="0.8"/>
<circle cx="1206.0" cy="2173.9" r="2.0" fill="#6e0c0c" stroke="#2a1010" stroke-width="0.8"/>
<circle cx="1235.2" cy="2173.9" r="3.0" fill="#6e0c0c" stroke="#2a1010" stroke-width="0.8"/>
<circle cx="1264.5" cy="2173.9" r="2.6" fill="#6e0c0c" stroke="#2a1010" stroke-width="0.8"/>
<circle cx="1293.8" cy="2173.9" r="1.0" fill="#8a8a8a"/>
<circle cx="1323.1" cy="2173.9" r="2.6" fill="#6e0c0c" stroke="#2a1010" stroke-width="0.8"/>
<circle cx="1352.4" cy="2173.9" r="7.0" fill="#d8221c" stroke="#2a1010" stroke-width="0.8"/>
<circle cx="1381.6" cy="2173.9" r="1.4" fill="#555"/>
<circle cx="1410.9" cy="2173.9" r="8.0" fill="#fdf6f2" stroke="#555" stroke-width="1.1"/>
<circle cx="1440.2" cy="2173.9" r="1.0" fill="#8a8a8a"/>
<circle cx="1469.5" cy="2173.9" r="4.0" fill="#f4a582" stroke="#2a1010" stroke-width="0.8"/>
<circle cx="1001.0" cy="2197.0" r="1.4" fill="#555"/>
<circle cx="1059.6" cy="2197.0" r="1.0" fill="#8a8a8a"/>
<circle cx="1088.8" cy="2197.0" r="1.4" fill="#555"/>
<circle cx="1118.1" cy="2197.0" r="7.0" fill="#6e0c0c" stroke="#2a1010" stroke-width="0.8"/>
<circle cx="1147.4" cy="2197.0" r="6.0" fill="#fdf6f2" stroke="#555" stroke-width="1.1"/>
<circle cx="1176.7" cy="2197.0" r="3.0" fill="#fdf6f2" stroke="#555" stroke-width="1.1"/>
<circle cx="1206.0" cy="2197.0" r="1.0" fill="#8a8a8a"/>
<circle cx="1235.2" cy="2197.0" r="4.5" fill="#fdf6f2" stroke="#555" stroke-width="1.1"/>
<circle cx="1264.5" cy="2197.0" r="3.0" fill="#fdf6f2" stroke="#555" stroke-width="1.1"/>
<circle cx="1293.8" cy="2197.0" r="1.0" fill="#8a8a8a"/>
<circle cx="1323.1" cy="2197.0" r="1.0" fill="#8a8a8a"/>
<circle cx="1352.4" cy="2197.0" r="3.5" fill="#fdf6f2" stroke="#555" stroke-width="1.1"/>
<circle cx="1381.6" cy="2197.0" r="1.4" fill="#555"/>
<circle cx="1410.9" cy="2197.0" r="10.0" fill="#d8221c" stroke="#2a1010" stroke-width="0.8"/>
<circle cx="1440.2" cy="2197.0" r="9.0" fill="#6e0c0c" stroke="#2a1010" stroke-width="0.8"/>
<circle cx="1469.5" cy="2197.0" r="1.0" fill="#8a8a8a"/>
<circle cx="1001.0" cy="2220.0" r="1.4" fill="#555"/>
<circle cx="1030.3" cy="2220.0" r="1.4" fill="#555"/>
<circle cx="1059.6" cy="2220.0" r="7.5" fill="#6e0c0c" stroke="#2a1010" stroke-width="0.8"/>
<circle cx="1088.8" cy="2220.0" r="1.4" fill="#555"/>
<circle cx="1118.1" cy="2220.0" r="5.5" fill="#6e0c0c" stroke="#2a1010" stroke-width="0.8"/>
<circle cx="1147.4" cy="2220.0" r="7.5" fill="#6e0c0c" stroke="#2a1010" stroke-width="0.8"/>
<circle cx="1176.7" cy="2220.0" r="4.0" fill="#6e0c0c" stroke="#2a1010" stroke-width="0.8"/>
<circle cx="1206.0" cy="2220.0" r="1.0" fill="#8a8a8a"/>
<circle cx="1235.2" cy="2220.0" r="3.0" fill="#fdf6f2" stroke="#555" stroke-width="1.1"/>
<circle cx="1264.5" cy="2220.0" r="2.6" fill="#ee7d5c" stroke="#2a1010" stroke-width="0.8"/>
<circle cx="1293.8" cy="2220.0" r="1.4" fill="#555"/>
<circle cx="1323.1" cy="2220.0" r="3.0" fill="#6e0c0c" stroke="#2a1010" stroke-width="0.8"/>
<circle cx="1352.4" cy="2220.0" r="7.5" fill="#6e0c0c" stroke="#2a1010" stroke-width="0.8"/>
<circle cx="1381.6" cy="2220.0" r="1.0" fill="#8a8a8a"/>
<circle cx="1410.9" cy="2220.0" r="10.0" fill="#6e0c0c" stroke="#2a1010" stroke-width="0.8"/>
<circle cx="1469.5" cy="2220.0" r="10.0" fill="#6e0c0c" stroke="#2a1010" stroke-width="0.8"/>
<rect x="977.5" y="2149.9" width="516.0" height="93.1" fill="none" stroke="#000" stroke-width="2.6"/>
<text x="972.0" y="2179.7" font-size="17.7" text-anchor="end">tissue repair mac</text>
<text x="972.0" y="2202.8" font-size="17.7" text-anchor="end">SIGLEC15+ ftM</text>
<text x="972.0" y="2225.8" font-size="17.7" text-anchor="end">TREM2+ ftM</text>
<text x="1007.6" y="2249.0" font-size="19" text-anchor="end" transform="rotate(-90 1007.6 2249.0)">CD274</text>
<text x="1036.9" y="2249.0" font-size="19" text-anchor="end" transform="rotate(-90 1036.9 2249.0)">PDCD1</text>
<text x="1066.2" y="2249.0" font-size="19" text-anchor="end" transform="rotate(-90 1066.2 2249.0)">ENTPD1</text>
<text x="1095.4" y="2249.0" font-size="19" text-anchor="end" transform="rotate(-90 1095.4 2249.0)">CD200R1</text>
<text x="1124.7" y="2249.0" font-size="19" text-anchor="end" transform="rotate(-90 1124.7 2249.0)">LGALS9</text>
<text x="1154.0" y="2249.0" font-size="19" text-anchor="end" transform="rotate(-90 1154.0 2249.0)">HAVCR2</text>
<text x="1183.3" y="2249.0" font-size="19" text-anchor="end" transform="rotate(-90 1183.3 2249.0)">CD276</text>
<text x="1212.6" y="2249.0" font-size="19" text-anchor="end" transform="rotate(-90 1212.6 2249.0)">CD38</text>
<text x="1241.8" y="2249.0" font-size="19" text-anchor="end" transform="rotate(-90 1241.8 2249.0)">CD55</text>
<text x="1271.1" y="2249.0" font-size="19" text-anchor="end" transform="rotate(-90 1271.1 2249.0)">TNFSF13</text>
<text x="1300.4" y="2249.0" font-size="19" text-anchor="end" transform="rotate(-90 1300.4 2249.0)">TNFSF14</text>
<text x="1329.7" y="2249.0" font-size="19" text-anchor="end" transform="rotate(-90 1329.7 2249.0)">IL10</text>
<text x="1359.0" y="2249.0" font-size="19" text-anchor="end" transform="rotate(-90 1359.0 2249.0)">TGFB1</text>
<text x="1388.2" y="2249.0" font-size="19" text-anchor="end" transform="rotate(-90 1388.2 2249.0)">IL15</text>
<text x="1417.5" y="2249.0" font-size="19" text-anchor="end" transform="rotate(-90 1417.5 2249.0)">SPP1</text>
<text x="1446.8" y="2249.0" font-size="19" text-anchor="end" transform="rotate(-90 1446.8 2249.0)">SIGLEC15</text>
<text x="1476.1" y="2249.0" font-size="19" text-anchor="end" transform="rotate(-90 1476.1 2249.0)">TREM2</text>
<circle cx="1564.0" cy="2154.0" r="3.4" fill="#8a8a8a" stroke="#555" stroke-width="0.8"/>
<circle cx="1588.0" cy="2154.0" r="5.3" fill="#8a8a8a" stroke="#555" stroke-width="0.8"/>
<circle cx="1612.0" cy="2154.0" r="7.2" fill="#8a8a8a" stroke="#555" stroke-width="0.8"/>
<circle cx="1636.0" cy="2154.0" r="9.1" fill="#8a8a8a" stroke="#555" stroke-width="0.8"/>
<circle cx="1660.0" cy="2154.0" r="11.0" fill="#8a8a8a" stroke="#555" stroke-width="0.8"/>
<text x="1616.4" y="2138.8" font-size="18" text-anchor="middle" textLength="56.7" lengthAdjust="spacingAndGlyphs">% cells</text>
<text x="1553.6" y="2194.0" font-size="18" textLength="19.0" lengthAdjust="spacingAndGlyphs">20</text>
<text x="1577.0" y="2194.0" font-size="18" textLength="19.0" lengthAdjust="spacingAndGlyphs">40</text>
<text x="1601.0" y="2194.0" font-size="18" textLength="19.0" lengthAdjust="spacingAndGlyphs">60</text>
<text x="1624.5" y="2194.0" font-size="18" textLength="47.5" lengthAdjust="spacingAndGlyphs">80100</text>
<text x="1614.9" y="2220.4" font-size="18" text-anchor="middle" textLength="135.7" lengthAdjust="spacingAndGlyphs">Mean expression</text>
<rect x="1554.5" y="2227.6" width="121.0" height="17.8" fill="url(#gOrRd2)" stroke="#000" stroke-width="2.4"/>
<text x="1554.5" y="2268.4" font-size="18" text-anchor="middle">0.0</text>
<text x="1613.0" y="2268.4" font-size="18" text-anchor="middle">0.5</text>
<text x="1675.0" y="2268.4" font-size="18" text-anchor="middle">1.0</text>
<path d="M446 162L488 162M669 164.5L711 164.5M524.4 1303.7L524.4 1308.7M548 1303.7L548 1308.7M571.8 1303.7L571.8 1308.7M595.8 1303.7L595.8 1308.7M619.6 1303.7L619.6 1308.7M514.7 1378.6L514.7 1383.6M575.2 1378.6L575.2 1383.6M635.1 1378.6L635.1 1383.6M460 1511.6L460 1516.6M482.7 1511.6L482.7 1516.6M505 1511.6L505 1516.6M527.4 1511.6L527.4 1516.6M550 1511.6L550 1516.6M452 1590.8L452 1595.8M508 1590.8L508 1595.8M565 1590.8L565 1595.8M1773 1849.6L1773 1854.6M1796.7 1849.6L1796.7 1854.6M1820.8 1849.6L1820.8 1854.6M1844.8 1849.6L1844.8 1854.6M1868.5 1849.6L1868.5 1854.6M1762.5 1923.3L1762.5 1928.3M1822 1923.3L1822 1928.3M1883 1923.3L1883 1928.3M216 2413L216 2418M239.8 2413L239.8 2418M263.5 2413L263.5 2418M288 2413L288 2418M312.3 2413L312.3 2418M205 2489.6L205 2494.6M264.3 2489.6L264.3 2494.6M325 2489.6L325 2494.6M1564 2169L1564 2174M1588 2169L1588 2174M1612 2169L1612 2174M1636 2169L1636 2174M1660 2169L1660 2174M1554.5 2245.4L1554.5 2250.4M1613 2245.4L1613 2250.4M1675 2245.4L1675 2250.4" stroke="#000" stroke-width="2.2" fill="none"/>
<path d="M1264 84L1273 84M1264 141L1273 141M1264 200L1273 200M1264 258L1273 258M1264 315L1273 315M1264 367L1273 367M1273 375L1273 383M1331 375L1331 383M1389 375L1389 383M1447 375L1447 383M1504 375L1504 383M1562 375L1562 383M1651 86L1660 86M1651 143L1660 143M1651 202L1660 202M1651 260L1660 260M1651 318L1660 318M1651 371L1660 371M1707 375L1707 381M1709 375L1709 381M1711 375L1711 381M1714 375L1714 381M1716 375L1716 381M1718 375L1718 381M1720 375L1720 381M1264 475L1273 475M1264 532L1273 532M1264 591L1273 591M1264 649L1273 649M1264 706L1273 706M1264 759L1273 759M1274 766L1274 774M1332 766L1332 774M1390 766L1390 774M1448 766L1448 774M1505 766L1505 774M1563 766L1563 774M1651 476L1660 476M1651 533L1660 533M1651 591L1660 591M1651 649L1660 649M1651 706L1660 706M1651 760L1660 760M1690 766L1690 774M1747 766L1747 774M1817.3 766L1817.3 774M1878.8 766L1878.8 774M1936.3 766L1936.3 774M1716 766L1716 772M1718 766L1718 772M1720 766L1720 772M1722 766L1722 772M1724 766L1724 772M146 1531L151.7 1531M146 1548.7L151.7 1548.7M170.6 1566.8L170.6 1571M195.3 1566.8L195.3 1571M219.6 1566.8L219.6 1571M243.6 1566.8L243.6 1571M267.9 1566.8L267.9 1571M292.2 1566.8L292.2 1571M316.5 1566.8L316.5 1571M159.8 2147.4L164.5 2147.4M159.8 2170.1L164.5 2170.1M159.8 2192.9L164.5 2192.9M159.8 2215.6L164.5 2215.6M159.8 2238.4L164.5 2238.4M159.8 2261.1L164.5 2261.1M159.8 2283.8L164.5 2283.8M159.8 2306.6L164.5 2306.6M159.8 2329.3L164.5 2329.3M103.7 2352.3L103.7 2356.5M123.8 2352.3L123.8 2356.5M143.4 2352.3L143.4 2356.5M356 2150.7L360.7 2150.7M356 2175.9L360.7 2175.9M356 2201.1L360.7 2201.1M356 2226.3L360.7 2226.3M356 2251.5L360.7 2251.5M356 2276.6L360.7 2276.6M356 2301.8L360.7 2301.8M356 2327L360.7 2327M382.4 2351.5L382.4 2356M408.9 2351.5L408.9 2356M435.5 2351.5L435.5 2356M462 2351.5L462 2356M488.5 2351.5L488.5 2356M515 2351.5L515 2356M541.6 2351.5L541.6 2356M568.1 2351.5L568.1 2356M594.6 2351.5L594.6 2356M621.2 2351.5L621.2 2356M647.7 2351.5L647.7 2356M674.2 2351.5L674.2 2356M972.5 2173.9L977.5 2173.9M972.5 2197L977.5 2197M972.5 2220L977.5 2220M1001 2243L1001 2247.5M1030.3 2243L1030.3 2247.5M1059.6 2243L1059.6 2247.5M1088.8 2243L1088.8 2247.5M1118.1 2243L1118.1 2247.5M1147.4 2243L1147.4 2247.5M1176.7 2243L1176.7 2247.5M1206 2243L1206 2247.5M1235.2 2243L1235.2 2247.5M1264.5 2243L1264.5 2247.5M1293.8 2243L1293.8 2247.5M1323.1 2243L1323.1 2247.5M1352.4 2243L1352.4 2247.5M1381.6 2243L1381.6 2247.5M1410.9 2243L1410.9 2247.5M1440.2 2243L1440.2 2247.5M1469.5 2243L1469.5 2247.5" stroke="#000" stroke-width="2" fill="none"/>
<path d="M1269 84L1273 84M1269 95.3L1273 95.3M1269 106.6L1273 106.6M1269 117.9L1273 117.9M1269 129.2L1273 129.2M1269 140.5L1273 140.5M1269 151.8L1273 151.8M1269 163.1L1273 163.1M1269 174.4L1273 174.4M1269 185.7L1273 185.7M1269 197L1273 197M1269 208.3L1273 208.3M1269 219.6L1273 219.6M1269 230.9L1273 230.9M1269 242.2L1273 242.2M1269 253.5L1273 253.5M1269 264.8L1273 264.8M1269 276.1L1273 276.1M1269 287.4L1273 287.4M1269 298.7L1273 298.7M1269 310L1273 310M1269 321.3L1273 321.3M1269 332.6L1273 332.6M1269 343.9L1273 343.9M1269 355.2L1273 355.2M1269 366.5L1273 366.5M1273 375L1273 379M1284.5 375L1284.5 379M1296.1 375L1296.1 379M1307.7 375L1307.7 379M1319.2 375L1319.2 379M1330.8 375L1330.8 379M1342.3 375L1342.3 379M1353.8 375L1353.8 379M1365.4 375L1365.4 379M1377 375L1377 379M1388.5 375L1388.5 379M1400 375L1400 379M1411.6 375L1411.6 379M1423.2 375L1423.2 379M1434.7 375L1434.7 379M1446.2 375L1446.2 379M1457.8 375L1457.8 379M1469.3 375L1469.3 379M1480.9 375L1480.9 379M1492.5 375L1492.5 379M1504 375L1504 379M1515.5 375L1515.5 379M1527.1 375L1527.1 379M1538.7 375L1538.7 379M1550.2 375L1550.2 379M1561.8 375L1561.8 379M1656 86L1660 86M1656 97.4L1660 97.4M1656 108.8L1660 108.8M1656 120.2L1660 120.2M1656 131.6L1660 131.6M1656 143L1660 143M1656 154.4L1660 154.4M1656 165.8L1660 165.8M1656 177.2L1660 177.2M1656 188.6L1660 188.6M1656 200L1660 200M1656 211.4L1660 211.4M1656 222.8L1660 222.8M1656 234.2L1660 234.2M1656 245.6L1660 245.6M1656 257L1660 257M1656 268.4L1660 268.4M1656 279.8L1660 279.8M1656 291.2L1660 291.2M1656 302.6L1660 302.6M1656 314L1660 314M1656 325.4L1660 325.4M1656 336.8L1660 336.8M1656 348.2L1660 348.2M1656 359.6L1660 359.6M1656 371L1660 371M1665 375L1665 379M1670 375L1670 379M1686 375L1686 379M1692 375L1692 379M1698 375L1698 379M1703 375L1703 379M1708 375L1708 379M1712 375L1712 379M1720 375L1720 379M1724 375L1724 379M1729 375L1729 379M1735 375L1735 379M1742 375L1742 379M1750 375L1750 379M1757 375L1757 379M1763 375L1763 379M1768 375L1768 379M1790 375L1790 379M1800 375L1800 379M1808 375L1808 379M1815 375L1815 379M1820 375L1820 379M1825 375L1825 379M1829 375L1829 379M1833 375L1833 379M1851 375L1851 379M1861 375L1861 379M1868 375L1868 379M1874 375L1874 379M1879 375L1879 379M1883 375L1883 379M1887 375L1887 379M1890 375L1890 379M1908 375L1908 379M1918 375L1918 379M1925 375L1925 379M1931 375L1931 379M1936 375L1936 379M1940 375L1940 379M1944 375L1944 379M1947 375L1947 379M1269 475L1273 475M1269 486.4L1273 486.4M1269 497.9L1273 497.9M1269 509.4L1273 509.4M1269 520.8L1273 520.8M1269 532.2L1273 532.2M1269 543.7L1273 543.7M1269 555.1L1273 555.1M1269 566.6L1273 566.6M1269 578L1273 578M1269 589.5L1273 589.5M1269 601L1273 601M1269 612.4L1273 612.4M1269 623.9L1273 623.9M1269 635.3L1273 635.3M1269 646.8L1273 646.8M1269 658.2L1273 658.2M1269 669.6L1273 669.6M1269 681.1L1273 681.1M1269 692.5L1273 692.5M1269 704L1273 704M1269 715.5L1273 715.5M1269 726.9L1273 726.9M1269 738.3L1273 738.3M1269 749.8L1273 749.8M1269 761.2L1273 761.2M1274 766L1274 770M1285.5 766L1285.5 770M1297.1 766L1297.1 770M1308.7 766L1308.7 770M1320.2 766L1320.2 770M1331.8 766L1331.8 770M1343.3 766L1343.3 770M1354.8 766L1354.8 770M1366.4 766L1366.4 770M1378 766L1378 770M1389.5 766L1389.5 770M1401 766L1401 770M1412.6 766L1412.6 770M1424.2 766L1424.2 770M1435.7 766L1435.7 770M1447.2 766L1447.2 770M1458.8 766L1458.8 770M1470.3 766L1470.3 770M1481.9 766L1481.9 770M1493.5 766L1493.5 770M1505 766L1505 770M1516.5 766L1516.5 770M1528.1 766L1528.1 770M1539.7 766L1539.7 770M1551.2 766L1551.2 770M1562.8 766L1562.8 770M1656 476L1660 476M1656 487.4L1660 487.4M1656 498.8L1660 498.8M1656 510.2L1660 510.2M1656 521.6L1660 521.6M1656 533L1660 533M1656 544.4L1660 544.4M1656 555.8L1660 555.8M1656 567.2L1660 567.2M1656 578.6L1660 578.6M1656 590L1660 590M1656 601.4L1660 601.4M1656 612.8L1660 612.8M1656 624.2L1660 624.2M1656 635.6L1660 635.6M1656 647L1660 647M1656 658.4L1660 658.4M1656 669.8L1660 669.8M1656 681.2L1660 681.2M1656 692.6L1660 692.6M1656 704L1660 704M1656 715.4L1660 715.4M1656 726.8L1660 726.8M1656 738.2L1660 738.2M1656 749.6L1660 749.6M1656 761L1660 761M1690 766L1690 770M1695 766L1695 770M1700 766L1700 770M1704 766L1704 770M1708 766L1708 770M1712 766L1712 770M1716 766L1716 770M1719 766L1719 770M1721 766L1721 770M1724 766L1724 770M1727 766L1727 770M1731 766L1731 770M1735 766L1735 770M1740 766L1740 770M1745 766L1745 770M1750 766L1750 770M1755 766L1755 770M1760 766L1760 770M1790 766L1790 770M1802 766L1802 770M1809 766L1809 770M1814 766L1814 770M1818 766L1818 770M1850 766L1850 770M1862 766L1862 770M1869 766L1869 770M1874 766L1874 770M1878 766L1878 770M1881 766L1881 770M1911 766L1911 770M1923 766L1923 770M1930 766L1930 770M1935 766L1935 770M1939 766L1939 770M1942 766L1942 770" stroke="#000" stroke-width="1" fill="none"/>
<path d="M1663.2 375L1663.2 382M1764.9 375L1764.9 382M1828.2 375L1828.2 382M1883.4 375L1883.4 382M1938.6 375L1938.6 382M771.6 485.7L776 485.7M771.6 536L776 536M771.6 585.8L776 585.8M771.6 637L776 637M771.6 687L776 687M771.6 737L776 737M331.5 1794.8L336 1794.8M331.5 1844.7L336 1844.7M331.5 1900.3L336 1900.3M331.5 1951.5L336 1951.5M698.7 1800L703 1800M698.7 1850.4L703 1850.4M698.7 1901L703 1901M698.7 1952.4L703 1952.4" stroke="#000" stroke-width="1.5" fill="none"/>
<path d="M159.2 885L159.2 1246M176.4 885L176.4 1246M193.6 885L193.6 1246M210.8 885L210.8 1246M228.1 885L228.1 1246M245.3 885L245.3 1246M262.5 885L262.5 1246M279.7 885L279.7 1246M296.9 885L296.9 1246M314.1 885L314.1 1246M331.3 885L331.3 1246M348.5 885L348.5 1246M365.7 885L365.7 1246M382.9 885L382.9 1246M400.2 885L400.2 1246M417.4 885L417.4 1246M434.6 885L434.6 1246M451.8 885L451.8 1246M142 902.2L469 902.2M142 919.4L469 919.4M142 936.6L469 936.6M142 953.8L469 953.8M142 971L469 971M142 988.1L469 988.1M142 1005.3L469 1005.3M142 1022.5L469 1022.5M142 1039.7L469 1039.7M142 1056.9L469 1056.9M142 1074.1L469 1074.1M142 1091.3L469 1091.3M142 1108.5L469 1108.5M142 1125.7L469 1125.7M142 1142.9L469 1142.9M142 1160L469 1160M142 1177.2L469 1177.2M142 1194.4L469 1194.4M142 1211.6L469 1211.6M142 1228.8L469 1228.8" stroke="#8a8070" stroke-width="0.8" fill="none"/>
<path d="M652.5 902.3L656.5 902.3M652.5 918.7L656.5 918.7M652.5 935.1L656.5 935.1M652.5 951.5L656.5 951.5M652.5 967.9L656.5 967.9M652.5 984.3L656.5 984.3M652.5 1000.7L656.5 1000.7M652.5 1017.1L656.5 1017.1M652.5 1033.5L656.5 1033.5M652.5 1049.9L656.5 1049.9M652.5 1066.3L656.5 1066.3M652.5 1082.7L656.5 1082.7M652.5 1099.1L656.5 1099.1M652.5 1115.5L656.5 1115.5M652.5 1131.9L656.5 1131.9M652.5 1148.3L656.5 1148.3M652.5 1164.7L656.5 1164.7M652.5 1181.1L656.5 1181.1M652.5 1197.5L656.5 1197.5M652.5 1213.9L656.5 1213.9M652.5 1230.3L656.5 1230.3M670.2 1246.4L670.2 1250.4M686.9 1246.4L686.9 1250.4M703.6 1246.4L703.6 1250.4M720.3 1246.4L720.3 1250.4M737 1246.4L737 1250.4M753.7 1246.4L753.7 1250.4M770.4 1246.4L770.4 1250.4M787.1 1246.4L787.1 1250.4M803.8 1246.4L803.8 1250.4M820.5 1246.4L820.5 1250.4M837.2 1246.4L837.2 1250.4M853.9 1246.4L853.9 1250.4M870.6 1246.4L870.6 1250.4M887.3 1246.4L887.3 1250.4M904 1246.4L904 1250.4M920.7 1246.4L920.7 1250.4M937.4 1246.4L937.4 1250.4M954.1 1246.4L954.1 1250.4M970.8 1246.4L970.8 1250.4M987.5 1246.4L987.5 1250.4M1004.2 1246.4L1004.2 1250.4M1020.9 1246.4L1020.9 1250.4M1037.6 1246.4L1037.6 1250.4M1054.3 1246.4L1054.3 1250.4M1071 1246.4L1071 1250.4M1087.7 1246.4L1087.7 1250.4M1104.4 1246.4L1104.4 1250.4M1121.1 1246.4L1121.1 1250.4M1137.8 1246.4L1137.8 1250.4M1154.5 1246.4L1154.5 1250.4M1171.2 1246.4L1171.2 1250.4M1187.9 1246.4L1187.9 1250.4M1204.6 1246.4L1204.6 1250.4M1221.3 1246.4L1221.3 1250.4" stroke="#000" stroke-width="1.6" fill="none"/>
<path d="M1385.2 850L1385.2 1277M1385.2 1276L1488.5 1276M1497 1276L1601 1276M1845.7 850L1845.7 1277M1845.7 1276L1903.2 1276" stroke="#000" stroke-width="3" fill="none"/>
<path d="M1381 868L1385 868M1381 965L1385 965M1381 1062.5L1385 1062.5M1381 1160L1385 1160M1381 1257L1385 1257M1394 1277L1394 1281M1408.7 1277L1408.7 1281M1423.2 1277L1423.2 1281M1437.4 1277L1437.4 1281M1452.4 1277L1452.4 1281M1467 1277L1467 1281M1481.6 1277L1481.6 1281M1505.7 1277L1505.7 1281M1519.7 1277L1519.7 1281M1534.4 1277L1534.4 1281M1549 1277L1549 1281M1563.6 1277L1563.6 1281M1578.2 1277L1578.2 1281M1592.7 1277L1592.7 1281M1842 868.5L1845.7 868.5M1842 965.8L1845.7 965.8M1842 1063L1845.7 1063M1842 1160.5L1845.7 1160.5M1842 1257.8L1845.7 1257.8M1856.7 1277L1856.7 1281M1874.7 1277L1874.7 1281M1892.8 1277L1892.8 1281" stroke="#333" stroke-width="1.5" fill="none"/>
<path d="M970 1805L974.8 1805M970 1822.1L974.8 1822.1M970 1839.2L974.8 1839.2M970 1856.3L974.8 1856.3M970 1873.4L974.8 1873.4M970 1890.5L974.8 1890.5M970 1907.6L974.8 1907.6M970 1924.7L974.8 1924.7M991.8 1941.7L991.8 1946M1011.8 1941.7L1011.8 1946M1031.8 1941.7L1031.8 1946M1051.7 1941.7L1051.7 1946M1071.7 1941.7L1071.7 1946M1091.7 1941.7L1091.7 1946M1111.7 1941.7L1111.7 1946M1131.7 1941.7L1131.7 1946M1151.6 1941.7L1151.6 1946M1171.6 1941.7L1171.6 1946M1191.6 1941.7L1191.6 1946M1211.6 1941.7L1211.6 1946M1231.6 1941.7L1231.6 1946M1251.5 1941.7L1251.5 1946M1271.5 1941.7L1271.5 1946M1291.5 1941.7L1291.5 1946M1311.5 1941.7L1311.5 1946M1331.5 1941.7L1331.5 1946M1351.4 1941.7L1351.4 1946M1371.4 1941.7L1371.4 1946M1391.4 1941.7L1391.4 1946M1411.4 1941.7L1411.4 1946M1431.4 1941.7L1431.4 1946M1451.3 1941.7L1451.3 1946M1471.3 1941.7L1471.3 1946M1491.3 1941.7L1491.3 1946M1511.3 1941.7L1511.3 1946M1531.3 1941.7L1531.3 1946M1551.2 1941.7L1551.2 1946M1571.2 1941.7L1571.2 1946M1591.2 1941.7L1591.2 1946M1611.2 1941.7L1611.2 1946M1631.2 1941.7L1631.2 1946M1651.1 1941.7L1651.1 1946M1671.1 1941.7L1671.1 1946M1691.1 1941.7L1691.1 1946" stroke="#000" stroke-width="1.8" fill="none"/>
</svg></body></html>
